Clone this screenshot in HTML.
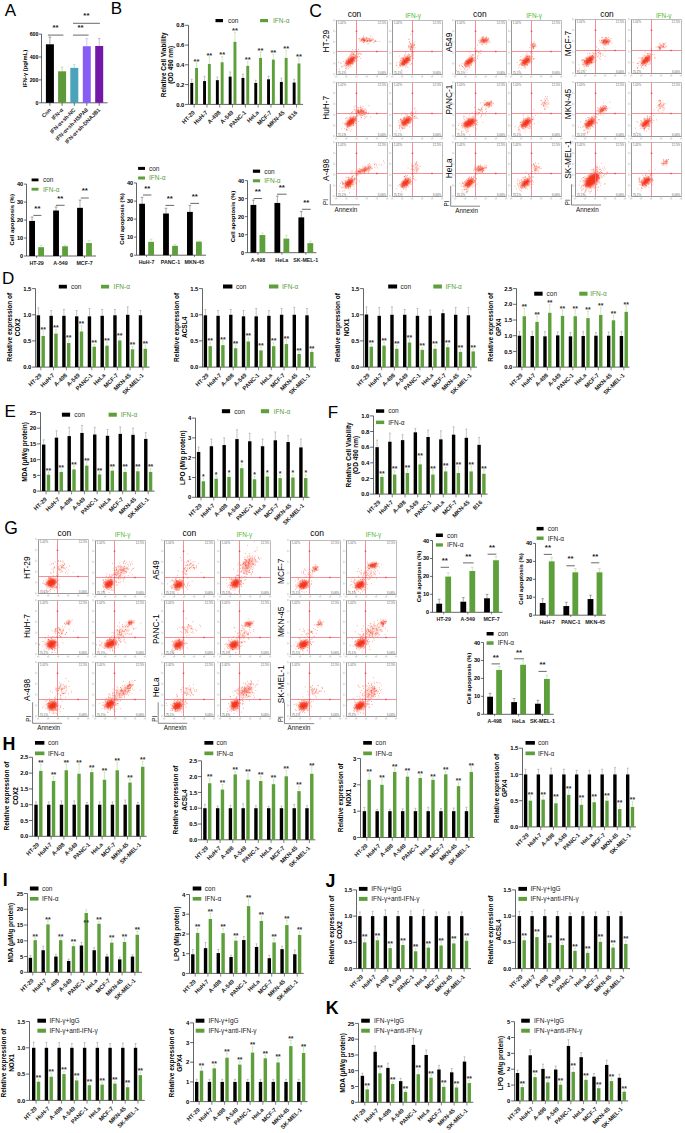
<!DOCTYPE html>
<html><head><meta charset="utf-8"><style>
html,body{margin:0;padding:0;background:#fff;width:685px;height:1133px;overflow:hidden}
svg{display:block}
text{font-family:"Liberation Sans",sans-serif}
</style></head><body>
<svg width="685" height="1133" viewBox="0 0 685 1133" font-family="Liberation Sans, sans-serif">
<defs><filter id="bl" x="-50%" y="-50%" width="200%" height="200%"><feGaussianBlur stdDeviation="0.9"/></filter></defs>
<text x="4.80" y="15.80" font-size="17" fill="#000">A</text>
<path d="M41.5 34.1V102.8H107.6M38.9 102.8H41.5M38.9 79.9H41.5M38.9 57.0H41.5M38.9 34.1H41.5" stroke="#333" stroke-width="0.75" fill="none"/>
<text x="38.30" y="104.67" font-size="5.2" text-anchor="end" font-weight="bold" fill="#000">0</text>
<text x="38.30" y="81.77" font-size="5.2" text-anchor="end" font-weight="bold" fill="#000">200</text>
<text x="38.30" y="58.87" font-size="5.2" text-anchor="end" font-weight="bold" fill="#000">400</text>
<text x="38.30" y="35.97" font-size="5.2" text-anchor="end" font-weight="bold" fill="#000">600</text>
<line x1="49.90" y1="44.29" x2="49.90" y2="37.08" stroke="#666" stroke-width="0.6"/>
<line x1="48.60" y1="37.08" x2="51.20" y2="37.08" stroke="#666" stroke-width="0.6"/>
<rect x="45.90" y="44.29" width="8.00" height="58.51" fill="#000"/>
<line x1="49.90" y1="102.80" x2="49.90" y2="105.80" stroke="#333" stroke-width="0.7"/>
<text x="51.50" y="110.40" font-size="5.5" text-anchor="end" font-weight="bold" fill="#1a1a1a" transform="rotate(-45 51.50 110.40)">Con</text>
<line x1="62.10" y1="71.31" x2="62.10" y2="67.19" stroke="#9fcb85" stroke-width="0.6"/>
<line x1="60.80" y1="67.19" x2="63.40" y2="67.19" stroke="#9fcb85" stroke-width="0.6"/>
<rect x="58.10" y="71.31" width="8.00" height="31.49" fill="#5d9b3a"/>
<line x1="62.10" y1="102.80" x2="62.10" y2="105.80" stroke="#333" stroke-width="0.7"/>
<text x="63.70" y="110.40" font-size="5.5" text-anchor="end" font-weight="bold" fill="#1a1a1a" transform="rotate(-45 63.70 110.40)">IFN-α</text>
<line x1="74.30" y1="67.88" x2="74.30" y2="64.67" stroke="#8fcbd8" stroke-width="0.6"/>
<line x1="73.00" y1="64.67" x2="75.60" y2="64.67" stroke="#8fcbd8" stroke-width="0.6"/>
<rect x="70.30" y="67.88" width="8.00" height="34.92" fill="#4aa3b8"/>
<line x1="74.30" y1="102.80" x2="74.30" y2="105.80" stroke="#333" stroke-width="0.7"/>
<text x="75.90" y="110.40" font-size="5.5" text-anchor="end" font-weight="bold" fill="#1a1a1a" transform="rotate(-45 75.90 110.40)">IFN-α+sh-NC</text>
<line x1="86.80" y1="46.24" x2="86.80" y2="38.57" stroke="#b9a0fb" stroke-width="0.6"/>
<line x1="85.50" y1="38.57" x2="88.10" y2="38.57" stroke="#b9a0fb" stroke-width="0.6"/>
<rect x="82.80" y="46.24" width="8.00" height="56.56" fill="#8a5cf6"/>
<line x1="86.80" y1="102.80" x2="86.80" y2="105.80" stroke="#333" stroke-width="0.7"/>
<text x="88.40" y="110.40" font-size="5.5" text-anchor="end" font-weight="bold" fill="#1a1a1a" transform="rotate(-45 88.40 110.40)">IFN-α+sh-HSPA8</text>
<line x1="99.20" y1="46.01" x2="99.20" y2="38.57" stroke="#b489d4" stroke-width="0.6"/>
<line x1="97.90" y1="38.57" x2="100.50" y2="38.57" stroke="#b489d4" stroke-width="0.6"/>
<rect x="95.20" y="46.01" width="8.00" height="56.79" fill="#7218a8"/>
<line x1="99.20" y1="102.80" x2="99.20" y2="105.80" stroke="#333" stroke-width="0.7"/>
<text x="100.80" y="110.40" font-size="5.5" text-anchor="end" font-weight="bold" fill="#1a1a1a" transform="rotate(-45 100.80 110.40)">IFN-α+sh-DNAJB1</text>
<line x1="47.90" y1="35.10" x2="63.40" y2="35.10" stroke="#444" stroke-width="0.8"/>
<line x1="73.00" y1="35.10" x2="88.60" y2="35.10" stroke="#444" stroke-width="0.8"/>
<line x1="73.00" y1="23.30" x2="99.90" y2="23.30" stroke="#444" stroke-width="0.8"/>
<text x="55.60" y="29.90" font-size="7.8" text-anchor="middle" font-weight="bold" fill="#222">**</text>
<text x="80.60" y="29.90" font-size="7.8" text-anchor="middle" font-weight="bold" fill="#222">**</text>
<text x="86.40" y="18.20" font-size="7.8" text-anchor="middle" font-weight="bold" fill="#222">**</text>
<text x="26.98" y="87.28" font-size="5.8" font-weight="bold" fill="#000" transform="rotate(-90 26.98 87.28)">IFN-γ (pg/mL)</text>
<text x="110.80" y="13.80" font-size="17" fill="#000">B</text>
<path d="M188.5 25.3V104.4H303.1M185.1 104.4H188.5M185.1 84.6H188.5M185.1 64.8H188.5M185.1 45.1H188.5M185.1 25.3H188.5" stroke="#333" stroke-width="0.75" fill="none"/>
<text x="184.40" y="106.52" font-size="5.9" text-anchor="end" font-weight="bold" fill="#000">0.0</text>
<text x="184.40" y="86.75" font-size="5.9" text-anchor="end" font-weight="bold" fill="#000">0.2</text>
<text x="184.40" y="66.97" font-size="5.9" text-anchor="end" font-weight="bold" fill="#000">0.4</text>
<text x="184.40" y="47.20" font-size="5.9" text-anchor="end" font-weight="bold" fill="#000">0.6</text>
<text x="184.40" y="27.42" font-size="5.9" text-anchor="end" font-weight="bold" fill="#000">0.8</text>
<line x1="191.75" y1="82.94" x2="191.75" y2="79.19" stroke="#8a8a8a" stroke-width="0.5"/>
<line x1="190.75" y1="79.19" x2="192.75" y2="79.19" stroke="#8a8a8a" stroke-width="0.5"/>
<rect x="190.30" y="82.94" width="2.90" height="21.46" fill="#000"/>
<line x1="196.55" y1="67.92" x2="196.55" y2="62.87" stroke="#a9d08e" stroke-width="0.5"/>
<line x1="195.55" y1="62.87" x2="197.55" y2="62.87" stroke="#a9d08e" stroke-width="0.5"/>
<rect x="195.10" y="67.92" width="2.90" height="36.48" fill="#5d9f3a"/>
<line x1="194.15" y1="104.40" x2="194.15" y2="107.60" stroke="#333" stroke-width="0.6"/>
<text x="196.55" y="63.57" font-size="7.6" text-anchor="middle" font-weight="bold" fill="#333">**</text>
<text x="195.35" y="113.00" font-size="5.8" text-anchor="end" font-weight="bold" fill="#1a1a1a" transform="rotate(-45 195.35 113.00)">HT-29</text>
<line x1="204.55" y1="81.07" x2="204.55" y2="76.32" stroke="#8a8a8a" stroke-width="0.5"/>
<line x1="203.55" y1="76.32" x2="205.55" y2="76.32" stroke="#8a8a8a" stroke-width="0.5"/>
<rect x="203.10" y="81.07" width="2.90" height="23.33" fill="#000"/>
<line x1="209.35" y1="63.96" x2="209.35" y2="56.94" stroke="#a9d08e" stroke-width="0.5"/>
<line x1="208.35" y1="56.94" x2="210.35" y2="56.94" stroke="#a9d08e" stroke-width="0.5"/>
<rect x="207.90" y="63.96" width="2.90" height="40.44" fill="#5d9f3a"/>
<line x1="206.95" y1="104.40" x2="206.95" y2="107.60" stroke="#333" stroke-width="0.6"/>
<text x="209.35" y="57.64" font-size="7.6" text-anchor="middle" font-weight="bold" fill="#333">**</text>
<text x="208.15" y="113.00" font-size="5.8" text-anchor="end" font-weight="bold" fill="#1a1a1a" transform="rotate(-45 208.15 113.00)">HuH-7</text>
<line x1="217.35" y1="80.18" x2="217.35" y2="77.11" stroke="#8a8a8a" stroke-width="0.5"/>
<line x1="216.35" y1="77.11" x2="218.35" y2="77.11" stroke="#8a8a8a" stroke-width="0.5"/>
<rect x="215.90" y="80.18" width="2.90" height="24.22" fill="#000"/>
<line x1="222.15" y1="62.28" x2="222.15" y2="56.35" stroke="#a9d08e" stroke-width="0.5"/>
<line x1="221.15" y1="56.35" x2="223.15" y2="56.35" stroke="#a9d08e" stroke-width="0.5"/>
<rect x="220.70" y="62.28" width="2.90" height="42.12" fill="#5d9f3a"/>
<line x1="219.75" y1="104.40" x2="219.75" y2="107.60" stroke="#333" stroke-width="0.6"/>
<text x="222.15" y="57.05" font-size="7.6" text-anchor="middle" font-weight="bold" fill="#333">**</text>
<text x="220.95" y="113.00" font-size="5.8" text-anchor="end" font-weight="bold" fill="#1a1a1a" transform="rotate(-45 220.95 113.00)">A-498</text>
<line x1="230.15" y1="76.62" x2="230.15" y2="71.97" stroke="#8a8a8a" stroke-width="0.5"/>
<line x1="229.15" y1="71.97" x2="231.15" y2="71.97" stroke="#8a8a8a" stroke-width="0.5"/>
<rect x="228.70" y="76.62" width="2.90" height="27.78" fill="#000"/>
<line x1="234.95" y1="41.81" x2="234.95" y2="32.22" stroke="#a9d08e" stroke-width="0.5"/>
<line x1="233.95" y1="32.22" x2="235.95" y2="32.22" stroke="#a9d08e" stroke-width="0.5"/>
<rect x="233.50" y="41.81" width="2.90" height="62.59" fill="#5d9f3a"/>
<line x1="232.55" y1="104.40" x2="232.55" y2="107.60" stroke="#333" stroke-width="0.6"/>
<text x="234.95" y="32.92" font-size="7.6" text-anchor="middle" font-weight="bold" fill="#333">**</text>
<text x="233.75" y="113.00" font-size="5.8" text-anchor="end" font-weight="bold" fill="#1a1a1a" transform="rotate(-45 233.75 113.00)">A-549</text>
<line x1="242.95" y1="77.90" x2="242.95" y2="74.14" stroke="#8a8a8a" stroke-width="0.5"/>
<line x1="241.95" y1="74.14" x2="243.95" y2="74.14" stroke="#8a8a8a" stroke-width="0.5"/>
<rect x="241.50" y="77.90" width="2.90" height="26.50" fill="#000"/>
<line x1="247.75" y1="65.84" x2="247.75" y2="61.78" stroke="#a9d08e" stroke-width="0.5"/>
<line x1="246.75" y1="61.78" x2="248.75" y2="61.78" stroke="#a9d08e" stroke-width="0.5"/>
<rect x="246.30" y="65.84" width="2.90" height="38.56" fill="#5d9f3a"/>
<line x1="245.35" y1="104.40" x2="245.35" y2="107.60" stroke="#333" stroke-width="0.6"/>
<text x="247.75" y="62.48" font-size="7.6" text-anchor="middle" font-weight="bold" fill="#333">**</text>
<text x="246.55" y="113.00" font-size="5.8" text-anchor="end" font-weight="bold" fill="#1a1a1a" transform="rotate(-45 246.55 113.00)">PANC-1</text>
<line x1="255.75" y1="82.94" x2="255.75" y2="80.27" stroke="#8a8a8a" stroke-width="0.5"/>
<line x1="254.75" y1="80.27" x2="256.75" y2="80.27" stroke="#8a8a8a" stroke-width="0.5"/>
<rect x="254.30" y="82.94" width="2.90" height="21.46" fill="#000"/>
<line x1="260.55" y1="57.93" x2="260.55" y2="52.00" stroke="#a9d08e" stroke-width="0.5"/>
<line x1="259.55" y1="52.00" x2="261.55" y2="52.00" stroke="#a9d08e" stroke-width="0.5"/>
<rect x="259.10" y="57.93" width="2.90" height="46.47" fill="#5d9f3a"/>
<line x1="258.15" y1="104.40" x2="258.15" y2="107.60" stroke="#333" stroke-width="0.6"/>
<text x="260.55" y="52.70" font-size="7.6" text-anchor="middle" font-weight="bold" fill="#333">**</text>
<text x="259.35" y="113.00" font-size="5.8" text-anchor="end" font-weight="bold" fill="#1a1a1a" transform="rotate(-45 259.35 113.00)">HeLa</text>
<line x1="268.55" y1="79.29" x2="268.55" y2="76.12" stroke="#8a8a8a" stroke-width="0.5"/>
<line x1="267.55" y1="76.12" x2="269.55" y2="76.12" stroke="#8a8a8a" stroke-width="0.5"/>
<rect x="267.10" y="79.29" width="2.90" height="25.11" fill="#000"/>
<line x1="273.35" y1="59.61" x2="273.35" y2="54.07" stroke="#a9d08e" stroke-width="0.5"/>
<line x1="272.35" y1="54.07" x2="274.35" y2="54.07" stroke="#a9d08e" stroke-width="0.5"/>
<rect x="271.90" y="59.61" width="2.90" height="44.79" fill="#5d9f3a"/>
<line x1="270.95" y1="104.40" x2="270.95" y2="107.60" stroke="#333" stroke-width="0.6"/>
<text x="273.35" y="54.77" font-size="7.6" text-anchor="middle" font-weight="bold" fill="#333">**</text>
<text x="272.15" y="113.00" font-size="5.8" text-anchor="end" font-weight="bold" fill="#1a1a1a" transform="rotate(-45 272.15 113.00)">MCF-7</text>
<line x1="281.35" y1="81.96" x2="281.35" y2="78.20" stroke="#8a8a8a" stroke-width="0.5"/>
<line x1="280.35" y1="78.20" x2="282.35" y2="78.20" stroke="#8a8a8a" stroke-width="0.5"/>
<rect x="279.90" y="81.96" width="2.90" height="22.44" fill="#000"/>
<line x1="286.15" y1="57.93" x2="286.15" y2="50.32" stroke="#a9d08e" stroke-width="0.5"/>
<line x1="285.15" y1="50.32" x2="287.15" y2="50.32" stroke="#a9d08e" stroke-width="0.5"/>
<rect x="284.70" y="57.93" width="2.90" height="46.47" fill="#5d9f3a"/>
<line x1="283.75" y1="104.40" x2="283.75" y2="107.60" stroke="#333" stroke-width="0.6"/>
<text x="286.15" y="51.02" font-size="7.6" text-anchor="middle" font-weight="bold" fill="#333">**</text>
<text x="284.95" y="113.00" font-size="5.8" text-anchor="end" font-weight="bold" fill="#1a1a1a" transform="rotate(-45 284.95 113.00)">MKN-45</text>
<line x1="294.15" y1="82.55" x2="294.15" y2="79.29" stroke="#8a8a8a" stroke-width="0.5"/>
<line x1="293.15" y1="79.29" x2="295.15" y2="79.29" stroke="#8a8a8a" stroke-width="0.5"/>
<rect x="292.70" y="82.55" width="2.90" height="21.85" fill="#000"/>
<line x1="298.95" y1="63.47" x2="298.95" y2="57.93" stroke="#a9d08e" stroke-width="0.5"/>
<line x1="297.95" y1="57.93" x2="299.95" y2="57.93" stroke="#a9d08e" stroke-width="0.5"/>
<rect x="297.50" y="63.47" width="2.90" height="40.93" fill="#5d9f3a"/>
<line x1="296.55" y1="104.40" x2="296.55" y2="107.60" stroke="#333" stroke-width="0.6"/>
<text x="298.95" y="58.63" font-size="7.6" text-anchor="middle" font-weight="bold" fill="#333">**</text>
<text x="297.75" y="113.00" font-size="5.8" text-anchor="end" font-weight="bold" fill="#1a1a1a" transform="rotate(-45 297.75 113.00)">B16</text>
<text x="165.74" y="97.18" font-size="6.45" font-weight="bold" fill="#000" transform="rotate(-90 165.74 97.18)">Relative Cell Viability</text>
<text x="173.34" y="83.80" font-size="6.45" font-weight="bold" fill="#000" transform="rotate(-90 173.34 83.80)">(OD 490 nm)</text>
<rect x="215.50" y="19.00" width="7.50" height="3.20" fill="#000"/>
<text x="227.90" y="22.94" font-size="6.5" fill="#1a1a1a">con</text>
<rect x="260.10" y="19.00" width="7.90" height="3.20" fill="#5d9f3a"/>
<text x="273.00" y="22.94" font-size="6.5" fill="#5a9d38">IFN-α</text>
<text x="309.20" y="17.00" font-size="17.5" fill="#000">C</text>
<text x="354.50" y="17.00" font-size="8.4" text-anchor="middle" fill="#000">con</text>
<text x="413.10" y="17.60" font-size="6.4" text-anchor="middle" fill="#4fb82a">IFN-γ</text>
<path d="M336.5 20.5H387.5V74.5" stroke="#b4b4b4" stroke-width="0.9" fill="none"/><path d="M336.5 20.5V74.5H387.5" stroke="#8c8c8c" stroke-width="0.9" fill="none"/>
<path d="M335.2 74.5h1.3M336.5 74.5v1.3M335.2 63.7h1.3M346.7 74.5v1.3M335.2 52.9h1.3M356.9 74.5v1.3M335.2 42.1h1.3M367.1 74.5v1.3M335.2 31.3h1.3M377.3 74.5v1.3M335.2 20.5h1.3M387.5 74.5v1.3" stroke="#aaa" stroke-width="0.4"/>
<path d="M334.9 76.8h2.4M333.9 73.1v2.2M345.1 76.8h2.4M333.9 62.3v2.2M355.3 76.8h2.4M333.9 51.5v2.2M365.5 76.8h2.4M333.9 40.7v2.2M375.7 76.8h2.4M333.9 29.9v2.2M385.9 76.8h2.4M333.9 19.1v2.2" stroke="#c4c4c4" stroke-width="0.9"/>
<g fill="#666" font-size="3"><text x="337.7" y="23.5">1.02%</text><text x="386.3" y="23.5" text-anchor="end">12.5%</text><text x="337.7" y="73.5">75.1%</text><text x="386.3" y="73.5" text-anchor="end">3.06%</text></g>
<ellipse cx="350.3" cy="61.0" rx="6.0" ry="2.8" transform="rotate(-42 350.3 61.0)" fill="#f5361c" fill-opacity="1.0" filter="url(#bl)"/>
<ellipse cx="363.0" cy="39.7" rx="2.0" ry="1.2" transform="rotate(0 363.0 39.7)" fill="#f5361c" fill-opacity="1.0" filter="url(#bl)"/>
<ellipse cx="368.1" cy="39.9" rx="5.0" ry="1.5" transform="rotate(0 368.1 39.9)" fill="#f5361c" fill-opacity="0.25" filter="url(#bl)"/>
<path d="M350.3 62.9h0M348.8 61.1h0M346.4 63.7h0M355.2 58.1h0M354.6 58.0h0M352.1 60.0h0M345.6 68.4h0M353.1 60.3h0M340.7 63.1h0M346.1 63.0h0M351.3 59.9h0M351.0 57.9h0M352.2 60.8h0M351.0 66.7h0M354.6 61.6h0M346.6 61.6h0M348.8 61.9h0M353.1 59.4h0M346.8 60.6h0M350.6 65.3h0M347.7 64.2h0M349.1 56.5h0M352.9 63.5h0M342.1 67.1h0M348.4 59.7h0M352.0 59.2h0M346.3 67.6h0M354.5 60.7h0M356.3 56.9h0M348.3 57.9h0M351.4 57.7h0M346.2 59.9h0M345.7 63.2h0M351.4 52.5h0M345.3 66.4h0M356.7 57.3h0M338.5 62.3h0M350.3 58.3h0M347.9 66.8h0M354.7 57.6h0M352.0 61.1h0M357.4 56.9h0M353.2 60.4h0M346.8 68.9h0M354.8 58.9h0M341.7 66.4h0M350.1 54.5h0M351.5 63.7h0M348.3 68.7h0M352.1 58.8h0M352.7 61.2h0M352.8 62.9h0M347.0 62.4h0M354.2 57.5h0M348.7 65.9h0M354.9 55.1h0M344.9 65.4h0M349.2 60.9h0M353.6 54.2h0M352.7 54.2h0M348.5 64.9h0M356.1 58.9h0M351.8 60.1h0M351.9 61.7h0M350.1 62.2h0M352.4 59.1h0M354.2 59.6h0M358.4 54.9h0M348.0 61.7h0M351.9 62.9h0M349.7 62.9h0M352.4 49.6h0M346.5 65.3h0M352.2 60.1h0M349.9 63.8h0M350.4 59.0h0M360.0 53.5h0M348.0 62.7h0M349.3 61.6h0M339.2 69.2h0M351.9 55.2h0M351.8 63.2h0M356.2 61.2h0M343.2 66.0h0M350.1 63.4h0M349.4 51.8h0M351.7 54.4h0M350.1 55.6h0M353.1 62.8h0M350.1 61.9h0M353.5 58.6h0M352.8 64.4h0M353.7 56.9h0M358.4 49.4h0M353.2 57.4h0M352.1 62.0h0M352.3 61.6h0M341.8 63.1h0M350.8 57.0h0M343.7 61.5h0M356.4 58.3h0M354.1 54.1h0M348.2 58.7h0M356.1 61.7h0M349.8 67.2h0M353.6 57.3h0M345.5 70.5h0M348.8 60.1h0M352.5 60.5h0M354.0 53.9h0M357.3 60.2h0M355.4 55.7h0M355.0 57.1h0M357.2 54.8h0M360.5 53.9h0M351.1 53.6h0M352.2 56.6h0M357.7 53.0h0M356.9 56.6h0M357.1 57.8h0M356.7 57.1h0M360.7 58.5h0M355.2 56.7h0M352.2 51.8h0M352.0 57.2h0M353.8 54.5h0M356.4 54.4h0M355.4 55.1h0M361.4 54.6h0M358.2 57.0h0M356.4 51.4h0M355.5 57.2h0M352.8 53.0h0M359.4 56.5h0M356.9 56.5h0M357.3 51.6h0M353.0 52.9h0M359.2 53.1h0M354.6 52.6h0M353.0 54.2h0M353.9 55.4h0M351.0 55.3h0M355.3 49.7h0M358.7 53.8h0M359.3 38.6h0M363.5 39.1h0M364.3 40.6h0M364.1 40.1h0M365.3 40.5h0M363.8 37.1h0M364.5 41.3h0M362.5 39.1h0M366.3 37.5h0M363.8 42.7h0M361.5 40.5h0M366.2 39.5h0M364.0 40.8h0M361.5 39.6h0M363.5 40.7h0M363.0 39.4h0M363.9 39.4h0M371.9 40.1h0M364.5 38.7h0M379.3 41.6h0M370.8 36.1h0M370.7 40.7h0M375.2 40.6h0M367.8 40.7h0M360.0 41.5h0M369.5 38.9h0M373.7 42.7h0M362.2 38.9h0M369.3 40.2h0M366.4 38.5h0M377.0 41.5h0M363.1 37.9h0M375.3 41.4h0M375.8 41.2h0M364.5 40.3h0M359.0 38.8h0M367.9 40.7h0M365.1 39.8h0M370.0 40.5h0M370.8 40.3h0M366.8 41.1h0M368.3 38.7h0M365.5 39.9h0M367.7 40.2h0M368.1 40.2h0M367.6 38.1h0M369.9 41.5h0M369.9 39.7h0M370.0 38.5h0M360.2 40.0h0M364.2 41.0h0M363.6 36.0h0M363.8 42.3h0M366.5 37.9h0M364.9 40.7h0M370.2 40.2h0M374.4 41.0h0M368.0 40.8h0M375.1 41.4h0M372.4 38.3h0M367.5 41.0h0M366.9 41.5h0M370.6 41.3h0M367.2 43.8h0M373.3 39.6h0M368.5 43.8h0M366.7 41.3h0M372.2 39.9h0M363.2 40.2h0M369.6 41.6h0M371.4 40.0h0M371.7 40.7h0" stroke="#f5361c" stroke-width="0.6" stroke-linecap="round" fill="none" stroke-opacity="0.8"/>
<path d="M356.5 20.5V74.5M336.5 51.5H387.5" stroke="#f2737b" stroke-width="0.8" fill="none"/>
<rect x="355.80" y="30.60" width="1.40" height="1.40" fill="#e8404a"/>
<rect x="376.09" y="50.80" width="1.40" height="1.40" fill="#e8404a"/>
<rect x="355.90" y="50.90" width="1.20" height="1.20" fill="#e8404a"/>
<path d="M392.5 20.5H442.5V74.5" stroke="#b4b4b4" stroke-width="0.9" fill="none"/><path d="M392.5 20.5V74.5H442.5" stroke="#8c8c8c" stroke-width="0.9" fill="none"/>
<path d="M391.2 74.5h1.3M392.5 74.5v1.3M391.2 63.7h1.3M402.5 74.5v1.3M391.2 52.9h1.3M412.5 74.5v1.3M391.2 42.1h1.3M422.5 74.5v1.3M391.2 31.3h1.3M432.5 74.5v1.3M391.2 20.5h1.3M442.5 74.5v1.3" stroke="#aaa" stroke-width="0.4"/>
<path d="M390.9 76.8h2.4M389.9 73.1v2.2M400.9 76.8h2.4M389.9 62.3v2.2M410.9 76.8h2.4M389.9 51.5v2.2M420.9 76.8h2.4M389.9 40.7v2.2M430.9 76.8h2.4M389.9 29.9v2.2M440.9 76.8h2.4M389.9 19.1v2.2" stroke="#c4c4c4" stroke-width="0.9"/>
<g fill="#666" font-size="3"><text x="393.7" y="23.5">1.02%</text><text x="441.3" y="23.5" text-anchor="end">12.5%</text><text x="393.7" y="73.5">75.1%</text><text x="441.3" y="73.5" text-anchor="end">3.06%</text></g>
<ellipse cx="405.5" cy="61.0" rx="6.0" ry="2.8" transform="rotate(-42 405.5 61.0)" fill="#f5361c" fill-opacity="1.0" filter="url(#bl)"/>
<ellipse cx="411.5" cy="46.4" rx="2.5" ry="3.5" transform="rotate(0 411.5 46.4)" fill="#f5361c" fill-opacity="0.15" filter="url(#bl)"/>
<path d="M406.4 60.4h0M405.9 63.2h0M400.4 63.3h0M402.8 58.0h0M400.2 58.4h0M404.0 64.5h0M407.5 59.0h0M402.0 58.9h0M413.3 55.9h0M408.0 55.5h0M401.5 57.9h0M410.1 60.3h0M398.3 67.3h0M404.6 55.3h0M396.7 65.0h0M400.6 60.3h0M406.1 61.4h0M409.2 60.3h0M413.3 58.3h0M399.7 64.4h0M399.5 62.4h0M405.2 61.3h0M404.4 56.1h0M400.8 65.1h0M404.2 61.0h0M403.9 59.7h0M408.8 59.4h0M403.9 59.9h0M399.8 56.0h0M401.9 64.4h0M400.2 66.5h0M403.5 57.7h0M404.0 61.2h0M408.3 60.7h0M403.8 59.4h0M404.8 61.4h0M408.8 59.1h0M400.3 60.7h0M402.7 60.7h0M401.1 64.5h0M403.9 62.9h0M406.7 58.4h0M413.6 52.5h0M409.9 57.5h0M405.3 52.4h0M403.1 64.0h0M412.1 63.7h0M409.1 62.5h0M410.1 60.4h0M407.1 59.0h0M405.4 57.1h0M408.1 54.9h0M410.3 64.5h0M404.7 61.8h0M409.9 57.1h0M403.0 64.3h0M409.0 60.5h0M405.8 67.2h0M411.8 55.4h0M405.7 59.2h0M409.5 54.8h0M407.1 57.7h0M404.2 64.8h0M410.5 56.5h0M404.5 64.9h0M405.9 61.8h0M413.3 58.2h0M407.8 67.4h0M407.0 62.6h0M403.0 63.1h0M402.2 70.6h0M408.4 53.9h0M396.9 62.8h0M409.1 56.1h0M404.7 60.6h0M403.0 59.2h0M402.9 58.0h0M405.8 61.9h0M406.8 58.9h0M402.4 64.4h0M406.6 65.8h0M408.2 58.2h0M402.4 61.2h0M401.3 63.4h0M407.6 61.1h0M411.5 63.4h0M402.9 63.4h0M412.5 47.8h0M403.9 63.1h0M406.8 61.3h0M405.3 62.6h0M407.1 62.4h0M396.8 65.6h0M403.6 58.9h0M402.7 65.8h0M404.2 64.5h0M408.9 59.1h0M407.2 59.1h0M400.2 65.7h0M406.2 58.4h0M406.5 62.9h0M403.4 65.3h0M411.5 53.6h0M405.8 60.2h0M411.9 56.5h0M407.6 56.6h0M405.4 61.0h0M401.5 69.9h0M405.7 54.4h0M408.0 58.2h0M407.9 60.2h0M399.5 65.6h0M414.6 44.4h0M409.4 41.7h0M408.9 47.6h0M415.1 47.9h0M412.0 54.2h0M410.4 44.1h0M412.6 48.3h0M409.4 42.3h0M412.1 47.3h0M408.8 45.7h0M410.4 48.0h0M411.3 46.1h0M410.8 50.1h0M414.4 45.1h0M413.3 43.8h0M411.7 49.0h0M414.7 45.1h0M411.3 47.1h0M408.4 46.5h0M410.1 47.7h0M409.1 39.5h0M411.6 47.3h0M410.3 49.5h0M410.9 44.3h0M412.5 40.9h0M410.1 46.3h0M413.3 45.9h0M412.1 44.1h0M412.1 52.2h0M410.1 54.7h0M410.1 46.5h0M411.9 50.0h0M408.9 39.1h0M412.8 49.2h0M412.8 55.6h0M411.9 47.3h0M413.5 47.7h0M415.0 42.1h0M410.7 34.4h0M413.2 45.1h0M413.4 54.0h0M411.5 45.5h0M410.5 43.5h0M410.2 48.7h0M411.6 46.7h0M411.1 49.6h0M412.5 45.9h0M412.9 45.9h0" stroke="#f5361c" stroke-width="0.6" stroke-linecap="round" fill="none" stroke-opacity="0.8"/>
<path d="M412.5 20.5V74.5M392.5 51.5H442.5" stroke="#f2737b" stroke-width="0.8" fill="none"/>
<rect x="411.80" y="30.60" width="1.40" height="1.40" fill="#e8404a"/>
<rect x="431.30" y="50.80" width="1.40" height="1.40" fill="#e8404a"/>
<rect x="411.90" y="50.90" width="1.20" height="1.20" fill="#e8404a"/>
<text x="328.76" y="52.39" font-size="8.3" fill="#000" transform="rotate(-90 328.76 52.39)">HT-29</text>
<path d="M336.5 82.5H387.5V136.5" stroke="#b4b4b4" stroke-width="0.9" fill="none"/><path d="M336.5 82.5V136.5H387.5" stroke="#8c8c8c" stroke-width="0.9" fill="none"/>
<path d="M335.2 136.5h1.3M336.5 136.5v1.3M335.2 125.7h1.3M346.7 136.5v1.3M335.2 114.9h1.3M356.9 136.5v1.3M335.2 104.1h1.3M367.1 136.5v1.3M335.2 93.3h1.3M377.3 136.5v1.3M335.2 82.5h1.3M387.5 136.5v1.3" stroke="#aaa" stroke-width="0.4"/>
<path d="M334.9 138.8h2.4M333.9 135.1v2.2M345.1 138.8h2.4M333.9 124.3v2.2M355.3 138.8h2.4M333.9 113.5v2.2M365.5 138.8h2.4M333.9 102.7v2.2M375.7 138.8h2.4M333.9 91.9v2.2M385.9 138.8h2.4M333.9 81.1v2.2" stroke="#c4c4c4" stroke-width="0.9"/>
<g fill="#666" font-size="3"><text x="337.7" y="85.5">1.02%</text><text x="386.3" y="85.5" text-anchor="end">12.5%</text><text x="337.7" y="135.5">75.1%</text><text x="386.3" y="135.5" text-anchor="end">3.06%</text></g>
<ellipse cx="350.8" cy="121.9" rx="6.0" ry="2.8" transform="rotate(-42 350.8 121.9)" fill="#f5361c" fill-opacity="1.0" filter="url(#bl)"/>
<ellipse cx="361.0" cy="112.2" rx="4.5" ry="2.5" transform="rotate(0 361.0 112.2)" fill="#f5361c" fill-opacity="0.45" filter="url(#bl)"/>
<path d="M349.1 128.8h0M350.8 118.4h0M355.5 119.0h0M347.9 130.5h0M353.7 122.6h0M351.2 120.9h0M346.8 129.1h0M350.4 121.2h0M352.2 120.9h0M352.6 118.9h0M346.7 117.7h0M350.4 124.7h0M355.1 116.7h0M353.2 125.6h0M350.9 124.5h0M357.1 116.3h0M354.1 116.3h0M351.4 121.1h0M353.3 123.8h0M358.5 112.5h0M349.5 124.9h0M347.7 126.5h0M352.4 119.4h0M349.9 117.0h0M350.8 116.2h0M347.1 123.1h0M350.9 125.0h0M350.4 120.8h0M355.7 123.3h0M351.5 122.6h0M355.9 118.3h0M350.6 131.3h0M355.4 110.4h0M351.4 122.9h0M355.6 120.0h0M347.8 120.7h0M353.1 123.7h0M344.8 123.5h0M347.1 118.0h0M349.0 121.9h0M351.2 119.0h0M346.8 124.1h0M349.4 120.7h0M352.2 123.4h0M358.4 121.4h0M347.1 123.7h0M345.0 134.2h0M348.0 124.3h0M350.2 117.4h0M352.5 120.3h0M344.5 128.7h0M351.8 114.1h0M354.2 119.6h0M353.4 121.2h0M355.3 117.1h0M353.3 118.1h0M352.0 117.8h0M353.6 125.8h0M352.2 120.1h0M345.0 124.2h0M353.2 123.2h0M353.3 121.6h0M353.1 124.8h0M348.3 122.1h0M354.2 119.1h0M348.7 121.7h0M351.0 124.1h0M349.9 118.3h0M352.7 120.8h0M348.5 126.9h0M349.1 122.2h0M356.2 121.9h0M349.0 125.1h0M351.8 129.6h0M351.1 126.0h0M349.8 125.8h0M354.4 109.2h0M350.1 124.4h0M349.2 120.9h0M359.0 114.8h0M346.2 129.2h0M346.4 130.1h0M348.9 124.2h0M355.7 117.9h0M342.4 123.1h0M356.6 119.4h0M349.3 126.4h0M353.8 121.6h0M341.8 128.9h0M355.5 120.4h0M349.6 113.9h0M352.3 122.4h0M358.6 111.4h0M349.6 123.1h0M353.3 118.0h0M353.6 116.4h0M350.8 119.9h0M350.1 120.0h0M346.8 129.5h0M350.9 119.8h0M353.4 123.3h0M346.9 125.0h0M353.8 121.2h0M345.6 118.7h0M356.0 118.4h0M350.3 121.3h0M351.0 120.2h0M345.6 123.9h0M347.4 122.7h0M347.6 127.1h0M347.1 127.7h0M347.6 126.1h0M366.2 112.7h0M358.2 112.3h0M361.5 107.9h0M358.7 112.6h0M359.2 112.4h0M363.8 114.1h0M364.4 113.7h0M359.9 112.2h0M360.0 111.4h0M360.3 107.9h0M359.7 112.1h0M357.3 112.1h0M362.9 111.8h0M368.8 105.7h0M360.2 107.6h0M364.7 118.8h0M351.5 112.5h0M362.9 111.4h0M363.1 106.6h0M364.2 113.1h0M361.1 110.7h0M363.4 111.0h0M361.8 110.9h0M352.5 112.1h0M361.7 114.1h0M357.7 112.1h0M363.3 112.6h0M365.7 117.2h0M357.5 107.4h0M364.2 116.0h0M364.5 114.2h0M358.6 110.4h0M364.3 109.9h0M354.1 109.7h0M370.4 117.0h0M358.4 110.4h0M361.9 110.3h0M365.9 112.0h0M356.9 115.5h0M358.8 112.8h0M360.9 111.4h0M362.2 110.5h0M354.0 106.7h0M356.2 110.3h0M360.9 112.3h0M363.1 112.5h0M358.0 110.4h0M353.0 111.8h0M362.8 113.5h0M360.5 111.8h0M364.5 112.2h0M363.8 113.7h0M361.8 115.5h0M358.8 111.3h0M357.9 110.2h0M366.9 116.6h0M361.1 113.6h0M365.4 114.2h0M365.5 109.0h0M358.6 113.3h0M366.4 112.5h0M357.7 111.3h0M358.5 110.1h0M366.7 110.6h0M361.1 117.6h0M365.5 113.0h0M358.7 113.2h0M367.1 113.8h0M365.7 112.4h0M362.9 111.7h0M362.6 115.5h0M355.6 112.0h0M361.9 110.8h0M359.8 114.2h0M368.5 113.8h0M362.2 108.3h0M368.3 112.4h0M360.9 109.4h0M360.8 109.5h0M361.2 113.4h0M361.1 112.9h0M357.8 115.8h0M358.5 107.7h0M360.3 110.3h0M357.2 111.3h0M362.1 109.2h0M360.5 115.8h0M363.6 111.8h0M361.5 111.9h0M360.8 114.0h0M360.6 106.2h0M360.9 110.0h0M363.4 110.7h0M361.5 117.6h0M357.0 109.4h0M355.6 106.2h0" stroke="#f5361c" stroke-width="0.6" stroke-linecap="round" fill="none" stroke-opacity="0.8"/>
<path d="M356.5 82.5V136.5M336.5 113.5H387.5" stroke="#f2737b" stroke-width="0.8" fill="none"/>
<rect x="355.80" y="92.60" width="1.40" height="1.40" fill="#e8404a"/>
<rect x="376.09" y="112.80" width="1.40" height="1.40" fill="#e8404a"/>
<rect x="355.90" y="112.90" width="1.20" height="1.20" fill="#e8404a"/>
<path d="M392.5 82.5H442.5V136.5" stroke="#b4b4b4" stroke-width="0.9" fill="none"/><path d="M392.5 82.5V136.5H442.5" stroke="#8c8c8c" stroke-width="0.9" fill="none"/>
<path d="M391.2 136.5h1.3M392.5 136.5v1.3M391.2 125.7h1.3M402.5 136.5v1.3M391.2 114.9h1.3M412.5 136.5v1.3M391.2 104.1h1.3M422.5 136.5v1.3M391.2 93.3h1.3M432.5 136.5v1.3M391.2 82.5h1.3M442.5 136.5v1.3" stroke="#aaa" stroke-width="0.4"/>
<path d="M390.9 138.8h2.4M389.9 135.1v2.2M400.9 138.8h2.4M389.9 124.3v2.2M410.9 138.8h2.4M389.9 113.5v2.2M420.9 138.8h2.4M389.9 102.7v2.2M430.9 138.8h2.4M389.9 91.9v2.2M440.9 138.8h2.4M389.9 81.1v2.2" stroke="#c4c4c4" stroke-width="0.9"/>
<g fill="#666" font-size="3"><text x="393.7" y="85.5">1.02%</text><text x="441.3" y="85.5" text-anchor="end">12.5%</text><text x="393.7" y="135.5">75.1%</text><text x="441.3" y="135.5" text-anchor="end">3.06%</text></g>
<ellipse cx="406.0" cy="121.4" rx="6.0" ry="2.8" transform="rotate(-42 406.0 121.4)" fill="#f5361c" fill-opacity="1.0" filter="url(#bl)"/>
<path d="M399.6 128.5h0M400.2 119.7h0M401.6 127.6h0M402.4 123.2h0M409.7 123.0h0M415.2 116.9h0M406.9 121.3h0M415.4 118.2h0M405.7 123.4h0M407.2 120.5h0M401.7 120.4h0M401.2 120.0h0M411.6 118.3h0M404.1 128.3h0M405.8 114.5h0M414.4 116.8h0M411.5 111.9h0M408.8 120.5h0M407.1 121.0h0M407.2 114.8h0M398.8 122.7h0M402.8 122.0h0M407.9 120.7h0M404.9 119.9h0M406.1 124.8h0M409.0 119.0h0M407.6 125.6h0M405.0 124.7h0M409.8 116.9h0M407.0 116.3h0M410.2 118.4h0M401.3 128.1h0M405.0 127.0h0M403.2 123.3h0M406.4 119.7h0M406.0 119.4h0M408.5 119.1h0M401.7 115.0h0M410.4 117.5h0M399.5 127.6h0M409.7 122.0h0M404.8 128.2h0M409.8 126.8h0M406.7 123.3h0M402.6 120.3h0M411.8 119.5h0M413.3 117.9h0M400.8 119.9h0M402.3 122.2h0M404.0 125.3h0M406.7 119.7h0M406.4 120.5h0M408.2 122.2h0M408.3 116.7h0M403.0 129.4h0M408.5 123.3h0M399.2 126.2h0M403.4 118.3h0M405.4 124.6h0M413.0 121.0h0M400.2 121.4h0M409.7 121.5h0M404.3 118.1h0M410.4 120.4h0M407.2 118.5h0M408.6 122.0h0M400.5 119.5h0M408.1 121.3h0M407.7 123.2h0M403.7 123.2h0M405.9 123.6h0M411.5 115.5h0M416.5 117.6h0M410.0 119.9h0M412.3 115.0h0M403.6 119.6h0M410.2 122.5h0M408.8 120.4h0M405.6 122.4h0M402.6 128.3h0M402.4 120.5h0M401.7 122.2h0M411.2 120.7h0M402.6 127.9h0M408.3 117.2h0M399.1 124.9h0M404.3 124.2h0M400.9 118.4h0M404.1 117.5h0M407.2 115.9h0M401.8 122.0h0M406.4 125.9h0M410.3 119.7h0M404.3 117.1h0M403.0 122.0h0M403.3 125.7h0M401.9 122.4h0M398.3 120.7h0M410.7 122.1h0M404.9 118.8h0M396.2 130.9h0M411.1 117.9h0M412.2 121.3h0M409.4 116.7h0M411.4 119.4h0M399.5 125.7h0M400.5 126.0h0M406.2 117.2h0M400.7 131.0h0M410.1 123.1h0M403.0 128.0h0M417.5 118.5h0M413.1 112.9h0M413.2 114.7h0M415.7 112.4h0M410.6 114.1h0M412.5 113.8h0M414.1 116.3h0M415.9 111.1h0M414.2 116.6h0M412.4 113.3h0M416.0 115.3h0M414.6 108.9h0M410.9 112.8h0M414.3 118.6h0M411.7 115.0h0M415.1 108.0h0M411.8 112.6h0" stroke="#f5361c" stroke-width="0.6" stroke-linecap="round" fill="none" stroke-opacity="0.8"/>
<path d="M412.5 82.5V136.5M392.5 113.5H442.5" stroke="#f2737b" stroke-width="0.8" fill="none"/>
<rect x="411.80" y="92.60" width="1.40" height="1.40" fill="#e8404a"/>
<rect x="431.30" y="112.80" width="1.40" height="1.40" fill="#e8404a"/>
<rect x="411.90" y="112.90" width="1.20" height="1.20" fill="#e8404a"/>
<text x="328.72" y="119.79" font-size="8.3" fill="#000" transform="rotate(-90 328.72 119.79)">HuH-7</text>
<path d="M336.5 142.5H387.5V196.5" stroke="#b4b4b4" stroke-width="0.9" fill="none"/><path d="M336.5 142.5V196.5H387.5" stroke="#8c8c8c" stroke-width="0.9" fill="none"/>
<path d="M335.2 196.5h1.3M336.5 196.5v1.3M335.2 185.7h1.3M346.7 196.5v1.3M335.2 174.9h1.3M356.9 196.5v1.3M335.2 164.1h1.3M367.1 196.5v1.3M335.2 153.3h1.3M377.3 196.5v1.3M335.2 142.5h1.3M387.5 196.5v1.3" stroke="#aaa" stroke-width="0.4"/>
<path d="M334.9 198.8h2.4M333.9 195.1v2.2M345.1 198.8h2.4M333.9 184.3v2.2M355.3 198.8h2.4M333.9 173.5v2.2M365.5 198.8h2.4M333.9 162.7v2.2M375.7 198.8h2.4M333.9 151.9v2.2M385.9 198.8h2.4M333.9 141.1v2.2" stroke="#c4c4c4" stroke-width="0.9"/>
<g fill="#666" font-size="3"><text x="337.7" y="145.5">1.02%</text><text x="386.3" y="145.5" text-anchor="end">12.5%</text><text x="337.7" y="195.5">75.1%</text><text x="386.3" y="195.5" text-anchor="end">3.06%</text></g>
<ellipse cx="349.2" cy="183.0" rx="5.5" ry="3.0" transform="rotate(-42 349.2 183.0)" fill="#f5361c" fill-opacity="1.0" filter="url(#bl)"/>
<ellipse cx="364.0" cy="170.0" rx="8.5" ry="1.8" transform="rotate(-22 364.0 170.0)" fill="#f5361c" fill-opacity="0.7" filter="url(#bl)"/>
<path d="M347.2 184.2h0M349.2 179.7h0M349.6 180.1h0M348.5 185.9h0M347.9 185.4h0M354.8 178.1h0M350.2 185.1h0M350.2 186.5h0M346.1 188.3h0M345.9 182.8h0M353.6 175.6h0M356.6 179.0h0M352.3 176.3h0M356.3 182.5h0M348.6 183.1h0M358.0 175.8h0M346.5 182.9h0M351.4 182.4h0M353.3 186.3h0M349.1 185.1h0M352.2 176.3h0M356.5 183.9h0M342.4 184.7h0M342.0 182.1h0M347.1 177.5h0M353.9 184.7h0M343.1 187.3h0M344.2 190.7h0M346.2 184.7h0M350.5 184.0h0M348.1 184.1h0M347.6 184.9h0M345.4 186.8h0M341.6 187.9h0M356.0 177.3h0M345.4 187.5h0M342.6 182.3h0M348.2 186.9h0M350.4 181.6h0M343.9 183.5h0M354.4 179.4h0M341.7 181.2h0M349.5 192.8h0M345.2 186.4h0M349.7 182.0h0M345.5 180.8h0M349.0 190.0h0M348.4 187.2h0M342.9 187.6h0M352.2 184.5h0M346.6 187.8h0M349.1 180.2h0M349.1 179.5h0M346.5 185.4h0M339.7 191.1h0M342.9 182.8h0M349.3 186.0h0M350.4 187.1h0M342.6 183.7h0M355.4 179.1h0M350.8 178.2h0M352.5 181.1h0M351.5 181.1h0M352.1 177.8h0M343.0 182.7h0M351.8 177.8h0M343.8 184.1h0M345.2 181.5h0M347.0 182.5h0M345.4 182.6h0M348.5 181.9h0M350.1 183.2h0M346.0 177.1h0M345.8 182.9h0M348.7 177.1h0M346.2 184.6h0M350.1 186.2h0M349.7 186.5h0M340.6 183.5h0M354.3 180.2h0M351.2 181.8h0M348.5 178.8h0M351.4 178.9h0M352.8 180.1h0M339.9 186.2h0M352.8 179.2h0M348.4 184.8h0M346.7 183.1h0M349.9 183.0h0M354.5 178.4h0M359.3 181.2h0M357.3 180.1h0M350.0 182.9h0M347.3 181.8h0M347.7 181.8h0M356.0 179.1h0M343.9 180.1h0M348.2 182.2h0M343.2 183.8h0M342.7 191.2h0M354.2 189.0h0M348.8 182.8h0M354.5 178.8h0M349.1 181.7h0M350.2 188.2h0M356.1 183.7h0M348.1 184.1h0M348.2 187.9h0M345.6 188.6h0M355.8 182.8h0M348.2 188.3h0M345.3 183.5h0M356.0 175.5h0M374.6 164.7h0M358.8 171.5h0M381.3 165.0h0M359.3 168.6h0M360.4 173.8h0M376.2 164.6h0M359.1 171.1h0M352.2 176.6h0M357.5 174.7h0M351.9 172.5h0M365.4 168.0h0M369.2 168.0h0M356.7 174.2h0M368.4 164.7h0M376.5 166.0h0M367.9 165.0h0M359.0 171.4h0M370.2 164.8h0M356.9 169.1h0M362.7 171.2h0M352.5 173.6h0M368.5 171.2h0M368.2 167.8h0M355.6 171.7h0M359.7 172.1h0M364.8 172.9h0M365.2 167.5h0M374.9 167.4h0M364.2 168.6h0M351.0 173.4h0M369.5 166.3h0M355.4 173.9h0M366.1 170.4h0M369.3 170.6h0M359.1 173.9h0M358.0 173.8h0M365.4 170.0h0M370.4 167.4h0M372.0 168.5h0M364.6 168.8h0M358.7 171.2h0M362.7 170.5h0M384.2 163.1h0M368.6 166.6h0M359.1 171.4h0M364.6 167.8h0M374.3 164.8h0M369.6 163.4h0M364.2 170.5h0M365.7 170.5h0M366.0 169.6h0M351.0 173.9h0M348.9 177.3h0M365.9 168.9h0M358.2 171.3h0M377.4 167.9h0M364.5 172.3h0M352.3 171.1h0M360.3 169.9h0M360.5 171.8h0M383.6 160.9h0M364.5 170.4h0M364.4 171.6h0M375.0 163.3h0M364.9 169.2h0M365.4 166.6h0M350.9 171.0h0M367.6 168.9h0M363.0 166.0h0M361.1 169.8h0M354.1 172.3h0M369.0 169.1h0M364.2 170.9h0M360.1 171.8h0M364.7 170.8h0M363.5 170.0h0M362.7 169.4h0M379.2 164.9h0M368.4 172.6h0" stroke="#f5361c" stroke-width="0.6" stroke-linecap="round" fill="none" stroke-opacity="0.8"/>
<path d="M356.5 142.5V196.5M336.5 173.5H387.5" stroke="#f2737b" stroke-width="0.8" fill="none"/>
<rect x="355.80" y="152.60" width="1.40" height="1.40" fill="#e8404a"/>
<rect x="376.09" y="172.80" width="1.40" height="1.40" fill="#e8404a"/>
<rect x="355.90" y="172.90" width="1.20" height="1.20" fill="#e8404a"/>
<path d="M392.5 142.5H442.5V196.5" stroke="#b4b4b4" stroke-width="0.9" fill="none"/><path d="M392.5 142.5V196.5H442.5" stroke="#8c8c8c" stroke-width="0.9" fill="none"/>
<path d="M391.2 196.5h1.3M392.5 196.5v1.3M391.2 185.7h1.3M402.5 196.5v1.3M391.2 174.9h1.3M412.5 196.5v1.3M391.2 164.1h1.3M422.5 196.5v1.3M391.2 153.3h1.3M432.5 196.5v1.3M391.2 142.5h1.3M442.5 196.5v1.3" stroke="#aaa" stroke-width="0.4"/>
<path d="M390.9 198.8h2.4M389.9 195.1v2.2M400.9 198.8h2.4M389.9 184.3v2.2M410.9 198.8h2.4M389.9 173.5v2.2M420.9 198.8h2.4M389.9 162.7v2.2M430.9 198.8h2.4M389.9 151.9v2.2M440.9 198.8h2.4M389.9 141.1v2.2" stroke="#c4c4c4" stroke-width="0.9"/>
<g fill="#666" font-size="3"><text x="393.7" y="145.5">1.02%</text><text x="441.3" y="145.5" text-anchor="end">12.5%</text><text x="393.7" y="195.5">75.1%</text><text x="441.3" y="195.5" text-anchor="end">3.06%</text></g>
<ellipse cx="405.5" cy="183.0" rx="5.5" ry="2.8" transform="rotate(-42 405.5 183.0)" fill="#f5361c" fill-opacity="1.0" filter="url(#bl)"/>
<ellipse cx="415.5" cy="167.9" rx="3.5" ry="3.0" transform="rotate(0 415.5 167.9)" fill="#f5361c" fill-opacity="0.1" filter="url(#bl)"/>
<path d="M407.5 175.5h0M409.4 182.6h0M414.4 179.9h0M406.0 178.2h0M403.0 186.2h0M405.4 179.4h0M403.4 183.4h0M406.3 183.5h0M402.2 181.4h0M412.7 182.4h0M407.0 185.4h0M408.2 183.0h0M405.7 180.0h0M409.3 183.3h0M406.0 189.8h0M416.0 180.3h0M413.7 178.4h0M403.2 182.8h0M402.9 185.8h0M406.6 184.5h0M402.8 194.0h0M413.3 175.9h0M408.7 181.9h0M406.1 181.7h0M403.6 181.7h0M406.1 182.4h0M405.0 180.3h0M405.7 183.0h0M405.6 179.0h0M408.7 183.7h0M406.9 180.4h0M403.4 184.0h0M410.9 183.9h0M403.8 182.2h0M407.2 182.3h0M401.0 184.3h0M406.4 184.7h0M399.5 184.6h0M405.0 179.0h0M406.5 183.4h0M403.2 181.3h0M404.7 182.5h0M405.1 180.2h0M406.2 176.2h0M404.9 183.6h0M407.7 178.8h0M406.3 180.2h0M411.2 184.3h0M404.9 185.1h0M404.1 187.9h0M409.7 179.3h0M402.3 187.3h0M411.5 181.7h0M404.9 176.7h0M405.8 188.0h0M403.4 189.1h0M413.4 178.7h0M408.7 178.9h0M401.1 186.6h0M404.7 183.5h0M407.6 180.6h0M406.9 183.3h0M408.9 186.8h0M407.2 181.8h0M403.6 182.4h0M410.4 179.2h0M400.8 185.2h0M404.2 182.5h0M407.1 177.3h0M407.5 181.8h0M401.5 186.7h0M406.1 184.3h0M404.5 185.0h0M397.8 185.9h0M410.1 182.7h0M404.4 181.8h0M405.4 175.4h0M404.0 186.8h0M405.8 178.9h0M401.7 191.8h0M404.4 180.7h0M407.3 184.7h0M398.6 193.3h0M404.2 176.5h0M404.9 177.0h0M410.1 180.3h0M412.1 174.8h0M407.4 185.1h0M402.0 183.5h0M404.1 184.0h0M402.7 187.3h0M407.5 181.5h0M410.7 177.1h0M409.0 177.8h0M404.5 176.7h0M405.9 182.0h0M402.7 183.3h0M403.0 182.6h0M396.9 188.6h0M402.6 183.6h0M401.6 186.0h0M407.7 180.1h0M406.3 187.3h0M410.6 181.9h0M408.9 178.8h0M407.1 185.7h0M403.4 184.5h0M407.5 182.6h0M406.4 185.9h0M406.2 185.0h0M410.4 181.0h0M405.9 178.4h0M411.6 166.0h0M416.9 172.4h0M411.9 168.8h0M413.0 165.7h0M414.7 170.0h0M416.1 171.4h0M412.6 170.5h0M418.2 168.1h0M416.9 166.2h0M412.3 166.7h0M413.6 176.6h0M414.1 172.8h0M416.1 168.8h0M417.7 165.5h0M418.2 169.0h0M411.0 169.7h0M417.1 169.2h0M420.2 166.6h0M417.0 170.1h0M412.9 171.5h0M411.2 164.0h0M417.0 164.6h0M415.2 162.9h0M415.7 164.5h0M416.5 163.3h0M416.8 167.1h0M415.7 167.7h0M415.9 163.9h0M408.0 168.0h0M412.7 166.5h0M416.8 161.9h0M413.3 166.0h0M412.4 168.9h0M415.1 165.4h0M412.6 170.3h0M413.6 169.6h0M416.8 162.2h0M412.3 167.9h0M416.5 170.2h0M417.9 171.0h0" stroke="#f5361c" stroke-width="0.6" stroke-linecap="round" fill="none" stroke-opacity="0.8"/>
<path d="M412.5 142.5V196.5M392.5 173.5H442.5" stroke="#f2737b" stroke-width="0.8" fill="none"/>
<rect x="411.80" y="152.60" width="1.40" height="1.40" fill="#e8404a"/>
<rect x="431.30" y="172.80" width="1.40" height="1.40" fill="#e8404a"/>
<rect x="411.90" y="172.90" width="1.20" height="1.20" fill="#e8404a"/>
<text x="328.76" y="181.08" font-size="8.3" fill="#000" transform="rotate(-90 328.76 181.08)">A-498</text>
<text x="479.80" y="17.00" font-size="8.4" text-anchor="middle" fill="#000">con</text>
<text x="534.10" y="17.60" font-size="6.4" text-anchor="middle" fill="#4fb82a">IFN-γ</text>
<path d="M455.5 20.5H506.5V74.5" stroke="#b4b4b4" stroke-width="0.9" fill="none"/><path d="M455.5 20.5V74.5H506.5" stroke="#8c8c8c" stroke-width="0.9" fill="none"/>
<path d="M454.2 74.5h1.3M455.5 74.5v1.3M454.2 63.7h1.3M465.7 74.5v1.3M454.2 52.9h1.3M475.9 74.5v1.3M454.2 42.1h1.3M486.1 74.5v1.3M454.2 31.3h1.3M496.3 74.5v1.3M454.2 20.5h1.3M506.5 74.5v1.3" stroke="#aaa" stroke-width="0.4"/>
<path d="M453.9 76.8h2.4M452.9 73.1v2.2M464.1 76.8h2.4M452.9 62.3v2.2M474.3 76.8h2.4M452.9 51.5v2.2M484.5 76.8h2.4M452.9 40.7v2.2M494.7 76.8h2.4M452.9 29.9v2.2M504.9 76.8h2.4M452.9 19.1v2.2" stroke="#c4c4c4" stroke-width="0.9"/>
<g fill="#666" font-size="3"><text x="456.7" y="23.5">1.02%</text><text x="505.3" y="23.5" text-anchor="end">12.5%</text><text x="456.7" y="73.5">75.1%</text><text x="505.3" y="73.5" text-anchor="end">3.06%</text></g>
<ellipse cx="469.3" cy="61.5" rx="5.5" ry="2.5" transform="rotate(-42 469.3 61.5)" fill="#f5361c" fill-opacity="1.0" filter="url(#bl)"/>
<ellipse cx="484.1" cy="40.5" rx="4.0" ry="2.0" transform="rotate(-10 484.1 40.5)" fill="#f5361c" fill-opacity="0.85" filter="url(#bl)"/>
<path d="M467.6 62.3h0M471.2 58.4h0M470.2 55.3h0M471.2 59.2h0M464.2 69.4h0M470.4 60.6h0M464.8 64.0h0M473.1 55.3h0M464.9 65.0h0M466.4 61.1h0M468.1 66.1h0M467.6 69.6h0M465.6 61.2h0M472.9 60.2h0M466.9 66.2h0M461.4 65.5h0M472.7 57.6h0M465.7 66.5h0M472.4 58.7h0M462.5 66.5h0M472.0 61.7h0M475.2 55.3h0M467.5 63.0h0M471.8 56.1h0M469.2 52.4h0M470.9 57.8h0M472.0 61.4h0M465.1 65.0h0M471.1 61.9h0M464.4 62.6h0M466.9 72.2h0M468.2 61.7h0M465.7 67.9h0M469.8 65.9h0M472.2 58.9h0M469.9 57.2h0M467.2 61.5h0M464.9 65.5h0M471.2 64.7h0M456.6 70.7h0M465.3 63.5h0M471.4 61.0h0M468.6 60.6h0M471.6 60.7h0M462.5 66.7h0M462.6 63.6h0M469.9 61.2h0M468.2 59.6h0M467.1 60.5h0M471.7 61.6h0M477.4 58.5h0M465.7 63.2h0M466.6 65.0h0M477.3 56.7h0M459.6 66.0h0M465.7 66.5h0M469.8 62.1h0M474.0 54.5h0M469.6 67.8h0M469.1 59.0h0M459.8 65.0h0M461.0 69.2h0M471.1 63.2h0M467.6 60.7h0M469.9 67.4h0M463.5 67.3h0M470.4 62.6h0M468.7 63.7h0M471.8 58.7h0M467.4 62.6h0M465.6 64.1h0M468.6 62.9h0M476.0 59.8h0M468.7 64.0h0M471.6 62.0h0M469.8 62.0h0M466.3 61.5h0M474.4 61.3h0M472.3 60.3h0M469.4 59.9h0M464.3 68.3h0M469.0 59.9h0M468.1 66.9h0M466.0 70.4h0M475.4 64.0h0M466.8 63.7h0M467.8 63.4h0M467.3 60.8h0M471.6 56.8h0M468.5 64.1h0M466.7 62.4h0M469.9 59.8h0M464.8 65.2h0M471.4 65.4h0M467.1 66.7h0M466.0 63.3h0M468.6 63.1h0M475.2 62.1h0M469.3 66.0h0M474.0 60.0h0M468.2 65.6h0M469.5 62.5h0M469.5 63.6h0M475.0 60.2h0M470.2 64.0h0M472.7 55.3h0M472.1 54.5h0M472.1 61.0h0M474.8 57.5h0M466.3 61.5h0M466.3 66.8h0M483.0 39.2h0M485.6 38.7h0M482.5 39.8h0M490.0 42.4h0M483.0 37.5h0M485.0 40.5h0M485.4 41.4h0M483.3 42.5h0M486.9 40.4h0M482.5 39.8h0M486.0 37.9h0M483.3 39.1h0M479.7 42.5h0M484.0 40.6h0M486.4 37.0h0M483.9 41.1h0M486.4 37.9h0M486.5 40.5h0M488.9 41.9h0M486.6 44.4h0M483.9 39.6h0M482.6 38.8h0M483.3 36.8h0M483.9 41.4h0M487.2 39.2h0M488.4 38.4h0M483.0 36.9h0M481.3 39.4h0M489.1 40.6h0M480.7 42.1h0M485.5 39.8h0M484.0 39.9h0M481.7 37.4h0M484.2 43.0h0M488.6 39.1h0M481.6 40.5h0M487.1 40.6h0M482.3 41.5h0M483.6 41.6h0M482.2 37.9h0M484.5 41.9h0M480.4 40.9h0M486.8 39.3h0M482.6 44.7h0M487.1 42.0h0M481.6 44.2h0M478.5 40.4h0M486.9 42.6h0M474.6 48.8h0M477.4 45.1h0M478.5 52.4h0M475.8 52.3h0M478.8 51.6h0M478.2 55.2h0M475.8 51.2h0M475.6 53.8h0M475.9 52.1h0M477.3 50.9h0M481.1 50.5h0M480.4 53.1h0M480.1 50.3h0M479.2 52.9h0M475.4 51.5h0M476.6 50.6h0" stroke="#f5361c" stroke-width="0.6" stroke-linecap="round" fill="none" stroke-opacity="0.8"/>
<path d="M475.5 20.5V74.5M455.5 51.5H506.5" stroke="#f2737b" stroke-width="0.8" fill="none"/>
<rect x="474.80" y="30.60" width="1.40" height="1.40" fill="#e8404a"/>
<rect x="495.09" y="50.80" width="1.40" height="1.40" fill="#e8404a"/>
<rect x="474.90" y="50.90" width="1.20" height="1.20" fill="#e8404a"/>
<path d="M511.5 20.5H561.5V74.5" stroke="#b4b4b4" stroke-width="0.9" fill="none"/><path d="M511.5 20.5V74.5H561.5" stroke="#8c8c8c" stroke-width="0.9" fill="none"/>
<path d="M510.2 74.5h1.3M511.5 74.5v1.3M510.2 63.7h1.3M521.5 74.5v1.3M510.2 52.9h1.3M531.5 74.5v1.3M510.2 42.1h1.3M541.5 74.5v1.3M510.2 31.3h1.3M551.5 74.5v1.3M510.2 20.5h1.3M561.5 74.5v1.3" stroke="#aaa" stroke-width="0.4"/>
<path d="M509.9 76.8h2.4M508.9 73.1v2.2M519.9 76.8h2.4M508.9 62.3v2.2M529.9 76.8h2.4M508.9 51.5v2.2M539.9 76.8h2.4M508.9 40.7v2.2M549.9 76.8h2.4M508.9 29.9v2.2M559.9 76.8h2.4M508.9 19.1v2.2" stroke="#c4c4c4" stroke-width="0.9"/>
<g fill="#666" font-size="3"><text x="512.7" y="23.5">1.02%</text><text x="560.3" y="23.5" text-anchor="end">12.5%</text><text x="512.7" y="73.5">75.1%</text><text x="560.3" y="73.5" text-anchor="end">3.06%</text></g>
<ellipse cx="526.0" cy="61.0" rx="5.5" ry="2.8" transform="rotate(-42 526.0 61.0)" fill="#f5361c" fill-opacity="1.0" filter="url(#bl)"/>
<ellipse cx="533.5" cy="45.9" rx="1.5" ry="2.0" transform="rotate(0 533.5 45.9)" fill="#f5361c" fill-opacity="0.3" filter="url(#bl)"/>
<path d="M529.0 55.7h0M517.3 62.6h0M523.4 61.1h0M527.1 62.1h0M532.4 56.4h0M526.2 58.2h0M530.3 61.9h0M527.0 53.1h0M531.8 61.5h0M526.1 55.6h0M526.0 63.1h0M525.9 58.2h0M524.8 65.6h0M524.1 67.8h0M526.6 61.5h0M520.5 63.8h0M525.7 56.1h0M530.4 52.1h0M522.0 64.7h0M528.9 61.0h0M524.4 61.7h0M524.2 60.6h0M519.2 70.6h0M527.1 60.6h0M524.4 63.4h0M525.8 60.9h0M526.6 54.3h0M524.9 58.2h0M527.6 64.9h0M522.2 64.0h0M525.7 64.6h0M519.8 60.6h0M527.1 58.8h0M526.9 64.1h0M522.4 62.9h0M527.2 61.4h0M526.1 64.6h0M532.7 53.5h0M528.4 51.3h0M530.0 56.1h0M525.9 59.9h0M521.6 60.4h0M527.0 64.7h0M529.1 56.9h0M523.0 61.2h0M525.2 68.1h0M528.4 59.3h0M522.6 60.5h0M531.7 58.6h0M524.6 65.8h0M523.5 65.5h0M522.1 63.0h0M528.4 60.4h0M527.9 56.4h0M533.6 59.0h0M526.8 61.9h0M523.2 63.0h0M521.8 65.1h0M529.0 63.0h0M530.6 59.8h0M524.4 61.6h0M525.3 62.4h0M521.0 68.2h0M519.9 64.6h0M525.2 59.9h0M531.3 55.9h0M533.3 58.6h0M525.1 63.3h0M529.7 56.5h0M525.3 59.6h0M525.6 60.1h0M528.0 62.7h0M530.8 57.1h0M528.2 62.1h0M523.2 59.8h0M528.0 55.9h0M527.4 56.3h0M530.2 53.5h0M531.4 61.4h0M525.5 66.8h0M520.2 60.0h0M529.6 60.2h0M520.9 56.6h0M525.3 60.6h0M524.2 61.6h0M519.1 65.2h0M534.7 58.7h0M523.6 60.7h0M529.2 61.9h0M526.3 56.6h0M526.8 60.8h0M532.9 59.1h0M529.9 61.8h0M527.4 65.2h0M525.3 63.0h0M527.4 56.5h0M520.6 59.6h0M526.4 60.4h0M525.8 62.9h0M519.0 67.2h0M525.8 60.2h0M531.7 62.1h0M522.9 60.5h0M524.2 63.0h0M526.4 57.6h0M527.5 56.0h0M529.5 59.4h0M531.3 63.9h0M524.8 61.5h0M529.1 61.3h0M522.1 65.5h0M524.7 64.4h0M535.2 46.0h0M533.4 46.2h0M529.9 47.4h0M534.2 46.2h0M533.0 44.5h0M533.3 48.2h0M533.4 48.5h0M530.4 45.0h0M533.8 45.9h0M531.5 44.6h0M535.0 43.4h0M532.3 43.8h0M532.8 47.1h0M534.2 42.0h0M535.3 44.7h0M532.8 49.1h0M533.4 43.5h0M532.7 44.5h0M532.3 45.2h0M534.6 46.6h0M531.8 51.2h0M532.3 46.1h0M533.5 47.3h0M533.1 46.8h0M536.0 46.1h0M532.2 46.5h0M532.5 45.2h0M533.7 46.5h0M533.2 47.5h0M533.3 43.4h0M534.6 45.2h0M535.0 44.6h0" stroke="#f5361c" stroke-width="0.6" stroke-linecap="round" fill="none" stroke-opacity="0.8"/>
<path d="M531.5 20.5V74.5M511.5 51.5H561.5" stroke="#f2737b" stroke-width="0.8" fill="none"/>
<rect x="530.80" y="30.60" width="1.40" height="1.40" fill="#e8404a"/>
<rect x="550.30" y="50.80" width="1.40" height="1.40" fill="#e8404a"/>
<rect x="530.90" y="50.90" width="1.20" height="1.20" fill="#e8404a"/>
<text x="451.86" y="52.11" font-size="8.3" fill="#000" transform="rotate(-90 451.86 52.11)">A549</text>
<path d="M455.5 82.5H506.5V136.5" stroke="#b4b4b4" stroke-width="0.9" fill="none"/><path d="M455.5 82.5V136.5H506.5" stroke="#8c8c8c" stroke-width="0.9" fill="none"/>
<path d="M454.2 136.5h1.3M455.5 136.5v1.3M454.2 125.7h1.3M465.7 136.5v1.3M454.2 114.9h1.3M475.9 136.5v1.3M454.2 104.1h1.3M486.1 136.5v1.3M454.2 93.3h1.3M496.3 136.5v1.3M454.2 82.5h1.3M506.5 136.5v1.3" stroke="#aaa" stroke-width="0.4"/>
<path d="M453.9 138.8h2.4M452.9 135.1v2.2M464.1 138.8h2.4M452.9 124.3v2.2M474.3 138.8h2.4M452.9 113.5v2.2M484.5 138.8h2.4M452.9 102.7v2.2M494.7 138.8h2.4M452.9 91.9v2.2M504.9 138.8h2.4M452.9 81.1v2.2" stroke="#c4c4c4" stroke-width="0.9"/>
<g fill="#666" font-size="3"><text x="456.7" y="85.5">1.02%</text><text x="505.3" y="85.5" text-anchor="end">12.5%</text><text x="456.7" y="135.5">75.1%</text><text x="505.3" y="135.5" text-anchor="end">3.06%</text></g>
<ellipse cx="469.3" cy="123.0" rx="7.0" ry="3.5" transform="rotate(-30 469.3 123.0)" fill="#f5361c" fill-opacity="1.0" filter="url(#bl)"/>
<ellipse cx="488.6" cy="104.1" rx="3.5" ry="1.5" transform="rotate(-10 488.6 104.1)" fill="#f5361c" fill-opacity="0.8" filter="url(#bl)"/>
<path d="M472.6 122.3h0M466.2 130.3h0M461.6 131.0h0M475.4 121.4h0M471.7 119.7h0M469.6 123.7h0M472.5 123.9h0M467.1 121.5h0M467.2 125.8h0M459.0 124.0h0M466.3 122.6h0M463.5 116.0h0M467.2 123.2h0M469.7 115.0h0M468.6 125.2h0M473.7 125.1h0M472.7 117.0h0M471.8 120.2h0M467.9 129.7h0M464.8 122.3h0M465.8 121.7h0M474.8 121.3h0M476.8 120.2h0M468.0 127.8h0M465.3 123.5h0M468.5 123.6h0M474.1 117.9h0M470.9 121.9h0M461.3 123.4h0M468.9 124.8h0M471.6 123.5h0M468.8 121.6h0M469.7 118.9h0M462.1 125.8h0M461.4 125.5h0M464.7 123.5h0M467.7 120.8h0M464.3 119.2h0M468.5 120.0h0M466.5 113.6h0M465.7 126.0h0M456.7 128.9h0M469.9 123.0h0M462.3 127.9h0M468.4 119.7h0M472.8 120.7h0M468.6 121.6h0M472.1 121.7h0M475.6 121.1h0M465.9 124.1h0M473.2 119.3h0M472.0 123.4h0M464.5 116.7h0M470.3 123.3h0M468.7 120.4h0M475.0 119.2h0M465.0 122.7h0M469.2 118.8h0M467.7 131.7h0M477.5 122.4h0M477.0 120.9h0M463.0 131.3h0M476.2 120.9h0M461.7 132.2h0M475.2 117.7h0M471.2 124.9h0M470.7 126.5h0M470.8 124.8h0M467.2 118.4h0M469.7 135.1h0M472.9 126.1h0M477.8 124.8h0M471.0 119.7h0M466.1 117.3h0M469.9 126.2h0M458.9 129.7h0M475.6 124.6h0M463.6 123.7h0M458.3 125.4h0M475.4 127.6h0M465.9 130.3h0M470.5 120.3h0M475.8 109.3h0M469.3 123.8h0M482.9 122.2h0M480.7 116.9h0M476.4 124.2h0M472.4 122.6h0M467.7 122.3h0M466.5 132.3h0M463.5 118.1h0M470.5 122.1h0M473.2 127.8h0M468.3 122.5h0M465.5 125.1h0M467.4 124.9h0M485.4 115.2h0M468.3 131.1h0M474.9 122.9h0M474.2 123.4h0M475.0 125.2h0M476.6 124.1h0M466.8 124.4h0M467.3 127.9h0M472.6 119.2h0M476.6 129.1h0M473.5 116.2h0M469.9 125.1h0M469.8 124.2h0M475.7 120.6h0M465.0 128.3h0M488.4 104.3h0M486.7 102.4h0M485.0 104.2h0M484.9 100.7h0M491.6 101.9h0M486.7 105.2h0M482.2 107.2h0M486.6 105.4h0M487.4 104.8h0M488.9 104.0h0M483.1 102.9h0M488.9 106.1h0M487.2 105.1h0M489.2 104.7h0M491.1 101.5h0M489.4 103.7h0M487.6 103.0h0M486.2 103.0h0M486.2 108.3h0M493.4 103.3h0M490.5 102.3h0M480.3 102.9h0M489.4 106.1h0M488.3 102.7h0M487.7 102.8h0M484.7 104.5h0M487.3 103.1h0M485.9 103.2h0M489.7 106.0h0M488.6 107.4h0M484.2 105.3h0M485.3 104.4h0M489.1 104.9h0M491.7 102.7h0M485.1 104.4h0M489.3 102.9h0M491.6 106.1h0M484.7 105.3h0M491.0 100.8h0M489.2 103.7h0M474.2 116.0h0M480.9 110.8h0M481.8 114.1h0M483.1 113.9h0M481.7 108.8h0M478.3 112.6h0M468.7 118.4h0M478.4 109.1h0M472.5 112.9h0M480.1 110.5h0M478.3 109.6h0M476.9 111.9h0M477.3 114.2h0M479.4 112.6h0M481.6 115.9h0M482.4 112.9h0M479.3 109.8h0M478.6 114.2h0M480.9 111.1h0M474.5 107.7h0M481.3 115.2h0M481.5 108.2h0M479.1 112.8h0M476.2 113.2h0M479.2 109.8h0M474.9 114.6h0M481.4 109.6h0M475.8 114.8h0M482.4 111.3h0M486.5 111.4h0M475.7 115.4h0M479.2 113.2h0M480.1 109.3h0M475.1 111.6h0M485.7 109.3h0M485.5 112.8h0M475.4 113.0h0M482.3 109.6h0M471.3 113.2h0M475.4 113.5h0" stroke="#f5361c" stroke-width="0.6" stroke-linecap="round" fill="none" stroke-opacity="0.8"/>
<path d="M475.5 82.5V136.5M455.5 113.5H506.5" stroke="#f2737b" stroke-width="0.8" fill="none"/>
<rect x="474.80" y="92.60" width="1.40" height="1.40" fill="#e8404a"/>
<rect x="495.09" y="112.80" width="1.40" height="1.40" fill="#e8404a"/>
<rect x="474.90" y="112.90" width="1.20" height="1.20" fill="#e8404a"/>
<path d="M511.5 82.5H561.5V136.5" stroke="#b4b4b4" stroke-width="0.9" fill="none"/><path d="M511.5 82.5V136.5H561.5" stroke="#8c8c8c" stroke-width="0.9" fill="none"/>
<path d="M510.2 136.5h1.3M511.5 136.5v1.3M510.2 125.7h1.3M521.5 136.5v1.3M510.2 114.9h1.3M531.5 136.5v1.3M510.2 104.1h1.3M541.5 136.5v1.3M510.2 93.3h1.3M551.5 136.5v1.3M510.2 82.5h1.3M561.5 136.5v1.3" stroke="#aaa" stroke-width="0.4"/>
<path d="M509.9 138.8h2.4M508.9 135.1v2.2M519.9 138.8h2.4M508.9 124.3v2.2M529.9 138.8h2.4M508.9 113.5v2.2M539.9 138.8h2.4M508.9 102.7v2.2M549.9 138.8h2.4M508.9 91.9v2.2M559.9 138.8h2.4M508.9 81.1v2.2" stroke="#c4c4c4" stroke-width="0.9"/>
<g fill="#666" font-size="3"><text x="512.7" y="85.5">1.02%</text><text x="560.3" y="85.5" text-anchor="end">12.5%</text><text x="512.7" y="135.5">75.1%</text><text x="560.3" y="135.5" text-anchor="end">3.06%</text></g>
<ellipse cx="526.0" cy="123.0" rx="6.0" ry="3.0" transform="rotate(-42 526.0 123.0)" fill="#f5361c" fill-opacity="1.0" filter="url(#bl)"/>
<ellipse cx="544.5" cy="104.1" rx="3.0" ry="3.5" transform="rotate(0 544.5 104.1)" fill="#f5361c" fill-opacity="0.1" filter="url(#bl)"/>
<path d="M518.8 129.0h0M520.2 122.4h0M525.5 124.2h0M521.7 122.3h0M523.4 118.5h0M528.9 122.3h0M533.8 119.4h0M527.8 122.4h0M523.5 120.0h0M532.4 119.3h0M522.7 121.5h0M532.4 119.3h0M523.0 128.3h0M532.9 116.7h0M526.6 120.8h0M525.8 127.4h0M537.4 113.2h0M527.1 125.1h0M526.3 125.6h0M527.0 118.1h0M522.0 126.4h0M529.6 120.9h0M527.8 116.0h0M526.6 120.0h0M527.0 123.4h0M522.0 125.7h0M522.3 127.4h0M521.9 124.7h0M525.5 120.9h0M528.9 117.9h0M529.6 120.8h0M521.8 125.9h0M522.3 125.0h0M528.6 127.8h0M527.5 127.8h0M525.1 118.7h0M518.9 132.0h0M520.2 131.1h0M530.5 120.5h0M524.8 123.1h0M526.4 121.5h0M523.3 123.9h0M529.0 117.8h0M525.1 119.3h0M520.7 122.4h0M526.6 125.1h0M526.1 120.9h0M527.5 120.3h0M527.9 122.4h0M523.1 115.9h0M522.8 128.9h0M530.0 128.2h0M524.1 122.6h0M532.5 119.3h0M533.9 117.9h0M526.7 125.2h0M522.3 124.6h0M523.6 124.3h0M527.9 119.4h0M526.2 120.9h0M523.8 114.2h0M525.6 124.0h0M524.1 128.7h0M529.3 125.1h0M530.7 121.2h0M523.4 121.1h0M524.3 122.7h0M526.0 121.2h0M534.0 109.6h0M529.3 118.2h0M526.9 125.8h0M523.7 120.4h0M527.1 121.2h0M518.9 130.1h0M520.7 124.8h0M528.3 122.1h0M529.2 128.6h0M526.3 120.3h0M526.6 122.0h0M515.0 126.8h0M525.0 132.0h0M524.8 123.0h0M525.9 127.0h0M529.4 126.6h0M532.0 124.0h0M526.3 124.2h0M524.1 124.0h0M518.6 127.4h0M521.3 124.7h0M530.9 119.6h0M532.1 120.9h0M531.3 122.2h0M525.4 126.7h0M523.8 122.9h0M534.5 123.8h0M525.8 129.9h0M527.4 118.5h0M527.7 122.9h0M526.7 121.0h0M521.4 127.2h0M530.6 121.9h0M530.5 123.2h0M522.3 126.1h0M529.2 124.0h0M527.6 123.6h0M530.5 127.1h0M518.1 130.0h0M535.4 115.5h0M519.6 129.2h0M519.5 126.2h0M530.1 126.0h0M529.0 122.9h0M547.0 104.8h0M542.4 103.8h0M545.3 103.2h0M542.9 102.9h0M540.9 100.6h0M544.3 102.9h0M544.6 108.8h0M545.2 104.0h0M541.7 100.5h0M545.4 101.2h0M545.5 100.5h0M544.8 103.9h0M546.9 102.8h0M543.6 104.9h0M544.6 109.8h0M543.9 102.3h0M543.7 105.7h0M545.1 106.4h0M541.1 112.4h0M549.0 104.0h0M541.6 104.6h0M545.5 96.6h0M544.5 99.1h0M545.6 108.8h0M547.0 99.0h0M547.9 107.2h0M543.6 105.8h0M548.2 103.0h0M544.5 102.2h0M547.3 96.8h0M547.9 100.8h0M546.7 98.6h0" stroke="#f5361c" stroke-width="0.6" stroke-linecap="round" fill="none" stroke-opacity="0.8"/>
<path d="M531.5 82.5V136.5M511.5 113.5H561.5" stroke="#f2737b" stroke-width="0.8" fill="none"/>
<rect x="530.80" y="92.60" width="1.40" height="1.40" fill="#e8404a"/>
<rect x="550.30" y="112.80" width="1.40" height="1.40" fill="#e8404a"/>
<rect x="530.90" y="112.90" width="1.20" height="1.20" fill="#e8404a"/>
<text x="451.86" y="114.50" font-size="8.3" fill="#000" transform="rotate(-90 451.86 114.50)">PANC-1</text>
<path d="M455.5 142.5H506.5V196.5" stroke="#b4b4b4" stroke-width="0.9" fill="none"/><path d="M455.5 142.5V196.5H506.5" stroke="#8c8c8c" stroke-width="0.9" fill="none"/>
<path d="M454.2 196.5h1.3M455.5 196.5v1.3M454.2 185.7h1.3M465.7 196.5v1.3M454.2 174.9h1.3M475.9 196.5v1.3M454.2 164.1h1.3M486.1 196.5v1.3M454.2 153.3h1.3M496.3 196.5v1.3M454.2 142.5h1.3M506.5 196.5v1.3" stroke="#aaa" stroke-width="0.4"/>
<path d="M453.9 198.8h2.4M452.9 195.1v2.2M464.1 198.8h2.4M452.9 184.3v2.2M474.3 198.8h2.4M452.9 173.5v2.2M484.5 198.8h2.4M452.9 162.7v2.2M494.7 198.8h2.4M452.9 151.9v2.2M504.9 198.8h2.4M452.9 141.1v2.2" stroke="#c4c4c4" stroke-width="0.9"/>
<g fill="#666" font-size="3"><text x="456.7" y="145.5">1.02%</text><text x="505.3" y="145.5" text-anchor="end">12.5%</text><text x="456.7" y="195.5">75.1%</text><text x="505.3" y="195.5" text-anchor="end">3.06%</text></g>
<ellipse cx="469.3" cy="183.0" rx="5.5" ry="2.8" transform="rotate(-42 469.3 183.0)" fill="#f5361c" fill-opacity="1.0" filter="url(#bl)"/>
<ellipse cx="480.0" cy="169.0" rx="4.0" ry="2.0" transform="rotate(-15 480.0 169.0)" fill="#f5361c" fill-opacity="0.7" filter="url(#bl)"/>
<path d="M465.1 184.6h0M469.1 177.3h0M470.1 180.0h0M472.8 178.7h0M470.6 181.2h0M474.6 177.0h0M472.7 187.0h0M470.7 184.1h0M467.2 185.6h0M462.0 190.0h0M464.5 182.0h0M466.6 189.5h0M468.0 178.7h0M474.0 176.2h0M468.5 184.6h0M462.6 183.2h0M468.9 187.5h0M469.6 177.1h0M473.3 179.5h0M471.0 181.6h0M468.9 179.8h0M465.0 184.3h0M469.1 185.3h0M468.1 189.8h0M466.1 183.7h0M472.4 181.8h0M466.3 181.9h0M463.1 182.8h0M475.0 181.7h0M476.3 178.4h0M471.7 183.5h0M472.0 179.7h0M474.2 186.2h0M461.2 185.3h0M467.4 187.3h0M472.6 178.8h0M471.4 180.9h0M469.3 181.0h0M469.2 183.1h0M477.0 184.0h0M464.2 189.4h0M471.0 184.9h0M474.2 181.4h0M470.3 178.7h0M466.6 191.4h0M471.6 177.5h0M474.7 180.5h0M462.8 192.1h0M468.1 188.2h0M465.7 183.6h0M463.8 187.2h0M471.4 178.6h0M466.9 192.8h0M476.6 178.9h0M465.3 182.2h0M464.8 189.0h0M471.7 177.0h0M468.8 182.5h0M469.3 184.8h0M475.1 175.5h0M474.0 182.6h0M468.1 183.6h0M466.7 189.1h0M466.4 183.3h0M468.0 181.1h0M465.3 185.5h0M473.8 178.2h0M468.4 178.5h0M466.0 192.4h0M465.2 181.2h0M470.0 184.5h0M462.0 186.4h0M468.5 180.4h0M473.6 182.5h0M470.0 180.8h0M468.0 181.9h0M469.4 184.0h0M470.0 185.8h0M476.9 174.2h0M471.9 183.6h0M471.0 180.6h0M469.5 186.4h0M472.2 182.1h0M467.7 186.6h0M471.6 180.3h0M475.3 185.4h0M464.1 189.8h0M463.0 183.8h0M469.5 184.8h0M467.4 180.5h0M463.5 186.2h0M467.8 181.3h0M467.4 191.0h0M466.2 185.2h0M466.4 183.5h0M468.9 182.3h0M469.2 178.8h0M467.8 191.3h0M470.4 184.7h0M474.2 180.6h0M466.6 179.8h0M465.7 189.7h0M472.5 182.1h0M460.0 183.7h0M463.7 183.8h0M468.0 180.5h0M473.4 177.0h0M468.9 186.4h0M468.8 180.2h0M475.4 184.3h0M464.7 186.2h0M462.2 182.4h0M482.3 169.7h0M483.3 168.9h0M473.6 170.6h0M477.3 167.3h0M476.9 171.3h0M480.0 172.9h0M480.5 165.0h0M483.4 170.5h0M479.5 166.7h0M484.9 165.0h0M478.8 165.5h0M475.2 166.8h0M484.0 170.3h0M478.0 166.8h0M480.0 169.7h0M474.6 168.1h0M480.0 170.4h0M480.4 169.7h0M474.8 165.3h0M480.5 167.0h0M479.4 168.4h0M481.1 167.1h0M484.6 167.8h0M482.0 169.7h0M483.5 168.8h0M474.1 169.3h0M486.1 168.3h0M482.0 169.4h0M477.6 168.2h0M478.5 171.7h0M482.0 172.0h0M482.5 172.1h0M480.8 166.3h0M485.7 168.1h0M483.9 168.4h0M479.0 169.6h0M475.8 167.7h0M476.9 168.7h0M475.6 169.9h0M482.0 172.5h0M485.8 167.3h0M482.7 167.8h0M481.2 168.6h0M478.3 169.6h0M475.5 171.1h0M478.5 167.2h0M479.1 170.3h0M478.1 170.4h0M482.6 171.4h0M476.5 169.7h0M482.4 171.4h0M481.2 170.2h0M475.0 169.1h0M485.1 167.0h0M486.5 165.7h0M478.3 166.2h0M482.1 168.9h0M486.5 167.5h0M478.5 166.5h0M480.2 170.8h0M483.0 170.7h0M482.7 168.1h0M482.0 168.8h0M476.6 173.4h0" stroke="#f5361c" stroke-width="0.6" stroke-linecap="round" fill="none" stroke-opacity="0.8"/>
<path d="M475.5 142.5V196.5M455.5 173.5H506.5" stroke="#f2737b" stroke-width="0.8" fill="none"/>
<rect x="474.80" y="152.60" width="1.40" height="1.40" fill="#e8404a"/>
<rect x="495.09" y="172.80" width="1.40" height="1.40" fill="#e8404a"/>
<rect x="474.90" y="172.90" width="1.20" height="1.20" fill="#e8404a"/>
<path d="M511.5 142.5H561.5V196.5" stroke="#b4b4b4" stroke-width="0.9" fill="none"/><path d="M511.5 142.5V196.5H561.5" stroke="#8c8c8c" stroke-width="0.9" fill="none"/>
<path d="M510.2 196.5h1.3M511.5 196.5v1.3M510.2 185.7h1.3M521.5 196.5v1.3M510.2 174.9h1.3M531.5 196.5v1.3M510.2 164.1h1.3M541.5 196.5v1.3M510.2 153.3h1.3M551.5 196.5v1.3M510.2 142.5h1.3M561.5 196.5v1.3" stroke="#aaa" stroke-width="0.4"/>
<path d="M509.9 198.8h2.4M508.9 195.1v2.2M519.9 198.8h2.4M508.9 184.3v2.2M529.9 198.8h2.4M508.9 173.5v2.2M539.9 198.8h2.4M508.9 162.7v2.2M549.9 198.8h2.4M508.9 151.9v2.2M559.9 198.8h2.4M508.9 141.1v2.2" stroke="#c4c4c4" stroke-width="0.9"/>
<g fill="#666" font-size="3"><text x="512.7" y="145.5">1.02%</text><text x="560.3" y="145.5" text-anchor="end">12.5%</text><text x="512.7" y="195.5">75.1%</text><text x="560.3" y="195.5" text-anchor="end">3.06%</text></g>
<ellipse cx="525.5" cy="183.0" rx="5.5" ry="2.8" transform="rotate(-42 525.5 183.0)" fill="#f5361c" fill-opacity="1.0" filter="url(#bl)"/>
<ellipse cx="535.5" cy="167.9" rx="3.5" ry="3.0" transform="rotate(0 535.5 167.9)" fill="#f5361c" fill-opacity="0.1" filter="url(#bl)"/>
<path d="M524.9 179.7h0M527.3 182.4h0M531.5 182.9h0M516.2 193.4h0M529.0 176.4h0M519.7 189.2h0M527.3 182.7h0M520.9 185.4h0M527.5 183.9h0M533.5 176.9h0M519.2 180.1h0M528.9 179.4h0M523.3 181.3h0M524.7 177.1h0M526.1 182.9h0M528.9 184.7h0M525.3 183.5h0M525.6 177.2h0M524.6 184.0h0M527.3 178.4h0M528.9 181.3h0M517.7 184.6h0M520.9 187.7h0M527.5 183.8h0M527.3 179.4h0M530.6 181.4h0M528.0 182.5h0M521.8 187.7h0M519.8 183.8h0M524.6 184.4h0M524.7 182.5h0M522.4 186.5h0M520.4 182.4h0M528.5 185.7h0M522.2 182.1h0M533.4 182.2h0M524.1 183.5h0M531.6 188.3h0M527.8 184.6h0M523.7 177.9h0M519.5 183.9h0M527.2 181.9h0M531.1 176.9h0M526.7 182.2h0M530.2 187.3h0M529.2 185.1h0M528.8 177.8h0M527.1 180.1h0M526.2 183.0h0M524.7 182.0h0M530.3 177.7h0M531.0 184.3h0M529.5 183.2h0M532.2 180.9h0M528.8 174.8h0M532.3 177.0h0M518.3 187.1h0M520.7 187.3h0M518.6 185.5h0M526.8 182.4h0M522.3 185.0h0M525.3 183.5h0M525.1 182.6h0M525.6 177.0h0M524.1 184.8h0M523.1 183.1h0M524.4 184.8h0M529.4 178.8h0M525.2 184.6h0M521.1 179.8h0M525.7 181.4h0M524.7 186.1h0M524.6 181.7h0M514.9 186.2h0M525.3 182.7h0M527.4 182.1h0M521.5 181.9h0M521.5 186.1h0M522.9 188.1h0M517.7 183.4h0M521.6 180.0h0M529.3 175.9h0M524.9 182.7h0M519.4 181.9h0M520.7 190.5h0M533.0 184.3h0M521.5 188.7h0M527.0 184.8h0M525.1 186.1h0M529.7 181.5h0M530.1 178.2h0M529.5 176.8h0M526.2 172.2h0M524.1 181.3h0M527.4 185.1h0M528.1 181.0h0M528.6 174.7h0M525.5 188.6h0M522.8 177.7h0M524.5 179.5h0M532.7 180.8h0M526.0 187.3h0M524.3 187.5h0M527.3 181.0h0M520.1 186.8h0M516.6 188.9h0M521.4 191.2h0M517.7 181.0h0M528.2 181.9h0M527.7 188.9h0M528.3 180.7h0M517.8 179.0h0M536.9 170.8h0M533.8 163.6h0M535.4 162.9h0M535.5 170.2h0M539.9 168.7h0M536.1 170.1h0M539.6 166.9h0M531.9 165.5h0M531.8 165.2h0M535.1 168.9h0M536.0 168.1h0M534.5 169.2h0M538.1 170.2h0M539.9 167.0h0M534.8 173.0h0M536.1 169.1h0M534.5 170.8h0M534.3 164.9h0M535.3 166.6h0M538.0 166.7h0M535.9 167.2h0M536.5 166.0h0M538.7 163.6h0M534.4 165.8h0M537.4 168.0h0M536.9 166.9h0M533.4 164.5h0M534.5 166.3h0M536.3 168.9h0M538.4 167.6h0M533.3 164.7h0M535.7 169.0h0M541.2 168.4h0M540.7 173.5h0M532.4 171.5h0M538.8 171.9h0M535.5 170.7h0M534.1 167.7h0M535.6 173.2h0M534.9 170.7h0" stroke="#f5361c" stroke-width="0.6" stroke-linecap="round" fill="none" stroke-opacity="0.8"/>
<path d="M531.5 142.5V196.5M511.5 173.5H561.5" stroke="#f2737b" stroke-width="0.8" fill="none"/>
<rect x="530.80" y="152.60" width="1.40" height="1.40" fill="#e8404a"/>
<rect x="550.30" y="172.80" width="1.40" height="1.40" fill="#e8404a"/>
<rect x="530.90" y="172.90" width="1.20" height="1.20" fill="#e8404a"/>
<text x="451.82" y="178.12" font-size="8.3" fill="#000" transform="rotate(-90 451.82 178.12)">HeLa</text>
<text x="607.00" y="17.00" font-size="8.4" text-anchor="middle" fill="#000">con</text>
<text x="663.70" y="17.60" font-size="6.4" text-anchor="middle" fill="#4fb82a">IFN-γ</text>
<path d="M575.5 19.5H625.5V73.5" stroke="#b4b4b4" stroke-width="0.9" fill="none"/><path d="M575.5 19.5V73.5H625.5" stroke="#8c8c8c" stroke-width="0.9" fill="none"/>
<path d="M574.2 73.5h1.3M575.5 73.5v1.3M574.2 62.7h1.3M585.5 73.5v1.3M574.2 51.9h1.3M595.5 73.5v1.3M574.2 41.1h1.3M605.5 73.5v1.3M574.2 30.3h1.3M615.5 73.5v1.3M574.2 19.5h1.3M625.5 73.5v1.3" stroke="#aaa" stroke-width="0.4"/>
<path d="M573.9 75.8h2.4M572.9 72.1v2.2M583.9 75.8h2.4M572.9 61.3v2.2M593.9 75.8h2.4M572.9 50.5v2.2M603.9 75.8h2.4M572.9 39.7v2.2M613.9 75.8h2.4M572.9 28.9v2.2M623.9 75.8h2.4M572.9 18.1v2.2" stroke="#c4c4c4" stroke-width="0.9"/>
<g fill="#666" font-size="3"><text x="576.7" y="22.5">1.02%</text><text x="624.3" y="22.5" text-anchor="end">12.5%</text><text x="576.7" y="72.5">75.1%</text><text x="624.3" y="72.5" text-anchor="end">3.06%</text></g>
<ellipse cx="589.0" cy="60.5" rx="6.0" ry="3.0" transform="rotate(-42 589.0 60.5)" fill="#f5361c" fill-opacity="1.0" filter="url(#bl)"/>
<ellipse cx="605.5" cy="41.6" rx="4.0" ry="2.0" transform="rotate(-15 605.5 41.6)" fill="#f5361c" fill-opacity="0.85" filter="url(#bl)"/>
<path d="M587.8 58.7h0M591.2 61.2h0M587.6 64.4h0M584.6 61.0h0M589.4 59.3h0M582.0 60.2h0M589.6 61.0h0M587.7 62.5h0M584.1 66.6h0M591.1 59.8h0M586.9 62.8h0M591.6 62.5h0M590.5 60.2h0M588.0 64.9h0M592.4 55.5h0M592.0 59.1h0M586.2 57.8h0M591.8 50.5h0M589.4 58.7h0M592.4 55.7h0M590.4 61.8h0M589.7 57.8h0M592.3 59.1h0M591.7 56.1h0M588.0 59.8h0M586.4 63.9h0M593.4 62.3h0M588.6 62.5h0M593.0 56.4h0M589.5 60.6h0M584.4 60.7h0M593.5 57.2h0M586.2 58.0h0M591.8 62.8h0M582.9 62.4h0M596.0 60.0h0M593.7 54.1h0M589.7 56.9h0M590.2 58.0h0M592.4 62.9h0M589.8 58.9h0M589.7 60.9h0M587.5 62.7h0M594.4 62.0h0M578.9 64.8h0M586.1 66.6h0M598.5 52.8h0M591.7 62.7h0M579.6 68.3h0M577.7 71.3h0M586.1 61.2h0M589.1 58.1h0M593.1 56.8h0M595.5 64.9h0M589.2 64.1h0M588.4 66.1h0M592.9 57.6h0M595.9 60.8h0M594.1 55.9h0M591.0 63.2h0M582.3 64.1h0M591.9 60.2h0M599.4 58.2h0M591.1 60.4h0M583.7 64.5h0M589.5 59.2h0M590.4 61.7h0M584.3 62.5h0M584.7 69.0h0M581.7 60.3h0M591.4 57.5h0M591.8 56.5h0M598.3 55.0h0M589.8 60.3h0M589.8 63.0h0M595.6 52.9h0M586.2 65.5h0M590.0 53.7h0M584.5 60.7h0M592.1 59.8h0M584.0 60.5h0M587.5 53.7h0M591.1 58.1h0M598.1 56.3h0M586.3 61.9h0M586.5 59.9h0M591.2 62.4h0M583.0 65.1h0M596.0 57.2h0M584.4 61.5h0M582.7 59.9h0M593.4 56.9h0M583.6 59.7h0M586.6 60.7h0M594.4 53.8h0M591.5 62.5h0M591.1 57.9h0M583.7 70.9h0M590.3 57.6h0M586.8 58.7h0M582.8 60.3h0M591.9 60.0h0M591.2 61.7h0M591.2 59.0h0M586.9 64.8h0M594.6 58.0h0M592.7 55.4h0M587.9 66.5h0M587.3 63.0h0M588.3 61.2h0M586.9 60.3h0M586.2 70.6h0M605.2 37.8h0M602.0 40.3h0M601.8 37.4h0M608.2 44.3h0M605.1 43.3h0M606.8 38.8h0M608.5 37.4h0M603.5 41.5h0M609.6 40.8h0M604.7 40.2h0M605.8 41.6h0M608.5 43.7h0M607.9 41.0h0M605.8 44.8h0M606.1 41.4h0M612.0 43.1h0M607.3 40.9h0M604.0 44.2h0M604.5 43.8h0M603.1 42.5h0M606.9 41.6h0M606.4 42.2h0M601.4 40.5h0M605.9 45.2h0M604.6 40.0h0M603.4 42.3h0M609.0 39.6h0M607.4 41.5h0M603.9 40.2h0M604.7 40.4h0M606.3 37.9h0M609.5 42.1h0M608.1 44.0h0M606.5 37.9h0M605.9 42.4h0M602.8 40.1h0M607.1 42.2h0M604.0 41.5h0M603.6 41.0h0M605.9 43.7h0M600.2 42.4h0M610.8 40.9h0M606.4 43.1h0M601.7 40.2h0M599.5 40.3h0M606.7 43.0h0M603.8 40.7h0M607.1 42.5h0M605.4 37.8h0M602.5 37.3h0M605.8 39.8h0M604.2 45.0h0M609.9 41.4h0M606.5 41.7h0M603.6 42.0h0M611.1 38.4h0M603.5 42.5h0M608.7 42.5h0M602.4 42.2h0M604.0 39.5h0M605.5 40.7h0M608.6 41.7h0M603.1 42.5h0M604.1 40.7h0M596.4 55.0h0M596.6 46.9h0M595.5 54.3h0M605.0 48.8h0M596.8 50.9h0M593.4 53.1h0M597.8 52.7h0M605.3 51.1h0M600.6 54.3h0M595.9 50.2h0M603.1 54.0h0M598.5 48.7h0M600.9 53.4h0M605.2 56.2h0M600.6 52.7h0M598.2 50.3h0M599.0 52.6h0M600.1 55.1h0M599.0 50.3h0M600.6 56.4h0M595.3 53.1h0M599.8 53.5h0M599.6 51.6h0M597.7 56.8h0M603.7 47.8h0M589.7 53.2h0M595.8 50.4h0M592.8 52.9h0M597.8 50.3h0M600.9 59.0h0M602.8 55.3h0M596.7 53.8h0" stroke="#f5361c" stroke-width="0.6" stroke-linecap="round" fill="none" stroke-opacity="0.8"/>
<path d="M595.5 19.5V73.5M575.5 50.5H625.5" stroke="#f2737b" stroke-width="0.8" fill="none"/>
<rect x="594.80" y="29.60" width="1.40" height="1.40" fill="#e8404a"/>
<rect x="614.30" y="49.80" width="1.40" height="1.40" fill="#e8404a"/>
<rect x="594.90" y="49.90" width="1.20" height="1.20" fill="#e8404a"/>
<path d="M631.5 19.5H681.5V73.5" stroke="#b4b4b4" stroke-width="0.9" fill="none"/><path d="M631.5 19.5V73.5H681.5" stroke="#8c8c8c" stroke-width="0.9" fill="none"/>
<path d="M630.2 73.5h1.3M631.5 73.5v1.3M630.2 62.7h1.3M641.5 73.5v1.3M630.2 51.9h1.3M651.5 73.5v1.3M630.2 41.1h1.3M661.5 73.5v1.3M630.2 30.3h1.3M671.5 73.5v1.3M630.2 19.5h1.3M681.5 73.5v1.3" stroke="#aaa" stroke-width="0.4"/>
<path d="M629.9 75.8h2.4M628.9 72.1v2.2M639.9 75.8h2.4M628.9 61.3v2.2M649.9 75.8h2.4M628.9 50.5v2.2M659.9 75.8h2.4M628.9 39.7v2.2M669.9 75.8h2.4M628.9 28.9v2.2M679.9 75.8h2.4M628.9 18.1v2.2" stroke="#c4c4c4" stroke-width="0.9"/>
<g fill="#666" font-size="3"><text x="632.7" y="22.5">1.02%</text><text x="680.3" y="22.5" text-anchor="end">12.5%</text><text x="632.7" y="72.5">75.1%</text><text x="680.3" y="72.5" text-anchor="end">3.06%</text></g>
<ellipse cx="646.0" cy="60.0" rx="6.0" ry="2.5" transform="rotate(-42 646.0 60.0)" fill="#f5361c" fill-opacity="1.0" filter="url(#bl)"/>
<ellipse cx="661.5" cy="46.5" rx="3.0" ry="1.5" transform="rotate(-20 661.5 46.5)" fill="#f5361c" fill-opacity="0.35" filter="url(#bl)"/>
<path d="M647.7 62.2h0M648.1 58.0h0M646.8 56.9h0M651.3 60.1h0M645.6 62.2h0M641.5 67.1h0M647.5 55.3h0M652.5 54.5h0M637.5 63.2h0M648.7 56.6h0M647.5 53.6h0M647.2 62.1h0M644.6 63.4h0M645.3 61.8h0M650.8 63.0h0M642.8 65.5h0M648.9 53.7h0M650.1 63.9h0M645.0 51.2h0M642.4 57.7h0M645.9 57.7h0M642.6 60.3h0M646.3 58.2h0M642.3 62.6h0M646.1 57.1h0M647.3 53.4h0M646.9 58.0h0M650.7 53.7h0M641.4 59.8h0M654.2 54.6h0M641.5 62.9h0M645.0 65.9h0M644.2 55.0h0M648.3 61.0h0M646.8 60.8h0M645.9 60.7h0M645.6 58.0h0M647.5 59.2h0M644.7 58.9h0M642.7 63.8h0M645.1 52.9h0M646.3 64.2h0M648.2 55.7h0M649.3 53.8h0M646.3 66.1h0M644.1 61.0h0M638.4 63.6h0M641.5 63.6h0M641.0 67.9h0M643.7 60.1h0M644.9 63.4h0M650.9 54.2h0M654.5 57.6h0M651.4 56.1h0M641.7 66.1h0M644.8 61.7h0M638.7 65.7h0M645.3 57.5h0M649.8 62.1h0M645.7 58.0h0M651.2 48.3h0M643.3 63.8h0M640.1 57.8h0M648.3 60.6h0M645.5 65.3h0M649.8 60.5h0M640.4 65.0h0M655.1 58.4h0M650.8 55.7h0M645.6 58.3h0M648.9 55.1h0M643.1 55.9h0M643.4 68.2h0M646.6 60.2h0M637.9 67.2h0M651.1 50.5h0M637.1 67.5h0M643.7 61.4h0M639.2 61.7h0M642.5 65.2h0M647.2 61.6h0M643.0 64.6h0M644.5 61.6h0M649.5 57.0h0M642.0 58.1h0M647.5 61.2h0M643.6 62.0h0M637.3 63.4h0M649.6 61.0h0M642.1 58.0h0M642.0 58.4h0M648.2 64.4h0M646.8 58.7h0M649.2 55.9h0M647.5 59.3h0M645.2 55.9h0M650.1 59.3h0M633.2 62.6h0M645.2 65.7h0M647.2 61.2h0M649.5 59.8h0M642.7 61.0h0M648.4 59.9h0M648.7 58.7h0M646.0 63.6h0M649.5 60.4h0M638.3 70.3h0M637.4 68.5h0M643.8 62.4h0M643.7 61.0h0M647.3 60.0h0M638.9 58.0h0M660.0 47.9h0M659.8 47.8h0M660.2 45.5h0M665.1 47.8h0M661.2 46.5h0M663.1 43.8h0M660.0 48.8h0M663.4 45.0h0M659.9 47.6h0M658.0 47.0h0M659.7 43.3h0M663.3 47.1h0M663.3 43.6h0M658.1 46.5h0M659.5 50.5h0M659.1 46.9h0M662.2 47.0h0M664.3 43.7h0M663.6 46.0h0M658.8 47.7h0M659.0 50.0h0M660.3 48.5h0M664.2 44.5h0M659.5 47.5h0M659.5 48.7h0M661.5 45.3h0M660.3 48.1h0M659.0 50.1h0M659.6 46.9h0M660.2 49.6h0M664.1 47.6h0M663.1 46.1h0M665.8 46.0h0M662.8 46.9h0M663.4 46.3h0M660.3 44.4h0M665.7 42.9h0M656.1 47.3h0M666.7 46.6h0M660.2 47.4h0" stroke="#f5361c" stroke-width="0.6" stroke-linecap="round" fill="none" stroke-opacity="0.8"/>
<path d="M651.5 19.5V73.5M631.5 50.5H681.5" stroke="#f2737b" stroke-width="0.8" fill="none"/>
<rect x="650.80" y="29.60" width="1.40" height="1.40" fill="#e8404a"/>
<rect x="670.30" y="49.80" width="1.40" height="1.40" fill="#e8404a"/>
<rect x="650.90" y="49.90" width="1.20" height="1.20" fill="#e8404a"/>
<text x="571.36" y="56.30" font-size="8.3" fill="#000" transform="rotate(-90 571.36 56.30)">MCF-7</text>
<path d="M575.5 82.5H625.5V136.5" stroke="#b4b4b4" stroke-width="0.9" fill="none"/><path d="M575.5 82.5V136.5H625.5" stroke="#8c8c8c" stroke-width="0.9" fill="none"/>
<path d="M574.2 136.5h1.3M575.5 136.5v1.3M574.2 125.7h1.3M585.5 136.5v1.3M574.2 114.9h1.3M595.5 136.5v1.3M574.2 104.1h1.3M605.5 136.5v1.3M574.2 93.3h1.3M615.5 136.5v1.3M574.2 82.5h1.3M625.5 136.5v1.3" stroke="#aaa" stroke-width="0.4"/>
<path d="M573.9 138.8h2.4M572.9 135.1v2.2M583.9 138.8h2.4M572.9 124.3v2.2M593.9 138.8h2.4M572.9 113.5v2.2M603.9 138.8h2.4M572.9 102.7v2.2M613.9 138.8h2.4M572.9 91.9v2.2M623.9 138.8h2.4M572.9 81.1v2.2" stroke="#c4c4c4" stroke-width="0.9"/>
<g fill="#666" font-size="3"><text x="576.7" y="85.5">1.02%</text><text x="624.3" y="85.5" text-anchor="end">12.5%</text><text x="576.7" y="135.5">75.1%</text><text x="624.3" y="135.5" text-anchor="end">3.06%</text></g>
<ellipse cx="590.0" cy="123.0" rx="6.0" ry="3.0" transform="rotate(-42 590.0 123.0)" fill="#f5361c" fill-opacity="1.0" filter="url(#bl)"/>
<ellipse cx="602.5" cy="109.5" rx="4.0" ry="2.0" transform="rotate(-35 602.5 109.5)" fill="#f5361c" fill-opacity="0.7" filter="url(#bl)"/>
<path d="M585.9 118.7h0M589.3 124.8h0M592.0 116.4h0M578.4 127.1h0M591.4 122.1h0M590.9 122.8h0M585.9 121.2h0M592.5 122.3h0M594.7 123.8h0M580.7 122.0h0M587.6 133.8h0M587.4 127.0h0M591.4 124.7h0M601.0 111.0h0M588.2 122.2h0M592.0 123.3h0M589.0 129.2h0M595.2 120.1h0M589.1 122.8h0M585.2 130.0h0M585.3 125.2h0M591.9 117.6h0M589.8 126.7h0M595.6 115.2h0M592.8 117.8h0M592.4 122.8h0M587.8 129.1h0M596.8 117.0h0M588.7 119.5h0M596.8 117.1h0M586.8 129.0h0M583.1 126.4h0M584.8 133.3h0M597.0 114.1h0M586.4 123.9h0M589.0 126.1h0M593.4 115.8h0M588.0 117.5h0M595.5 117.7h0M590.5 128.8h0M592.4 126.4h0M597.3 123.1h0M587.1 125.8h0M591.0 121.3h0M594.3 116.3h0M596.5 122.7h0M580.7 127.4h0M585.5 124.8h0M591.1 121.3h0M589.4 121.7h0M590.7 124.4h0M591.2 118.7h0M588.0 121.7h0M586.5 120.4h0M594.9 121.3h0M588.2 121.9h0M587.0 123.1h0M587.5 131.8h0M599.9 109.2h0M586.8 128.2h0M589.1 117.4h0M583.9 130.7h0M585.4 132.9h0M588.3 124.9h0M588.9 121.8h0M588.9 122.8h0M594.5 118.6h0M588.8 121.9h0M586.1 123.5h0M593.7 127.1h0M594.7 119.8h0M598.3 119.6h0M590.4 121.9h0M586.4 127.3h0M585.6 120.5h0M589.1 131.6h0M591.8 123.4h0M589.8 121.3h0M593.9 123.9h0M589.9 125.2h0M592.9 118.5h0M589.2 120.8h0M591.5 120.1h0M592.8 117.4h0M595.7 116.6h0M585.0 123.8h0M590.8 118.9h0M599.3 119.8h0M589.1 118.1h0M588.5 121.5h0M584.1 130.1h0M597.2 114.4h0M595.6 123.1h0M585.7 125.5h0M592.0 123.1h0M586.1 127.3h0M591.5 125.5h0M582.9 127.1h0M587.5 124.0h0M591.4 119.2h0M598.8 112.2h0M595.2 122.4h0M593.2 119.3h0M586.4 125.2h0M592.7 121.0h0M593.3 122.3h0M584.8 123.9h0M594.4 117.1h0M587.8 132.5h0M585.0 123.7h0M591.4 117.2h0M588.8 128.3h0M603.1 115.2h0M605.8 113.7h0M602.9 109.3h0M600.5 110.4h0M601.1 110.4h0M603.2 105.9h0M597.6 107.8h0M606.6 106.5h0M602.4 109.4h0M605.6 108.1h0M604.6 107.6h0M602.1 109.6h0M598.6 114.9h0M597.0 110.9h0M604.4 108.3h0M606.7 110.7h0M609.2 108.2h0M604.2 113.3h0M600.0 111.1h0M605.0 107.2h0M601.8 109.2h0M603.4 102.8h0M607.2 108.8h0M602.9 110.6h0M601.1 113.2h0M609.9 102.1h0M606.3 106.7h0M601.0 109.4h0M600.5 107.8h0M600.7 114.8h0M603.1 110.4h0M603.9 109.7h0M597.2 110.9h0M605.4 109.9h0M598.7 110.8h0M600.3 112.6h0M603.5 108.9h0M601.1 111.3h0M601.7 108.2h0M602.7 107.8h0M605.8 108.7h0M601.3 111.8h0M601.9 108.2h0M598.1 108.5h0M599.8 112.2h0M605.1 106.1h0M603.3 109.8h0M605.2 108.7h0M606.8 108.4h0M600.9 111.6h0M595.8 113.7h0M603.2 110.4h0M602.6 111.4h0M605.2 105.6h0M601.3 111.0h0M604.0 108.8h0M603.4 106.0h0M606.0 109.9h0M606.0 108.1h0M602.3 110.6h0M600.5 107.0h0M600.8 110.6h0M600.0 109.0h0M601.4 109.3h0" stroke="#f5361c" stroke-width="0.6" stroke-linecap="round" fill="none" stroke-opacity="0.8"/>
<path d="M595.5 82.5V136.5M575.5 113.5H625.5" stroke="#f2737b" stroke-width="0.8" fill="none"/>
<rect x="594.80" y="92.60" width="1.40" height="1.40" fill="#e8404a"/>
<rect x="614.30" y="112.80" width="1.40" height="1.40" fill="#e8404a"/>
<rect x="594.90" y="112.90" width="1.20" height="1.20" fill="#e8404a"/>
<path d="M631.5 82.5H681.5V136.5" stroke="#b4b4b4" stroke-width="0.9" fill="none"/><path d="M631.5 82.5V136.5H681.5" stroke="#8c8c8c" stroke-width="0.9" fill="none"/>
<path d="M630.2 136.5h1.3M631.5 136.5v1.3M630.2 125.7h1.3M641.5 136.5v1.3M630.2 114.9h1.3M651.5 136.5v1.3M630.2 104.1h1.3M661.5 136.5v1.3M630.2 93.3h1.3M671.5 136.5v1.3M630.2 82.5h1.3M681.5 136.5v1.3" stroke="#aaa" stroke-width="0.4"/>
<path d="M629.9 138.8h2.4M628.9 135.1v2.2M639.9 138.8h2.4M628.9 124.3v2.2M649.9 138.8h2.4M628.9 113.5v2.2M659.9 138.8h2.4M628.9 102.7v2.2M669.9 138.8h2.4M628.9 91.9v2.2M679.9 138.8h2.4M628.9 81.1v2.2" stroke="#c4c4c4" stroke-width="0.9"/>
<g fill="#666" font-size="3"><text x="632.7" y="85.5">1.02%</text><text x="680.3" y="85.5" text-anchor="end">12.5%</text><text x="632.7" y="135.5">75.1%</text><text x="680.3" y="135.5" text-anchor="end">3.06%</text></g>
<ellipse cx="646.0" cy="123.0" rx="5.5" ry="2.5" transform="rotate(-42 646.0 123.0)" fill="#f5361c" fill-opacity="1.0" filter="url(#bl)"/>
<ellipse cx="661.5" cy="105.2" rx="3.0" ry="4.0" transform="rotate(0 661.5 105.2)" fill="#f5361c" fill-opacity="0.1" filter="url(#bl)"/>
<path d="M646.2 122.7h0M648.3 124.3h0M647.1 123.3h0M636.9 121.3h0M645.8 125.5h0M643.8 122.9h0M643.2 128.5h0M644.6 125.1h0M650.8 120.5h0M653.5 115.8h0M650.4 121.3h0M643.8 125.1h0M642.3 122.8h0M645.7 120.6h0M650.5 116.4h0M644.3 124.9h0M644.3 124.7h0M641.5 122.2h0M635.6 128.1h0M652.0 119.1h0M645.8 121.7h0M646.0 124.0h0M639.9 125.8h0M645.0 128.1h0M644.3 128.4h0M649.0 129.5h0M645.8 123.3h0M652.1 120.4h0M647.4 118.1h0M652.7 122.6h0M644.8 122.4h0M644.0 128.3h0M647.0 122.1h0M644.5 129.8h0M649.0 120.3h0M649.5 116.7h0M647.4 118.4h0M650.4 118.1h0M649.5 118.4h0M649.3 123.9h0M643.1 126.0h0M644.5 127.2h0M643.3 124.2h0M647.3 125.8h0M642.4 126.2h0M644.0 123.0h0M643.0 125.1h0M644.1 119.5h0M644.8 120.1h0M649.9 127.2h0M642.6 125.9h0M646.8 125.6h0M641.4 121.1h0M640.8 128.3h0M648.7 124.2h0M645.3 125.9h0M644.5 128.7h0M644.6 122.0h0M649.5 125.7h0M641.0 123.3h0M640.6 124.0h0M646.4 123.8h0M645.8 123.9h0M649.6 118.8h0M637.9 122.6h0M645.7 121.0h0M645.8 124.5h0M645.0 118.7h0M642.8 126.1h0M647.4 125.6h0M640.8 120.7h0M647.3 116.3h0M643.3 126.7h0M646.5 130.9h0M647.7 123.3h0M648.2 128.5h0M646.7 120.0h0M647.5 116.0h0M644.5 125.3h0M644.9 120.8h0M653.9 120.8h0M643.4 126.6h0M643.1 124.2h0M649.6 120.2h0M645.8 123.5h0M644.0 128.9h0M645.6 127.8h0M643.7 123.6h0M651.4 118.8h0M642.9 124.0h0M651.2 124.6h0M647.4 120.4h0M641.0 125.2h0M646.0 123.8h0M645.9 127.4h0M641.5 124.6h0M648.5 122.4h0M646.3 126.0h0M643.9 130.4h0M656.8 119.9h0M649.7 126.3h0M648.4 125.3h0M645.6 124.0h0M644.9 118.1h0M648.2 126.8h0M636.6 132.7h0M649.7 120.8h0M649.0 125.0h0M644.0 118.4h0M642.3 125.4h0M645.7 121.7h0M648.4 126.4h0M654.1 109.8h0M663.9 107.6h0M661.5 105.4h0M662.4 106.1h0M659.7 108.3h0M659.4 105.0h0M660.6 100.6h0M663.0 104.9h0M658.6 104.9h0M658.0 110.9h0M662.8 113.1h0M660.1 108.0h0M659.1 101.8h0M661.3 106.8h0M663.8 104.1h0M664.3 109.0h0M659.3 104.5h0M659.2 112.0h0M660.1 108.7h0M663.8 104.2h0M660.3 106.6h0M659.6 100.1h0M659.1 106.5h0M662.0 112.2h0M656.9 107.2h0M658.6 109.8h0M663.2 105.7h0M665.2 103.7h0M660.2 101.0h0M659.9 105.6h0M663.2 110.3h0M660.8 102.3h0M660.7 103.5h0M660.3 103.6h0M659.3 105.0h0M660.2 104.5h0M658.0 105.8h0M662.9 107.8h0M660.1 100.6h0M658.2 100.5h0" stroke="#f5361c" stroke-width="0.6" stroke-linecap="round" fill="none" stroke-opacity="0.8"/>
<path d="M651.5 82.5V136.5M631.5 113.5H681.5" stroke="#f2737b" stroke-width="0.8" fill="none"/>
<rect x="650.80" y="92.60" width="1.40" height="1.40" fill="#e8404a"/>
<rect x="670.30" y="112.80" width="1.40" height="1.40" fill="#e8404a"/>
<rect x="650.90" y="112.90" width="1.20" height="1.20" fill="#e8404a"/>
<text x="571.32" y="119.23" font-size="8.3" fill="#000" transform="rotate(-90 571.32 119.23)">MKN-45</text>
<path d="M575.5 142.5H625.5V196.5" stroke="#b4b4b4" stroke-width="0.9" fill="none"/><path d="M575.5 142.5V196.5H625.5" stroke="#8c8c8c" stroke-width="0.9" fill="none"/>
<path d="M574.2 196.5h1.3M575.5 196.5v1.3M574.2 185.7h1.3M585.5 196.5v1.3M574.2 174.9h1.3M595.5 196.5v1.3M574.2 164.1h1.3M605.5 196.5v1.3M574.2 153.3h1.3M615.5 196.5v1.3M574.2 142.5h1.3M625.5 196.5v1.3" stroke="#aaa" stroke-width="0.4"/>
<path d="M573.9 198.8h2.4M572.9 195.1v2.2M583.9 198.8h2.4M572.9 184.3v2.2M593.9 198.8h2.4M572.9 173.5v2.2M603.9 198.8h2.4M572.9 162.7v2.2M613.9 198.8h2.4M572.9 151.9v2.2M623.9 198.8h2.4M572.9 141.1v2.2" stroke="#c4c4c4" stroke-width="0.9"/>
<g fill="#666" font-size="3"><text x="576.7" y="145.5">1.02%</text><text x="624.3" y="145.5" text-anchor="end">12.5%</text><text x="576.7" y="195.5">75.1%</text><text x="624.3" y="195.5" text-anchor="end">3.06%</text></g>
<ellipse cx="592.0" cy="180.3" rx="9.0" ry="5.0" transform="rotate(-45 592.0 180.3)" fill="#f5361c" fill-opacity="1.0" filter="url(#bl)"/>
<ellipse cx="595.5" cy="172.2" rx="3.0" ry="4.0" transform="rotate(0 595.5 172.2)" fill="#f5361c" fill-opacity="0.2" filter="url(#bl)"/>
<path d="M587.5 182.6h0M584.9 192.1h0M581.4 186.1h0M591.1 187.0h0M600.5 169.3h0M589.2 180.4h0M590.3 180.8h0M601.3 163.4h0M588.7 178.1h0M592.1 176.6h0M591.3 173.5h0M603.9 169.9h0M585.1 192.1h0M585.5 178.7h0M592.5 176.2h0M594.0 174.5h0M597.3 176.0h0M594.4 179.0h0M588.8 181.0h0M596.9 180.4h0M597.7 190.3h0M596.9 167.4h0M597.5 174.3h0M590.5 176.3h0M597.9 168.7h0M589.0 178.2h0M606.6 174.5h0M583.5 185.7h0M592.4 176.9h0M586.4 178.4h0M589.5 175.2h0M604.8 184.3h0M596.0 187.8h0M591.6 176.0h0M586.8 178.8h0M595.0 182.1h0M595.9 174.4h0M585.4 186.3h0M601.8 172.5h0M584.4 173.4h0M591.6 184.5h0M591.7 190.0h0M586.0 180.3h0M588.6 183.0h0M595.3 173.1h0M582.3 189.4h0M600.1 182.9h0M591.2 191.4h0M597.2 178.3h0M584.9 181.3h0M590.2 188.6h0M596.9 182.9h0M601.6 170.8h0M598.4 187.2h0M583.6 185.6h0M588.8 180.9h0M589.9 176.6h0M593.4 169.5h0M581.9 178.7h0M586.7 189.7h0M594.6 176.3h0M598.6 178.0h0M588.8 183.2h0M600.9 185.3h0M591.0 183.9h0M599.1 181.7h0M598.0 181.8h0M585.5 185.0h0M581.7 190.3h0M605.1 168.9h0M593.4 180.8h0M588.2 175.0h0M587.8 183.4h0M589.9 176.4h0M588.9 178.3h0M582.8 185.0h0M590.7 187.4h0M601.1 175.3h0M589.0 179.5h0M581.9 186.8h0M604.2 176.1h0M592.4 178.3h0M593.5 181.8h0M593.5 181.8h0M588.1 184.5h0M593.9 185.9h0M590.0 191.3h0M589.8 179.0h0M592.6 180.6h0M592.3 183.0h0M583.1 177.5h0M595.6 176.6h0M602.1 172.9h0M585.8 195.1h0M590.3 185.8h0M607.5 172.4h0M586.0 185.8h0M585.9 191.1h0M591.4 173.8h0M597.6 181.2h0M594.0 173.8h0M584.5 180.1h0M586.3 188.2h0M596.7 184.6h0M592.4 177.8h0M589.9 193.1h0M592.8 179.4h0M583.1 182.0h0M592.0 173.7h0M597.3 179.4h0M584.4 176.8h0M599.0 183.0h0M583.4 180.3h0M598.2 175.1h0M593.0 187.8h0M592.1 183.3h0M587.3 179.9h0M590.2 176.2h0M580.9 187.8h0M602.3 177.6h0M606.9 172.3h0M601.4 172.7h0M591.4 184.2h0M589.6 187.8h0M590.6 183.6h0M587.1 184.3h0M596.4 174.4h0M589.5 184.8h0M596.0 175.1h0M580.6 181.1h0M588.7 191.0h0M593.2 182.4h0M598.6 175.7h0M592.8 176.1h0M585.7 190.9h0M593.5 182.8h0M586.0 185.4h0M599.7 166.9h0M597.0 184.3h0M591.3 182.0h0M583.5 194.2h0M594.1 187.1h0M590.3 179.5h0M593.5 177.2h0M594.6 188.3h0M597.6 175.6h0M599.1 178.9h0M595.2 177.5h0M593.8 181.4h0M596.2 178.6h0M588.9 183.0h0M591.1 174.6h0M594.6 183.0h0M592.0 178.5h0M590.3 178.8h0M595.9 173.9h0M579.2 185.0h0M594.3 179.5h0M585.1 178.4h0M588.4 178.3h0M588.6 183.8h0M589.1 185.4h0M586.6 182.6h0M595.8 186.5h0M603.5 175.3h0M588.2 184.2h0M599.6 178.3h0M583.3 188.7h0M590.7 186.8h0M593.6 175.2h0M602.3 168.2h0M604.3 167.0h0M598.0 187.2h0M587.7 181.5h0M599.6 172.5h0M590.3 173.6h0M604.7 174.3h0M596.3 180.9h0M587.8 181.4h0M585.1 189.8h0M601.4 176.8h0M599.3 177.9h0M582.8 180.8h0M596.0 177.6h0M596.3 174.3h0M588.9 186.5h0M583.6 177.7h0M585.9 180.6h0M584.4 184.3h0M605.0 183.3h0M599.7 169.9h0M597.8 174.1h0M596.5 169.7h0M595.3 165.9h0M599.9 169.3h0M596.9 170.0h0M596.2 167.8h0M594.6 175.7h0M597.0 164.9h0M597.6 167.3h0M596.2 174.2h0M593.9 171.1h0M594.9 173.8h0M597.8 177.5h0M596.3 179.9h0M593.2 179.0h0M594.9 175.2h0M595.2 172.6h0M593.2 173.7h0M600.5 172.8h0M595.4 172.3h0M597.3 171.5h0M595.5 173.1h0M598.7 175.9h0M592.9 169.9h0M595.5 175.5h0M597.9 171.5h0M600.7 171.6h0M599.0 177.7h0M599.4 173.0h0M596.9 166.5h0M591.1 169.9h0M597.3 176.3h0M595.2 176.2h0" stroke="#f5361c" stroke-width="0.6" stroke-linecap="round" fill="none" stroke-opacity="0.8"/>
<path d="M595.5 142.5V196.5M575.5 173.5H625.5" stroke="#f2737b" stroke-width="0.8" fill="none"/>
<rect x="594.80" y="152.60" width="1.40" height="1.40" fill="#e8404a"/>
<rect x="614.30" y="172.80" width="1.40" height="1.40" fill="#e8404a"/>
<rect x="594.90" y="172.90" width="1.20" height="1.20" fill="#e8404a"/>
<path d="M631.5 142.5H681.5V196.5" stroke="#b4b4b4" stroke-width="0.9" fill="none"/><path d="M631.5 142.5V196.5H681.5" stroke="#8c8c8c" stroke-width="0.9" fill="none"/>
<path d="M630.2 196.5h1.3M631.5 196.5v1.3M630.2 185.7h1.3M641.5 196.5v1.3M630.2 174.9h1.3M651.5 196.5v1.3M630.2 164.1h1.3M661.5 196.5v1.3M630.2 153.3h1.3M671.5 196.5v1.3M630.2 142.5h1.3M681.5 196.5v1.3" stroke="#aaa" stroke-width="0.4"/>
<path d="M629.9 198.8h2.4M628.9 195.1v2.2M639.9 198.8h2.4M628.9 184.3v2.2M649.9 198.8h2.4M628.9 173.5v2.2M659.9 198.8h2.4M628.9 162.7v2.2M669.9 198.8h2.4M628.9 151.9v2.2M679.9 198.8h2.4M628.9 141.1v2.2" stroke="#c4c4c4" stroke-width="0.9"/>
<g fill="#666" font-size="3"><text x="632.7" y="145.5">1.02%</text><text x="680.3" y="145.5" text-anchor="end">12.5%</text><text x="632.7" y="195.5">75.1%</text><text x="680.3" y="195.5" text-anchor="end">3.06%</text></g>
<ellipse cx="646.0" cy="181.4" rx="5.5" ry="2.8" transform="rotate(-42 646.0 181.4)" fill="#f5361c" fill-opacity="1.0" filter="url(#bl)"/>
<ellipse cx="665.0" cy="162.5" rx="2.5" ry="1.5" transform="rotate(-20 665.0 162.5)" fill="#f5361c" fill-opacity="0.35" filter="url(#bl)"/>
<path d="M650.6 182.6h0M639.2 184.6h0M641.0 182.3h0M650.0 174.6h0M642.5 183.1h0M648.2 177.8h0M649.5 180.3h0M639.7 178.8h0M640.8 181.8h0M650.3 175.1h0M643.1 185.4h0M644.6 179.4h0M651.3 179.9h0M645.6 179.1h0M639.5 180.1h0M648.0 181.0h0M643.0 184.2h0M655.1 169.3h0M641.4 187.8h0M643.7 181.7h0M647.9 179.3h0M650.3 179.4h0M650.1 178.1h0M641.1 190.6h0M642.1 188.6h0M644.4 177.9h0M647.8 182.9h0M642.7 184.6h0M641.8 181.7h0M646.2 185.8h0M648.3 179.3h0M646.0 181.9h0M647.3 180.9h0M641.8 188.4h0M638.6 178.9h0M646.3 176.9h0M645.4 181.7h0M645.0 184.2h0M644.6 181.7h0M642.3 183.8h0M642.6 184.6h0M652.2 179.3h0M645.1 177.5h0M651.1 180.1h0M649.0 170.8h0M645.5 180.7h0M647.8 176.0h0M648.8 187.1h0M645.9 174.5h0M648.5 184.0h0M645.0 184.4h0M643.8 178.3h0M645.9 185.5h0M649.0 176.6h0M648.6 176.6h0M646.8 180.6h0M642.4 185.8h0M639.9 177.2h0M641.7 182.3h0M641.5 182.0h0M639.4 178.7h0M649.1 178.8h0M646.4 180.1h0M645.8 180.7h0M639.7 181.7h0M648.0 183.2h0M649.6 183.8h0M640.9 185.0h0M646.1 185.7h0M650.8 175.2h0M648.1 178.7h0M642.4 184.2h0M645.2 187.6h0M650.1 181.9h0M643.0 175.6h0M648.9 179.1h0M638.1 188.8h0M652.4 181.7h0M643.9 186.0h0M646.8 180.0h0M646.0 183.3h0M649.1 180.9h0M642.3 180.1h0M652.7 179.9h0M644.0 183.0h0M645.6 175.5h0M652.0 184.6h0M645.7 179.2h0M652.9 175.2h0M646.0 179.9h0M643.5 177.3h0M639.1 182.4h0M648.9 178.5h0M646.3 173.9h0M646.5 186.1h0M640.0 180.1h0M642.9 183.0h0M648.3 184.0h0M653.2 180.4h0M647.1 178.6h0M641.7 180.0h0M652.5 180.0h0M644.7 179.4h0M649.1 180.3h0M644.5 178.6h0M645.8 179.5h0M649.6 180.3h0M646.7 179.2h0M652.5 178.3h0M651.8 179.2h0M648.9 180.1h0M639.2 181.1h0M663.5 164.0h0M666.9 162.1h0M666.1 164.9h0M663.4 160.4h0M661.8 163.1h0M666.7 163.0h0M665.0 163.7h0M664.6 161.5h0M664.6 163.8h0M666.3 160.3h0M663.1 163.3h0M668.5 159.4h0M662.8 163.9h0M665.7 161.3h0M665.2 163.2h0M661.6 163.7h0M666.6 163.3h0M667.2 161.6h0M662.9 165.3h0M666.2 161.1h0M667.5 163.2h0M663.6 159.4h0M663.7 161.8h0M663.3 163.0h0M663.1 163.8h0M668.1 159.5h0M666.8 161.0h0M666.0 161.9h0M667.1 160.6h0M666.0 160.9h0M665.4 162.3h0M666.3 159.6h0" stroke="#f5361c" stroke-width="0.6" stroke-linecap="round" fill="none" stroke-opacity="0.8"/>
<path d="M651.5 142.5V196.5M631.5 173.5H681.5" stroke="#f2737b" stroke-width="0.8" fill="none"/>
<rect x="650.80" y="152.60" width="1.40" height="1.40" fill="#e8404a"/>
<rect x="670.30" y="172.80" width="1.40" height="1.40" fill="#e8404a"/>
<rect x="650.90" y="172.90" width="1.20" height="1.20" fill="#e8404a"/>
<text x="571.36" y="178.73" font-size="8.3" fill="#000" transform="rotate(-90 571.36 178.73)">SK-MEL-1</text>
<path d="M330.3 184.2V204.8H359.7" stroke="#555" stroke-width="0.7" fill="none"/>
<text x="334.60" y="211.80" font-size="6.3" fill="#111">Annexin</text>
<text x="328.20" y="205.00" font-size="6.3" fill="#111" transform="rotate(-90 328.20 205.00)">PI</text>
<path d="M450.7 185.8V206.2H480" stroke="#555" stroke-width="0.7" fill="none"/>
<text x="455.20" y="213.20" font-size="6.3" fill="#111">Annexin</text>
<text x="448.80" y="206.40" font-size="6.3" fill="#111" transform="rotate(-90 448.80 206.40)">PI</text>
<path d="M571.5 184.3V205.0H601" stroke="#555" stroke-width="0.7" fill="none"/>
<text x="576.00" y="212.00" font-size="6.3" fill="#111">Annexin</text>
<text x="569.60" y="205.20" font-size="6.3" fill="#111" transform="rotate(-90 569.60 205.20)">PI</text>
<path d="M26.5 184.1V256.0H96.0M24.1 256.0H26.5M24.1 238.0H26.5M24.1 220.1H26.5M24.1 202.1H26.5M24.1 184.1H26.5" stroke="#333" stroke-width="0.75" fill="none"/>
<text x="23.20" y="258.02" font-size="5.6" text-anchor="end" font-weight="bold" fill="#000">0</text>
<text x="23.20" y="240.04" font-size="5.6" text-anchor="end" font-weight="bold" fill="#000">10</text>
<text x="23.20" y="222.07" font-size="5.6" text-anchor="end" font-weight="bold" fill="#000">20</text>
<text x="23.20" y="204.09" font-size="5.6" text-anchor="end" font-weight="bold" fill="#000">30</text>
<text x="23.20" y="186.12" font-size="5.6" text-anchor="end" font-weight="bold" fill="#000">40</text>
<line x1="32.10" y1="220.95" x2="32.10" y2="216.99" stroke="#555" stroke-width="0.5"/>
<line x1="30.70" y1="216.99" x2="33.50" y2="216.99" stroke="#555" stroke-width="0.5"/>
<rect x="29.20" y="220.95" width="5.80" height="35.05" fill="#000"/>
<line x1="41.10" y1="247.19" x2="41.10" y2="245.22" stroke="#a9d08e" stroke-width="0.5"/>
<line x1="39.70" y1="245.22" x2="42.50" y2="245.22" stroke="#a9d08e" stroke-width="0.5"/>
<rect x="38.20" y="247.19" width="5.80" height="8.81" fill="#5d9f3a"/>
<line x1="36.60" y1="256.00" x2="36.60" y2="258.00" stroke="#333" stroke-width="0.6"/>
<text x="36.60" y="264.80" font-size="5.3" text-anchor="middle" font-weight="bold" fill="#1a1a1a">HT-29</text>
<line x1="33.40" y1="215.40" x2="41.40" y2="215.40" stroke="#444" stroke-width="0.8"/>
<text x="37.40" y="211.00" font-size="7.8" text-anchor="middle" font-weight="bold" fill="#222">**</text>
<line x1="56.05" y1="210.52" x2="56.05" y2="206.93" stroke="#555" stroke-width="0.5"/>
<line x1="54.65" y1="206.93" x2="57.45" y2="206.93" stroke="#555" stroke-width="0.5"/>
<rect x="53.15" y="210.52" width="5.80" height="45.48" fill="#000"/>
<line x1="65.05" y1="246.29" x2="65.05" y2="245.22" stroke="#a9d08e" stroke-width="0.5"/>
<line x1="63.65" y1="245.22" x2="66.45" y2="245.22" stroke="#a9d08e" stroke-width="0.5"/>
<rect x="62.15" y="246.29" width="5.80" height="9.71" fill="#5d9f3a"/>
<line x1="60.55" y1="256.00" x2="60.55" y2="258.00" stroke="#333" stroke-width="0.6"/>
<text x="60.55" y="264.80" font-size="5.3" text-anchor="middle" font-weight="bold" fill="#1a1a1a">A-549</text>
<line x1="55.90" y1="205.30" x2="64.60" y2="205.30" stroke="#444" stroke-width="0.8"/>
<text x="60.25" y="200.60" font-size="7.8" text-anchor="middle" font-weight="bold" fill="#222">**</text>
<line x1="80.00" y1="207.83" x2="80.00" y2="200.10" stroke="#555" stroke-width="0.5"/>
<line x1="78.60" y1="200.10" x2="81.40" y2="200.10" stroke="#555" stroke-width="0.5"/>
<rect x="77.10" y="207.83" width="5.80" height="48.17" fill="#000"/>
<line x1="89.00" y1="243.06" x2="89.00" y2="240.36" stroke="#a9d08e" stroke-width="0.5"/>
<line x1="87.60" y1="240.36" x2="90.40" y2="240.36" stroke="#a9d08e" stroke-width="0.5"/>
<rect x="86.10" y="243.06" width="5.80" height="12.94" fill="#5d9f3a"/>
<line x1="84.50" y1="256.00" x2="84.50" y2="258.00" stroke="#333" stroke-width="0.6"/>
<text x="84.50" y="264.80" font-size="5.3" text-anchor="middle" font-weight="bold" fill="#1a1a1a">MCF-7</text>
<line x1="80.80" y1="198.00" x2="88.80" y2="198.00" stroke="#444" stroke-width="0.8"/>
<text x="84.80" y="193.30" font-size="7.8" text-anchor="middle" font-weight="bold" fill="#222">**</text>
<text x="13.62" y="245.59" font-size="5.95" font-weight="bold" fill="#000" transform="rotate(-90 13.62 245.59)">Cell apoptosis (%)</text>
<rect x="31.60" y="178.50" width="6.90" height="2.80" fill="#000"/>
<text x="43.00" y="182.24" font-size="6.5" fill="#1a1a1a">con</text>
<rect x="31.60" y="187.80" width="6.90" height="2.80" fill="#5d9f3a"/>
<text x="43.00" y="191.54" font-size="6.5" fill="#5a9d38">IFN-α</text>
<path d="M136.5 183.0V255.2H206.0M134.1 255.2H136.5M134.1 237.1H136.5M134.1 219.1H136.5M134.1 201.1H136.5M134.1 183.0H136.5" stroke="#333" stroke-width="0.75" fill="none"/>
<text x="133.20" y="257.22" font-size="5.6" text-anchor="end" font-weight="bold" fill="#000">0</text>
<text x="133.20" y="239.17" font-size="5.6" text-anchor="end" font-weight="bold" fill="#000">10</text>
<text x="133.20" y="221.12" font-size="5.6" text-anchor="end" font-weight="bold" fill="#000">20</text>
<text x="133.20" y="203.07" font-size="5.6" text-anchor="end" font-weight="bold" fill="#000">30</text>
<text x="133.20" y="185.02" font-size="5.6" text-anchor="end" font-weight="bold" fill="#000">40</text>
<line x1="142.10" y1="203.76" x2="142.10" y2="197.26" stroke="#555" stroke-width="0.5"/>
<line x1="140.70" y1="197.26" x2="143.50" y2="197.26" stroke="#555" stroke-width="0.5"/>
<rect x="139.20" y="203.76" width="5.80" height="51.44" fill="#000"/>
<line x1="151.10" y1="241.84" x2="151.10" y2="239.14" stroke="#a9d08e" stroke-width="0.5"/>
<line x1="149.70" y1="239.14" x2="152.50" y2="239.14" stroke="#a9d08e" stroke-width="0.5"/>
<rect x="148.20" y="241.84" width="5.80" height="13.36" fill="#5d9f3a"/>
<line x1="146.60" y1="255.20" x2="146.60" y2="257.20" stroke="#333" stroke-width="0.6"/>
<text x="146.60" y="264.00" font-size="5.3" text-anchor="middle" font-weight="bold" fill="#1a1a1a">HuH-7</text>
<line x1="143.00" y1="195.00" x2="151.40" y2="195.00" stroke="#444" stroke-width="0.8"/>
<text x="147.20" y="190.90" font-size="7.8" text-anchor="middle" font-weight="bold" fill="#222">**</text>
<line x1="166.00" y1="213.50" x2="166.00" y2="208.27" stroke="#555" stroke-width="0.5"/>
<line x1="164.60" y1="208.27" x2="167.40" y2="208.27" stroke="#555" stroke-width="0.5"/>
<rect x="163.10" y="213.50" width="5.80" height="41.70" fill="#000"/>
<line x1="175.00" y1="245.81" x2="175.00" y2="244.37" stroke="#a9d08e" stroke-width="0.5"/>
<line x1="173.60" y1="244.37" x2="176.40" y2="244.37" stroke="#a9d08e" stroke-width="0.5"/>
<rect x="172.10" y="245.81" width="5.80" height="9.39" fill="#5d9f3a"/>
<line x1="170.50" y1="255.20" x2="170.50" y2="257.20" stroke="#333" stroke-width="0.6"/>
<text x="170.50" y="264.00" font-size="5.3" text-anchor="middle" font-weight="bold" fill="#1a1a1a">PANC-1</text>
<line x1="165.40" y1="205.40" x2="174.20" y2="205.40" stroke="#444" stroke-width="0.8"/>
<text x="169.80" y="201.30" font-size="7.8" text-anchor="middle" font-weight="bold" fill="#222">**</text>
<line x1="189.90" y1="211.88" x2="189.90" y2="205.38" stroke="#555" stroke-width="0.5"/>
<line x1="188.50" y1="205.38" x2="191.30" y2="205.38" stroke="#555" stroke-width="0.5"/>
<rect x="187.00" y="211.88" width="5.80" height="43.32" fill="#000"/>
<line x1="198.90" y1="241.66" x2="198.90" y2="241.12" stroke="#a9d08e" stroke-width="0.5"/>
<line x1="197.50" y1="241.12" x2="200.30" y2="241.12" stroke="#a9d08e" stroke-width="0.5"/>
<rect x="196.00" y="241.66" width="5.80" height="13.54" fill="#5d9f3a"/>
<line x1="194.40" y1="255.20" x2="194.40" y2="257.20" stroke="#333" stroke-width="0.6"/>
<text x="194.40" y="264.00" font-size="5.3" text-anchor="middle" font-weight="bold" fill="#1a1a1a">MKN-45</text>
<line x1="190.30" y1="203.40" x2="199.10" y2="203.40" stroke="#444" stroke-width="0.8"/>
<text x="194.70" y="199.30" font-size="7.8" text-anchor="middle" font-weight="bold" fill="#222">**</text>
<text x="123.52" y="244.79" font-size="5.95" font-weight="bold" fill="#000" transform="rotate(-90 123.52 244.79)">Cell apoptosis (%)</text>
<rect x="138.10" y="166.90" width="6.90" height="3.00" fill="#000"/>
<text x="149.00" y="170.74" font-size="6.5" fill="#1a1a1a">con</text>
<rect x="138.10" y="176.50" width="6.90" height="3.00" fill="#5d9f3a"/>
<text x="149.00" y="180.34" font-size="6.5" fill="#5a9d38">IFN-α</text>
<path d="M247.5 180.6V252.7H316.4M245.1 252.7H247.5M245.1 234.7H247.5M245.1 216.6H247.5M245.1 198.6H247.5M245.1 180.6H247.5" stroke="#333" stroke-width="0.75" fill="none"/>
<text x="244.20" y="254.72" font-size="5.6" text-anchor="end" font-weight="bold" fill="#000">0</text>
<text x="244.20" y="236.69" font-size="5.6" text-anchor="end" font-weight="bold" fill="#000">10</text>
<text x="244.20" y="218.67" font-size="5.6" text-anchor="end" font-weight="bold" fill="#000">20</text>
<text x="244.20" y="200.64" font-size="5.6" text-anchor="end" font-weight="bold" fill="#000">30</text>
<text x="244.20" y="182.62" font-size="5.6" text-anchor="end" font-weight="bold" fill="#000">40</text>
<line x1="253.40" y1="204.93" x2="253.40" y2="200.07" stroke="#555" stroke-width="0.5"/>
<line x1="252.00" y1="200.07" x2="254.80" y2="200.07" stroke="#555" stroke-width="0.5"/>
<rect x="250.50" y="204.93" width="5.80" height="47.77" fill="#000"/>
<line x1="262.40" y1="235.04" x2="262.40" y2="233.05" stroke="#a9d08e" stroke-width="0.5"/>
<line x1="261.00" y1="233.05" x2="263.80" y2="233.05" stroke="#a9d08e" stroke-width="0.5"/>
<rect x="259.50" y="235.04" width="5.80" height="17.66" fill="#5d9f3a"/>
<line x1="257.90" y1="252.70" x2="257.90" y2="254.70" stroke="#333" stroke-width="0.6"/>
<text x="257.90" y="261.80" font-size="5.3" text-anchor="middle" font-weight="bold" fill="#1a1a1a">A-498</text>
<line x1="253.70" y1="198.50" x2="262.00" y2="198.50" stroke="#444" stroke-width="0.8"/>
<text x="257.85" y="194.10" font-size="7.8" text-anchor="middle" font-weight="bold" fill="#222">**</text>
<line x1="277.35" y1="202.95" x2="277.35" y2="196.10" stroke="#555" stroke-width="0.5"/>
<line x1="275.95" y1="196.10" x2="278.75" y2="196.10" stroke="#555" stroke-width="0.5"/>
<rect x="274.45" y="202.95" width="5.80" height="49.75" fill="#000"/>
<line x1="286.35" y1="238.64" x2="286.35" y2="235.22" stroke="#a9d08e" stroke-width="0.5"/>
<line x1="284.95" y1="235.22" x2="287.75" y2="235.22" stroke="#a9d08e" stroke-width="0.5"/>
<rect x="283.45" y="238.64" width="5.80" height="14.06" fill="#5d9f3a"/>
<line x1="281.85" y1="252.70" x2="281.85" y2="254.70" stroke="#333" stroke-width="0.6"/>
<text x="281.85" y="261.80" font-size="5.3" text-anchor="middle" font-weight="bold" fill="#1a1a1a">HeLa</text>
<line x1="277.00" y1="194.20" x2="286.60" y2="194.20" stroke="#444" stroke-width="0.8"/>
<text x="281.80" y="189.80" font-size="7.8" text-anchor="middle" font-weight="bold" fill="#222">**</text>
<line x1="301.30" y1="217.37" x2="301.30" y2="211.42" stroke="#555" stroke-width="0.5"/>
<line x1="299.90" y1="211.42" x2="302.70" y2="211.42" stroke="#555" stroke-width="0.5"/>
<rect x="298.40" y="217.37" width="5.80" height="35.33" fill="#000"/>
<line x1="310.30" y1="243.15" x2="310.30" y2="241.16" stroke="#a9d08e" stroke-width="0.5"/>
<line x1="308.90" y1="241.16" x2="311.70" y2="241.16" stroke="#a9d08e" stroke-width="0.5"/>
<rect x="307.40" y="243.15" width="5.80" height="9.55" fill="#5d9f3a"/>
<line x1="305.80" y1="252.70" x2="305.80" y2="254.70" stroke="#333" stroke-width="0.6"/>
<text x="305.80" y="261.80" font-size="5.3" text-anchor="middle" font-weight="bold" fill="#1a1a1a">SK-MEL-1</text>
<line x1="301.90" y1="209.30" x2="310.70" y2="209.30" stroke="#444" stroke-width="0.8"/>
<text x="306.30" y="204.90" font-size="7.8" text-anchor="middle" font-weight="bold" fill="#222">**</text>
<text x="234.82" y="242.29" font-size="5.95" font-weight="bold" fill="#000" transform="rotate(-90 234.82 242.29)">Cell apoptosis (%)</text>
<rect x="252.90" y="169.60" width="7.20" height="3.20" fill="#000"/>
<text x="264.20" y="173.54" font-size="6.5" fill="#1a1a1a">con</text>
<rect x="252.90" y="179.30" width="7.20" height="3.00" fill="#5d9f3a"/>
<text x="264.20" y="183.14" font-size="6.5" fill="#5a9d38">IFN-α</text>
<text x="2.00" y="284.20" font-size="17" fill="#000">D</text>
<path d="M35.5 288.6V367.1H149.5M32.1 367.1H35.5M32.1 340.9H35.5M32.1 314.8H35.5M32.1 288.6H35.5" stroke="#333" stroke-width="0.75" fill="none"/>
<text x="31.40" y="369.22" font-size="5.9" text-anchor="end" font-weight="bold" fill="#000">0.0</text>
<text x="31.40" y="343.06" font-size="5.9" text-anchor="end" font-weight="bold" fill="#000">0.5</text>
<text x="31.40" y="316.89" font-size="5.9" text-anchor="end" font-weight="bold" fill="#000">1.0</text>
<text x="31.40" y="290.72" font-size="5.9" text-anchor="end" font-weight="bold" fill="#000">1.5</text>
<line x1="38.40" y1="315.29" x2="38.40" y2="307.96" stroke="#8a8a8a" stroke-width="0.5"/>
<line x1="37.40" y1="307.96" x2="39.40" y2="307.96" stroke="#8a8a8a" stroke-width="0.5"/>
<rect x="36.70" y="315.29" width="3.40" height="51.81" fill="#000"/>
<line x1="43.20" y1="335.96" x2="43.20" y2="330.99" stroke="#a9d08e" stroke-width="0.5"/>
<line x1="42.20" y1="330.99" x2="44.20" y2="330.99" stroke="#a9d08e" stroke-width="0.5"/>
<rect x="41.50" y="335.96" width="3.40" height="31.14" fill="#5d9f3a"/>
<line x1="40.80" y1="367.10" x2="40.80" y2="370.30" stroke="#333" stroke-width="0.6"/>
<text x="43.20" y="331.69" font-size="6.8" text-anchor="middle" font-weight="bold" fill="#333">**</text>
<text x="42.00" y="375.70" font-size="5.8" text-anchor="end" font-weight="bold" fill="#1a1a1a" transform="rotate(-45 42.00 375.70)">HT-29</text>
<line x1="51.16" y1="315.81" x2="51.16" y2="310.58" stroke="#8a8a8a" stroke-width="0.5"/>
<line x1="50.16" y1="310.58" x2="52.16" y2="310.58" stroke="#8a8a8a" stroke-width="0.5"/>
<rect x="49.46" y="315.81" width="3.40" height="51.29" fill="#000"/>
<line x1="55.96" y1="333.61" x2="55.96" y2="329.42" stroke="#a9d08e" stroke-width="0.5"/>
<line x1="54.96" y1="329.42" x2="56.96" y2="329.42" stroke="#a9d08e" stroke-width="0.5"/>
<rect x="54.26" y="333.61" width="3.40" height="33.49" fill="#5d9f3a"/>
<line x1="53.56" y1="367.10" x2="53.56" y2="370.30" stroke="#333" stroke-width="0.6"/>
<text x="55.96" y="330.12" font-size="6.8" text-anchor="middle" font-weight="bold" fill="#333">**</text>
<text x="54.76" y="375.70" font-size="5.8" text-anchor="end" font-weight="bold" fill="#1a1a1a" transform="rotate(-45 54.76 375.70)">HuH-7</text>
<line x1="63.92" y1="315.81" x2="63.92" y2="309.53" stroke="#8a8a8a" stroke-width="0.5"/>
<line x1="62.92" y1="309.53" x2="64.92" y2="309.53" stroke="#8a8a8a" stroke-width="0.5"/>
<rect x="62.22" y="315.81" width="3.40" height="51.29" fill="#000"/>
<line x1="68.72" y1="343.03" x2="68.72" y2="339.36" stroke="#a9d08e" stroke-width="0.5"/>
<line x1="67.72" y1="339.36" x2="69.72" y2="339.36" stroke="#a9d08e" stroke-width="0.5"/>
<rect x="67.02" y="343.03" width="3.40" height="24.07" fill="#5d9f3a"/>
<line x1="66.32" y1="367.10" x2="66.32" y2="370.30" stroke="#333" stroke-width="0.6"/>
<text x="68.72" y="340.06" font-size="6.8" text-anchor="middle" font-weight="bold" fill="#333">**</text>
<text x="67.52" y="375.70" font-size="5.8" text-anchor="end" font-weight="bold" fill="#1a1a1a" transform="rotate(-45 67.52 375.70)">A-498</text>
<line x1="76.68" y1="316.34" x2="76.68" y2="310.58" stroke="#8a8a8a" stroke-width="0.5"/>
<line x1="75.68" y1="310.58" x2="77.68" y2="310.58" stroke="#8a8a8a" stroke-width="0.5"/>
<rect x="74.98" y="316.34" width="3.40" height="50.76" fill="#000"/>
<line x1="81.48" y1="331.51" x2="81.48" y2="325.76" stroke="#a9d08e" stroke-width="0.5"/>
<line x1="80.48" y1="325.76" x2="82.48" y2="325.76" stroke="#a9d08e" stroke-width="0.5"/>
<rect x="79.78" y="331.51" width="3.40" height="35.59" fill="#5d9f3a"/>
<line x1="79.08" y1="367.10" x2="79.08" y2="370.30" stroke="#333" stroke-width="0.6"/>
<text x="81.48" y="326.46" font-size="6.8" text-anchor="middle" font-weight="bold" fill="#333">**</text>
<text x="80.28" y="375.70" font-size="5.8" text-anchor="end" font-weight="bold" fill="#1a1a1a" transform="rotate(-45 80.28 375.70)">A-549</text>
<line x1="89.44" y1="316.34" x2="89.44" y2="308.49" stroke="#8a8a8a" stroke-width="0.5"/>
<line x1="88.44" y1="308.49" x2="90.44" y2="308.49" stroke="#8a8a8a" stroke-width="0.5"/>
<rect x="87.74" y="316.34" width="3.40" height="50.76" fill="#000"/>
<line x1="94.24" y1="346.69" x2="94.24" y2="344.60" stroke="#a9d08e" stroke-width="0.5"/>
<line x1="93.24" y1="344.60" x2="95.24" y2="344.60" stroke="#a9d08e" stroke-width="0.5"/>
<rect x="92.54" y="346.69" width="3.40" height="20.41" fill="#5d9f3a"/>
<line x1="91.84" y1="367.10" x2="91.84" y2="370.30" stroke="#333" stroke-width="0.6"/>
<text x="94.24" y="345.30" font-size="6.8" text-anchor="middle" font-weight="bold" fill="#333">**</text>
<text x="93.04" y="375.70" font-size="5.8" text-anchor="end" font-weight="bold" fill="#1a1a1a" transform="rotate(-45 93.04 375.70)">PANC-1</text>
<line x1="102.20" y1="315.81" x2="102.20" y2="309.53" stroke="#8a8a8a" stroke-width="0.5"/>
<line x1="101.20" y1="309.53" x2="103.20" y2="309.53" stroke="#8a8a8a" stroke-width="0.5"/>
<rect x="100.50" y="315.81" width="3.40" height="51.29" fill="#000"/>
<line x1="107.00" y1="345.64" x2="107.00" y2="342.50" stroke="#a9d08e" stroke-width="0.5"/>
<line x1="106.00" y1="342.50" x2="108.00" y2="342.50" stroke="#a9d08e" stroke-width="0.5"/>
<rect x="105.30" y="345.64" width="3.40" height="21.46" fill="#5d9f3a"/>
<line x1="104.60" y1="367.10" x2="104.60" y2="370.30" stroke="#333" stroke-width="0.6"/>
<text x="107.00" y="343.20" font-size="6.8" text-anchor="middle" font-weight="bold" fill="#333">**</text>
<text x="105.80" y="375.70" font-size="5.8" text-anchor="end" font-weight="bold" fill="#1a1a1a" transform="rotate(-45 105.80 375.70)">HeLa</text>
<line x1="114.96" y1="315.29" x2="114.96" y2="309.53" stroke="#8a8a8a" stroke-width="0.5"/>
<line x1="113.96" y1="309.53" x2="115.96" y2="309.53" stroke="#8a8a8a" stroke-width="0.5"/>
<rect x="113.26" y="315.29" width="3.40" height="51.81" fill="#000"/>
<line x1="119.76" y1="340.41" x2="119.76" y2="337.79" stroke="#a9d08e" stroke-width="0.5"/>
<line x1="118.76" y1="337.79" x2="120.76" y2="337.79" stroke="#a9d08e" stroke-width="0.5"/>
<rect x="118.06" y="340.41" width="3.40" height="26.69" fill="#5d9f3a"/>
<line x1="117.36" y1="367.10" x2="117.36" y2="370.30" stroke="#333" stroke-width="0.6"/>
<text x="119.76" y="338.49" font-size="6.8" text-anchor="middle" font-weight="bold" fill="#333">**</text>
<text x="118.56" y="375.70" font-size="5.8" text-anchor="end" font-weight="bold" fill="#1a1a1a" transform="rotate(-45 118.56 375.70)">MCF-7</text>
<line x1="127.72" y1="314.77" x2="127.72" y2="306.92" stroke="#8a8a8a" stroke-width="0.5"/>
<line x1="126.72" y1="306.92" x2="128.72" y2="306.92" stroke="#8a8a8a" stroke-width="0.5"/>
<rect x="126.02" y="314.77" width="3.40" height="52.33" fill="#000"/>
<line x1="132.52" y1="349.31" x2="132.52" y2="346.69" stroke="#a9d08e" stroke-width="0.5"/>
<line x1="131.52" y1="346.69" x2="133.52" y2="346.69" stroke="#a9d08e" stroke-width="0.5"/>
<rect x="130.82" y="349.31" width="3.40" height="17.79" fill="#5d9f3a"/>
<line x1="130.12" y1="367.10" x2="130.12" y2="370.30" stroke="#333" stroke-width="0.6"/>
<text x="132.52" y="347.39" font-size="6.8" text-anchor="middle" font-weight="bold" fill="#333">**</text>
<text x="131.32" y="375.70" font-size="5.8" text-anchor="end" font-weight="bold" fill="#1a1a1a" transform="rotate(-45 131.32 375.70)">MKN-45</text>
<line x1="140.48" y1="315.29" x2="140.48" y2="310.58" stroke="#8a8a8a" stroke-width="0.5"/>
<line x1="139.48" y1="310.58" x2="141.48" y2="310.58" stroke="#8a8a8a" stroke-width="0.5"/>
<rect x="138.78" y="315.29" width="3.40" height="51.81" fill="#000"/>
<line x1="145.28" y1="348.78" x2="145.28" y2="345.12" stroke="#a9d08e" stroke-width="0.5"/>
<line x1="144.28" y1="345.12" x2="146.28" y2="345.12" stroke="#a9d08e" stroke-width="0.5"/>
<rect x="143.58" y="348.78" width="3.40" height="18.32" fill="#5d9f3a"/>
<line x1="142.88" y1="367.10" x2="142.88" y2="370.30" stroke="#333" stroke-width="0.6"/>
<text x="145.28" y="345.82" font-size="6.8" text-anchor="middle" font-weight="bold" fill="#333">**</text>
<text x="144.08" y="375.70" font-size="5.8" text-anchor="end" font-weight="bold" fill="#1a1a1a" transform="rotate(-45 144.08 375.70)">SK-MEL-1</text>
<text x="12.11" y="361.81" font-size="6.5" font-weight="bold" fill="#000" transform="rotate(-90 12.11 361.81)">Relative expression of</text>
<text x="19.89" y="336.14" font-size="6.5" font-weight="bold" fill="#000" transform="rotate(-90 19.89 336.14)">COX2</text>
<rect x="58.80" y="284.80" width="8.10" height="3.70" fill="#000"/>
<text x="71.00" y="288.99" font-size="6.5" fill="#1a1a1a">con</text>
<rect x="101.00" y="284.80" width="8.10" height="3.70" fill="#5d9f3a"/>
<text x="113.60" y="288.99" font-size="6.5" fill="#5a9d38">IFN-α</text>
<path d="M202.5 288.6V367.1H316.0M199.1 367.1H202.5M199.1 340.9H202.5M199.1 314.8H202.5M199.1 288.6H202.5" stroke="#333" stroke-width="0.75" fill="none"/>
<text x="198.40" y="369.22" font-size="5.9" text-anchor="end" font-weight="bold" fill="#000">0.0</text>
<text x="198.40" y="343.06" font-size="5.9" text-anchor="end" font-weight="bold" fill="#000">0.5</text>
<text x="198.40" y="316.89" font-size="5.9" text-anchor="end" font-weight="bold" fill="#000">1.0</text>
<text x="198.40" y="290.72" font-size="5.9" text-anchor="end" font-weight="bold" fill="#000">1.5</text>
<line x1="205.40" y1="315.29" x2="205.40" y2="309.53" stroke="#8a8a8a" stroke-width="0.5"/>
<line x1="204.40" y1="309.53" x2="206.40" y2="309.53" stroke="#8a8a8a" stroke-width="0.5"/>
<rect x="203.70" y="315.29" width="3.40" height="51.81" fill="#000"/>
<line x1="210.20" y1="346.17" x2="210.20" y2="342.50" stroke="#a9d08e" stroke-width="0.5"/>
<line x1="209.20" y1="342.50" x2="211.20" y2="342.50" stroke="#a9d08e" stroke-width="0.5"/>
<rect x="208.50" y="346.17" width="3.40" height="20.93" fill="#5d9f3a"/>
<line x1="207.80" y1="367.10" x2="207.80" y2="370.30" stroke="#333" stroke-width="0.6"/>
<text x="210.20" y="343.20" font-size="6.8" text-anchor="middle" font-weight="bold" fill="#333">**</text>
<text x="209.00" y="375.70" font-size="5.8" text-anchor="end" font-weight="bold" fill="#1a1a1a" transform="rotate(-45 209.00 375.70)">HT-29</text>
<line x1="218.10" y1="315.81" x2="218.10" y2="310.58" stroke="#8a8a8a" stroke-width="0.5"/>
<line x1="217.10" y1="310.58" x2="219.10" y2="310.58" stroke="#8a8a8a" stroke-width="0.5"/>
<rect x="216.40" y="315.81" width="3.40" height="51.29" fill="#000"/>
<line x1="222.90" y1="345.12" x2="222.90" y2="340.93" stroke="#a9d08e" stroke-width="0.5"/>
<line x1="221.90" y1="340.93" x2="223.90" y2="340.93" stroke="#a9d08e" stroke-width="0.5"/>
<rect x="221.20" y="345.12" width="3.40" height="21.98" fill="#5d9f3a"/>
<line x1="220.50" y1="367.10" x2="220.50" y2="370.30" stroke="#333" stroke-width="0.6"/>
<text x="222.90" y="341.63" font-size="6.8" text-anchor="middle" font-weight="bold" fill="#333">**</text>
<text x="221.70" y="375.70" font-size="5.8" text-anchor="end" font-weight="bold" fill="#1a1a1a" transform="rotate(-45 221.70 375.70)">HuH-7</text>
<line x1="230.80" y1="314.77" x2="230.80" y2="309.53" stroke="#8a8a8a" stroke-width="0.5"/>
<line x1="229.80" y1="309.53" x2="231.80" y2="309.53" stroke="#8a8a8a" stroke-width="0.5"/>
<rect x="229.10" y="314.77" width="3.40" height="52.33" fill="#000"/>
<line x1="235.60" y1="348.26" x2="235.60" y2="345.12" stroke="#a9d08e" stroke-width="0.5"/>
<line x1="234.60" y1="345.12" x2="236.60" y2="345.12" stroke="#a9d08e" stroke-width="0.5"/>
<rect x="233.90" y="348.26" width="3.40" height="18.84" fill="#5d9f3a"/>
<line x1="233.20" y1="367.10" x2="233.20" y2="370.30" stroke="#333" stroke-width="0.6"/>
<text x="235.60" y="345.82" font-size="6.8" text-anchor="middle" font-weight="bold" fill="#333">**</text>
<text x="234.40" y="375.70" font-size="5.8" text-anchor="end" font-weight="bold" fill="#1a1a1a" transform="rotate(-45 234.40 375.70)">A-498</text>
<line x1="243.50" y1="316.34" x2="243.50" y2="310.58" stroke="#8a8a8a" stroke-width="0.5"/>
<line x1="242.50" y1="310.58" x2="244.50" y2="310.58" stroke="#8a8a8a" stroke-width="0.5"/>
<rect x="241.80" y="316.34" width="3.40" height="50.76" fill="#000"/>
<line x1="248.30" y1="341.46" x2="248.30" y2="337.79" stroke="#a9d08e" stroke-width="0.5"/>
<line x1="247.30" y1="337.79" x2="249.30" y2="337.79" stroke="#a9d08e" stroke-width="0.5"/>
<rect x="246.60" y="341.46" width="3.40" height="25.64" fill="#5d9f3a"/>
<line x1="245.90" y1="367.10" x2="245.90" y2="370.30" stroke="#333" stroke-width="0.6"/>
<text x="248.30" y="338.49" font-size="6.8" text-anchor="middle" font-weight="bold" fill="#333">**</text>
<text x="247.10" y="375.70" font-size="5.8" text-anchor="end" font-weight="bold" fill="#1a1a1a" transform="rotate(-45 247.10 375.70)">A-549</text>
<line x1="256.20" y1="316.34" x2="256.20" y2="308.49" stroke="#8a8a8a" stroke-width="0.5"/>
<line x1="255.20" y1="308.49" x2="257.20" y2="308.49" stroke="#8a8a8a" stroke-width="0.5"/>
<rect x="254.50" y="316.34" width="3.40" height="50.76" fill="#000"/>
<line x1="261.00" y1="350.35" x2="261.00" y2="347.21" stroke="#a9d08e" stroke-width="0.5"/>
<line x1="260.00" y1="347.21" x2="262.00" y2="347.21" stroke="#a9d08e" stroke-width="0.5"/>
<rect x="259.30" y="350.35" width="3.40" height="16.75" fill="#5d9f3a"/>
<line x1="258.60" y1="367.10" x2="258.60" y2="370.30" stroke="#333" stroke-width="0.6"/>
<text x="261.00" y="347.91" font-size="6.8" text-anchor="middle" font-weight="bold" fill="#333">**</text>
<text x="259.80" y="375.70" font-size="5.8" text-anchor="end" font-weight="bold" fill="#1a1a1a" transform="rotate(-45 259.80 375.70)">PANC-1</text>
<line x1="268.90" y1="315.81" x2="268.90" y2="310.58" stroke="#8a8a8a" stroke-width="0.5"/>
<line x1="267.90" y1="310.58" x2="269.90" y2="310.58" stroke="#8a8a8a" stroke-width="0.5"/>
<rect x="267.20" y="315.81" width="3.40" height="51.29" fill="#000"/>
<line x1="273.70" y1="346.17" x2="273.70" y2="342.50" stroke="#a9d08e" stroke-width="0.5"/>
<line x1="272.70" y1="342.50" x2="274.70" y2="342.50" stroke="#a9d08e" stroke-width="0.5"/>
<rect x="272.00" y="346.17" width="3.40" height="20.93" fill="#5d9f3a"/>
<line x1="271.30" y1="367.10" x2="271.30" y2="370.30" stroke="#333" stroke-width="0.6"/>
<text x="273.70" y="343.20" font-size="6.8" text-anchor="middle" font-weight="bold" fill="#333">**</text>
<text x="272.50" y="375.70" font-size="5.8" text-anchor="end" font-weight="bold" fill="#1a1a1a" transform="rotate(-45 272.50 375.70)">HeLa</text>
<line x1="281.60" y1="314.77" x2="281.60" y2="308.49" stroke="#8a8a8a" stroke-width="0.5"/>
<line x1="280.60" y1="308.49" x2="282.60" y2="308.49" stroke="#8a8a8a" stroke-width="0.5"/>
<rect x="279.90" y="314.77" width="3.40" height="52.33" fill="#000"/>
<line x1="286.40" y1="344.07" x2="286.40" y2="339.89" stroke="#a9d08e" stroke-width="0.5"/>
<line x1="285.40" y1="339.89" x2="287.40" y2="339.89" stroke="#a9d08e" stroke-width="0.5"/>
<rect x="284.70" y="344.07" width="3.40" height="23.03" fill="#5d9f3a"/>
<line x1="284.00" y1="367.10" x2="284.00" y2="370.30" stroke="#333" stroke-width="0.6"/>
<text x="286.40" y="340.59" font-size="6.8" text-anchor="middle" font-weight="bold" fill="#333">**</text>
<text x="285.20" y="375.70" font-size="5.8" text-anchor="end" font-weight="bold" fill="#1a1a1a" transform="rotate(-45 285.20 375.70)">MCF-7</text>
<line x1="294.30" y1="314.77" x2="294.30" y2="307.44" stroke="#8a8a8a" stroke-width="0.5"/>
<line x1="293.30" y1="307.44" x2="295.30" y2="307.44" stroke="#8a8a8a" stroke-width="0.5"/>
<rect x="292.60" y="314.77" width="3.40" height="52.33" fill="#000"/>
<line x1="299.10" y1="354.02" x2="299.10" y2="351.92" stroke="#a9d08e" stroke-width="0.5"/>
<line x1="298.10" y1="351.92" x2="300.10" y2="351.92" stroke="#a9d08e" stroke-width="0.5"/>
<rect x="297.40" y="354.02" width="3.40" height="13.08" fill="#5d9f3a"/>
<line x1="296.70" y1="367.10" x2="296.70" y2="370.30" stroke="#333" stroke-width="0.6"/>
<text x="299.10" y="352.62" font-size="6.8" text-anchor="middle" font-weight="bold" fill="#333">**</text>
<text x="297.90" y="375.70" font-size="5.8" text-anchor="end" font-weight="bold" fill="#1a1a1a" transform="rotate(-45 297.90 375.70)">MKN-45</text>
<line x1="307.00" y1="315.29" x2="307.00" y2="308.49" stroke="#8a8a8a" stroke-width="0.5"/>
<line x1="306.00" y1="308.49" x2="308.00" y2="308.49" stroke="#8a8a8a" stroke-width="0.5"/>
<rect x="305.30" y="315.29" width="3.40" height="51.81" fill="#000"/>
<line x1="311.80" y1="351.92" x2="311.80" y2="350.35" stroke="#a9d08e" stroke-width="0.5"/>
<line x1="310.80" y1="350.35" x2="312.80" y2="350.35" stroke="#a9d08e" stroke-width="0.5"/>
<rect x="310.10" y="351.92" width="3.40" height="15.18" fill="#5d9f3a"/>
<line x1="309.40" y1="367.10" x2="309.40" y2="370.30" stroke="#333" stroke-width="0.6"/>
<text x="311.80" y="351.05" font-size="6.8" text-anchor="middle" font-weight="bold" fill="#333">**</text>
<text x="310.60" y="375.70" font-size="5.8" text-anchor="end" font-weight="bold" fill="#1a1a1a" transform="rotate(-45 310.60 375.70)">SK-MEL-1</text>
<text x="179.36" y="361.91" font-size="6.5" font-weight="bold" fill="#000" transform="rotate(-90 179.36 361.91)">Relative expression of</text>
<text x="187.24" y="338.06" font-size="6.5" font-weight="bold" fill="#000" transform="rotate(-90 187.24 338.06)">ACSL4</text>
<rect x="223.00" y="284.50" width="9.40" height="4.00" fill="#000"/>
<text x="235.90" y="288.84" font-size="6.5" fill="#1a1a1a">con</text>
<rect x="269.00" y="284.50" width="9.40" height="4.00" fill="#5d9f3a"/>
<text x="281.90" y="288.84" font-size="6.5" fill="#5a9d38">IFN-α</text>
<path d="M363.5 288.6V367.1H477.0M360.1 367.1H363.5M360.1 340.9H363.5M360.1 314.8H363.5M360.1 288.6H363.5" stroke="#333" stroke-width="0.75" fill="none"/>
<text x="359.40" y="369.22" font-size="5.9" text-anchor="end" font-weight="bold" fill="#000">0.0</text>
<text x="359.40" y="343.06" font-size="5.9" text-anchor="end" font-weight="bold" fill="#000">0.5</text>
<text x="359.40" y="316.89" font-size="5.9" text-anchor="end" font-weight="bold" fill="#000">1.0</text>
<text x="359.40" y="290.72" font-size="5.9" text-anchor="end" font-weight="bold" fill="#000">1.5</text>
<line x1="366.50" y1="314.50" x2="366.50" y2="306.92" stroke="#8a8a8a" stroke-width="0.5"/>
<line x1="365.50" y1="306.92" x2="367.50" y2="306.92" stroke="#8a8a8a" stroke-width="0.5"/>
<rect x="364.80" y="314.50" width="3.40" height="52.60" fill="#000"/>
<line x1="371.30" y1="346.69" x2="371.30" y2="344.07" stroke="#a9d08e" stroke-width="0.5"/>
<line x1="370.30" y1="344.07" x2="372.30" y2="344.07" stroke="#a9d08e" stroke-width="0.5"/>
<rect x="369.60" y="346.69" width="3.40" height="20.41" fill="#5d9f3a"/>
<line x1="368.90" y1="367.10" x2="368.90" y2="370.30" stroke="#333" stroke-width="0.6"/>
<text x="371.30" y="344.77" font-size="6.8" text-anchor="middle" font-weight="bold" fill="#333">**</text>
<text x="370.10" y="375.70" font-size="5.8" text-anchor="end" font-weight="bold" fill="#1a1a1a" transform="rotate(-45 370.10 375.70)">HT-29</text>
<line x1="379.24" y1="315.81" x2="379.24" y2="307.44" stroke="#8a8a8a" stroke-width="0.5"/>
<line x1="378.24" y1="307.44" x2="380.24" y2="307.44" stroke="#8a8a8a" stroke-width="0.5"/>
<rect x="377.54" y="315.81" width="3.40" height="51.29" fill="#000"/>
<line x1="384.04" y1="345.64" x2="384.04" y2="342.50" stroke="#a9d08e" stroke-width="0.5"/>
<line x1="383.04" y1="342.50" x2="385.04" y2="342.50" stroke="#a9d08e" stroke-width="0.5"/>
<rect x="382.34" y="345.64" width="3.40" height="21.46" fill="#5d9f3a"/>
<line x1="381.64" y1="367.10" x2="381.64" y2="370.30" stroke="#333" stroke-width="0.6"/>
<text x="384.04" y="343.20" font-size="6.8" text-anchor="middle" font-weight="bold" fill="#333">**</text>
<text x="382.84" y="375.70" font-size="5.8" text-anchor="end" font-weight="bold" fill="#1a1a1a" transform="rotate(-45 382.84 375.70)">HuH-7</text>
<line x1="391.98" y1="314.77" x2="391.98" y2="306.92" stroke="#8a8a8a" stroke-width="0.5"/>
<line x1="390.98" y1="306.92" x2="392.98" y2="306.92" stroke="#8a8a8a" stroke-width="0.5"/>
<rect x="390.28" y="314.77" width="3.40" height="52.33" fill="#000"/>
<line x1="396.78" y1="348.78" x2="396.78" y2="345.64" stroke="#a9d08e" stroke-width="0.5"/>
<line x1="395.78" y1="345.64" x2="397.78" y2="345.64" stroke="#a9d08e" stroke-width="0.5"/>
<rect x="395.08" y="348.78" width="3.40" height="18.32" fill="#5d9f3a"/>
<line x1="394.38" y1="367.10" x2="394.38" y2="370.30" stroke="#333" stroke-width="0.6"/>
<text x="396.78" y="346.34" font-size="6.8" text-anchor="middle" font-weight="bold" fill="#333">**</text>
<text x="395.58" y="375.70" font-size="5.8" text-anchor="end" font-weight="bold" fill="#1a1a1a" transform="rotate(-45 395.58 375.70)">A-498</text>
<line x1="404.72" y1="314.77" x2="404.72" y2="309.53" stroke="#8a8a8a" stroke-width="0.5"/>
<line x1="403.72" y1="309.53" x2="405.72" y2="309.53" stroke="#8a8a8a" stroke-width="0.5"/>
<rect x="403.02" y="314.77" width="3.40" height="52.33" fill="#000"/>
<line x1="409.52" y1="342.50" x2="409.52" y2="338.84" stroke="#a9d08e" stroke-width="0.5"/>
<line x1="408.52" y1="338.84" x2="410.52" y2="338.84" stroke="#a9d08e" stroke-width="0.5"/>
<rect x="407.82" y="342.50" width="3.40" height="24.60" fill="#5d9f3a"/>
<line x1="407.12" y1="367.10" x2="407.12" y2="370.30" stroke="#333" stroke-width="0.6"/>
<text x="409.52" y="339.54" font-size="6.8" text-anchor="middle" font-weight="bold" fill="#333">**</text>
<text x="408.32" y="375.70" font-size="5.8" text-anchor="end" font-weight="bold" fill="#1a1a1a" transform="rotate(-45 408.32 375.70)">A-549</text>
<line x1="417.46" y1="315.81" x2="417.46" y2="308.49" stroke="#8a8a8a" stroke-width="0.5"/>
<line x1="416.46" y1="308.49" x2="418.46" y2="308.49" stroke="#8a8a8a" stroke-width="0.5"/>
<rect x="415.76" y="315.81" width="3.40" height="51.29" fill="#000"/>
<line x1="422.26" y1="349.83" x2="422.26" y2="347.74" stroke="#a9d08e" stroke-width="0.5"/>
<line x1="421.26" y1="347.74" x2="423.26" y2="347.74" stroke="#a9d08e" stroke-width="0.5"/>
<rect x="420.56" y="349.83" width="3.40" height="17.27" fill="#5d9f3a"/>
<line x1="419.86" y1="367.10" x2="419.86" y2="370.30" stroke="#333" stroke-width="0.6"/>
<text x="422.26" y="348.44" font-size="6.8" text-anchor="middle" font-weight="bold" fill="#333">**</text>
<text x="421.06" y="375.70" font-size="5.8" text-anchor="end" font-weight="bold" fill="#1a1a1a" transform="rotate(-45 421.06 375.70)">PANC-1</text>
<line x1="430.20" y1="315.81" x2="430.20" y2="310.06" stroke="#8a8a8a" stroke-width="0.5"/>
<line x1="429.20" y1="310.06" x2="431.20" y2="310.06" stroke="#8a8a8a" stroke-width="0.5"/>
<rect x="428.50" y="315.81" width="3.40" height="51.29" fill="#000"/>
<line x1="435.00" y1="348.78" x2="435.00" y2="345.64" stroke="#a9d08e" stroke-width="0.5"/>
<line x1="434.00" y1="345.64" x2="436.00" y2="345.64" stroke="#a9d08e" stroke-width="0.5"/>
<rect x="433.30" y="348.78" width="3.40" height="18.32" fill="#5d9f3a"/>
<line x1="432.60" y1="367.10" x2="432.60" y2="370.30" stroke="#333" stroke-width="0.6"/>
<text x="435.00" y="346.34" font-size="6.8" text-anchor="middle" font-weight="bold" fill="#333">**</text>
<text x="433.80" y="375.70" font-size="5.8" text-anchor="end" font-weight="bold" fill="#1a1a1a" transform="rotate(-45 433.80 375.70)">HeLa</text>
<line x1="442.94" y1="313.20" x2="442.94" y2="310.06" stroke="#8a8a8a" stroke-width="0.5"/>
<line x1="441.94" y1="310.06" x2="443.94" y2="310.06" stroke="#8a8a8a" stroke-width="0.5"/>
<rect x="441.24" y="313.20" width="3.40" height="53.90" fill="#000"/>
<line x1="447.74" y1="347.21" x2="447.74" y2="344.60" stroke="#a9d08e" stroke-width="0.5"/>
<line x1="446.74" y1="344.60" x2="448.74" y2="344.60" stroke="#a9d08e" stroke-width="0.5"/>
<rect x="446.04" y="347.21" width="3.40" height="19.89" fill="#5d9f3a"/>
<line x1="445.34" y1="367.10" x2="445.34" y2="370.30" stroke="#333" stroke-width="0.6"/>
<text x="447.74" y="345.30" font-size="6.8" text-anchor="middle" font-weight="bold" fill="#333">**</text>
<text x="446.54" y="375.70" font-size="5.8" text-anchor="end" font-weight="bold" fill="#1a1a1a" transform="rotate(-45 446.54 375.70)">MCF-7</text>
<line x1="455.68" y1="314.77" x2="455.68" y2="307.44" stroke="#8a8a8a" stroke-width="0.5"/>
<line x1="454.68" y1="307.44" x2="456.68" y2="307.44" stroke="#8a8a8a" stroke-width="0.5"/>
<rect x="453.98" y="314.77" width="3.40" height="52.33" fill="#000"/>
<line x1="460.48" y1="351.92" x2="460.48" y2="349.31" stroke="#a9d08e" stroke-width="0.5"/>
<line x1="459.48" y1="349.31" x2="461.48" y2="349.31" stroke="#a9d08e" stroke-width="0.5"/>
<rect x="458.78" y="351.92" width="3.40" height="15.18" fill="#5d9f3a"/>
<line x1="458.08" y1="367.10" x2="458.08" y2="370.30" stroke="#333" stroke-width="0.6"/>
<text x="460.48" y="350.01" font-size="6.8" text-anchor="middle" font-weight="bold" fill="#333">**</text>
<text x="459.28" y="375.70" font-size="5.8" text-anchor="end" font-weight="bold" fill="#1a1a1a" transform="rotate(-45 459.28 375.70)">MKN-45</text>
<line x1="468.42" y1="315.29" x2="468.42" y2="307.44" stroke="#8a8a8a" stroke-width="0.5"/>
<line x1="467.42" y1="307.44" x2="469.42" y2="307.44" stroke="#8a8a8a" stroke-width="0.5"/>
<rect x="466.72" y="315.29" width="3.40" height="51.81" fill="#000"/>
<line x1="473.22" y1="351.40" x2="473.22" y2="349.31" stroke="#a9d08e" stroke-width="0.5"/>
<line x1="472.22" y1="349.31" x2="474.22" y2="349.31" stroke="#a9d08e" stroke-width="0.5"/>
<rect x="471.52" y="351.40" width="3.40" height="15.70" fill="#5d9f3a"/>
<line x1="470.82" y1="367.10" x2="470.82" y2="370.30" stroke="#333" stroke-width="0.6"/>
<text x="473.22" y="350.01" font-size="6.8" text-anchor="middle" font-weight="bold" fill="#333">**</text>
<text x="472.02" y="375.70" font-size="5.8" text-anchor="end" font-weight="bold" fill="#1a1a1a" transform="rotate(-45 472.02 375.70)">SK-MEL-1</text>
<text x="340.26" y="362.01" font-size="6.5" font-weight="bold" fill="#000" transform="rotate(-90 340.26 362.01)">Relative expression of</text>
<text x="348.54" y="336.34" font-size="6.5" font-weight="bold" fill="#000" transform="rotate(-90 348.54 336.34)">NOX1</text>
<rect x="388.20" y="284.50" width="8.90" height="4.00" fill="#000"/>
<text x="400.60" y="288.84" font-size="6.5" fill="#1a1a1a">con</text>
<rect x="433.30" y="284.50" width="8.60" height="4.00" fill="#5d9f3a"/>
<text x="445.40" y="288.84" font-size="6.5" fill="#5a9d38">IFN-α</text>
<path d="M516.5 288.6V367.1H629.5M513.1 367.1H516.5M513.1 351.4H516.5M513.1 335.7H516.5M513.1 320.0H516.5M513.1 304.3H516.5M513.1 288.6H516.5" stroke="#333" stroke-width="0.75" fill="none"/>
<text x="512.40" y="369.22" font-size="5.9" text-anchor="end" font-weight="bold" fill="#000">0.0</text>
<text x="512.40" y="353.52" font-size="5.9" text-anchor="end" font-weight="bold" fill="#000">0.5</text>
<text x="512.40" y="337.82" font-size="5.9" text-anchor="end" font-weight="bold" fill="#000">1.0</text>
<text x="512.40" y="322.12" font-size="5.9" text-anchor="end" font-weight="bold" fill="#000">1.5</text>
<text x="512.40" y="306.42" font-size="5.9" text-anchor="end" font-weight="bold" fill="#000">2.0</text>
<text x="512.40" y="290.72" font-size="5.9" text-anchor="end" font-weight="bold" fill="#000">2.5</text>
<line x1="519.50" y1="335.70" x2="519.50" y2="331.62" stroke="#8a8a8a" stroke-width="0.5"/>
<line x1="518.50" y1="331.62" x2="520.50" y2="331.62" stroke="#8a8a8a" stroke-width="0.5"/>
<rect x="517.80" y="335.70" width="3.40" height="31.40" fill="#000"/>
<line x1="524.30" y1="316.23" x2="524.30" y2="308.38" stroke="#a9d08e" stroke-width="0.5"/>
<line x1="523.30" y1="308.38" x2="525.30" y2="308.38" stroke="#a9d08e" stroke-width="0.5"/>
<rect x="522.60" y="316.23" width="3.40" height="50.87" fill="#5d9f3a"/>
<line x1="521.90" y1="367.10" x2="521.90" y2="370.30" stroke="#333" stroke-width="0.6"/>
<text x="524.30" y="309.08" font-size="6.8" text-anchor="middle" font-weight="bold" fill="#333">**</text>
<text x="523.10" y="375.70" font-size="5.8" text-anchor="end" font-weight="bold" fill="#1a1a1a" transform="rotate(-45 523.10 375.70)">HT-29</text>
<line x1="532.24" y1="336.01" x2="532.24" y2="331.62" stroke="#8a8a8a" stroke-width="0.5"/>
<line x1="531.24" y1="331.62" x2="533.24" y2="331.62" stroke="#8a8a8a" stroke-width="0.5"/>
<rect x="530.54" y="336.01" width="3.40" height="31.09" fill="#000"/>
<line x1="537.04" y1="321.88" x2="537.04" y2="316.23" stroke="#a9d08e" stroke-width="0.5"/>
<line x1="536.04" y1="316.23" x2="538.04" y2="316.23" stroke="#a9d08e" stroke-width="0.5"/>
<rect x="535.34" y="321.88" width="3.40" height="45.22" fill="#5d9f3a"/>
<line x1="534.64" y1="367.10" x2="534.64" y2="370.30" stroke="#333" stroke-width="0.6"/>
<text x="537.04" y="316.93" font-size="6.8" text-anchor="middle" font-weight="bold" fill="#333">**</text>
<text x="535.84" y="375.70" font-size="5.8" text-anchor="end" font-weight="bold" fill="#1a1a1a" transform="rotate(-45 535.84 375.70)">HuH-7</text>
<line x1="544.98" y1="336.33" x2="544.98" y2="331.62" stroke="#8a8a8a" stroke-width="0.5"/>
<line x1="543.98" y1="331.62" x2="545.98" y2="331.62" stroke="#8a8a8a" stroke-width="0.5"/>
<rect x="543.28" y="336.33" width="3.40" height="30.77" fill="#000"/>
<line x1="549.78" y1="312.78" x2="549.78" y2="304.30" stroke="#a9d08e" stroke-width="0.5"/>
<line x1="548.78" y1="304.30" x2="550.78" y2="304.30" stroke="#a9d08e" stroke-width="0.5"/>
<rect x="548.08" y="312.78" width="3.40" height="54.32" fill="#5d9f3a"/>
<line x1="547.38" y1="367.10" x2="547.38" y2="370.30" stroke="#333" stroke-width="0.6"/>
<text x="549.78" y="305.00" font-size="6.8" text-anchor="middle" font-weight="bold" fill="#333">**</text>
<text x="548.58" y="375.70" font-size="5.8" text-anchor="end" font-weight="bold" fill="#1a1a1a" transform="rotate(-45 548.58 375.70)">A-498</text>
<line x1="557.72" y1="335.39" x2="557.72" y2="331.93" stroke="#8a8a8a" stroke-width="0.5"/>
<line x1="556.72" y1="331.93" x2="558.72" y2="331.93" stroke="#8a8a8a" stroke-width="0.5"/>
<rect x="556.02" y="335.39" width="3.40" height="31.71" fill="#000"/>
<line x1="562.52" y1="315.92" x2="562.52" y2="309.95" stroke="#a9d08e" stroke-width="0.5"/>
<line x1="561.52" y1="309.95" x2="563.52" y2="309.95" stroke="#a9d08e" stroke-width="0.5"/>
<rect x="560.82" y="315.92" width="3.40" height="51.18" fill="#5d9f3a"/>
<line x1="560.12" y1="367.10" x2="560.12" y2="370.30" stroke="#333" stroke-width="0.6"/>
<text x="562.52" y="310.65" font-size="6.8" text-anchor="middle" font-weight="bold" fill="#333">**</text>
<text x="561.32" y="375.70" font-size="5.8" text-anchor="end" font-weight="bold" fill="#1a1a1a" transform="rotate(-45 561.32 375.70)">A-549</text>
<line x1="570.46" y1="336.33" x2="570.46" y2="332.56" stroke="#8a8a8a" stroke-width="0.5"/>
<line x1="569.46" y1="332.56" x2="571.46" y2="332.56" stroke="#8a8a8a" stroke-width="0.5"/>
<rect x="568.76" y="336.33" width="3.40" height="30.77" fill="#000"/>
<line x1="575.26" y1="316.23" x2="575.26" y2="309.95" stroke="#a9d08e" stroke-width="0.5"/>
<line x1="574.26" y1="309.95" x2="576.26" y2="309.95" stroke="#a9d08e" stroke-width="0.5"/>
<rect x="573.56" y="316.23" width="3.40" height="50.87" fill="#5d9f3a"/>
<line x1="572.86" y1="367.10" x2="572.86" y2="370.30" stroke="#333" stroke-width="0.6"/>
<text x="575.26" y="310.65" font-size="6.8" text-anchor="middle" font-weight="bold" fill="#333">**</text>
<text x="574.06" y="375.70" font-size="5.8" text-anchor="end" font-weight="bold" fill="#1a1a1a" transform="rotate(-45 574.06 375.70)">PANC-1</text>
<line x1="583.20" y1="336.01" x2="583.20" y2="331.62" stroke="#8a8a8a" stroke-width="0.5"/>
<line x1="582.20" y1="331.62" x2="584.20" y2="331.62" stroke="#8a8a8a" stroke-width="0.5"/>
<rect x="581.50" y="336.01" width="3.40" height="31.09" fill="#000"/>
<line x1="588.00" y1="318.12" x2="588.00" y2="311.21" stroke="#a9d08e" stroke-width="0.5"/>
<line x1="587.00" y1="311.21" x2="589.00" y2="311.21" stroke="#a9d08e" stroke-width="0.5"/>
<rect x="586.30" y="318.12" width="3.40" height="48.98" fill="#5d9f3a"/>
<line x1="585.60" y1="367.10" x2="585.60" y2="370.30" stroke="#333" stroke-width="0.6"/>
<text x="588.00" y="311.91" font-size="6.8" text-anchor="middle" font-weight="bold" fill="#333">**</text>
<text x="586.80" y="375.70" font-size="5.8" text-anchor="end" font-weight="bold" fill="#1a1a1a" transform="rotate(-45 586.80 375.70)">HeLa</text>
<line x1="595.94" y1="335.70" x2="595.94" y2="332.56" stroke="#8a8a8a" stroke-width="0.5"/>
<line x1="594.94" y1="332.56" x2="596.94" y2="332.56" stroke="#8a8a8a" stroke-width="0.5"/>
<rect x="594.24" y="335.70" width="3.40" height="31.40" fill="#000"/>
<line x1="600.74" y1="314.98" x2="600.74" y2="307.44" stroke="#a9d08e" stroke-width="0.5"/>
<line x1="599.74" y1="307.44" x2="601.74" y2="307.44" stroke="#a9d08e" stroke-width="0.5"/>
<rect x="599.04" y="314.98" width="3.40" height="52.12" fill="#5d9f3a"/>
<line x1="598.34" y1="367.10" x2="598.34" y2="370.30" stroke="#333" stroke-width="0.6"/>
<text x="600.74" y="308.14" font-size="6.8" text-anchor="middle" font-weight="bold" fill="#333">**</text>
<text x="599.54" y="375.70" font-size="5.8" text-anchor="end" font-weight="bold" fill="#1a1a1a" transform="rotate(-45 599.54 375.70)">MCF-7</text>
<line x1="608.68" y1="335.70" x2="608.68" y2="331.93" stroke="#8a8a8a" stroke-width="0.5"/>
<line x1="607.68" y1="331.93" x2="609.68" y2="331.93" stroke="#8a8a8a" stroke-width="0.5"/>
<rect x="606.98" y="335.70" width="3.40" height="31.40" fill="#000"/>
<line x1="613.48" y1="320.31" x2="613.48" y2="315.29" stroke="#a9d08e" stroke-width="0.5"/>
<line x1="612.48" y1="315.29" x2="614.48" y2="315.29" stroke="#a9d08e" stroke-width="0.5"/>
<rect x="611.78" y="320.31" width="3.40" height="46.79" fill="#5d9f3a"/>
<line x1="611.08" y1="367.10" x2="611.08" y2="370.30" stroke="#333" stroke-width="0.6"/>
<text x="613.48" y="315.99" font-size="6.8" text-anchor="middle" font-weight="bold" fill="#333">**</text>
<text x="612.28" y="375.70" font-size="5.8" text-anchor="end" font-weight="bold" fill="#1a1a1a" transform="rotate(-45 612.28 375.70)">MKN-45</text>
<line x1="621.42" y1="336.01" x2="621.42" y2="331.62" stroke="#8a8a8a" stroke-width="0.5"/>
<line x1="620.42" y1="331.62" x2="622.42" y2="331.62" stroke="#8a8a8a" stroke-width="0.5"/>
<rect x="619.72" y="336.01" width="3.40" height="31.09" fill="#000"/>
<line x1="626.22" y1="311.84" x2="626.22" y2="305.87" stroke="#a9d08e" stroke-width="0.5"/>
<line x1="625.22" y1="305.87" x2="627.22" y2="305.87" stroke="#a9d08e" stroke-width="0.5"/>
<rect x="624.52" y="311.84" width="3.40" height="55.26" fill="#5d9f3a"/>
<line x1="623.82" y1="367.10" x2="623.82" y2="370.30" stroke="#333" stroke-width="0.6"/>
<text x="626.22" y="306.57" font-size="6.8" text-anchor="middle" font-weight="bold" fill="#333">**</text>
<text x="625.02" y="375.70" font-size="5.8" text-anchor="end" font-weight="bold" fill="#1a1a1a" transform="rotate(-45 625.02 375.70)">SK-MEL-1</text>
<text x="492.66" y="361.81" font-size="6.5" font-weight="bold" fill="#000" transform="rotate(-90 492.66 361.81)">Relative expression of</text>
<text x="501.14" y="335.98" font-size="6.5" font-weight="bold" fill="#000" transform="rotate(-90 501.14 335.98)">GPX4</text>
<rect x="534.20" y="291.70" width="8.40" height="4.00" fill="#000"/>
<text x="546.60" y="296.04" font-size="6.5" fill="#1a1a1a">con</text>
<rect x="579.30" y="291.70" width="8.20" height="4.00" fill="#5d9f3a"/>
<text x="590.30" y="296.04" font-size="6.5" fill="#5a9d38">IFN-α</text>
<text x="4.60" y="417.40" font-size="17" fill="#000">E</text>
<path d="M40.5 412.5V491.1H154.6M37.1 491.1H40.5M37.1 475.4H40.5M37.1 459.7H40.5M37.1 443.9H40.5M37.1 428.2H40.5M37.1 412.5H40.5" stroke="#333" stroke-width="0.75" fill="none"/>
<text x="36.40" y="493.22" font-size="5.9" text-anchor="end" font-weight="bold" fill="#000">0</text>
<text x="36.40" y="477.50" font-size="5.9" text-anchor="end" font-weight="bold" fill="#000">5</text>
<text x="36.40" y="461.78" font-size="5.9" text-anchor="end" font-weight="bold" fill="#000">10</text>
<text x="36.40" y="446.06" font-size="5.9" text-anchor="end" font-weight="bold" fill="#000">15</text>
<text x="36.40" y="430.34" font-size="5.9" text-anchor="end" font-weight="bold" fill="#000">20</text>
<text x="36.40" y="414.62" font-size="5.9" text-anchor="end" font-weight="bold" fill="#000">25</text>
<line x1="43.70" y1="444.57" x2="43.70" y2="439.85" stroke="#8a8a8a" stroke-width="0.5"/>
<line x1="42.70" y1="439.85" x2="44.70" y2="439.85" stroke="#8a8a8a" stroke-width="0.5"/>
<rect x="42.00" y="444.57" width="3.40" height="46.53" fill="#000"/>
<line x1="48.50" y1="474.75" x2="48.50" y2="471.92" stroke="#a9d08e" stroke-width="0.5"/>
<line x1="47.50" y1="471.92" x2="49.50" y2="471.92" stroke="#a9d08e" stroke-width="0.5"/>
<rect x="46.80" y="474.75" width="3.40" height="16.35" fill="#5d9f3a"/>
<line x1="46.10" y1="491.10" x2="46.10" y2="494.30" stroke="#333" stroke-width="0.6"/>
<text x="48.50" y="472.62" font-size="6.8" text-anchor="middle" font-weight="bold" fill="#333">**</text>
<text x="47.30" y="499.70" font-size="5.8" text-anchor="end" font-weight="bold" fill="#1a1a1a" transform="rotate(-45 47.30 499.70)">HT-29</text>
<line x1="56.46" y1="437.65" x2="56.46" y2="430.74" stroke="#8a8a8a" stroke-width="0.5"/>
<line x1="55.46" y1="430.74" x2="57.46" y2="430.74" stroke="#8a8a8a" stroke-width="0.5"/>
<rect x="54.76" y="437.65" width="3.40" height="53.45" fill="#000"/>
<line x1="61.26" y1="471.92" x2="61.26" y2="469.09" stroke="#a9d08e" stroke-width="0.5"/>
<line x1="60.26" y1="469.09" x2="62.26" y2="469.09" stroke="#a9d08e" stroke-width="0.5"/>
<rect x="59.56" y="471.92" width="3.40" height="19.18" fill="#5d9f3a"/>
<line x1="58.86" y1="491.10" x2="58.86" y2="494.30" stroke="#333" stroke-width="0.6"/>
<text x="61.26" y="469.79" font-size="6.8" text-anchor="middle" font-weight="bold" fill="#333">**</text>
<text x="60.06" y="499.70" font-size="5.8" text-anchor="end" font-weight="bold" fill="#1a1a1a" transform="rotate(-45 60.06 499.70)">HuH-7</text>
<line x1="69.22" y1="436.08" x2="69.22" y2="427.28" stroke="#8a8a8a" stroke-width="0.5"/>
<line x1="68.22" y1="427.28" x2="70.22" y2="427.28" stroke="#8a8a8a" stroke-width="0.5"/>
<rect x="67.52" y="436.08" width="3.40" height="55.02" fill="#000"/>
<line x1="74.02" y1="469.41" x2="74.02" y2="465.95" stroke="#a9d08e" stroke-width="0.5"/>
<line x1="73.02" y1="465.95" x2="75.02" y2="465.95" stroke="#a9d08e" stroke-width="0.5"/>
<rect x="72.32" y="469.41" width="3.40" height="21.69" fill="#5d9f3a"/>
<line x1="71.62" y1="491.10" x2="71.62" y2="494.30" stroke="#333" stroke-width="0.6"/>
<text x="74.02" y="466.65" font-size="6.8" text-anchor="middle" font-weight="bold" fill="#333">**</text>
<text x="72.82" y="499.70" font-size="5.8" text-anchor="end" font-weight="bold" fill="#1a1a1a" transform="rotate(-45 72.82 499.70)">A-498</text>
<line x1="81.98" y1="432.94" x2="81.98" y2="425.39" stroke="#8a8a8a" stroke-width="0.5"/>
<line x1="80.98" y1="425.39" x2="82.98" y2="425.39" stroke="#8a8a8a" stroke-width="0.5"/>
<rect x="80.28" y="432.94" width="3.40" height="58.16" fill="#000"/>
<line x1="86.78" y1="465.63" x2="86.78" y2="461.86" stroke="#a9d08e" stroke-width="0.5"/>
<line x1="85.78" y1="461.86" x2="87.78" y2="461.86" stroke="#a9d08e" stroke-width="0.5"/>
<rect x="85.08" y="465.63" width="3.40" height="25.47" fill="#5d9f3a"/>
<line x1="84.38" y1="491.10" x2="84.38" y2="494.30" stroke="#333" stroke-width="0.6"/>
<text x="86.78" y="462.56" font-size="6.8" text-anchor="middle" font-weight="bold" fill="#333">**</text>
<text x="85.58" y="499.70" font-size="5.8" text-anchor="end" font-weight="bold" fill="#1a1a1a" transform="rotate(-45 85.58 499.70)">A-549</text>
<line x1="94.74" y1="434.51" x2="94.74" y2="427.28" stroke="#8a8a8a" stroke-width="0.5"/>
<line x1="93.74" y1="427.28" x2="95.74" y2="427.28" stroke="#8a8a8a" stroke-width="0.5"/>
<rect x="93.04" y="434.51" width="3.40" height="56.59" fill="#000"/>
<line x1="99.54" y1="474.44" x2="99.54" y2="471.92" stroke="#a9d08e" stroke-width="0.5"/>
<line x1="98.54" y1="471.92" x2="100.54" y2="471.92" stroke="#a9d08e" stroke-width="0.5"/>
<rect x="97.84" y="474.44" width="3.40" height="16.66" fill="#5d9f3a"/>
<line x1="97.14" y1="491.10" x2="97.14" y2="494.30" stroke="#333" stroke-width="0.6"/>
<text x="99.54" y="472.62" font-size="6.8" text-anchor="middle" font-weight="bold" fill="#333">**</text>
<text x="98.34" y="499.70" font-size="5.8" text-anchor="end" font-weight="bold" fill="#1a1a1a" transform="rotate(-45 98.34 499.70)">PANC-1</text>
<line x1="107.50" y1="435.77" x2="107.50" y2="429.48" stroke="#8a8a8a" stroke-width="0.5"/>
<line x1="106.50" y1="429.48" x2="108.50" y2="429.48" stroke="#8a8a8a" stroke-width="0.5"/>
<rect x="105.80" y="435.77" width="3.40" height="55.33" fill="#000"/>
<line x1="112.30" y1="470.66" x2="112.30" y2="467.83" stroke="#a9d08e" stroke-width="0.5"/>
<line x1="111.30" y1="467.83" x2="113.30" y2="467.83" stroke="#a9d08e" stroke-width="0.5"/>
<rect x="110.60" y="470.66" width="3.40" height="20.44" fill="#5d9f3a"/>
<line x1="109.90" y1="491.10" x2="109.90" y2="494.30" stroke="#333" stroke-width="0.6"/>
<text x="112.30" y="468.53" font-size="6.8" text-anchor="middle" font-weight="bold" fill="#333">**</text>
<text x="111.10" y="499.70" font-size="5.8" text-anchor="end" font-weight="bold" fill="#1a1a1a" transform="rotate(-45 111.10 499.70)">HeLa</text>
<line x1="120.26" y1="433.88" x2="120.26" y2="426.96" stroke="#8a8a8a" stroke-width="0.5"/>
<line x1="119.26" y1="426.96" x2="121.26" y2="426.96" stroke="#8a8a8a" stroke-width="0.5"/>
<rect x="118.56" y="433.88" width="3.40" height="57.22" fill="#000"/>
<line x1="125.06" y1="471.92" x2="125.06" y2="468.78" stroke="#a9d08e" stroke-width="0.5"/>
<line x1="124.06" y1="468.78" x2="126.06" y2="468.78" stroke="#a9d08e" stroke-width="0.5"/>
<rect x="123.36" y="471.92" width="3.40" height="19.18" fill="#5d9f3a"/>
<line x1="122.66" y1="491.10" x2="122.66" y2="494.30" stroke="#333" stroke-width="0.6"/>
<text x="125.06" y="469.48" font-size="6.8" text-anchor="middle" font-weight="bold" fill="#333">**</text>
<text x="123.86" y="499.70" font-size="5.8" text-anchor="end" font-weight="bold" fill="#1a1a1a" transform="rotate(-45 123.86 499.70)">MCF-7</text>
<line x1="133.02" y1="434.82" x2="133.02" y2="428.22" stroke="#8a8a8a" stroke-width="0.5"/>
<line x1="132.02" y1="428.22" x2="134.02" y2="428.22" stroke="#8a8a8a" stroke-width="0.5"/>
<rect x="131.32" y="434.82" width="3.40" height="56.28" fill="#000"/>
<line x1="137.82" y1="471.29" x2="137.82" y2="468.78" stroke="#a9d08e" stroke-width="0.5"/>
<line x1="136.82" y1="468.78" x2="138.82" y2="468.78" stroke="#a9d08e" stroke-width="0.5"/>
<rect x="136.12" y="471.29" width="3.40" height="19.81" fill="#5d9f3a"/>
<line x1="135.42" y1="491.10" x2="135.42" y2="494.30" stroke="#333" stroke-width="0.6"/>
<text x="137.82" y="469.48" font-size="6.8" text-anchor="middle" font-weight="bold" fill="#333">**</text>
<text x="136.62" y="499.70" font-size="5.8" text-anchor="end" font-weight="bold" fill="#1a1a1a" transform="rotate(-45 136.62 499.70)">MKN-45</text>
<line x1="145.78" y1="438.91" x2="145.78" y2="432.62" stroke="#8a8a8a" stroke-width="0.5"/>
<line x1="144.78" y1="432.62" x2="146.78" y2="432.62" stroke="#8a8a8a" stroke-width="0.5"/>
<rect x="144.08" y="438.91" width="3.40" height="52.19" fill="#000"/>
<line x1="150.58" y1="471.92" x2="150.58" y2="468.46" stroke="#a9d08e" stroke-width="0.5"/>
<line x1="149.58" y1="468.46" x2="151.58" y2="468.46" stroke="#a9d08e" stroke-width="0.5"/>
<rect x="148.88" y="471.92" width="3.40" height="19.18" fill="#5d9f3a"/>
<line x1="148.18" y1="491.10" x2="148.18" y2="494.30" stroke="#333" stroke-width="0.6"/>
<text x="150.58" y="469.16" font-size="6.8" text-anchor="middle" font-weight="bold" fill="#333">**</text>
<text x="149.38" y="499.70" font-size="5.8" text-anchor="end" font-weight="bold" fill="#1a1a1a" transform="rotate(-45 149.38 499.70)">SK-MEL-1</text>
<text x="26.76" y="481.83" font-size="6.5" font-weight="bold" fill="#000" transform="rotate(-90 26.76 481.83)">MDA (μM/g protein)</text>
<rect x="61.90" y="412.70" width="8.20" height="4.00" fill="#000"/>
<text x="74.30" y="417.04" font-size="6.5" fill="#1a1a1a">con</text>
<rect x="108.60" y="412.70" width="8.20" height="4.00" fill="#5d9f3a"/>
<text x="120.80" y="417.04" font-size="6.5" fill="#5a9d38">IFN-α</text>
<path d="M195.5 418.1V497.3H309.5M192.1 497.3H195.5M192.1 477.5H195.5M192.1 457.7H195.5M192.1 437.9H195.5M192.1 418.1H195.5" stroke="#333" stroke-width="0.75" fill="none"/>
<text x="191.40" y="499.42" font-size="5.9" text-anchor="end" font-weight="bold" fill="#000">0</text>
<text x="191.40" y="479.62" font-size="5.9" text-anchor="end" font-weight="bold" fill="#000">1</text>
<text x="191.40" y="459.82" font-size="5.9" text-anchor="end" font-weight="bold" fill="#000">2</text>
<text x="191.40" y="440.02" font-size="5.9" text-anchor="end" font-weight="bold" fill="#000">3</text>
<text x="191.40" y="420.22" font-size="5.9" text-anchor="end" font-weight="bold" fill="#000">4</text>
<line x1="198.60" y1="451.96" x2="198.60" y2="447.01" stroke="#8a8a8a" stroke-width="0.5"/>
<line x1="197.60" y1="447.01" x2="199.60" y2="447.01" stroke="#8a8a8a" stroke-width="0.5"/>
<rect x="196.90" y="451.96" width="3.40" height="45.34" fill="#000"/>
<line x1="203.40" y1="481.26" x2="203.40" y2="478.09" stroke="#a9d08e" stroke-width="0.5"/>
<line x1="202.40" y1="478.09" x2="204.40" y2="478.09" stroke="#a9d08e" stroke-width="0.5"/>
<rect x="201.70" y="481.26" width="3.40" height="16.04" fill="#5d9f3a"/>
<line x1="201.00" y1="497.30" x2="201.00" y2="500.50" stroke="#333" stroke-width="0.6"/>
<text x="203.40" y="478.79" font-size="6.8" text-anchor="middle" font-weight="bold" fill="#333">*</text>
<text x="202.20" y="505.90" font-size="5.8" text-anchor="end" font-weight="bold" fill="#1a1a1a" transform="rotate(-45 202.20 505.90)">HT-29</text>
<line x1="211.39" y1="446.22" x2="211.39" y2="439.09" stroke="#8a8a8a" stroke-width="0.5"/>
<line x1="210.39" y1="439.09" x2="212.39" y2="439.09" stroke="#8a8a8a" stroke-width="0.5"/>
<rect x="209.69" y="446.22" width="3.40" height="51.08" fill="#000"/>
<line x1="216.19" y1="478.69" x2="216.19" y2="475.92" stroke="#a9d08e" stroke-width="0.5"/>
<line x1="215.19" y1="475.92" x2="217.19" y2="475.92" stroke="#a9d08e" stroke-width="0.5"/>
<rect x="214.49" y="478.69" width="3.40" height="18.61" fill="#5d9f3a"/>
<line x1="213.79" y1="497.30" x2="213.79" y2="500.50" stroke="#333" stroke-width="0.6"/>
<text x="216.19" y="476.62" font-size="6.8" text-anchor="middle" font-weight="bold" fill="#333">*</text>
<text x="214.99" y="505.90" font-size="5.8" text-anchor="end" font-weight="bold" fill="#1a1a1a" transform="rotate(-45 214.99 505.90)">HuH-7</text>
<line x1="224.18" y1="445.03" x2="224.18" y2="437.90" stroke="#8a8a8a" stroke-width="0.5"/>
<line x1="223.18" y1="437.90" x2="225.18" y2="437.90" stroke="#8a8a8a" stroke-width="0.5"/>
<rect x="222.48" y="445.03" width="3.40" height="52.27" fill="#000"/>
<line x1="228.98" y1="476.91" x2="228.98" y2="474.13" stroke="#a9d08e" stroke-width="0.5"/>
<line x1="227.98" y1="474.13" x2="229.98" y2="474.13" stroke="#a9d08e" stroke-width="0.5"/>
<rect x="227.28" y="476.91" width="3.40" height="20.39" fill="#5d9f3a"/>
<line x1="226.58" y1="497.30" x2="226.58" y2="500.50" stroke="#333" stroke-width="0.6"/>
<text x="228.98" y="474.83" font-size="6.8" text-anchor="middle" font-weight="bold" fill="#333">*</text>
<text x="227.78" y="505.90" font-size="5.8" text-anchor="end" font-weight="bold" fill="#1a1a1a" transform="rotate(-45 227.78 505.90)">A-498</text>
<line x1="236.97" y1="439.09" x2="236.97" y2="429.78" stroke="#8a8a8a" stroke-width="0.5"/>
<line x1="235.97" y1="429.78" x2="237.97" y2="429.78" stroke="#8a8a8a" stroke-width="0.5"/>
<rect x="235.27" y="439.09" width="3.40" height="58.21" fill="#000"/>
<line x1="241.77" y1="468.19" x2="241.77" y2="464.23" stroke="#a9d08e" stroke-width="0.5"/>
<line x1="240.77" y1="464.23" x2="242.77" y2="464.23" stroke="#a9d08e" stroke-width="0.5"/>
<rect x="240.07" y="468.19" width="3.40" height="29.11" fill="#5d9f3a"/>
<line x1="239.37" y1="497.30" x2="239.37" y2="500.50" stroke="#333" stroke-width="0.6"/>
<text x="241.77" y="464.93" font-size="6.8" text-anchor="middle" font-weight="bold" fill="#333">*</text>
<text x="240.57" y="505.90" font-size="5.8" text-anchor="end" font-weight="bold" fill="#1a1a1a" transform="rotate(-45 240.57 505.90)">A-549</text>
<line x1="249.76" y1="441.27" x2="249.76" y2="433.35" stroke="#8a8a8a" stroke-width="0.5"/>
<line x1="248.76" y1="433.35" x2="250.76" y2="433.35" stroke="#8a8a8a" stroke-width="0.5"/>
<rect x="248.06" y="441.27" width="3.40" height="56.03" fill="#000"/>
<line x1="254.56" y1="479.28" x2="254.56" y2="476.51" stroke="#a9d08e" stroke-width="0.5"/>
<line x1="253.56" y1="476.51" x2="255.56" y2="476.51" stroke="#a9d08e" stroke-width="0.5"/>
<rect x="252.86" y="479.28" width="3.40" height="18.02" fill="#5d9f3a"/>
<line x1="252.16" y1="497.30" x2="252.16" y2="500.50" stroke="#333" stroke-width="0.6"/>
<text x="254.56" y="477.21" font-size="6.8" text-anchor="middle" font-weight="bold" fill="#333">*</text>
<text x="253.36" y="505.90" font-size="5.8" text-anchor="end" font-weight="bold" fill="#1a1a1a" transform="rotate(-45 253.36 505.90)">PANC-1</text>
<line x1="262.55" y1="446.22" x2="262.55" y2="439.09" stroke="#8a8a8a" stroke-width="0.5"/>
<line x1="261.55" y1="439.09" x2="263.55" y2="439.09" stroke="#8a8a8a" stroke-width="0.5"/>
<rect x="260.85" y="446.22" width="3.40" height="51.08" fill="#000"/>
<line x1="267.35" y1="476.51" x2="267.35" y2="474.13" stroke="#a9d08e" stroke-width="0.5"/>
<line x1="266.35" y1="474.13" x2="268.35" y2="474.13" stroke="#a9d08e" stroke-width="0.5"/>
<rect x="265.65" y="476.51" width="3.40" height="20.79" fill="#5d9f3a"/>
<line x1="264.95" y1="497.30" x2="264.95" y2="500.50" stroke="#333" stroke-width="0.6"/>
<text x="267.35" y="474.83" font-size="6.8" text-anchor="middle" font-weight="bold" fill="#333">*</text>
<text x="266.15" y="505.90" font-size="5.8" text-anchor="end" font-weight="bold" fill="#1a1a1a" transform="rotate(-45 266.15 505.90)">HeLa</text>
<line x1="275.34" y1="440.28" x2="275.34" y2="431.96" stroke="#8a8a8a" stroke-width="0.5"/>
<line x1="274.34" y1="431.96" x2="276.34" y2="431.96" stroke="#8a8a8a" stroke-width="0.5"/>
<rect x="273.64" y="440.28" width="3.40" height="57.02" fill="#000"/>
<line x1="280.14" y1="478.09" x2="280.14" y2="475.32" stroke="#a9d08e" stroke-width="0.5"/>
<line x1="279.14" y1="475.32" x2="281.14" y2="475.32" stroke="#a9d08e" stroke-width="0.5"/>
<rect x="278.44" y="478.09" width="3.40" height="19.21" fill="#5d9f3a"/>
<line x1="277.74" y1="497.30" x2="277.74" y2="500.50" stroke="#333" stroke-width="0.6"/>
<text x="280.14" y="476.02" font-size="6.8" text-anchor="middle" font-weight="bold" fill="#333">*</text>
<text x="278.94" y="505.90" font-size="5.8" text-anchor="end" font-weight="bold" fill="#1a1a1a" transform="rotate(-45 278.94 505.90)">MCF-7</text>
<line x1="288.13" y1="442.06" x2="288.13" y2="435.52" stroke="#8a8a8a" stroke-width="0.5"/>
<line x1="287.13" y1="435.52" x2="289.13" y2="435.52" stroke="#8a8a8a" stroke-width="0.5"/>
<rect x="286.43" y="442.06" width="3.40" height="55.24" fill="#000"/>
<line x1="292.93" y1="477.50" x2="292.93" y2="474.73" stroke="#a9d08e" stroke-width="0.5"/>
<line x1="291.93" y1="474.73" x2="293.93" y2="474.73" stroke="#a9d08e" stroke-width="0.5"/>
<rect x="291.23" y="477.50" width="3.40" height="19.80" fill="#5d9f3a"/>
<line x1="290.53" y1="497.30" x2="290.53" y2="500.50" stroke="#333" stroke-width="0.6"/>
<text x="292.93" y="475.43" font-size="6.8" text-anchor="middle" font-weight="bold" fill="#333">*</text>
<text x="291.73" y="505.90" font-size="5.8" text-anchor="end" font-weight="bold" fill="#1a1a1a" transform="rotate(-45 291.73 505.90)">MKN-45</text>
<line x1="300.92" y1="447.40" x2="300.92" y2="439.09" stroke="#8a8a8a" stroke-width="0.5"/>
<line x1="299.92" y1="439.09" x2="301.92" y2="439.09" stroke="#8a8a8a" stroke-width="0.5"/>
<rect x="299.22" y="447.40" width="3.40" height="49.90" fill="#000"/>
<line x1="305.72" y1="478.09" x2="305.72" y2="474.73" stroke="#a9d08e" stroke-width="0.5"/>
<line x1="304.72" y1="474.73" x2="306.72" y2="474.73" stroke="#a9d08e" stroke-width="0.5"/>
<rect x="304.02" y="478.09" width="3.40" height="19.21" fill="#5d9f3a"/>
<line x1="303.32" y1="497.30" x2="303.32" y2="500.50" stroke="#333" stroke-width="0.6"/>
<text x="305.72" y="475.43" font-size="6.8" text-anchor="middle" font-weight="bold" fill="#333">*</text>
<text x="304.52" y="505.90" font-size="5.8" text-anchor="end" font-weight="bold" fill="#1a1a1a" transform="rotate(-45 304.52 505.90)">SK-MEL-1</text>
<text x="184.96" y="484.87" font-size="6.5" font-weight="bold" fill="#000" transform="rotate(-90 184.96 484.87)">LPO (M/g protein)</text>
<rect x="221.90" y="409.20" width="8.20" height="4.00" fill="#000"/>
<text x="234.30" y="413.54" font-size="6.5" fill="#1a1a1a">con</text>
<rect x="260.90" y="409.20" width="8.20" height="4.00" fill="#5d9f3a"/>
<text x="273.80" y="413.54" font-size="6.5" fill="#5a9d38">IFN-α</text>
<text x="327.80" y="417.50" font-size="17" fill="#000">F</text>
<path d="M373.5 415.9V494.1H487.6M370.1 494.1H373.5M370.1 478.5H373.5M370.1 462.8H373.5M370.1 447.2H373.5M370.1 431.5H373.5M370.1 415.9H373.5" stroke="#333" stroke-width="0.75" fill="none"/>
<text x="369.40" y="496.22" font-size="5.9" text-anchor="end" font-weight="bold" fill="#000">0.0</text>
<text x="369.40" y="480.58" font-size="5.9" text-anchor="end" font-weight="bold" fill="#000">0.2</text>
<text x="369.40" y="464.94" font-size="5.9" text-anchor="end" font-weight="bold" fill="#000">0.4</text>
<text x="369.40" y="449.30" font-size="5.9" text-anchor="end" font-weight="bold" fill="#000">0.6</text>
<text x="369.40" y="433.66" font-size="5.9" text-anchor="end" font-weight="bold" fill="#000">0.8</text>
<text x="369.40" y="418.02" font-size="5.9" text-anchor="end" font-weight="bold" fill="#000">1.0</text>
<line x1="377.10" y1="447.18" x2="377.10" y2="440.14" stroke="#8a8a8a" stroke-width="0.5"/>
<line x1="376.10" y1="440.14" x2="378.10" y2="440.14" stroke="#8a8a8a" stroke-width="0.5"/>
<rect x="375.40" y="447.18" width="3.40" height="46.92" fill="#000"/>
<line x1="381.90" y1="476.90" x2="381.90" y2="475.33" stroke="#a9d08e" stroke-width="0.5"/>
<line x1="380.90" y1="475.33" x2="382.90" y2="475.33" stroke="#a9d08e" stroke-width="0.5"/>
<rect x="380.20" y="476.90" width="3.40" height="17.20" fill="#5d9f3a"/>
<line x1="379.50" y1="494.10" x2="379.50" y2="497.30" stroke="#333" stroke-width="0.6"/>
<text x="381.90" y="476.03" font-size="6.8" text-anchor="middle" font-weight="bold" fill="#333">**</text>
<text x="380.70" y="502.70" font-size="5.8" text-anchor="end" font-weight="bold" fill="#1a1a1a" transform="rotate(-45 380.70 502.70)">HT-29</text>
<line x1="389.85" y1="441.71" x2="389.85" y2="433.10" stroke="#8a8a8a" stroke-width="0.5"/>
<line x1="388.85" y1="433.10" x2="390.85" y2="433.10" stroke="#8a8a8a" stroke-width="0.5"/>
<rect x="388.15" y="441.71" width="3.40" height="52.39" fill="#000"/>
<line x1="394.65" y1="474.55" x2="394.65" y2="470.64" stroke="#a9d08e" stroke-width="0.5"/>
<line x1="393.65" y1="470.64" x2="395.65" y2="470.64" stroke="#a9d08e" stroke-width="0.5"/>
<rect x="392.95" y="474.55" width="3.40" height="19.55" fill="#5d9f3a"/>
<line x1="392.25" y1="494.10" x2="392.25" y2="497.30" stroke="#333" stroke-width="0.6"/>
<text x="394.65" y="471.34" font-size="6.8" text-anchor="middle" font-weight="bold" fill="#333">**</text>
<text x="393.45" y="502.70" font-size="5.8" text-anchor="end" font-weight="bold" fill="#1a1a1a" transform="rotate(-45 393.45 502.70)">HuH-7</text>
<line x1="402.60" y1="440.14" x2="402.60" y2="434.67" stroke="#8a8a8a" stroke-width="0.5"/>
<line x1="401.60" y1="434.67" x2="403.60" y2="434.67" stroke="#8a8a8a" stroke-width="0.5"/>
<rect x="400.90" y="440.14" width="3.40" height="53.96" fill="#000"/>
<line x1="407.40" y1="472.99" x2="407.40" y2="469.08" stroke="#a9d08e" stroke-width="0.5"/>
<line x1="406.40" y1="469.08" x2="408.40" y2="469.08" stroke="#a9d08e" stroke-width="0.5"/>
<rect x="405.70" y="472.99" width="3.40" height="21.11" fill="#5d9f3a"/>
<line x1="405.00" y1="494.10" x2="405.00" y2="497.30" stroke="#333" stroke-width="0.6"/>
<text x="407.40" y="469.78" font-size="6.8" text-anchor="middle" font-weight="bold" fill="#333">**</text>
<text x="406.20" y="502.70" font-size="5.8" text-anchor="end" font-weight="bold" fill="#1a1a1a" transform="rotate(-45 406.20 502.70)">A-498</text>
<line x1="415.35" y1="432.32" x2="415.35" y2="428.41" stroke="#8a8a8a" stroke-width="0.5"/>
<line x1="414.35" y1="428.41" x2="416.35" y2="428.41" stroke="#8a8a8a" stroke-width="0.5"/>
<rect x="413.65" y="432.32" width="3.40" height="61.78" fill="#000"/>
<line x1="420.15" y1="464.38" x2="420.15" y2="457.35" stroke="#a9d08e" stroke-width="0.5"/>
<line x1="419.15" y1="457.35" x2="421.15" y2="457.35" stroke="#a9d08e" stroke-width="0.5"/>
<rect x="418.45" y="464.38" width="3.40" height="29.72" fill="#5d9f3a"/>
<line x1="417.75" y1="494.10" x2="417.75" y2="497.30" stroke="#333" stroke-width="0.6"/>
<text x="420.15" y="458.05" font-size="6.8" text-anchor="middle" font-weight="bold" fill="#333">**</text>
<text x="418.95" y="502.70" font-size="5.8" text-anchor="end" font-weight="bold" fill="#1a1a1a" transform="rotate(-45 418.95 502.70)">A-549</text>
<line x1="428.10" y1="437.01" x2="428.10" y2="429.98" stroke="#8a8a8a" stroke-width="0.5"/>
<line x1="427.10" y1="429.98" x2="429.10" y2="429.98" stroke="#8a8a8a" stroke-width="0.5"/>
<rect x="426.40" y="437.01" width="3.40" height="57.09" fill="#000"/>
<line x1="432.90" y1="474.55" x2="432.90" y2="469.86" stroke="#a9d08e" stroke-width="0.5"/>
<line x1="431.90" y1="469.86" x2="433.90" y2="469.86" stroke="#a9d08e" stroke-width="0.5"/>
<rect x="431.20" y="474.55" width="3.40" height="19.55" fill="#5d9f3a"/>
<line x1="430.50" y1="494.10" x2="430.50" y2="497.30" stroke="#333" stroke-width="0.6"/>
<text x="432.90" y="470.56" font-size="6.8" text-anchor="middle" font-weight="bold" fill="#333">**</text>
<text x="431.70" y="502.70" font-size="5.8" text-anchor="end" font-weight="bold" fill="#1a1a1a" transform="rotate(-45 431.70 502.70)">PANC-1</text>
<line x1="440.85" y1="439.36" x2="440.85" y2="430.76" stroke="#8a8a8a" stroke-width="0.5"/>
<line x1="439.85" y1="430.76" x2="441.85" y2="430.76" stroke="#8a8a8a" stroke-width="0.5"/>
<rect x="439.15" y="439.36" width="3.40" height="54.74" fill="#000"/>
<line x1="445.65" y1="471.42" x2="445.65" y2="467.51" stroke="#a9d08e" stroke-width="0.5"/>
<line x1="444.65" y1="467.51" x2="446.65" y2="467.51" stroke="#a9d08e" stroke-width="0.5"/>
<rect x="443.95" y="471.42" width="3.40" height="22.68" fill="#5d9f3a"/>
<line x1="443.25" y1="494.10" x2="443.25" y2="497.30" stroke="#333" stroke-width="0.6"/>
<text x="445.65" y="468.21" font-size="6.8" text-anchor="middle" font-weight="bold" fill="#333">**</text>
<text x="444.45" y="502.70" font-size="5.8" text-anchor="end" font-weight="bold" fill="#1a1a1a" transform="rotate(-45 444.45 502.70)">HeLa</text>
<line x1="453.60" y1="434.67" x2="453.60" y2="426.85" stroke="#8a8a8a" stroke-width="0.5"/>
<line x1="452.60" y1="426.85" x2="454.60" y2="426.85" stroke="#8a8a8a" stroke-width="0.5"/>
<rect x="451.90" y="434.67" width="3.40" height="59.43" fill="#000"/>
<line x1="458.40" y1="472.99" x2="458.40" y2="466.73" stroke="#a9d08e" stroke-width="0.5"/>
<line x1="457.40" y1="466.73" x2="459.40" y2="466.73" stroke="#a9d08e" stroke-width="0.5"/>
<rect x="456.70" y="472.99" width="3.40" height="21.11" fill="#5d9f3a"/>
<line x1="456.00" y1="494.10" x2="456.00" y2="497.30" stroke="#333" stroke-width="0.6"/>
<text x="458.40" y="467.43" font-size="6.8" text-anchor="middle" font-weight="bold" fill="#333">**</text>
<text x="457.20" y="502.70" font-size="5.8" text-anchor="end" font-weight="bold" fill="#1a1a1a" transform="rotate(-45 457.20 502.70)">MCF-7</text>
<line x1="466.35" y1="437.80" x2="466.35" y2="429.19" stroke="#8a8a8a" stroke-width="0.5"/>
<line x1="465.35" y1="429.19" x2="467.35" y2="429.19" stroke="#8a8a8a" stroke-width="0.5"/>
<rect x="464.65" y="437.80" width="3.40" height="56.30" fill="#000"/>
<line x1="471.15" y1="471.42" x2="471.15" y2="465.95" stroke="#a9d08e" stroke-width="0.5"/>
<line x1="470.15" y1="465.95" x2="472.15" y2="465.95" stroke="#a9d08e" stroke-width="0.5"/>
<rect x="469.45" y="471.42" width="3.40" height="22.68" fill="#5d9f3a"/>
<line x1="468.75" y1="494.10" x2="468.75" y2="497.30" stroke="#333" stroke-width="0.6"/>
<text x="471.15" y="466.65" font-size="6.8" text-anchor="middle" font-weight="bold" fill="#333">**</text>
<text x="469.95" y="502.70" font-size="5.8" text-anchor="end" font-weight="bold" fill="#1a1a1a" transform="rotate(-45 469.95 502.70)">MKN-45</text>
<line x1="479.10" y1="444.83" x2="479.10" y2="437.40" stroke="#8a8a8a" stroke-width="0.5"/>
<line x1="478.10" y1="437.40" x2="480.10" y2="437.40" stroke="#8a8a8a" stroke-width="0.5"/>
<rect x="477.40" y="444.83" width="3.40" height="49.27" fill="#000"/>
<line x1="483.90" y1="473.77" x2="483.90" y2="469.86" stroke="#a9d08e" stroke-width="0.5"/>
<line x1="482.90" y1="469.86" x2="484.90" y2="469.86" stroke="#a9d08e" stroke-width="0.5"/>
<rect x="482.20" y="473.77" width="3.40" height="20.33" fill="#5d9f3a"/>
<line x1="481.50" y1="494.10" x2="481.50" y2="497.30" stroke="#333" stroke-width="0.6"/>
<text x="483.90" y="470.56" font-size="6.8" text-anchor="middle" font-weight="bold" fill="#333">**</text>
<text x="482.70" y="502.70" font-size="5.8" text-anchor="end" font-weight="bold" fill="#1a1a1a" transform="rotate(-45 482.70 502.70)">B16</text>
<text x="350.86" y="487.53" font-size="6.5" font-weight="bold" fill="#000" transform="rotate(-90 350.86 487.53)">Relative Cell Viability</text>
<text x="358.26" y="474.04" font-size="6.5" font-weight="bold" fill="#000" transform="rotate(-90 358.26 474.04)">(OD 490 nm)</text>
<rect x="376.00" y="409.30" width="8.20" height="3.50" fill="#000"/>
<text x="388.20" y="413.39" font-size="6.5" fill="#1a1a1a">con</text>
<rect x="376.00" y="420.60" width="8.20" height="3.50" fill="#5d9f3a"/>
<text x="388.20" y="424.69" font-size="6.5" fill="#1a1a1a">IFN-α</text>
<text x="4.20" y="533.50" font-size="17.5" fill="#000">G</text>
<text x="64.40" y="535.60" font-size="8.5" text-anchor="middle" fill="#000">con</text>
<text x="122.60" y="536.80" font-size="6.4" text-anchor="middle" fill="#4fb82a">IFN-γ</text>
<path d="M38.5 539.5H88.5V593.5" stroke="#b4b4b4" stroke-width="0.9" fill="none"/><path d="M38.5 539.5V593.5H88.5" stroke="#8c8c8c" stroke-width="0.9" fill="none"/>
<path d="M37.2 593.5h1.3M38.5 593.5v1.3M37.2 582.7h1.3M48.5 593.5v1.3M37.2 571.9h1.3M58.5 593.5v1.3M37.2 561.1h1.3M68.5 593.5v1.3M37.2 550.3h1.3M78.5 593.5v1.3M37.2 539.5h1.3M88.5 593.5v1.3" stroke="#aaa" stroke-width="0.4"/>
<path d="M36.9 595.8h2.4M35.9 592.1v2.2M46.9 595.8h2.4M35.9 581.3v2.2M56.9 595.8h2.4M35.9 570.5v2.2M66.9 595.8h2.4M35.9 559.7v2.2M76.9 595.8h2.4M35.9 548.9v2.2M86.9 595.8h2.4M35.9 538.1v2.2" stroke="#c4c4c4" stroke-width="0.9"/>
<g fill="#666" font-size="3"><text x="39.7" y="542.5">1.02%</text><text x="87.3" y="542.5" text-anchor="end">12.5%</text><text x="39.7" y="592.5">75.1%</text><text x="87.3" y="592.5" text-anchor="end">3.06%</text></g>
<ellipse cx="51.5" cy="582.7" rx="5.0" ry="4.0" transform="rotate(-30 51.5 582.7)" fill="#f5361c" fill-opacity="1.0" filter="url(#bl)"/>
<ellipse cx="59.5" cy="567.6" rx="5.0" ry="4.0" transform="rotate(0 59.5 567.6)" fill="#f5361c" fill-opacity="0.05" filter="url(#bl)"/>
<path d="M49.4 590.1h0M56.1 587.5h0M48.2 585.5h0M57.0 587.3h0M50.5 581.3h0M53.9 580.9h0M50.3 586.8h0M42.8 583.2h0M55.4 578.2h0M51.1 584.6h0M56.5 582.1h0M47.0 582.8h0M55.0 580.1h0M50.9 586.9h0M59.7 587.6h0M46.3 582.6h0M49.7 585.3h0M51.9 587.4h0M43.8 591.4h0M48.7 583.1h0M53.9 582.2h0M50.8 589.8h0M52.6 579.9h0M50.1 578.6h0M46.6 584.2h0M53.0 582.3h0M46.1 579.7h0M48.6 591.4h0M51.3 579.3h0M56.8 582.1h0M48.9 581.5h0M56.2 581.5h0M58.0 580.6h0M48.3 581.9h0M49.5 585.0h0M53.6 584.2h0M51.1 578.3h0M49.0 580.0h0M50.7 577.3h0M47.8 581.0h0M48.8 583.1h0M56.4 578.8h0M45.8 584.6h0M55.2 583.0h0M56.2 588.8h0M55.6 580.7h0M53.2 575.8h0M49.2 580.2h0M55.2 587.7h0M52.8 589.0h0M50.6 589.5h0M43.9 583.3h0M54.9 580.4h0M52.0 582.4h0M51.8 581.7h0M47.5 583.7h0M50.2 579.5h0M56.5 587.6h0M44.7 584.2h0M50.5 583.3h0M50.4 580.1h0M51.4 582.8h0M54.2 588.0h0M49.1 577.5h0M47.1 587.9h0M49.1 581.3h0M46.1 584.4h0M49.9 580.6h0M52.0 586.4h0M55.3 582.9h0M48.3 578.5h0M57.1 586.1h0M58.2 584.0h0M53.2 583.4h0M53.9 586.9h0M54.7 590.4h0M53.6 580.0h0M48.4 577.4h0M48.3 583.2h0M58.6 575.0h0M54.9 581.1h0M51.7 585.4h0M46.3 589.9h0M58.9 579.7h0M51.6 583.4h0M52.9 579.7h0M52.9 584.1h0M51.0 584.7h0M54.1 584.4h0M47.0 582.9h0M52.3 587.6h0M49.2 576.7h0M50.7 591.8h0M50.2 577.7h0M48.6 585.0h0M59.6 585.2h0M49.6 582.5h0M56.4 575.5h0M57.7 580.6h0M54.3 586.8h0M51.6 578.9h0M46.2 585.9h0M55.9 586.2h0M44.8 592.5h0M56.6 586.5h0M54.7 581.8h0M53.8 583.1h0M49.1 583.6h0M51.1 580.9h0M43.6 580.9h0M54.3 583.4h0M49.6 578.6h0M63.0 566.1h0M51.0 573.6h0M53.4 576.2h0M61.7 565.9h0M49.9 564.9h0M65.5 572.8h0M60.6 561.0h0M57.9 566.5h0M61.4 567.1h0M60.9 561.3h0M56.9 573.1h0M53.6 571.1h0M68.9 570.1h0M53.8 572.4h0M51.9 568.9h0M57.8 572.3h0M64.3 568.3h0M66.8 571.4h0M57.6 563.8h0M69.5 566.0h0M61.2 567.1h0M57.6 561.4h0M58.9 567.1h0M63.5 565.6h0M53.1 563.5h0M59.3 568.5h0M62.5 566.1h0M61.7 568.1h0M66.4 567.4h0M60.1 569.8h0M64.5 564.0h0M57.6 566.5h0M50.8 572.6h0M63.9 567.7h0M73.2 572.5h0M67.8 573.6h0M63.2 562.1h0M65.7 569.2h0M54.6 567.8h0M62.6 571.4h0M60.2 565.6h0M62.6 564.6h0M59.2 570.5h0M53.6 569.0h0M51.5 564.0h0M54.5 567.2h0M62.4 567.4h0M63.2 568.0h0M58.7 569.5h0M58.5 568.1h0M63.7 565.4h0M64.2 563.3h0M58.6 560.9h0M57.3 573.7h0M61.0 572.5h0M53.5 563.7h0M61.4 570.8h0M62.9 561.1h0M61.6 567.3h0M60.0 569.4h0M58.4 561.1h0M55.1 562.0h0M54.1 567.1h0M64.8 564.8h0" stroke="#f5361c" stroke-width="0.6" stroke-linecap="round" fill="none" stroke-opacity="0.8"/>
<path d="M57.5 539.5V593.5M38.5 576.5H88.5" stroke="#f2737b" stroke-width="0.8" fill="none"/>
<rect x="56.80" y="549.60" width="1.40" height="1.40" fill="#e8404a"/>
<rect x="77.30" y="575.80" width="1.40" height="1.40" fill="#e8404a"/>
<rect x="56.90" y="575.90" width="1.20" height="1.20" fill="#e8404a"/>
<path d="M95.5 540.5H145.5V594.5" stroke="#b4b4b4" stroke-width="0.9" fill="none"/><path d="M95.5 540.5V594.5H145.5" stroke="#8c8c8c" stroke-width="0.9" fill="none"/>
<path d="M94.2 594.5h1.3M95.5 594.5v1.3M94.2 583.7h1.3M105.5 594.5v1.3M94.2 572.9h1.3M115.5 594.5v1.3M94.2 562.1h1.3M125.5 594.5v1.3M94.2 551.3h1.3M135.5 594.5v1.3M94.2 540.5h1.3M145.5 594.5v1.3" stroke="#aaa" stroke-width="0.4"/>
<path d="M93.9 596.8h2.4M92.9 593.1v2.2M103.9 596.8h2.4M92.9 582.3v2.2M113.9 596.8h2.4M92.9 571.5v2.2M123.9 596.8h2.4M92.9 560.7v2.2M133.9 596.8h2.4M92.9 549.9v2.2M143.9 596.8h2.4M92.9 539.1v2.2" stroke="#c4c4c4" stroke-width="0.9"/>
<g fill="#666" font-size="3"><text x="96.7" y="543.5">1.02%</text><text x="144.3" y="543.5" text-anchor="end">12.5%</text><text x="96.7" y="593.5">75.1%</text><text x="144.3" y="593.5" text-anchor="end">3.06%</text></g>
<ellipse cx="109.0" cy="583.7" rx="5.0" ry="3.5" transform="rotate(-35 109.0 583.7)" fill="#f5361c" fill-opacity="1.0" filter="url(#bl)"/>
<ellipse cx="120.5" cy="571.8" rx="8.0" ry="4.0" transform="rotate(-35 120.5 571.8)" fill="#f5361c" fill-opacity="0.2" filter="url(#bl)"/>
<path d="M104.2 582.3h0M103.3 587.9h0M106.9 584.2h0M106.7 587.3h0M106.0 588.0h0M108.3 587.4h0M106.9 587.0h0M110.3 582.4h0M114.8 580.4h0M107.4 587.7h0M105.2 584.1h0M109.4 584.2h0M111.3 574.9h0M110.3 587.4h0M109.1 585.0h0M111.7 576.7h0M110.7 585.8h0M103.6 580.2h0M106.0 586.6h0M113.2 588.4h0M110.4 576.3h0M114.2 583.8h0M114.1 579.5h0M107.4 585.4h0M115.4 581.8h0M116.2 581.9h0M105.1 582.3h0M112.3 575.2h0M107.2 583.6h0M104.8 584.3h0M113.6 590.3h0M107.8 582.4h0M111.2 586.0h0M105.5 584.5h0M104.5 589.7h0M114.2 586.3h0M109.2 592.5h0M111.4 580.9h0M107.1 583.8h0M106.4 588.7h0M105.6 583.1h0M111.0 582.8h0M106.6 584.4h0M110.0 588.6h0M110.9 579.3h0M111.5 587.6h0M111.5 589.3h0M111.8 584.5h0M103.7 590.9h0M111.3 584.5h0M111.6 584.0h0M109.0 587.4h0M107.2 580.6h0M105.9 586.5h0M105.8 576.8h0M104.1 591.5h0M114.5 591.6h0M103.4 586.6h0M108.1 586.7h0M116.9 584.9h0M108.0 589.5h0M105.5 587.4h0M110.8 585.0h0M108.9 589.3h0M108.7 583.8h0M106.0 581.4h0M112.1 582.9h0M114.2 587.8h0M105.5 584.9h0M110.7 586.1h0M110.2 586.7h0M107.1 577.7h0M102.8 579.7h0M107.2 583.2h0M111.3 582.8h0M111.2 587.4h0M108.6 578.9h0M107.3 586.2h0M114.3 579.1h0M108.9 584.8h0M111.5 581.6h0M109.2 581.8h0M105.6 582.8h0M110.1 580.6h0M111.6 583.5h0M107.0 573.9h0M103.4 582.6h0M110.0 586.3h0M120.5 582.0h0M114.3 581.6h0M108.7 586.1h0M103.5 591.4h0M110.2 585.4h0M103.4 583.1h0M106.8 585.1h0M109.5 581.9h0M111.5 584.8h0M104.9 586.1h0M102.7 585.8h0M110.6 579.6h0M116.2 580.7h0M112.2 581.9h0M114.0 584.7h0M108.3 582.0h0M110.9 590.4h0M107.5 582.9h0M103.3 580.7h0M108.0 585.8h0M105.9 582.7h0M111.3 584.0h0M108.1 585.6h0M107.4 588.4h0M114.4 574.5h0M120.3 570.0h0M119.0 582.8h0M124.8 560.6h0M118.3 567.3h0M119.3 566.5h0M124.8 571.3h0M132.4 569.2h0M120.1 576.6h0M117.8 573.2h0M113.9 568.1h0M119.2 563.1h0M120.4 574.4h0M117.6 566.4h0M118.5 576.4h0M130.0 572.8h0M111.8 580.1h0M119.6 576.1h0M111.1 577.7h0M122.9 567.1h0M116.4 570.1h0M123.5 563.4h0M114.8 574.2h0M123.5 579.8h0M120.1 568.1h0M124.4 570.7h0M121.9 570.6h0M120.4 566.3h0M113.1 575.0h0M116.1 578.2h0M133.7 568.5h0M123.7 571.2h0M113.9 570.3h0M120.1 565.0h0M121.8 570.2h0M124.7 569.2h0M119.8 569.6h0M110.5 577.2h0M126.6 572.5h0M125.7 563.5h0M117.0 577.6h0M123.8 581.7h0M118.8 565.8h0M121.0 578.9h0M111.0 579.2h0M116.6 582.2h0M115.8 570.2h0M109.7 576.0h0M105.7 579.9h0M132.5 563.9h0M116.5 569.1h0M121.3 569.0h0M119.0 579.4h0M120.9 567.3h0M128.3 566.1h0M123.5 570.4h0M128.2 569.3h0M120.2 575.4h0M118.7 573.7h0M127.0 562.2h0M114.0 574.4h0M120.7 577.9h0M117.1 585.1h0M128.0 564.4h0M120.7 570.0h0M125.6 571.4h0M126.3 571.4h0M130.5 564.0h0M123.8 568.6h0M121.2 572.4h0M121.0 573.1h0M115.6 574.5h0M114.6 570.4h0M115.6 572.9h0M116.2 567.4h0M116.6 569.2h0M116.5 575.5h0M127.1 568.6h0M116.9 572.3h0M124.1 561.6h0M123.3 562.7h0M117.2 574.4h0M123.0 578.0h0M123.1 569.8h0M125.7 568.3h0M118.7 578.4h0M131.4 570.3h0M118.4 582.3h0M120.0 575.8h0M132.2 574.9h0M109.5 574.7h0M128.0 569.0h0M112.3 563.6h0M122.5 569.6h0M112.4 590.2h0M105.8 579.5h0M121.0 572.6h0M124.0 568.1h0M114.9 574.1h0M106.7 576.2h0M129.6 562.2h0M124.3 578.2h0M126.4 568.2h0M123.9 568.2h0M117.9 578.4h0M124.8 576.4h0M118.2 571.6h0M121.9 569.9h0M116.8 570.1h0M122.6 571.9h0M130.3 564.8h0M112.1 579.9h0M131.9 561.8h0M115.8 574.3h0M104.3 581.5h0M116.1 567.7h0M121.6 566.8h0M108.9 576.5h0M128.2 575.6h0M127.7 567.7h0M117.2 572.9h0M124.6 566.5h0M124.9 573.3h0M114.3 573.4h0M122.9 570.1h0M118.6 570.6h0M124.3 578.0h0M124.2 561.5h0" stroke="#f5361c" stroke-width="0.6" stroke-linecap="round" fill="none" stroke-opacity="0.8"/>
<path d="M114.5 540.5V594.5M95.5 577.5H145.5" stroke="#f2737b" stroke-width="0.8" fill="none"/>
<rect x="113.80" y="550.60" width="1.40" height="1.40" fill="#e8404a"/>
<rect x="134.30" y="576.80" width="1.40" height="1.40" fill="#e8404a"/>
<rect x="113.90" y="576.90" width="1.20" height="1.20" fill="#e8404a"/>
<text x="30.46" y="579.09" font-size="8.3" fill="#000" transform="rotate(-90 30.46 579.09)">HT-29</text>
<path d="M38.5 600.5H88.5V654.5" stroke="#b4b4b4" stroke-width="0.9" fill="none"/><path d="M38.5 600.5V654.5H88.5" stroke="#8c8c8c" stroke-width="0.9" fill="none"/>
<path d="M37.2 654.5h1.3M38.5 654.5v1.3M37.2 643.7h1.3M48.5 654.5v1.3M37.2 632.9h1.3M58.5 654.5v1.3M37.2 622.1h1.3M68.5 654.5v1.3M37.2 611.3h1.3M78.5 654.5v1.3M37.2 600.5h1.3M88.5 654.5v1.3" stroke="#aaa" stroke-width="0.4"/>
<path d="M36.9 656.8h2.4M35.9 653.1v2.2M46.9 656.8h2.4M35.9 642.3v2.2M56.9 656.8h2.4M35.9 631.5v2.2M66.9 656.8h2.4M35.9 620.7v2.2M76.9 656.8h2.4M35.9 609.9v2.2M86.9 656.8h2.4M35.9 599.1v2.2" stroke="#c4c4c4" stroke-width="0.9"/>
<g fill="#666" font-size="3"><text x="39.7" y="603.5">1.02%</text><text x="87.3" y="603.5" text-anchor="end">12.5%</text><text x="39.7" y="653.5">75.1%</text><text x="87.3" y="653.5" text-anchor="end">3.06%</text></g>
<ellipse cx="51.5" cy="644.2" rx="5.0" ry="4.0" transform="rotate(-30 51.5 644.2)" fill="#f5361c" fill-opacity="1.0" filter="url(#bl)"/>
<ellipse cx="59.5" cy="631.8" rx="4.5" ry="3.0" transform="rotate(0 59.5 631.8)" fill="#f5361c" fill-opacity="0.05" filter="url(#bl)"/>
<ellipse cx="68.5" cy="622.1" rx="2.0" ry="1.5" transform="rotate(-40 68.5 622.1)" fill="#f5361c" fill-opacity="0.4" filter="url(#bl)"/>
<path d="M51.9 644.5h0M48.9 639.5h0M51.3 645.0h0M49.7 646.7h0M39.9 644.2h0M52.6 645.4h0M50.0 643.0h0M54.3 647.5h0M54.6 642.1h0M51.9 648.8h0M55.2 646.1h0M48.8 641.9h0M50.9 641.7h0M57.3 644.8h0M45.0 651.0h0M58.3 645.0h0M48.1 642.3h0M56.9 645.7h0M49.5 640.2h0M46.6 648.3h0M47.2 643.6h0M55.1 646.9h0M42.8 646.2h0M56.1 641.4h0M51.5 647.1h0M45.0 642.4h0M54.6 649.5h0M55.1 642.1h0M54.3 640.8h0M44.0 641.0h0M54.2 646.7h0M52.8 643.3h0M52.2 648.8h0M48.5 639.4h0M55.1 639.2h0M52.9 643.4h0M55.7 642.9h0M56.3 642.4h0M48.9 643.5h0M52.2 640.1h0M54.3 641.5h0M46.5 643.2h0M54.5 650.5h0M54.3 642.7h0M52.0 652.6h0M50.5 644.8h0M52.6 649.6h0M51.2 642.3h0M50.2 640.5h0M47.4 645.9h0M56.4 636.4h0M47.9 639.2h0M52.5 644.6h0M51.5 638.2h0M48.1 643.3h0M55.1 652.5h0M50.7 644.5h0M51.2 648.0h0M62.9 642.9h0M54.9 637.4h0M55.3 642.2h0M58.0 645.3h0M50.6 637.2h0M51.0 642.3h0M53.2 643.4h0M52.1 636.6h0M48.7 645.5h0M51.9 642.2h0M51.5 644.5h0M55.0 641.7h0M48.8 637.6h0M39.3 644.7h0M48.3 635.7h0M52.8 643.1h0M50.1 641.8h0M51.6 647.9h0M52.7 643.4h0M50.2 646.0h0M55.7 641.7h0M47.9 641.0h0M50.1 640.9h0M48.1 650.2h0M45.3 638.6h0M52.5 652.0h0M48.5 640.0h0M49.0 649.0h0M53.4 644.1h0M51.7 646.3h0M58.0 642.7h0M48.2 639.8h0M56.2 648.7h0M51.3 638.6h0M54.7 648.3h0M50.2 647.2h0M59.0 647.3h0M42.4 641.6h0M54.2 645.9h0M50.2 644.9h0M52.4 649.2h0M44.1 649.7h0M45.6 644.6h0M44.2 644.3h0M51.5 644.4h0M57.5 639.8h0M53.4 644.7h0M55.3 648.7h0M52.3 644.5h0M51.1 644.5h0M53.3 647.7h0M51.7 644.4h0M52.8 646.9h0M57.7 634.6h0M57.4 633.9h0M66.7 632.5h0M59.2 628.3h0M62.3 631.9h0M62.9 629.9h0M61.4 637.2h0M61.0 630.9h0M54.6 631.8h0M62.0 633.6h0M55.3 628.8h0M55.9 628.8h0M58.5 632.6h0M66.7 632.4h0M64.9 626.9h0M65.3 634.2h0M61.1 634.3h0M61.8 637.5h0M62.5 626.7h0M53.0 636.6h0M59.2 635.7h0M58.2 629.9h0M58.2 632.8h0M60.2 630.0h0M61.5 633.6h0M56.1 628.5h0M52.2 630.9h0M59.5 629.8h0M57.3 631.4h0M59.6 633.5h0M62.6 633.1h0M63.7 629.0h0M61.8 632.9h0M55.6 629.8h0M61.2 632.0h0M54.8 630.2h0M65.2 634.3h0M59.8 635.8h0M56.1 631.3h0M63.1 630.8h0M55.3 633.6h0M65.5 624.3h0M60.1 628.1h0M58.4 627.6h0M69.2 629.8h0M59.7 629.7h0M55.8 630.5h0M60.3 637.0h0M60.6 636.5h0M55.5 632.0h0M57.9 627.2h0M73.4 631.1h0M60.4 629.6h0M57.3 628.8h0M63.3 630.6h0M59.0 632.4h0M67.2 623.7h0M68.7 622.8h0M68.0 622.6h0M70.1 622.6h0M68.5 623.9h0M67.1 622.9h0M68.8 622.1h0M64.4 623.7h0M69.1 623.3h0M69.0 624.6h0M66.3 624.1h0M69.2 621.5h0M69.7 622.9h0M68.0 623.6h0M69.6 620.7h0M64.4 623.2h0M66.4 621.8h0M68.3 620.7h0M72.2 620.1h0M66.6 623.2h0M71.1 621.2h0M68.2 624.4h0M70.0 625.1h0M68.4 623.4h0" stroke="#f5361c" stroke-width="0.6" stroke-linecap="round" fill="none" stroke-opacity="0.8"/>
<path d="M57.5 600.5V654.5M38.5 637.5H88.5" stroke="#f2737b" stroke-width="0.8" fill="none"/>
<rect x="56.80" y="610.60" width="1.40" height="1.40" fill="#e8404a"/>
<rect x="77.30" y="636.80" width="1.40" height="1.40" fill="#e8404a"/>
<rect x="56.90" y="636.90" width="1.20" height="1.20" fill="#e8404a"/>
<path d="M95.5 600.5H145.5V654.5" stroke="#b4b4b4" stroke-width="0.9" fill="none"/><path d="M95.5 600.5V654.5H145.5" stroke="#8c8c8c" stroke-width="0.9" fill="none"/>
<path d="M94.2 654.5h1.3M95.5 654.5v1.3M94.2 643.7h1.3M105.5 654.5v1.3M94.2 632.9h1.3M115.5 654.5v1.3M94.2 622.1h1.3M125.5 654.5v1.3M94.2 611.3h1.3M135.5 654.5v1.3M94.2 600.5h1.3M145.5 654.5v1.3" stroke="#aaa" stroke-width="0.4"/>
<path d="M93.9 656.8h2.4M92.9 653.1v2.2M103.9 656.8h2.4M92.9 642.3v2.2M113.9 656.8h2.4M92.9 631.5v2.2M123.9 656.8h2.4M92.9 620.7v2.2M133.9 656.8h2.4M92.9 609.9v2.2M143.9 656.8h2.4M92.9 599.1v2.2" stroke="#c4c4c4" stroke-width="0.9"/>
<g fill="#666" font-size="3"><text x="96.7" y="603.5">1.02%</text><text x="144.3" y="603.5" text-anchor="end">12.5%</text><text x="96.7" y="653.5">75.1%</text><text x="144.3" y="653.5" text-anchor="end">3.06%</text></g>
<ellipse cx="110.5" cy="643.7" rx="6.0" ry="3.5" transform="rotate(-25 110.5 643.7)" fill="#f5361c" fill-opacity="1.0" filter="url(#bl)"/>
<ellipse cx="121.5" cy="632.9" rx="8.0" ry="4.0" transform="rotate(-35 121.5 632.9)" fill="#f5361c" fill-opacity="0.1" filter="url(#bl)"/>
<ellipse cx="130.5" cy="622.6" rx="2.5" ry="1.5" transform="rotate(-40 130.5 622.6)" fill="#f5361c" fill-opacity="0.85" filter="url(#bl)"/>
<path d="M112.4 641.1h0M111.5 647.7h0M112.7 642.5h0M115.1 648.2h0M115.4 643.2h0M109.7 638.1h0M110.4 641.9h0M112.9 640.3h0M111.0 639.5h0M113.5 639.5h0M111.2 645.6h0M109.1 644.4h0M117.9 647.0h0M101.0 644.7h0M114.9 645.2h0M108.5 645.0h0M113.0 651.2h0M107.9 640.4h0M101.6 643.0h0M115.8 639.7h0M120.2 641.6h0M113.2 644.9h0M115.4 644.9h0M105.3 644.0h0M108.2 645.2h0M107.6 640.4h0M110.0 650.8h0M118.8 636.6h0M112.2 642.8h0M107.7 647.7h0M112.6 649.1h0M112.1 641.8h0M98.4 648.9h0M113.3 639.7h0M115.5 644.0h0M102.2 646.8h0M113.0 645.4h0M111.2 643.3h0M108.5 643.5h0M109.0 640.4h0M112.9 641.3h0M112.1 641.0h0M112.5 643.2h0M115.2 643.3h0M114.5 641.2h0M109.9 643.0h0M104.7 645.9h0M116.5 643.8h0M107.1 646.4h0M111.9 637.9h0M112.6 644.0h0M114.3 642.9h0M99.7 641.1h0M118.9 638.3h0M118.1 645.0h0M109.2 639.9h0M116.6 640.7h0M113.5 644.1h0M116.3 644.9h0M102.0 642.3h0M111.2 643.4h0M113.8 641.6h0M112.6 650.4h0M118.4 644.4h0M114.0 639.1h0M110.0 643.7h0M104.3 643.3h0M109.5 639.6h0M113.6 644.0h0M108.9 643.1h0M113.9 643.9h0M110.4 639.1h0M106.2 653.5h0M107.0 643.9h0M101.1 645.0h0M108.4 647.7h0M96.5 644.9h0M107.9 643.0h0M106.4 644.0h0M103.8 647.9h0M116.1 641.7h0M109.9 648.8h0M111.2 639.5h0M107.0 643.0h0M112.1 647.6h0M107.1 644.7h0M109.3 639.7h0M109.2 646.6h0M112.9 635.5h0M113.3 641.3h0M117.2 642.9h0M119.8 640.5h0M107.5 641.9h0M104.8 648.4h0M114.0 645.2h0M109.9 638.3h0M108.3 643.8h0M112.3 645.8h0M117.3 641.6h0M99.7 644.9h0M99.8 645.8h0M105.4 647.0h0M111.1 647.6h0M114.7 640.0h0M114.8 641.8h0M114.5 646.9h0M105.2 645.9h0M116.3 638.1h0M111.7 643.7h0M106.7 640.5h0M106.0 642.1h0M115.7 642.2h0M122.6 626.4h0M124.6 631.5h0M125.6 626.6h0M129.0 634.2h0M129.2 623.0h0M112.1 632.5h0M128.1 631.1h0M121.4 628.8h0M131.9 633.3h0M121.0 632.6h0M129.1 630.0h0M127.9 626.5h0M122.6 630.5h0M117.7 634.1h0M121.1 635.6h0M120.0 634.3h0M114.3 632.0h0M127.1 624.3h0M133.5 629.0h0M107.6 639.6h0M119.3 634.6h0M119.2 631.6h0M128.0 627.7h0M125.2 627.0h0M120.7 639.8h0M117.5 630.4h0M122.9 636.9h0M119.0 631.2h0M127.2 633.6h0M119.7 632.7h0M125.6 642.9h0M124.4 639.2h0M121.6 634.8h0M110.8 641.2h0M121.1 631.7h0M116.2 630.1h0M113.8 639.1h0M117.8 635.0h0M119.4 632.0h0M121.7 641.6h0M114.4 635.5h0M117.3 630.3h0M118.2 639.3h0M126.9 629.8h0M141.0 623.2h0M126.4 625.6h0M131.2 634.2h0M123.5 640.1h0M114.6 632.3h0M119.5 630.5h0M122.5 626.9h0M117.6 626.3h0M123.7 636.4h0M120.8 634.9h0M125.0 625.2h0M114.8 638.0h0M122.4 631.0h0M119.0 640.5h0M114.6 636.5h0M122.9 635.4h0M117.2 632.0h0M130.6 622.5h0M125.5 629.4h0M118.8 634.6h0M120.8 634.9h0M107.6 642.5h0M119.7 629.5h0M124.7 641.8h0M133.0 627.9h0M122.1 631.0h0M128.1 626.2h0M118.6 638.2h0M114.5 634.0h0M125.8 622.2h0M121.4 633.5h0M119.7 627.2h0M119.5 632.7h0M134.2 628.8h0M119.4 638.6h0M124.8 630.0h0M119.6 632.9h0M111.7 636.7h0M129.8 633.9h0M130.8 624.6h0M119.5 622.8h0M117.2 629.9h0M122.3 624.5h0M113.4 633.3h0M125.6 634.1h0M120.6 642.2h0M120.5 629.6h0M123.4 631.5h0M126.8 630.8h0M136.0 628.3h0M119.8 637.8h0M123.4 626.8h0M128.6 622.7h0M127.2 626.6h0M131.3 624.3h0M129.7 623.5h0M132.6 622.8h0M130.0 621.0h0M134.8 620.7h0M134.2 622.6h0M133.1 621.2h0M131.9 622.7h0M128.9 625.5h0M129.4 624.4h0M129.6 624.8h0M132.1 626.1h0M131.3 622.9h0M128.8 623.5h0M130.1 622.4h0M129.0 622.2h0M131.4 621.2h0M129.6 624.1h0M129.1 623.5h0M128.8 622.3h0M129.4 622.0h0M128.9 624.7h0M128.7 621.4h0M130.1 623.4h0M131.5 622.5h0M131.5 623.0h0M129.0 622.4h0M131.1 621.4h0M131.1 623.3h0M133.2 622.8h0" stroke="#f5361c" stroke-width="0.6" stroke-linecap="round" fill="none" stroke-opacity="0.8"/>
<path d="M114.5 600.5V654.5M95.5 637.5H145.5" stroke="#f2737b" stroke-width="0.8" fill="none"/>
<rect x="113.80" y="610.60" width="1.40" height="1.40" fill="#e8404a"/>
<rect x="134.30" y="636.80" width="1.40" height="1.40" fill="#e8404a"/>
<rect x="113.90" y="636.90" width="1.20" height="1.20" fill="#e8404a"/>
<text x="30.42" y="637.99" font-size="8.3" fill="#000" transform="rotate(-90 30.42 637.99)">HuH-7</text>
<path d="M38.5 662.5H88.5V716.5" stroke="#b4b4b4" stroke-width="0.9" fill="none"/><path d="M38.5 662.5V716.5H88.5" stroke="#8c8c8c" stroke-width="0.9" fill="none"/>
<path d="M37.2 716.5h1.3M38.5 716.5v1.3M37.2 705.7h1.3M48.5 716.5v1.3M37.2 694.9h1.3M58.5 716.5v1.3M37.2 684.1h1.3M68.5 716.5v1.3M37.2 673.3h1.3M78.5 716.5v1.3M37.2 662.5h1.3M88.5 716.5v1.3" stroke="#aaa" stroke-width="0.4"/>
<path d="M36.9 718.8h2.4M35.9 715.1v2.2M46.9 718.8h2.4M35.9 704.3v2.2M56.9 718.8h2.4M35.9 693.5v2.2M66.9 718.8h2.4M35.9 682.7v2.2M76.9 718.8h2.4M35.9 671.9v2.2M86.9 718.8h2.4M35.9 661.1v2.2" stroke="#c4c4c4" stroke-width="0.9"/>
<g fill="#666" font-size="3"><text x="39.7" y="665.5">1.02%</text><text x="87.3" y="665.5" text-anchor="end">12.5%</text><text x="39.7" y="715.5">75.1%</text><text x="87.3" y="715.5" text-anchor="end">3.06%</text></g>
<ellipse cx="52.5" cy="705.7" rx="5.0" ry="4.0" transform="rotate(-30 52.5 705.7)" fill="#f5361c" fill-opacity="1.0" filter="url(#bl)"/>
<ellipse cx="61.5" cy="690.6" rx="5.0" ry="4.0" transform="rotate(0 61.5 690.6)" fill="#f5361c" fill-opacity="0.05" filter="url(#bl)"/>
<path d="M49.3 705.9h0M51.7 699.7h0M49.2 710.3h0M48.5 703.8h0M56.4 705.8h0M55.2 702.7h0M50.8 705.1h0M49.6 698.2h0M51.4 709.5h0M49.6 707.1h0M54.0 707.2h0M48.6 702.9h0M60.1 698.1h0M55.2 696.2h0M52.5 704.8h0M63.3 708.6h0M54.1 700.2h0M48.2 704.8h0M51.2 707.6h0M49.2 706.5h0M60.6 707.5h0M44.0 706.3h0M53.7 710.8h0M55.1 712.8h0M56.6 709.8h0M48.9 706.4h0M57.3 705.5h0M45.3 708.6h0M54.4 707.4h0M53.6 712.9h0M55.9 710.2h0M54.1 705.1h0M49.1 702.4h0M57.1 706.4h0M55.1 702.5h0M48.2 706.5h0M51.4 706.3h0M54.3 700.6h0M52.1 709.0h0M60.1 711.3h0M52.8 701.8h0M47.3 705.2h0M53.3 706.4h0M51.1 703.8h0M51.7 705.8h0M54.8 704.7h0M47.4 703.4h0M57.7 702.3h0M51.9 706.0h0M56.0 702.3h0M52.7 704.5h0M52.7 701.1h0M55.3 708.7h0M58.0 705.3h0M56.6 710.4h0M57.8 708.9h0M46.1 704.5h0M54.9 703.1h0M49.2 703.4h0M55.5 698.6h0M50.2 700.8h0M56.3 713.6h0M60.3 699.0h0M52.1 713.2h0M46.0 701.5h0M51.7 701.3h0M49.6 712.4h0M47.9 703.6h0M52.8 704.7h0M56.7 703.7h0M60.4 706.2h0M61.1 705.8h0M53.9 707.4h0M49.6 700.4h0M49.8 710.6h0M42.5 707.8h0M47.9 708.1h0M49.3 708.6h0M50.9 704.5h0M45.2 700.0h0M50.3 701.2h0M52.2 707.5h0M57.7 705.9h0M55.1 697.9h0M58.0 709.5h0M51.8 701.1h0M53.0 703.1h0M52.3 710.6h0M49.8 702.3h0M54.0 713.6h0M50.9 709.7h0M55.5 709.2h0M49.7 703.1h0M48.3 703.5h0M62.2 701.0h0M53.9 710.6h0M54.5 703.7h0M55.3 705.3h0M59.8 708.9h0M51.4 706.2h0M54.3 710.1h0M55.4 707.5h0M54.5 701.7h0M55.7 710.0h0M57.4 706.5h0M50.9 705.0h0M49.0 706.5h0M49.6 701.0h0M55.2 700.7h0M54.6 707.2h0M47.1 700.7h0M56.8 705.1h0M60.5 695.0h0M65.2 686.9h0M61.2 683.8h0M60.5 696.1h0M58.1 693.8h0M55.4 689.4h0M65.4 697.2h0M63.4 693.5h0M68.6 681.2h0M54.6 697.9h0M71.7 692.9h0M61.8 691.6h0M61.7 688.2h0M61.5 690.1h0M64.3 693.2h0M65.6 692.9h0M57.6 696.0h0M50.6 691.0h0M62.9 688.5h0M69.2 686.4h0M56.8 688.6h0M63.3 693.7h0M62.0 693.2h0M58.7 688.3h0M62.1 685.4h0M62.3 689.1h0M64.4 686.7h0M59.4 688.4h0M60.1 686.7h0M60.5 685.4h0M63.8 693.2h0M61.5 689.9h0M57.9 686.9h0M60.7 687.1h0M56.8 691.2h0M61.5 689.0h0M58.3 690.4h0M58.7 688.9h0M62.3 693.4h0M64.7 688.2h0M66.5 686.1h0M60.9 695.6h0M71.2 691.1h0M60.1 689.1h0M56.6 690.0h0M59.8 687.7h0M66.4 687.6h0M68.5 693.8h0M64.2 688.3h0M59.5 682.9h0M62.7 689.5h0M63.1 688.0h0M63.5 684.8h0M52.7 692.4h0M65.9 678.4h0M66.8 689.2h0M60.9 684.6h0M57.5 693.3h0M58.6 690.4h0M60.9 698.3h0M65.2 685.5h0M59.6 686.2h0M55.9 688.0h0M66.0 690.8h0" stroke="#f5361c" stroke-width="0.6" stroke-linecap="round" fill="none" stroke-opacity="0.8"/>
<path d="M57.5 662.5V716.5M38.5 699.5H88.5" stroke="#f2737b" stroke-width="0.8" fill="none"/>
<rect x="56.80" y="672.60" width="1.40" height="1.40" fill="#e8404a"/>
<rect x="77.30" y="698.80" width="1.40" height="1.40" fill="#e8404a"/>
<rect x="56.90" y="698.90" width="1.20" height="1.20" fill="#e8404a"/>
<path d="M95.5 662.5H145.5V716.5" stroke="#b4b4b4" stroke-width="0.9" fill="none"/><path d="M95.5 662.5V716.5H145.5" stroke="#8c8c8c" stroke-width="0.9" fill="none"/>
<path d="M94.2 716.5h1.3M95.5 716.5v1.3M94.2 705.7h1.3M105.5 716.5v1.3M94.2 694.9h1.3M115.5 716.5v1.3M94.2 684.1h1.3M125.5 716.5v1.3M94.2 673.3h1.3M135.5 716.5v1.3M94.2 662.5h1.3M145.5 716.5v1.3" stroke="#aaa" stroke-width="0.4"/>
<path d="M93.9 718.8h2.4M92.9 715.1v2.2M103.9 718.8h2.4M92.9 704.3v2.2M113.9 718.8h2.4M92.9 693.5v2.2M123.9 718.8h2.4M92.9 682.7v2.2M133.9 718.8h2.4M92.9 671.9v2.2M143.9 718.8h2.4M92.9 661.1v2.2" stroke="#c4c4c4" stroke-width="0.9"/>
<g fill="#666" font-size="3"><text x="96.7" y="665.5">1.02%</text><text x="144.3" y="665.5" text-anchor="end">12.5%</text><text x="96.7" y="715.5">75.1%</text><text x="144.3" y="715.5" text-anchor="end">3.06%</text></g>
<ellipse cx="110.0" cy="704.1" rx="5.5" ry="3.5" transform="rotate(-35 110.0 704.1)" fill="#f5361c" fill-opacity="1.0" filter="url(#bl)"/>
<ellipse cx="121.5" cy="692.7" rx="9.0" ry="3.5" transform="rotate(-35 121.5 692.7)" fill="#f5361c" fill-opacity="0.25" filter="url(#bl)"/>
<ellipse cx="129.5" cy="685.2" rx="2.5" ry="1.5" transform="rotate(-30 129.5 685.2)" fill="#f5361c" fill-opacity="0.5" filter="url(#bl)"/>
<path d="M112.3 701.9h0M108.7 705.4h0M113.5 709.6h0M117.4 700.5h0M108.4 697.0h0M114.3 711.0h0M108.7 708.4h0M113.8 699.8h0M108.3 703.4h0M113.0 702.1h0M117.9 703.5h0M115.1 711.3h0M107.7 703.1h0M107.5 702.2h0M108.4 704.9h0M110.2 697.4h0M103.4 705.5h0M109.8 706.1h0M110.1 710.2h0M107.7 704.8h0M112.5 707.2h0M111.2 703.4h0M108.4 705.9h0M110.8 702.0h0M106.4 699.0h0M110.4 708.7h0M115.1 700.2h0M105.7 714.7h0M114.4 711.6h0M110.5 707.9h0M110.5 709.4h0M112.2 698.1h0M120.3 708.7h0M106.9 701.3h0M110.3 702.2h0M102.5 705.0h0M108.0 699.2h0M114.9 702.5h0M112.1 708.4h0M108.0 708.3h0M104.5 706.6h0M111.3 700.9h0M110.9 706.2h0M118.1 703.8h0M111.2 702.2h0M108.1 712.5h0M112.7 693.3h0M113.1 701.7h0M113.2 703.1h0M109.3 704.5h0M112.2 707.4h0M108.0 703.2h0M113.7 704.2h0M112.2 703.7h0M117.6 703.4h0M110.4 702.9h0M108.8 697.2h0M106.8 703.4h0M109.9 702.5h0M120.5 699.8h0M115.9 709.3h0M109.4 703.2h0M116.1 703.2h0M115.8 705.1h0M107.4 703.1h0M107.6 706.2h0M111.6 698.6h0M105.5 701.7h0M118.9 701.2h0M108.5 700.1h0M105.0 704.9h0M107.7 700.4h0M111.6 708.0h0M110.3 704.3h0M101.9 708.6h0M108.2 702.5h0M104.9 707.4h0M105.2 705.1h0M104.1 707.9h0M111.7 699.4h0M108.3 699.0h0M113.2 704.1h0M110.4 707.5h0M106.9 706.4h0M116.1 699.7h0M108.2 710.1h0M111.4 701.9h0M99.7 703.4h0M107.4 712.1h0M109.4 700.9h0M117.1 705.2h0M107.9 707.5h0M104.8 709.3h0M113.9 695.5h0M109.0 702.1h0M109.9 704.5h0M112.8 705.8h0M113.9 705.7h0M115.9 704.5h0M108.4 706.9h0M107.0 702.7h0M117.7 699.9h0M106.1 698.1h0M110.7 706.8h0M108.2 703.1h0M114.8 699.4h0M108.6 704.6h0M111.2 707.6h0M112.0 702.4h0M108.3 704.3h0M115.6 698.9h0M109.3 698.0h0M124.8 693.3h0M129.7 688.3h0M125.6 691.2h0M131.9 694.0h0M121.2 689.6h0M124.9 689.9h0M126.9 692.2h0M121.6 690.8h0M120.9 687.9h0M121.4 689.1h0M124.5 691.2h0M117.9 690.2h0M120.5 690.6h0M122.1 695.2h0M124.7 685.1h0M129.8 692.6h0M128.8 688.8h0M124.4 697.9h0M116.7 689.8h0M122.7 693.1h0M113.0 693.6h0M133.5 684.8h0M125.0 687.8h0M112.2 698.5h0M128.2 685.3h0M110.6 699.6h0M119.9 693.9h0M114.8 696.2h0M120.1 697.4h0M124.2 694.5h0M117.1 686.9h0M111.0 702.3h0M128.5 691.5h0M117.6 688.0h0M119.4 695.9h0M129.1 686.0h0M116.7 692.9h0M129.3 690.9h0M113.1 703.7h0M113.2 692.4h0M110.7 697.3h0M140.3 690.2h0M112.9 696.0h0M123.3 693.2h0M115.6 690.2h0M117.8 692.5h0M111.2 700.5h0M109.5 693.9h0M132.4 689.0h0M130.4 687.0h0M119.0 694.2h0M114.9 700.4h0M122.6 690.7h0M110.3 700.1h0M134.1 690.0h0M126.1 688.1h0M123.5 693.7h0M124.8 694.8h0M113.1 689.0h0M105.4 700.2h0M114.7 700.3h0M128.0 688.2h0M124.9 690.7h0M121.7 690.7h0M121.5 697.7h0M119.9 693.7h0M130.6 690.5h0M119.7 695.0h0M115.8 697.3h0M123.4 691.4h0M123.3 693.0h0M104.9 700.9h0M121.1 691.0h0M115.4 696.0h0M130.7 685.4h0M116.8 694.0h0M115.5 699.0h0M117.5 699.3h0M128.1 690.5h0M127.6 688.1h0M111.0 699.8h0M122.3 685.7h0M116.5 700.8h0M126.8 694.6h0M125.7 690.1h0M125.8 693.3h0M121.0 692.2h0M122.8 690.5h0M134.4 680.5h0M110.0 695.4h0M127.0 687.2h0M122.1 691.4h0M120.4 687.5h0M121.0 690.7h0M129.2 689.9h0M112.2 695.2h0M127.3 693.7h0M125.8 689.1h0M123.6 681.4h0M116.5 692.2h0M116.6 698.6h0M123.8 692.3h0M122.0 695.0h0M125.1 687.8h0M125.3 686.2h0M129.5 681.7h0M117.7 690.8h0M124.4 696.2h0M120.6 700.8h0M130.8 687.9h0M119.8 697.7h0M103.0 702.5h0M127.2 688.6h0M135.1 680.4h0M113.2 697.6h0M128.4 695.0h0M111.4 700.5h0M127.8 685.5h0M116.5 691.2h0M127.8 691.8h0M125.6 690.9h0M127.3 688.2h0M127.5 692.0h0M130.4 688.7h0M123.5 694.3h0M108.8 694.2h0M131.5 686.3h0M114.1 695.5h0M129.3 685.4h0M128.9 687.2h0M128.6 690.5h0M128.8 688.4h0M129.5 682.3h0M127.4 686.5h0M129.7 684.3h0M129.7 685.4h0M127.5 686.4h0M133.1 682.0h0M128.2 687.0h0M132.7 685.1h0M128.4 685.7h0M129.7 684.7h0M131.0 686.1h0M130.5 684.6h0M130.5 687.7h0M128.8 689.0h0M130.9 684.5h0M129.6 688.3h0M132.4 685.1h0M131.9 680.7h0M129.5 684.7h0M128.3 686.0h0" stroke="#f5361c" stroke-width="0.6" stroke-linecap="round" fill="none" stroke-opacity="0.8"/>
<path d="M114.5 662.5V716.5M95.5 699.5H145.5" stroke="#f2737b" stroke-width="0.8" fill="none"/>
<rect x="113.80" y="672.60" width="1.40" height="1.40" fill="#e8404a"/>
<rect x="134.30" y="698.80" width="1.40" height="1.40" fill="#e8404a"/>
<rect x="113.90" y="698.90" width="1.20" height="1.20" fill="#e8404a"/>
<text x="30.46" y="700.98" font-size="8.3" fill="#000" transform="rotate(-90 30.46 700.98)">A-498</text>
<text x="189.30" y="535.60" font-size="8.5" text-anchor="middle" fill="#000">con</text>
<text x="244.40" y="536.80" font-size="6.4" text-anchor="middle" fill="#4fb82a">IFN-γ</text>
<path d="M164.5 540.5H214.5V594.5" stroke="#b4b4b4" stroke-width="0.9" fill="none"/><path d="M164.5 540.5V594.5H214.5" stroke="#8c8c8c" stroke-width="0.9" fill="none"/>
<path d="M163.2 594.5h1.3M164.5 594.5v1.3M163.2 583.7h1.3M174.5 594.5v1.3M163.2 572.9h1.3M184.5 594.5v1.3M163.2 562.1h1.3M194.5 594.5v1.3M163.2 551.3h1.3M204.5 594.5v1.3M163.2 540.5h1.3M214.5 594.5v1.3" stroke="#aaa" stroke-width="0.4"/>
<path d="M162.9 596.8h2.4M161.9 593.1v2.2M172.9 596.8h2.4M161.9 582.3v2.2M182.9 596.8h2.4M161.9 571.5v2.2M192.9 596.8h2.4M161.9 560.7v2.2M202.9 596.8h2.4M161.9 549.9v2.2M212.9 596.8h2.4M161.9 539.1v2.2" stroke="#c4c4c4" stroke-width="0.9"/>
<g fill="#666" font-size="3"><text x="165.7" y="543.5">1.02%</text><text x="213.3" y="543.5" text-anchor="end">12.5%</text><text x="165.7" y="593.5">75.1%</text><text x="213.3" y="593.5" text-anchor="end">3.06%</text></g>
<ellipse cx="178.5" cy="584.8" rx="5.0" ry="3.5" transform="rotate(-25 178.5 584.8)" fill="#f5361c" fill-opacity="1.0" filter="url(#bl)"/>
<ellipse cx="189.5" cy="568.0" rx="5.0" ry="4.0" transform="rotate(0 189.5 568.0)" fill="#f5361c" fill-opacity="0.05" filter="url(#bl)"/>
<path d="M181.3 585.5h0M176.1 580.9h0M181.5 585.7h0M187.8 584.0h0M176.9 581.1h0M187.7 577.9h0M180.4 586.8h0M182.4 588.0h0M173.7 584.4h0M177.4 580.6h0M178.3 590.2h0M179.5 583.9h0M176.5 585.9h0M176.9 581.4h0M179.6 579.4h0M182.9 581.5h0M167.7 583.9h0M178.4 581.5h0M187.4 585.9h0M187.8 583.9h0M182.7 580.5h0M182.8 581.1h0M176.4 580.6h0M179.4 585.9h0M176.7 581.4h0M183.3 586.0h0M179.4 587.4h0M180.8 579.9h0M175.7 579.0h0M175.3 587.9h0M175.8 587.5h0M176.9 577.6h0M178.9 590.4h0M178.8 585.1h0M173.5 581.0h0M176.6 582.3h0M176.1 578.5h0M186.4 587.7h0M176.2 587.1h0M176.4 589.0h0M175.2 585.8h0M184.3 584.1h0M175.1 580.5h0M174.3 591.4h0M180.6 584.0h0M183.5 583.0h0M175.6 585.7h0M178.2 584.9h0M188.9 582.2h0M179.2 583.5h0M174.5 582.8h0M170.7 586.6h0M170.1 581.6h0M172.0 580.0h0M185.6 586.3h0M177.9 592.9h0M177.3 575.6h0M177.2 581.6h0M171.5 587.0h0M183.6 584.1h0M172.0 585.3h0M177.3 589.7h0M176.7 581.8h0M172.2 580.1h0M176.7 589.1h0M171.6 588.8h0M179.3 587.5h0M175.5 589.7h0M187.8 589.3h0M172.3 587.6h0M177.9 585.5h0M176.0 589.2h0M189.7 585.4h0M174.0 584.6h0M181.5 583.9h0M177.5 590.0h0M182.0 587.1h0M179.8 589.1h0M175.1 582.0h0M176.4 580.3h0M184.4 584.9h0M172.4 588.3h0M181.2 582.1h0M179.3 582.2h0M178.1 584.6h0M178.9 580.8h0M174.7 587.8h0M177.4 587.3h0M174.7 581.5h0M181.7 584.3h0M180.8 582.4h0M179.0 589.4h0M174.6 593.3h0M180.4 583.7h0M179.8 586.5h0M176.0 587.0h0M172.1 580.6h0M179.4 584.7h0M181.8 585.4h0M182.4 586.0h0M176.3 590.5h0M187.9 578.2h0M174.7 589.2h0M183.5 586.4h0M182.3 577.6h0M180.6 585.6h0M182.0 579.7h0M178.1 583.5h0M177.7 584.6h0M175.3 579.4h0M178.5 585.1h0M187.9 553.8h0M186.6 565.4h0M185.8 574.5h0M193.4 567.3h0M192.1 581.3h0M185.4 569.9h0M187.0 574.0h0M194.2 567.5h0M192.1 564.8h0M182.8 571.4h0M196.4 566.8h0M187.3 560.8h0M198.6 563.2h0M185.4 567.3h0M194.6 568.3h0M189.4 568.1h0M193.1 567.9h0M190.2 567.7h0M184.8 573.4h0M186.6 562.7h0M187.7 568.2h0M193.0 562.1h0M184.2 568.8h0M191.1 563.6h0M184.7 568.7h0M188.9 561.5h0M185.8 574.0h0M185.0 572.3h0M183.0 574.0h0M196.3 565.5h0M186.6 570.6h0M184.3 570.3h0M194.7 569.1h0M190.9 567.4h0M193.7 564.7h0M196.2 567.9h0M188.1 561.5h0M187.6 569.0h0M194.8 561.6h0M189.0 565.3h0M184.5 568.1h0M186.3 571.5h0M178.1 571.0h0M181.5 560.2h0M191.7 566.7h0M190.0 564.2h0M185.1 565.1h0M189.3 564.7h0M187.7 564.6h0M190.5 563.5h0M180.7 557.5h0M189.4 568.4h0M193.6 565.1h0M184.7 562.1h0M192.7 565.5h0M193.7 567.7h0M188.3 560.6h0M186.6 571.2h0M186.9 570.8h0M182.6 572.1h0M201.2 572.5h0M190.9 563.1h0M187.3 565.4h0M190.3 559.9h0" stroke="#f5361c" stroke-width="0.6" stroke-linecap="round" fill="none" stroke-opacity="0.8"/>
<path d="M183.5 540.5V594.5M164.5 577.5H214.5" stroke="#f2737b" stroke-width="0.8" fill="none"/>
<rect x="182.80" y="550.60" width="1.40" height="1.40" fill="#e8404a"/>
<rect x="203.30" y="576.80" width="1.40" height="1.40" fill="#e8404a"/>
<rect x="182.90" y="576.90" width="1.20" height="1.20" fill="#e8404a"/>
<path d="M220.5 540.5H270.5V594.5" stroke="#b4b4b4" stroke-width="0.9" fill="none"/><path d="M220.5 540.5V594.5H270.5" stroke="#8c8c8c" stroke-width="0.9" fill="none"/>
<path d="M219.2 594.5h1.3M220.5 594.5v1.3M219.2 583.7h1.3M230.5 594.5v1.3M219.2 572.9h1.3M240.5 594.5v1.3M219.2 562.1h1.3M250.5 594.5v1.3M219.2 551.3h1.3M260.5 594.5v1.3M219.2 540.5h1.3M270.5 594.5v1.3" stroke="#aaa" stroke-width="0.4"/>
<path d="M218.9 596.8h2.4M217.9 593.1v2.2M228.9 596.8h2.4M217.9 582.3v2.2M238.9 596.8h2.4M217.9 571.5v2.2M248.9 596.8h2.4M217.9 560.7v2.2M258.9 596.8h2.4M217.9 549.9v2.2M268.9 596.8h2.4M217.9 539.1v2.2" stroke="#c4c4c4" stroke-width="0.9"/>
<g fill="#666" font-size="3"><text x="221.7" y="543.5">1.02%</text><text x="269.3" y="543.5" text-anchor="end">12.5%</text><text x="221.7" y="593.5">75.1%</text><text x="269.3" y="593.5" text-anchor="end">3.06%</text></g>
<ellipse cx="235.5" cy="583.2" rx="5.0" ry="3.5" transform="rotate(-40 235.5 583.2)" fill="#f5361c" fill-opacity="1.0" filter="url(#bl)"/>
<ellipse cx="248.0" cy="564.8" rx="9.0" ry="4.0" transform="rotate(-55 248.0 564.8)" fill="#f5361c" fill-opacity="0.3" filter="url(#bl)"/>
<path d="M234.5 587.6h0M237.7 584.8h0M235.7 577.8h0M232.2 588.1h0M235.8 583.3h0M235.2 588.1h0M239.7 584.9h0M235.9 586.0h0M233.2 580.8h0M231.5 578.9h0M235.3 584.1h0M235.4 578.4h0M229.6 584.8h0M227.3 587.0h0M244.3 576.5h0M231.5 583.4h0M238.6 575.2h0M235.0 583.3h0M231.5 583.2h0M228.2 585.4h0M242.9 583.4h0M236.2 585.8h0M237.2 582.2h0M237.8 586.8h0M236.8 581.0h0M236.9 586.3h0M232.0 582.8h0M233.5 582.6h0M240.4 580.7h0M234.0 582.0h0M241.1 580.5h0M244.3 580.0h0M233.6 582.3h0M235.0 584.4h0M239.1 582.3h0M237.1 574.8h0M232.4 579.3h0M230.8 584.3h0M231.2 582.3h0M233.2 590.3h0M236.6 586.6h0M226.7 579.9h0M235.6 587.1h0M234.6 585.7h0M235.2 589.8h0M239.3 584.8h0M237.5 587.4h0M234.6 581.7h0M233.6 585.0h0M229.9 582.4h0M237.5 584.7h0M236.5 586.2h0M237.8 575.5h0M234.2 579.9h0M233.8 585.4h0M229.2 591.2h0M239.4 582.3h0M241.7 586.3h0M236.8 587.1h0M241.3 580.6h0M229.4 587.6h0M230.9 579.6h0M237.0 585.4h0M234.3 583.4h0M238.9 577.5h0M232.5 585.8h0M240.5 581.7h0M234.6 581.6h0M241.5 582.2h0M230.7 588.7h0M231.1 593.7h0M236.1 579.8h0M230.7 585.8h0M231.1 589.4h0M229.9 579.8h0M238.1 586.4h0M230.6 585.6h0M241.8 578.7h0M234.1 585.2h0M235.7 578.3h0M231.5 579.0h0M226.9 583.3h0M238.9 581.7h0M240.6 584.4h0M236.2 583.7h0M237.9 583.3h0M231.4 585.3h0M235.1 583.7h0M232.8 584.8h0M236.8 582.9h0M239.2 583.8h0M239.5 584.2h0M241.3 584.6h0M236.1 579.8h0M245.5 579.9h0M241.2 581.7h0M233.1 580.0h0M236.1 581.0h0M229.4 578.5h0M237.9 575.8h0M233.0 587.4h0M235.5 579.5h0M236.0 583.9h0M237.2 584.2h0M237.2 580.1h0M235.1 593.4h0M232.0 581.5h0M239.2 582.7h0M238.8 591.1h0M230.8 593.0h0M236.1 584.1h0M236.0 581.7h0M245.1 559.8h0M252.3 571.5h0M240.8 583.7h0M235.5 576.7h0M250.5 558.4h0M240.5 564.9h0M246.9 565.1h0M240.1 565.2h0M250.0 564.8h0M254.6 558.9h0M258.5 558.1h0M241.2 586.2h0M244.1 563.0h0M253.0 564.3h0M237.2 571.6h0M249.2 559.3h0M255.1 556.2h0M241.2 565.2h0M244.9 557.1h0M238.0 569.9h0M261.0 558.1h0M245.8 565.3h0M255.1 563.3h0M251.7 574.9h0M250.8 568.7h0M237.5 579.4h0M251.5 573.7h0M242.9 563.2h0M254.2 551.1h0M243.9 561.9h0M251.6 561.0h0M245.4 565.7h0M243.1 566.7h0M245.8 576.3h0M247.3 556.0h0M244.3 573.0h0M257.2 550.3h0M245.8 566.2h0M248.5 562.9h0M255.9 560.3h0M255.6 565.0h0M245.2 565.0h0M254.6 541.8h0M233.5 569.1h0M246.0 560.1h0M245.7 553.4h0M246.1 564.8h0M247.0 574.1h0M247.7 568.3h0M246.2 568.4h0M246.3 567.8h0M245.3 563.9h0M249.3 561.7h0M240.3 568.4h0M254.3 565.1h0M240.9 572.0h0M253.4 564.4h0M247.2 557.6h0M251.1 566.6h0M248.3 562.8h0M243.4 572.5h0M247.8 565.3h0M258.4 558.2h0M245.3 570.3h0M247.0 567.0h0M258.1 556.8h0M246.0 563.0h0M248.5 566.7h0M249.4 570.4h0M244.2 562.0h0M247.4 545.4h0M246.4 566.2h0M256.0 561.2h0M259.5 559.3h0M249.7 563.1h0M252.3 558.4h0M241.0 571.6h0M252.9 562.1h0M247.1 574.4h0M244.4 559.4h0M253.3 564.2h0M249.3 560.8h0M248.2 572.4h0M249.0 563.4h0M242.9 564.9h0M238.7 575.7h0M255.3 559.7h0M250.0 572.6h0M243.7 563.9h0M256.8 561.9h0M242.3 564.4h0M239.7 559.6h0M253.2 568.0h0M246.8 561.4h0M249.5 559.3h0M252.3 556.1h0M255.7 551.3h0M245.7 561.4h0M243.6 573.5h0M246.3 560.4h0M249.1 560.4h0M245.4 568.1h0M252.1 564.0h0M254.6 558.0h0M242.6 567.7h0M245.7 559.7h0M246.0 565.0h0M248.2 565.8h0M257.9 562.1h0M255.2 561.6h0M246.8 573.8h0M249.2 553.6h0M257.1 547.8h0M243.4 583.7h0M245.6 562.6h0M249.0 570.8h0M247.9 562.3h0M249.9 555.5h0M242.5 568.8h0M247.0 571.0h0M243.5 563.8h0M239.5 563.1h0M249.1 564.0h0M249.9 560.5h0M246.7 560.2h0M248.6 565.0h0M244.6 573.7h0M248.8 564.0h0M252.5 572.4h0M245.5 563.0h0M246.2 571.4h0M244.5 564.3h0M247.9 571.4h0M251.8 566.7h0M244.0 562.2h0M252.8 560.1h0M244.1 568.2h0M246.5 572.7h0M247.8 568.5h0M248.3 562.6h0M248.8 561.9h0M241.5 571.2h0M245.4 573.9h0M248.9 559.4h0M251.5 561.5h0M249.2 556.6h0M244.9 562.4h0M249.5 572.2h0M236.3 575.2h0M252.7 563.6h0M237.9 565.0h0M241.7 576.3h0M255.8 560.0h0M249.2 572.4h0M249.2 567.4h0M252.4 569.6h0M238.7 563.1h0M247.3 567.2h0M246.8 561.4h0M243.3 563.6h0" stroke="#f5361c" stroke-width="0.6" stroke-linecap="round" fill="none" stroke-opacity="0.8"/>
<path d="M239.5 540.5V594.5M220.5 577.5H270.5" stroke="#f2737b" stroke-width="0.8" fill="none"/>
<rect x="238.80" y="550.60" width="1.40" height="1.40" fill="#e8404a"/>
<rect x="259.30" y="576.80" width="1.40" height="1.40" fill="#e8404a"/>
<rect x="238.90" y="576.90" width="1.20" height="1.20" fill="#e8404a"/>
<text x="158.86" y="579.71" font-size="8.3" fill="#000" transform="rotate(-90 158.86 579.71)">A549</text>
<path d="M164.5 600.5H214.5V654.5" stroke="#b4b4b4" stroke-width="0.9" fill="none"/><path d="M164.5 600.5V654.5H214.5" stroke="#8c8c8c" stroke-width="0.9" fill="none"/>
<path d="M163.2 654.5h1.3M164.5 654.5v1.3M163.2 643.7h1.3M174.5 654.5v1.3M163.2 632.9h1.3M184.5 654.5v1.3M163.2 622.1h1.3M194.5 654.5v1.3M163.2 611.3h1.3M204.5 654.5v1.3M163.2 600.5h1.3M214.5 654.5v1.3" stroke="#aaa" stroke-width="0.4"/>
<path d="M162.9 656.8h2.4M161.9 653.1v2.2M172.9 656.8h2.4M161.9 642.3v2.2M182.9 656.8h2.4M161.9 631.5v2.2M192.9 656.8h2.4M161.9 620.7v2.2M202.9 656.8h2.4M161.9 609.9v2.2M212.9 656.8h2.4M161.9 599.1v2.2" stroke="#c4c4c4" stroke-width="0.9"/>
<g fill="#666" font-size="3"><text x="165.7" y="603.5">1.02%</text><text x="213.3" y="603.5" text-anchor="end">12.5%</text><text x="165.7" y="653.5">75.1%</text><text x="213.3" y="653.5" text-anchor="end">3.06%</text></g>
<ellipse cx="178.5" cy="644.8" rx="5.0" ry="3.5" transform="rotate(-25 178.5 644.8)" fill="#f5361c" fill-opacity="1.0" filter="url(#bl)"/>
<ellipse cx="188.5" cy="629.1" rx="5.0" ry="3.5" transform="rotate(0 188.5 629.1)" fill="#f5361c" fill-opacity="0.05" filter="url(#bl)"/>
<path d="M177.7 645.5h0M181.8 649.6h0M171.6 650.0h0M178.4 640.3h0M178.8 644.6h0M175.7 648.8h0M186.8 643.5h0M183.0 646.8h0M179.4 648.1h0M175.7 646.8h0M183.1 647.7h0M177.0 644.4h0M180.2 643.7h0M180.2 647.1h0M176.9 648.9h0M179.6 643.3h0M172.8 645.0h0M179.7 647.8h0M172.1 650.5h0M177.6 640.9h0M182.3 644.5h0M178.7 640.9h0M175.6 649.6h0M184.4 643.5h0M177.1 643.7h0M173.4 650.9h0M180.0 648.8h0M177.3 649.4h0M176.7 647.9h0M182.7 640.1h0M181.9 643.2h0M175.2 647.1h0M179.9 641.4h0M176.7 643.5h0M175.3 645.5h0M180.9 641.8h0M182.6 641.4h0M177.5 649.4h0M182.9 640.3h0M179.0 640.1h0M176.4 644.3h0M179.3 639.6h0M175.6 643.5h0M177.1 640.7h0M177.1 639.7h0M179.7 639.2h0M173.8 653.3h0M182.0 639.9h0M175.1 648.2h0M187.0 643.1h0M179.3 639.9h0M172.4 649.1h0M182.5 643.4h0M180.5 649.1h0M176.9 649.7h0M180.7 641.4h0M179.1 644.9h0M179.3 640.7h0M177.8 645.5h0M178.6 644.8h0M179.2 643.7h0M178.1 648.9h0M175.6 644.9h0M173.5 642.7h0M180.1 643.9h0M178.7 646.4h0M178.8 647.2h0M185.8 642.7h0M179.9 650.4h0M178.7 638.3h0M183.8 643.1h0M180.0 639.7h0M174.4 644.2h0M178.9 640.3h0M177.2 649.0h0M176.3 646.3h0M172.7 641.0h0M178.0 644.5h0M174.5 650.3h0M182.9 646.1h0M174.9 642.1h0M178.4 645.5h0M177.0 643.3h0M173.7 644.2h0M177.5 643.4h0M184.3 641.0h0M179.5 642.5h0M176.4 642.1h0M174.5 641.0h0M172.7 652.6h0M175.2 648.0h0M177.2 643.2h0M180.4 641.8h0M179.6 642.9h0M183.5 646.1h0M180.3 648.1h0M182.6 648.7h0M175.8 640.2h0M179.6 645.2h0M176.8 644.8h0M175.7 641.3h0M183.8 639.4h0M172.2 641.7h0M175.3 646.1h0M184.9 644.1h0M174.0 642.2h0M174.2 646.5h0M181.0 641.8h0M187.3 648.0h0M175.9 637.8h0M182.4 642.6h0M191.2 632.5h0M184.3 629.3h0M189.2 626.5h0M191.4 628.7h0M186.8 635.6h0M189.2 634.7h0M187.9 632.7h0M185.4 629.6h0M192.9 621.7h0M190.7 628.2h0M193.0 629.7h0M188.2 624.7h0M200.6 626.6h0M187.2 626.6h0M187.2 629.9h0M183.0 632.7h0M187.4 631.2h0M179.8 627.3h0M187.3 627.8h0M185.7 630.2h0M190.2 625.7h0M180.4 631.6h0M187.2 632.8h0M192.1 628.8h0M182.6 627.9h0M185.5 633.4h0M181.5 632.2h0M182.2 627.2h0M182.7 626.7h0M186.7 630.4h0M186.1 631.5h0M195.7 629.7h0M183.8 628.5h0M188.1 627.9h0M193.2 633.1h0M196.7 630.9h0M177.5 628.7h0M191.2 626.3h0M186.0 632.2h0M189.1 625.3h0M186.1 618.5h0M188.5 624.9h0M188.3 625.0h0M184.7 627.3h0M199.9 625.0h0M183.6 627.3h0M192.8 631.8h0M191.3 628.0h0" stroke="#f5361c" stroke-width="0.6" stroke-linecap="round" fill="none" stroke-opacity="0.8"/>
<path d="M183.5 600.5V654.5M164.5 637.5H214.5" stroke="#f2737b" stroke-width="0.8" fill="none"/>
<rect x="182.80" y="610.60" width="1.40" height="1.40" fill="#e8404a"/>
<rect x="203.30" y="636.80" width="1.40" height="1.40" fill="#e8404a"/>
<rect x="182.90" y="636.90" width="1.20" height="1.20" fill="#e8404a"/>
<path d="M220.5 600.5H270.5V654.5" stroke="#b4b4b4" stroke-width="0.9" fill="none"/><path d="M220.5 600.5V654.5H270.5" stroke="#8c8c8c" stroke-width="0.9" fill="none"/>
<path d="M219.2 654.5h1.3M220.5 654.5v1.3M219.2 643.7h1.3M230.5 654.5v1.3M219.2 632.9h1.3M240.5 654.5v1.3M219.2 622.1h1.3M250.5 654.5v1.3M219.2 611.3h1.3M260.5 654.5v1.3M219.2 600.5h1.3M270.5 654.5v1.3" stroke="#aaa" stroke-width="0.4"/>
<path d="M218.9 656.8h2.4M217.9 653.1v2.2M228.9 656.8h2.4M217.9 642.3v2.2M238.9 656.8h2.4M217.9 631.5v2.2M248.9 656.8h2.4M217.9 620.7v2.2M258.9 656.8h2.4M217.9 609.9v2.2M268.9 656.8h2.4M217.9 599.1v2.2" stroke="#c4c4c4" stroke-width="0.9"/>
<g fill="#666" font-size="3"><text x="221.7" y="603.5">1.02%</text><text x="269.3" y="603.5" text-anchor="end">12.5%</text><text x="221.7" y="653.5">75.1%</text><text x="269.3" y="653.5" text-anchor="end">3.06%</text></g>
<ellipse cx="234.0" cy="644.8" rx="5.0" ry="3.5" transform="rotate(-30 234.0 644.8)" fill="#f5361c" fill-opacity="1.0" filter="url(#bl)"/>
<ellipse cx="243.0" cy="634.0" rx="5.0" ry="4.0" transform="rotate(0 243.0 634.0)" fill="#f5361c" fill-opacity="0.05" filter="url(#bl)"/>
<ellipse cx="249.0" cy="623.7" rx="3.5" ry="1.8" transform="rotate(-20 249.0 623.7)" fill="#f5361c" fill-opacity="0.85" filter="url(#bl)"/>
<path d="M233.1 642.2h0M231.9 642.8h0M227.1 644.8h0M241.5 642.0h0M231.1 646.0h0M234.5 649.3h0M232.8 643.0h0M236.9 644.3h0M230.2 643.9h0M231.7 639.6h0M232.5 649.7h0M238.9 646.3h0M231.4 643.9h0M232.2 643.9h0M238.1 641.5h0M237.5 639.9h0M238.1 648.8h0M230.2 644.4h0M229.1 641.2h0M231.8 643.5h0M241.0 638.9h0M228.0 652.0h0M237.3 642.7h0M236.2 646.3h0M232.0 646.1h0M237.3 649.4h0M239.3 642.4h0M230.7 650.2h0M235.8 648.4h0M234.5 645.2h0M235.0 641.3h0M235.5 652.9h0M232.5 649.3h0M237.8 645.8h0M236.5 638.0h0M233.8 636.7h0M234.7 645.7h0M239.5 645.9h0M230.2 645.9h0M232.2 643.1h0M229.9 644.5h0M240.3 646.5h0M239.5 648.3h0M232.4 641.4h0M232.0 646.7h0M239.7 646.3h0M232.4 649.5h0M233.1 647.7h0M239.7 647.3h0M232.5 646.6h0M234.7 642.7h0M235.3 646.4h0M227.0 646.2h0M242.9 641.4h0M228.8 640.5h0M231.4 648.3h0M237.1 644.7h0M235.0 641.8h0M237.7 638.2h0M235.3 643.0h0M229.5 651.0h0M234.2 647.5h0M238.7 642.7h0M231.2 645.5h0M236.2 649.2h0M239.7 647.8h0M235.3 641.0h0M238.9 645.8h0M234.3 646.4h0M230.7 641.7h0M234.9 647.3h0M228.8 638.9h0M233.0 649.7h0M236.7 647.7h0M230.6 645.1h0M229.1 644.5h0M236.0 644.2h0M232.7 646.7h0M228.7 646.3h0M226.1 643.4h0M227.2 644.3h0M241.9 645.7h0M237.4 640.5h0M234.2 640.2h0M232.4 646.6h0M228.6 648.7h0M232.6 637.4h0M224.8 649.0h0M233.8 645.5h0M230.9 648.8h0M233.1 642.4h0M240.2 642.2h0M239.8 648.8h0M231.8 645.2h0M227.4 647.7h0M239.8 651.4h0M236.3 644.3h0M228.0 644.8h0M225.0 644.5h0M234.8 645.5h0M230.3 646.0h0M232.2 648.3h0M235.2 641.8h0M230.2 642.1h0M236.1 652.3h0M235.4 647.4h0M238.5 648.0h0M231.2 642.8h0M239.2 645.4h0M233.5 649.4h0M233.8 644.7h0M241.4 642.6h0M244.2 632.7h0M243.7 638.1h0M244.8 631.0h0M244.8 633.5h0M244.2 633.2h0M234.0 627.6h0M241.4 625.3h0M236.8 642.0h0M245.8 632.2h0M244.3 625.1h0M243.9 637.9h0M243.7 628.8h0M246.9 631.9h0M240.6 634.8h0M241.7 642.0h0M242.4 642.5h0M244.8 629.1h0M242.9 634.2h0M248.8 639.0h0M253.4 631.3h0M241.1 643.2h0M239.3 635.4h0M249.5 630.0h0M241.5 631.0h0M245.1 635.6h0M242.8 636.6h0M239.7 632.5h0M244.8 642.0h0M242.8 634.2h0M248.3 634.3h0M248.3 634.9h0M247.7 634.7h0M239.2 630.6h0M244.7 641.4h0M250.6 632.7h0M253.2 629.6h0M239.5 637.7h0M236.7 637.6h0M244.5 636.5h0M238.0 635.5h0M246.8 633.8h0M247.2 634.1h0M244.3 632.7h0M237.4 633.3h0M245.0 631.0h0M234.9 627.8h0M248.3 633.1h0M239.8 638.9h0M242.2 628.0h0M241.1 630.5h0M242.2 630.3h0M243.2 635.8h0M240.6 633.2h0M242.3 637.3h0M240.0 637.0h0M248.1 633.2h0M239.0 632.8h0M235.6 631.8h0M238.0 633.3h0M241.4 636.0h0M243.4 635.7h0M242.7 635.1h0M238.3 636.6h0M248.3 638.4h0M245.6 625.7h0M245.0 626.6h0M248.1 623.2h0M246.8 624.1h0M248.4 622.2h0M249.3 624.1h0M250.4 623.1h0M250.3 627.5h0M251.9 623.3h0M245.6 626.1h0M248.9 618.8h0M248.7 624.5h0M249.1 623.9h0M249.4 626.2h0M249.8 622.9h0M249.6 627.4h0M246.3 623.7h0M249.9 623.7h0M250.6 625.7h0M252.3 623.3h0M249.0 623.6h0M248.9 625.6h0M244.9 623.3h0M247.1 622.6h0M247.7 626.4h0M243.2 626.9h0M245.2 624.6h0M246.8 622.7h0M245.0 625.3h0M239.6 623.2h0M248.6 625.9h0M253.8 621.4h0M246.6 624.1h0M250.8 624.8h0M246.7 625.5h0M249.6 625.6h0M247.7 623.8h0M245.9 622.4h0M250.1 624.6h0M252.2 623.1h0M247.2 622.7h0M245.4 623.7h0M249.9 623.5h0M242.7 625.8h0M247.6 622.3h0M249.2 624.6h0M245.3 622.5h0M248.2 624.5h0" stroke="#f5361c" stroke-width="0.6" stroke-linecap="round" fill="none" stroke-opacity="0.8"/>
<path d="M239.5 600.5V654.5M220.5 637.5H270.5" stroke="#f2737b" stroke-width="0.8" fill="none"/>
<rect x="238.80" y="610.60" width="1.40" height="1.40" fill="#e8404a"/>
<rect x="259.30" y="636.80" width="1.40" height="1.40" fill="#e8404a"/>
<rect x="238.90" y="636.90" width="1.20" height="1.20" fill="#e8404a"/>
<text x="158.86" y="643.90" font-size="8.3" fill="#000" transform="rotate(-90 158.86 643.90)">PANC-1</text>
<path d="M164.5 662.5H214.5V716.5" stroke="#b4b4b4" stroke-width="0.9" fill="none"/><path d="M164.5 662.5V716.5H214.5" stroke="#8c8c8c" stroke-width="0.9" fill="none"/>
<path d="M163.2 716.5h1.3M164.5 716.5v1.3M163.2 705.7h1.3M174.5 716.5v1.3M163.2 694.9h1.3M184.5 716.5v1.3M163.2 684.1h1.3M194.5 716.5v1.3M163.2 673.3h1.3M204.5 716.5v1.3M163.2 662.5h1.3M214.5 716.5v1.3" stroke="#aaa" stroke-width="0.4"/>
<path d="M162.9 718.8h2.4M161.9 715.1v2.2M172.9 718.8h2.4M161.9 704.3v2.2M182.9 718.8h2.4M161.9 693.5v2.2M192.9 718.8h2.4M161.9 682.7v2.2M202.9 718.8h2.4M161.9 671.9v2.2M212.9 718.8h2.4M161.9 661.1v2.2" stroke="#c4c4c4" stroke-width="0.9"/>
<g fill="#666" font-size="3"><text x="165.7" y="665.5">1.02%</text><text x="213.3" y="665.5" text-anchor="end">12.5%</text><text x="165.7" y="715.5">75.1%</text><text x="213.3" y="715.5" text-anchor="end">3.06%</text></g>
<ellipse cx="177.5" cy="705.7" rx="5.0" ry="3.5" transform="rotate(-25 177.5 705.7)" fill="#f5361c" fill-opacity="1.0" filter="url(#bl)"/>
<ellipse cx="187.5" cy="691.7" rx="5.0" ry="3.0" transform="rotate(0 187.5 691.7)" fill="#f5361c" fill-opacity="0.05" filter="url(#bl)"/>
<path d="M178.8 711.1h0M176.5 702.3h0M179.4 702.3h0M180.2 704.8h0M180.6 700.4h0M180.8 705.8h0M175.1 709.5h0M186.5 702.9h0M174.4 706.6h0M182.7 704.2h0M182.1 701.1h0M180.1 698.4h0M176.4 705.1h0M177.4 710.5h0M175.7 707.9h0M185.7 705.1h0M174.8 704.1h0M170.5 710.4h0M182.4 707.7h0M181.6 712.1h0M177.0 697.0h0M175.3 709.8h0M177.2 709.1h0M186.0 698.8h0M185.7 701.6h0M172.1 708.6h0M180.0 702.3h0M182.1 700.2h0M178.1 709.0h0M175.8 704.3h0M178.4 707.8h0M186.0 707.0h0M184.5 702.3h0M171.1 708.5h0M174.4 703.3h0M175.4 706.4h0M179.0 708.5h0M175.7 711.0h0M178.7 708.0h0M180.4 699.6h0M182.5 700.6h0M180.6 708.5h0M178.7 699.1h0M179.8 709.0h0M176.9 705.7h0M180.2 710.8h0M174.0 703.7h0M172.5 706.0h0M177.1 707.2h0M174.6 700.4h0M172.5 710.7h0M178.2 700.1h0M177.4 696.3h0M187.2 703.5h0M172.0 710.3h0M176.7 704.3h0M175.8 705.6h0M175.8 703.0h0M176.2 708.5h0M177.5 700.5h0M177.9 711.6h0M182.7 709.7h0M170.8 704.8h0M166.4 703.4h0M174.5 703.0h0M172.3 705.4h0M178.0 708.7h0M177.0 699.1h0M182.7 702.0h0M173.6 707.4h0M173.9 702.0h0M182.6 701.1h0M176.0 708.5h0M184.6 704.3h0M174.7 708.7h0M182.3 704.9h0M179.3 703.0h0M174.7 700.5h0M173.1 703.4h0M179.7 710.4h0M167.0 705.5h0M173.8 707.1h0M180.8 701.2h0M176.3 711.0h0M179.7 706.7h0M179.6 701.9h0M177.4 703.2h0M174.9 707.4h0M177.3 700.9h0M175.5 709.0h0M179.1 707.5h0M175.1 703.7h0M181.4 706.2h0M167.9 713.5h0M175.6 709.2h0M183.1 702.0h0M174.2 708.2h0M178.7 707.3h0M172.5 709.0h0M181.9 706.3h0M181.7 708.4h0M176.2 711.1h0M176.8 702.2h0M176.8 707.1h0M180.8 709.4h0M177.5 703.7h0M185.4 700.8h0M175.7 710.1h0M174.7 703.9h0M175.2 711.4h0M173.6 707.9h0M175.5 705.9h0M184.1 692.1h0M190.0 694.8h0M186.0 688.2h0M181.2 691.7h0M177.0 695.7h0M187.6 692.0h0M181.6 689.7h0M184.4 693.7h0M185.8 693.5h0M189.7 685.9h0M186.5 695.5h0M185.3 692.1h0M187.0 688.0h0M196.7 691.3h0M190.2 690.3h0M193.4 695.1h0M192.5 694.5h0M190.5 695.8h0M189.2 692.1h0M190.9 689.0h0M176.8 694.1h0M188.1 689.6h0M186.4 688.8h0M184.0 692.2h0M188.0 694.2h0M187.1 693.6h0M190.4 689.6h0M180.4 689.6h0M186.4 690.1h0M196.8 689.6h0M189.5 689.4h0M190.4 687.9h0M191.5 692.2h0M185.8 688.1h0M194.5 690.0h0M193.6 684.5h0M182.4 697.1h0M195.0 691.7h0M191.7 693.5h0M186.0 692.1h0M182.7 687.7h0M188.0 693.9h0M188.2 688.0h0M191.1 692.0h0M190.7 690.8h0M186.4 694.8h0M193.3 688.1h0M182.8 694.6h0" stroke="#f5361c" stroke-width="0.6" stroke-linecap="round" fill="none" stroke-opacity="0.8"/>
<path d="M183.5 662.5V716.5M164.5 699.5H214.5" stroke="#f2737b" stroke-width="0.8" fill="none"/>
<rect x="182.80" y="672.60" width="1.40" height="1.40" fill="#e8404a"/>
<rect x="203.30" y="698.80" width="1.40" height="1.40" fill="#e8404a"/>
<rect x="182.90" y="698.90" width="1.20" height="1.20" fill="#e8404a"/>
<path d="M220.5 662.5H270.5V716.5" stroke="#b4b4b4" stroke-width="0.9" fill="none"/><path d="M220.5 662.5V716.5H270.5" stroke="#8c8c8c" stroke-width="0.9" fill="none"/>
<path d="M219.2 716.5h1.3M220.5 716.5v1.3M219.2 705.7h1.3M230.5 716.5v1.3M219.2 694.9h1.3M240.5 716.5v1.3M219.2 684.1h1.3M250.5 716.5v1.3M219.2 673.3h1.3M260.5 716.5v1.3M219.2 662.5h1.3M270.5 716.5v1.3" stroke="#aaa" stroke-width="0.4"/>
<path d="M218.9 718.8h2.4M217.9 715.1v2.2M228.9 718.8h2.4M217.9 704.3v2.2M238.9 718.8h2.4M217.9 693.5v2.2M248.9 718.8h2.4M217.9 682.7v2.2M258.9 718.8h2.4M217.9 671.9v2.2M268.9 718.8h2.4M217.9 661.1v2.2" stroke="#c4c4c4" stroke-width="0.9"/>
<g fill="#666" font-size="3"><text x="221.7" y="665.5">1.02%</text><text x="269.3" y="665.5" text-anchor="end">12.5%</text><text x="221.7" y="715.5">75.1%</text><text x="269.3" y="715.5" text-anchor="end">3.06%</text></g>
<ellipse cx="235.0" cy="704.6" rx="5.0" ry="3.5" transform="rotate(-50 235.0 704.6)" fill="#f5361c" fill-opacity="1.0" filter="url(#bl)"/>
<ellipse cx="245.5" cy="691.1" rx="8.0" ry="3.5" transform="rotate(-35 245.5 691.1)" fill="#f5361c" fill-opacity="0.35" filter="url(#bl)"/>
<path d="M236.1 703.6h0M235.1 710.1h0M236.1 704.5h0M234.7 702.2h0M236.5 703.7h0M238.0 703.2h0M229.7 707.2h0M237.4 708.1h0M236.3 709.3h0M240.3 703.1h0M241.1 697.3h0M239.2 706.4h0M238.8 705.6h0M238.5 708.2h0M230.9 699.2h0M237.5 700.7h0M231.8 706.8h0M237.3 708.1h0M235.7 703.4h0M232.6 702.7h0M232.1 705.7h0M231.3 702.8h0M236.6 708.2h0M236.3 703.2h0M235.3 703.0h0M234.2 710.5h0M242.5 698.5h0M243.5 708.0h0M233.2 709.7h0M233.4 705.1h0M230.3 709.8h0M231.8 699.8h0M233.1 704.3h0M234.0 709.3h0M240.6 700.3h0M239.9 703.0h0M236.4 706.2h0M237.5 699.4h0M231.0 702.0h0M227.8 708.8h0M238.4 702.6h0M239.2 706.8h0M233.9 713.4h0M237.3 706.1h0M236.6 698.4h0M233.8 708.4h0M233.3 703.5h0M232.8 703.4h0M234.4 703.4h0M236.9 696.8h0M236.8 702.9h0M236.7 697.4h0M238.4 710.0h0M232.2 705.9h0M231.4 703.7h0M242.4 704.1h0M232.6 703.5h0M233.1 710.5h0M235.1 707.6h0M227.4 711.5h0M237.8 703.6h0M228.1 714.6h0M235.3 704.2h0M232.9 704.8h0M236.8 705.3h0M226.4 714.8h0M237.0 701.2h0M235.9 698.6h0M242.8 700.6h0M241.3 712.1h0M243.2 703.5h0M231.5 708.3h0M239.1 705.5h0M231.8 701.5h0M237.9 700.3h0M235.4 702.5h0M231.1 701.9h0M235.2 701.1h0M231.3 711.3h0M237.5 706.9h0M234.0 699.3h0M234.6 705.2h0M232.5 702.0h0M237.8 706.6h0M242.3 703.9h0M230.4 696.6h0M232.9 704.3h0M237.5 701.7h0M237.3 704.6h0M238.1 708.4h0M242.2 700.6h0M234.2 707.0h0M239.6 703.1h0M235.7 709.0h0M238.5 703.6h0M233.8 705.9h0M229.8 710.7h0M233.0 705.4h0M233.4 704.8h0M235.5 704.6h0M233.0 706.3h0M236.1 706.0h0M235.3 702.4h0M228.4 703.7h0M232.7 709.6h0M236.8 711.2h0M233.6 704.3h0M233.2 703.9h0M233.5 706.8h0M231.5 709.6h0M232.4 702.9h0M251.9 688.2h0M250.2 685.1h0M236.3 692.6h0M233.1 691.9h0M253.2 683.7h0M245.5 688.9h0M247.9 696.2h0M234.0 695.1h0M244.5 688.1h0M251.9 692.1h0M251.9 689.8h0M246.6 694.6h0M238.7 690.9h0M243.6 691.4h0M250.3 683.6h0M250.3 684.5h0M235.2 691.2h0M242.5 687.2h0M246.8 690.5h0M239.5 687.2h0M243.5 694.4h0M237.0 700.0h0M244.5 689.5h0M247.9 692.2h0M243.9 689.0h0M248.5 686.2h0M249.4 692.5h0M255.9 690.6h0M251.5 687.6h0M244.8 692.5h0M254.4 697.6h0M247.5 686.3h0M250.8 680.8h0M248.5 683.6h0M238.5 693.9h0M241.3 688.4h0M248.7 688.4h0M250.9 683.1h0M236.9 700.1h0M246.2 694.8h0M230.1 696.6h0M249.9 696.3h0M234.9 690.5h0M245.8 696.9h0M251.5 681.2h0M238.5 688.3h0M239.0 691.7h0M250.1 692.7h0M258.0 680.9h0M250.5 688.6h0M250.0 696.1h0M252.5 692.8h0M248.9 692.4h0M248.1 688.9h0M240.9 692.7h0M244.8 690.0h0M242.2 690.5h0M249.8 687.1h0M244.4 691.0h0M251.7 684.5h0M251.6 683.2h0M255.2 687.0h0M243.7 694.3h0M249.9 684.0h0M244.9 692.9h0M243.8 691.1h0M246.2 691.9h0M252.7 692.3h0M249.6 700.7h0M247.2 697.4h0M241.9 687.5h0M242.4 691.8h0M247.4 681.3h0M241.8 693.2h0M249.9 689.7h0M249.9 687.4h0M246.6 695.5h0M255.8 685.6h0M244.7 688.1h0M257.9 684.1h0M245.7 684.2h0M253.7 695.7h0M244.2 691.2h0M253.6 684.7h0M254.0 693.4h0M237.4 693.3h0M249.5 688.8h0M245.4 690.5h0M246.9 691.6h0M242.4 692.2h0M244.6 687.1h0M243.6 683.2h0M248.8 688.3h0M241.7 699.5h0M243.2 701.5h0M243.9 697.4h0M248.4 695.9h0M246.4 694.9h0M240.0 687.0h0M248.6 691.0h0M251.1 694.3h0M238.6 689.9h0M245.6 688.2h0M245.0 691.5h0M243.2 697.4h0M248.4 696.7h0M249.0 693.2h0M242.6 690.4h0M240.9 690.6h0M248.3 689.8h0M236.6 690.9h0M237.2 689.2h0M237.7 690.2h0M247.1 685.1h0M242.1 693.0h0M246.5 692.2h0M251.0 690.0h0M246.1 696.0h0M246.2 687.7h0M251.4 682.0h0M250.6 692.9h0M246.8 691.7h0M247.5 692.5h0M246.8 690.3h0M245.6 683.0h0M246.3 689.3h0M256.8 684.4h0M243.2 695.5h0" stroke="#f5361c" stroke-width="0.6" stroke-linecap="round" fill="none" stroke-opacity="0.8"/>
<path d="M239.5 662.5V716.5M220.5 699.5H270.5" stroke="#f2737b" stroke-width="0.8" fill="none"/>
<rect x="238.80" y="672.60" width="1.40" height="1.40" fill="#e8404a"/>
<rect x="259.30" y="698.80" width="1.40" height="1.40" fill="#e8404a"/>
<rect x="238.90" y="698.90" width="1.20" height="1.20" fill="#e8404a"/>
<text x="158.82" y="697.22" font-size="8.3" fill="#000" transform="rotate(-90 158.82 697.22)">HeLa</text>
<text x="317.20" y="535.60" font-size="8.5" text-anchor="middle" fill="#000">con</text>
<text x="373.40" y="536.80" font-size="6.4" text-anchor="middle" fill="#4fb82a">IFN-γ</text>
<path d="M290.5 540.5H340.5V594.5" stroke="#b4b4b4" stroke-width="0.9" fill="none"/><path d="M290.5 540.5V594.5H340.5" stroke="#8c8c8c" stroke-width="0.9" fill="none"/>
<path d="M289.2 594.5h1.3M290.5 594.5v1.3M289.2 583.7h1.3M300.5 594.5v1.3M289.2 572.9h1.3M310.5 594.5v1.3M289.2 562.1h1.3M320.5 594.5v1.3M289.2 551.3h1.3M330.5 594.5v1.3M289.2 540.5h1.3M340.5 594.5v1.3" stroke="#aaa" stroke-width="0.4"/>
<path d="M288.9 596.8h2.4M287.9 593.1v2.2M298.9 596.8h2.4M287.9 582.3v2.2M308.9 596.8h2.4M287.9 571.5v2.2M318.9 596.8h2.4M287.9 560.7v2.2M328.9 596.8h2.4M287.9 549.9v2.2M338.9 596.8h2.4M287.9 539.1v2.2" stroke="#c4c4c4" stroke-width="0.9"/>
<g fill="#666" font-size="3"><text x="291.7" y="543.5">1.02%</text><text x="339.3" y="543.5" text-anchor="end">12.5%</text><text x="291.7" y="593.5">75.1%</text><text x="339.3" y="593.5" text-anchor="end">3.06%</text></g>
<ellipse cx="303.5" cy="584.8" rx="5.0" ry="3.5" transform="rotate(-25 303.5 584.8)" fill="#f5361c" fill-opacity="1.0" filter="url(#bl)"/>
<ellipse cx="315.0" cy="568.6" rx="2.5" ry="1.5" transform="rotate(-40 315.0 568.6)" fill="#f5361c" fill-opacity="0.6" filter="url(#bl)"/>
<path d="M300.3 581.7h0M303.2 586.9h0M309.6 586.0h0M304.2 583.9h0M306.1 588.2h0M304.8 588.6h0M300.5 586.1h0M307.5 585.6h0M303.5 582.8h0M296.1 586.6h0M299.7 585.0h0M308.4 579.6h0M306.7 583.2h0M299.5 587.1h0M304.6 579.7h0M298.6 585.6h0M305.4 581.6h0M305.8 585.5h0M304.2 586.2h0M308.0 582.0h0M303.2 580.9h0M300.7 585.7h0M305.6 581.2h0M299.7 590.1h0M308.7 572.5h0M299.7 587.0h0M304.0 581.0h0M306.4 587.6h0M303.6 587.5h0M302.6 581.6h0M300.3 583.9h0M310.2 586.1h0M302.1 579.5h0M301.1 584.4h0M296.3 588.1h0M302.7 580.1h0M301.3 584.1h0M311.4 583.6h0M306.5 583.7h0M300.1 589.9h0M298.2 579.9h0M305.7 582.4h0M304.3 586.4h0M303.3 586.5h0M307.9 581.5h0M302.2 585.5h0M305.3 582.4h0M302.8 582.5h0M304.0 586.6h0M300.2 585.6h0M297.0 585.1h0M304.6 586.3h0M299.5 586.3h0M300.5 587.4h0M305.1 585.7h0M300.7 580.7h0M299.5 581.6h0M300.9 585.8h0M306.6 580.9h0M300.9 586.8h0M299.3 590.6h0M308.6 586.1h0M304.2 587.3h0M303.6 588.4h0M299.9 583.4h0M304.3 582.7h0M304.8 580.9h0M303.1 581.2h0M306.3 591.7h0M297.7 582.8h0M297.2 586.8h0M308.9 580.6h0M306.7 582.6h0M304.1 592.2h0M304.8 577.2h0M300.5 587.8h0M305.6 583.0h0M305.5 585.9h0M303.7 588.5h0M301.5 588.6h0M307.2 583.8h0M302.2 585.3h0M295.7 589.4h0M295.3 580.9h0M305.0 580.6h0M304.9 584.3h0M295.7 585.0h0M303.2 586.7h0M301.9 580.7h0M301.7 586.0h0M298.2 585.6h0M298.4 579.1h0M311.2 584.5h0M303.2 588.5h0M301.9 591.4h0M302.3 585.9h0M301.5 586.1h0M304.8 584.3h0M301.6 588.6h0M305.6 583.8h0M306.3 580.7h0M308.0 582.1h0M308.5 580.8h0M302.9 585.9h0M309.6 587.4h0M300.8 583.3h0M308.1 587.3h0M305.6 582.5h0M308.2 582.5h0M305.0 586.4h0M298.1 578.7h0M316.0 569.1h0M316.2 568.6h0M316.2 569.5h0M316.6 570.1h0M315.8 569.4h0M314.4 569.6h0M315.8 568.2h0M317.5 566.6h0M317.1 567.5h0M315.8 566.1h0M315.4 570.1h0M314.1 570.1h0M316.1 568.1h0M316.2 568.6h0M315.0 569.4h0M313.8 568.7h0M312.4 570.5h0M312.4 570.8h0M314.3 567.1h0M315.4 568.8h0M313.6 568.0h0M315.2 569.2h0M318.3 569.6h0M312.3 571.5h0M315.1 567.3h0M317.5 570.5h0M316.5 570.0h0M316.2 566.7h0M312.5 572.9h0M315.7 564.6h0M314.0 568.0h0M315.4 568.4h0M314.7 571.2h0M317.6 567.8h0M311.3 580.8h0M310.1 574.8h0M308.8 582.7h0M313.8 571.9h0M303.5 573.5h0M313.2 566.9h0M308.7 574.6h0M301.7 572.3h0M304.7 568.9h0M312.0 576.3h0M314.8 571.0h0M312.4 567.7h0M305.1 574.5h0M309.0 569.9h0M303.7 572.2h0M318.7 566.9h0M306.7 576.2h0M303.5 571.1h0M310.8 576.3h0M310.2 578.3h0M310.4 572.6h0M312.1 573.9h0M305.0 570.1h0M309.6 573.9h0M306.0 570.8h0M307.8 573.9h0M308.9 574.7h0M311.9 570.2h0M309.4 569.2h0M310.9 575.3h0" stroke="#f5361c" stroke-width="0.6" stroke-linecap="round" fill="none" stroke-opacity="0.8"/>
<path d="M309.5 540.5V594.5M290.5 577.5H340.5" stroke="#f2737b" stroke-width="0.8" fill="none"/>
<rect x="308.80" y="550.60" width="1.40" height="1.40" fill="#e8404a"/>
<rect x="329.30" y="576.80" width="1.40" height="1.40" fill="#e8404a"/>
<rect x="308.90" y="576.90" width="1.20" height="1.20" fill="#e8404a"/>
<path d="M346.5 540.5H396.5V594.5" stroke="#b4b4b4" stroke-width="0.9" fill="none"/><path d="M346.5 540.5V594.5H396.5" stroke="#8c8c8c" stroke-width="0.9" fill="none"/>
<path d="M345.2 594.5h1.3M346.5 594.5v1.3M345.2 583.7h1.3M356.5 594.5v1.3M345.2 572.9h1.3M366.5 594.5v1.3M345.2 562.1h1.3M376.5 594.5v1.3M345.2 551.3h1.3M386.5 594.5v1.3M345.2 540.5h1.3M396.5 594.5v1.3" stroke="#aaa" stroke-width="0.4"/>
<path d="M344.9 596.8h2.4M343.9 593.1v2.2M354.9 596.8h2.4M343.9 582.3v2.2M364.9 596.8h2.4M343.9 571.5v2.2M374.9 596.8h2.4M343.9 560.7v2.2M384.9 596.8h2.4M343.9 549.9v2.2M394.9 596.8h2.4M343.9 539.1v2.2" stroke="#c4c4c4" stroke-width="0.9"/>
<g fill="#666" font-size="3"><text x="347.7" y="543.5">1.02%</text><text x="395.3" y="543.5" text-anchor="end">12.5%</text><text x="347.7" y="593.5">75.1%</text><text x="395.3" y="593.5" text-anchor="end">3.06%</text></g>
<ellipse cx="360.0" cy="584.8" rx="5.0" ry="3.5" transform="rotate(-30 360.0 584.8)" fill="#f5361c" fill-opacity="1.0" filter="url(#bl)"/>
<ellipse cx="373.0" cy="565.3" rx="4.0" ry="2.0" transform="rotate(-15 373.0 565.3)" fill="#f5361c" fill-opacity="1.0" filter="url(#bl)"/>
<ellipse cx="367.5" cy="574.0" rx="6.0" ry="4.0" transform="rotate(0 367.5 574.0)" fill="#f5361c" fill-opacity="0.05" filter="url(#bl)"/>
<path d="M353.5 581.5h0M361.3 582.9h0M360.7 586.2h0M362.9 586.8h0M354.6 579.1h0M357.8 584.9h0M359.2 586.8h0M361.4 589.2h0M357.8 586.1h0M362.4 591.9h0M354.9 583.7h0M360.0 587.9h0M359.7 584.2h0M351.2 581.5h0M358.8 584.5h0M366.9 582.3h0M363.2 586.8h0M354.7 582.9h0M361.3 590.0h0M362.5 581.0h0M357.2 590.1h0M362.0 579.2h0M364.3 579.2h0M362.3 582.6h0M357.8 583.6h0M363.5 585.2h0M362.4 582.3h0M360.7 593.0h0M365.7 580.7h0M358.5 591.6h0M360.6 584.7h0M363.6 584.1h0M363.9 590.5h0M354.4 590.6h0M356.6 587.0h0M359.9 585.9h0M352.6 591.8h0M367.6 578.7h0M364.3 584.8h0M360.2 582.7h0M362.7 584.3h0M366.6 584.3h0M352.4 577.4h0M366.2 583.1h0M359.6 582.6h0M371.3 583.7h0M359.7 583.5h0M364.4 587.7h0M363.5 586.6h0M361.6 585.3h0M355.7 587.8h0M360.1 584.5h0M359.7 586.2h0M357.6 585.4h0M354.7 583.0h0M357.4 584.6h0M351.9 579.6h0M367.7 584.5h0M359.6 587.3h0M353.2 582.2h0M362.2 585.8h0M357.5 586.2h0M348.7 590.8h0M364.1 583.1h0M361.7 586.2h0M350.3 585.2h0M355.9 588.1h0M354.5 580.4h0M362.9 582.4h0M367.1 588.8h0M351.8 584.4h0M366.3 586.8h0M362.1 585.0h0M363.6 585.3h0M356.7 589.7h0M362.9 581.5h0M355.9 585.2h0M358.8 587.6h0M362.8 583.2h0M355.8 580.1h0M356.7 582.7h0M358.6 587.0h0M355.9 585.0h0M355.4 586.4h0M360.7 588.4h0M354.5 591.6h0M361.4 581.9h0M357.9 586.8h0M361.6 583.2h0M359.5 585.2h0M356.6 587.9h0M362.2 583.7h0M355.9 587.2h0M360.2 586.0h0M359.9 588.2h0M365.3 585.0h0M363.0 588.0h0M359.6 584.4h0M354.9 587.8h0M362.7 579.4h0M360.6 579.4h0M364.2 589.6h0M358.1 581.2h0M360.8 583.8h0M362.0 581.6h0M352.9 587.0h0M363.9 586.6h0M361.0 584.3h0M362.1 582.8h0M358.7 586.4h0M376.3 563.4h0M374.3 563.7h0M370.7 566.3h0M368.3 564.9h0M368.8 565.2h0M371.2 570.6h0M375.0 565.0h0M367.5 562.0h0M374.1 563.8h0M376.2 563.7h0M368.5 565.3h0M367.3 564.0h0M375.0 563.7h0M374.9 563.7h0M372.0 564.5h0M370.9 564.6h0M377.8 564.0h0M367.6 570.2h0M377.6 566.4h0M372.6 565.1h0M371.5 566.0h0M374.5 564.9h0M369.8 564.2h0M379.2 567.1h0M368.7 565.2h0M373.1 566.5h0M372.7 565.9h0M374.7 567.2h0M369.3 568.5h0M374.7 566.0h0M368.0 566.2h0M372.5 566.8h0M375.5 566.1h0M369.4 568.8h0M373.7 567.1h0M372.6 564.0h0M381.8 564.3h0M375.2 563.8h0M372.8 567.6h0M375.3 568.3h0M376.3 562.3h0M368.6 568.9h0M374.8 564.4h0M371.7 564.6h0M378.7 563.5h0M369.0 568.3h0M372.9 566.1h0M371.7 565.6h0M367.1 568.0h0M370.6 565.2h0M374.6 567.5h0M365.9 567.0h0M375.2 566.8h0M370.2 566.7h0M374.7 566.8h0M370.9 565.6h0M371.9 567.9h0M376.2 563.6h0M372.6 565.9h0M370.0 565.9h0M376.1 566.1h0M370.4 564.7h0M371.8 562.7h0M374.0 565.3h0M360.7 573.1h0M364.1 573.0h0M363.0 579.3h0M362.6 576.9h0M368.5 579.6h0M367.1 574.0h0M367.8 566.8h0M379.5 573.2h0M365.8 569.7h0M366.7 580.2h0M363.6 575.7h0M372.6 577.6h0M365.4 567.3h0M369.5 576.2h0M365.8 572.4h0M376.2 568.0h0M364.8 571.7h0M359.6 571.4h0M363.4 578.8h0M358.6 568.8h0M368.7 568.1h0M357.3 571.6h0M361.3 570.3h0M366.6 575.8h0M364.2 573.0h0M371.0 573.4h0M371.1 571.8h0M369.9 578.9h0M360.5 585.4h0M365.8 572.7h0M366.6 575.8h0M361.3 574.2h0M364.5 579.5h0M358.7 576.5h0M365.8 571.2h0M368.1 573.1h0M367.6 574.9h0M373.5 572.5h0M375.8 563.8h0M376.6 578.6h0M375.3 574.8h0M368.8 570.2h0M374.1 569.6h0M363.4 574.0h0M368.6 575.3h0M361.6 572.7h0M369.9 578.5h0M371.3 575.6h0M366.1 572.0h0M364.8 573.7h0M370.1 572.1h0M377.7 570.2h0M371.5 573.3h0M366.7 572.6h0M375.1 572.9h0M370.2 574.5h0M371.2 576.3h0M375.7 571.3h0M363.3 580.4h0M373.8 574.3h0M366.0 575.0h0M374.0 571.1h0M374.7 573.8h0M365.6 572.5h0" stroke="#f5361c" stroke-width="0.6" stroke-linecap="round" fill="none" stroke-opacity="0.8"/>
<path d="M365.5 540.5V594.5M346.5 577.5H396.5" stroke="#f2737b" stroke-width="0.8" fill="none"/>
<rect x="364.80" y="550.60" width="1.40" height="1.40" fill="#e8404a"/>
<rect x="385.30" y="576.80" width="1.40" height="1.40" fill="#e8404a"/>
<rect x="364.90" y="576.90" width="1.20" height="1.20" fill="#e8404a"/>
<text x="284.46" y="584.00" font-size="8.3" fill="#000" transform="rotate(-90 284.46 584.00)">MCF-7</text>
<path d="M290.5 600.5H340.5V654.5" stroke="#b4b4b4" stroke-width="0.9" fill="none"/><path d="M290.5 600.5V654.5H340.5" stroke="#8c8c8c" stroke-width="0.9" fill="none"/>
<path d="M289.2 654.5h1.3M290.5 654.5v1.3M289.2 643.7h1.3M300.5 654.5v1.3M289.2 632.9h1.3M310.5 654.5v1.3M289.2 622.1h1.3M320.5 654.5v1.3M289.2 611.3h1.3M330.5 654.5v1.3M289.2 600.5h1.3M340.5 654.5v1.3" stroke="#aaa" stroke-width="0.4"/>
<path d="M288.9 656.8h2.4M287.9 653.1v2.2M298.9 656.8h2.4M287.9 642.3v2.2M308.9 656.8h2.4M287.9 631.5v2.2M318.9 656.8h2.4M287.9 620.7v2.2M328.9 656.8h2.4M287.9 609.9v2.2M338.9 656.8h2.4M287.9 599.1v2.2" stroke="#c4c4c4" stroke-width="0.9"/>
<g fill="#666" font-size="3"><text x="291.7" y="603.5">1.02%</text><text x="339.3" y="603.5" text-anchor="end">12.5%</text><text x="291.7" y="653.5">75.1%</text><text x="339.3" y="653.5" text-anchor="end">3.06%</text></g>
<ellipse cx="303.5" cy="644.2" rx="5.0" ry="3.5" transform="rotate(-25 303.5 644.2)" fill="#f5361c" fill-opacity="1.0" filter="url(#bl)"/>
<ellipse cx="319.5" cy="623.7" rx="2.0" ry="1.5" transform="rotate(-40 319.5 623.7)" fill="#f5361c" fill-opacity="0.6" filter="url(#bl)"/>
<path d="M295.9 649.0h0M297.7 645.0h0M300.4 646.6h0M306.2 643.2h0M304.7 645.2h0M310.4 643.2h0M309.3 641.4h0M303.9 641.7h0M304.5 640.7h0M304.4 641.6h0M303.8 648.6h0M305.1 646.4h0M299.9 639.2h0M308.8 641.2h0M302.3 648.3h0M298.1 644.1h0M306.8 640.2h0M307.3 641.4h0M302.7 644.9h0M303.1 648.4h0M307.7 642.6h0M306.5 644.9h0M307.6 636.6h0M308.6 645.2h0M302.3 644.9h0M303.9 648.6h0M300.0 648.2h0M309.1 643.8h0M301.0 643.8h0M294.0 645.0h0M306.3 639.6h0M296.9 646.5h0M298.4 648.3h0M301.5 648.7h0M301.0 640.3h0M299.6 643.8h0M302.0 649.5h0M300.2 647.2h0M302.1 647.1h0M295.9 642.2h0M307.4 647.7h0M297.8 645.8h0M300.2 642.4h0M307.2 642.8h0M297.9 646.1h0M307.5 639.8h0M300.4 642.8h0M303.3 642.4h0M305.7 640.3h0M298.6 648.3h0M304.9 644.6h0M300.6 644.0h0M300.2 645.2h0M302.5 646.8h0M304.3 646.0h0M309.3 640.6h0M302.9 646.0h0M310.9 639.5h0M311.5 644.9h0M291.7 646.2h0M300.3 647.2h0M308.6 642.1h0M307.1 650.5h0M307.8 650.1h0M302.4 650.8h0M298.2 638.0h0M299.7 644.4h0M304.4 646.7h0M306.8 644.7h0M303.1 651.0h0M308.1 642.3h0M301.2 645.2h0M301.7 642.6h0M302.5 642.4h0M305.0 641.2h0M305.8 644.4h0M304.8 645.6h0M303.2 653.8h0M301.9 647.7h0M302.9 643.0h0M311.6 644.5h0M303.2 646.5h0M308.3 647.8h0M307.1 642.0h0M300.9 641.3h0M305.7 646.4h0M302.9 647.0h0M303.3 642.7h0M300.4 649.8h0M313.9 641.5h0M297.9 643.1h0M305.3 645.8h0M305.9 634.4h0M310.7 641.5h0M304.5 645.2h0M301.7 644.1h0M305.1 637.2h0M303.8 646.2h0M297.0 646.8h0M309.8 642.7h0M307.2 645.2h0M304.8 645.0h0M300.1 645.1h0M308.8 637.3h0M301.1 640.8h0M300.4 642.9h0M299.2 647.2h0M300.6 647.6h0M306.8 633.4h0M299.9 638.3h0M319.7 624.3h0M320.9 624.8h0M318.1 621.7h0M320.6 621.1h0M319.7 624.2h0M318.5 624.8h0M319.9 620.3h0M316.9 625.1h0M318.1 622.5h0M317.4 627.2h0M318.8 621.9h0M320.2 623.1h0M318.5 622.1h0M319.7 624.5h0M316.3 624.5h0M322.6 624.9h0M320.3 623.0h0M317.7 624.5h0M319.6 624.5h0M321.4 626.7h0M319.2 619.9h0M318.0 625.0h0M321.1 623.1h0M314.4 624.9h0M321.8 622.9h0M323.5 621.8h0M321.5 624.9h0M318.4 623.6h0M318.4 625.1h0M320.9 624.3h0M321.9 622.9h0M320.9 622.1h0M306.8 635.0h0M314.3 636.8h0M309.9 631.6h0M309.1 634.0h0M310.3 632.4h0M311.4 632.1h0M311.8 631.2h0M304.6 632.0h0M317.6 630.6h0M314.0 636.8h0M308.4 633.7h0M301.8 634.6h0M316.3 633.5h0M303.0 631.3h0M307.7 633.3h0M311.6 631.7h0M309.3 630.6h0M312.7 633.5h0M311.8 631.5h0M312.4 632.1h0M311.6 632.5h0M308.0 629.8h0M303.4 629.0h0M312.2 642.3h0M304.3 630.6h0M310.5 643.2h0M309.7 629.6h0M312.1 638.9h0M299.9 629.6h0M315.2 629.6h0M310.1 631.1h0M313.4 628.7h0" stroke="#f5361c" stroke-width="0.6" stroke-linecap="round" fill="none" stroke-opacity="0.8"/>
<path d="M309.5 600.5V654.5M290.5 637.5H340.5" stroke="#f2737b" stroke-width="0.8" fill="none"/>
<rect x="308.80" y="610.60" width="1.40" height="1.40" fill="#e8404a"/>
<rect x="329.30" y="636.80" width="1.40" height="1.40" fill="#e8404a"/>
<rect x="308.90" y="636.90" width="1.20" height="1.20" fill="#e8404a"/>
<path d="M346.5 600.5H396.5V654.5" stroke="#b4b4b4" stroke-width="0.9" fill="none"/><path d="M346.5 600.5V654.5H396.5" stroke="#8c8c8c" stroke-width="0.9" fill="none"/>
<path d="M345.2 654.5h1.3M346.5 654.5v1.3M345.2 643.7h1.3M356.5 654.5v1.3M345.2 632.9h1.3M366.5 654.5v1.3M345.2 622.1h1.3M376.5 654.5v1.3M345.2 611.3h1.3M386.5 654.5v1.3M345.2 600.5h1.3M396.5 654.5v1.3" stroke="#aaa" stroke-width="0.4"/>
<path d="M344.9 656.8h2.4M343.9 653.1v2.2M354.9 656.8h2.4M343.9 642.3v2.2M364.9 656.8h2.4M343.9 631.5v2.2M374.9 656.8h2.4M343.9 620.7v2.2M384.9 656.8h2.4M343.9 609.9v2.2M394.9 656.8h2.4M343.9 599.1v2.2" stroke="#c4c4c4" stroke-width="0.9"/>
<g fill="#666" font-size="3"><text x="347.7" y="603.5">1.02%</text><text x="395.3" y="603.5" text-anchor="end">12.5%</text><text x="347.7" y="653.5">75.1%</text><text x="395.3" y="653.5" text-anchor="end">3.06%</text></g>
<ellipse cx="361.0" cy="643.2" rx="5.5" ry="3.5" transform="rotate(-30 361.0 643.2)" fill="#f5361c" fill-opacity="1.0" filter="url(#bl)"/>
<ellipse cx="372.5" cy="631.8" rx="9.0" ry="4.5" transform="rotate(-30 372.5 631.8)" fill="#f5361c" fill-opacity="0.15" filter="url(#bl)"/>
<ellipse cx="382.5" cy="623.2" rx="2.5" ry="1.5" transform="rotate(-30 382.5 623.2)" fill="#f5361c" fill-opacity="0.8" filter="url(#bl)"/>
<path d="M362.6 643.1h0M364.0 643.1h0M358.6 637.7h0M358.1 641.2h0M362.7 641.3h0M363.5 646.0h0M363.4 648.3h0M361.9 636.9h0M360.7 648.1h0M361.0 647.8h0M358.5 644.1h0M362.5 636.2h0M360.5 641.7h0M364.6 647.8h0M360.7 638.1h0M364.1 639.6h0M363.6 646.2h0M361.4 646.7h0M360.2 640.1h0M357.5 639.9h0M366.0 640.9h0M363.0 637.7h0M362.4 637.7h0M362.1 642.5h0M359.2 645.4h0M359.7 640.6h0M355.8 641.1h0M366.8 640.4h0M360.7 646.0h0M355.6 641.8h0M365.1 647.0h0M362.5 642.9h0M365.4 634.6h0M371.4 632.9h0M358.4 639.4h0M355.7 645.3h0M369.2 634.8h0M359.0 645.4h0M356.5 644.8h0M360.6 634.9h0M359.3 643.0h0M358.8 644.0h0M353.1 646.0h0M357.2 641.4h0M369.4 646.1h0M362.7 638.8h0M367.5 641.3h0M358.8 646.8h0M359.7 646.2h0M366.6 644.4h0M356.6 645.2h0M358.9 639.6h0M363.8 644.2h0M354.5 644.7h0M354.4 642.0h0M359.1 649.7h0M357.7 643.5h0M366.7 643.9h0M363.1 633.8h0M361.0 636.3h0M357.8 643.4h0M362.0 650.3h0M362.3 647.0h0M360.2 643.4h0M363.8 643.3h0M360.1 636.9h0M363.6 642.9h0M363.3 641.6h0M360.4 638.4h0M363.5 637.0h0M368.3 642.9h0M360.2 642.4h0M363.6 640.5h0M356.7 646.7h0M355.3 644.6h0M369.6 641.4h0M359.1 644.0h0M358.4 644.6h0M356.4 648.5h0M360.0 641.3h0M363.0 652.3h0M358.4 642.8h0M357.8 643.1h0M367.4 642.1h0M363.3 643.3h0M352.3 638.7h0M368.3 641.8h0M362.3 643.5h0M361.8 642.8h0M356.2 637.2h0M363.4 642.0h0M365.4 641.8h0M360.9 645.6h0M361.0 641.4h0M358.8 642.8h0M359.0 642.5h0M369.9 649.5h0M362.5 646.7h0M347.6 638.2h0M358.8 643.8h0M355.7 640.9h0M356.7 643.6h0M361.0 641.8h0M355.6 644.8h0M365.6 637.1h0M363.0 646.0h0M356.8 643.3h0M374.7 640.1h0M359.2 644.8h0M361.7 643.4h0M362.4 641.2h0M350.5 645.4h0M370.5 626.1h0M373.7 638.7h0M372.6 628.4h0M375.7 635.3h0M358.6 633.6h0M367.2 632.7h0M370.7 630.0h0M373.4 631.7h0M363.5 633.9h0M365.0 637.6h0M375.6 633.3h0M365.6 633.1h0M358.0 640.2h0M362.7 639.2h0M380.5 629.4h0M377.1 630.3h0M377.0 634.0h0M385.2 634.7h0M372.6 636.0h0M379.1 630.2h0M371.5 626.0h0M377.7 624.4h0M366.4 631.1h0M374.0 626.0h0M376.7 632.2h0M372.4 630.2h0M379.3 634.5h0M367.2 629.6h0M366.6 630.8h0M370.6 632.1h0M360.6 646.0h0M366.2 633.3h0M355.4 631.8h0M366.4 636.5h0M374.1 621.8h0M377.3 636.7h0M372.7 636.4h0M372.5 627.2h0M377.7 625.8h0M373.9 629.0h0M371.4 633.2h0M377.5 620.5h0M365.4 636.4h0M378.5 627.4h0M372.4 634.5h0M380.8 622.5h0M361.5 636.8h0M374.6 624.0h0M381.9 631.1h0M375.8 625.7h0M365.5 639.2h0M375.7 633.4h0M357.2 625.7h0M382.0 631.4h0M370.7 632.8h0M377.1 632.9h0M370.1 630.6h0M368.4 639.4h0M365.7 618.6h0M373.5 628.4h0M363.1 634.7h0M363.2 634.9h0M370.0 635.8h0M361.9 628.8h0M365.5 628.9h0M376.9 628.2h0M359.7 634.8h0M372.2 631.8h0M360.2 638.3h0M376.6 634.4h0M379.4 627.2h0M363.2 635.3h0M374.7 625.9h0M378.6 623.4h0M366.9 639.2h0M372.5 633.4h0M370.6 633.1h0M372.8 641.2h0M376.5 628.9h0M377.4 633.2h0M369.4 634.5h0M372.6 628.9h0M367.0 634.0h0M369.6 631.4h0M360.0 639.4h0M376.9 629.6h0M385.6 628.6h0M368.7 630.6h0M374.9 628.5h0M362.2 638.4h0M370.1 632.1h0M376.9 630.2h0M384.1 621.4h0M372.5 633.3h0M368.5 631.5h0M380.8 619.7h0M370.9 623.9h0M370.5 623.3h0M367.3 640.5h0M382.8 626.5h0M357.0 645.9h0M371.7 626.7h0M367.3 628.2h0M371.7 631.8h0M375.0 634.3h0M363.5 625.9h0M362.1 631.5h0M369.1 631.6h0M375.2 637.1h0M370.3 627.7h0M368.6 629.7h0M372.2 634.9h0M366.6 638.7h0M387.5 630.8h0M383.3 626.0h0M368.0 644.5h0M372.7 632.9h0M368.1 629.6h0M373.5 624.2h0M364.7 639.1h0M368.2 630.1h0M378.8 635.3h0M370.3 632.4h0M378.2 633.2h0M380.7 630.5h0M369.3 636.3h0M368.9 625.4h0M381.8 629.3h0M384.9 621.7h0M383.8 622.3h0M383.5 624.1h0M383.0 623.9h0M383.3 624.7h0M382.5 620.4h0M385.8 622.0h0M381.1 622.9h0M386.2 621.2h0M383.9 623.4h0M382.7 626.0h0M385.7 620.0h0M383.4 620.0h0M381.9 623.6h0M383.0 623.8h0M383.5 623.2h0M382.5 623.7h0M382.9 626.2h0M383.5 624.7h0M382.6 622.9h0M381.2 621.8h0M386.6 621.5h0M382.4 622.5h0M384.6 621.4h0M381.3 623.0h0M385.5 622.0h0M381.8 622.5h0M385.0 622.2h0M382.5 624.6h0M383.4 621.0h0M385.4 623.3h0M381.1 621.8h0" stroke="#f5361c" stroke-width="0.6" stroke-linecap="round" fill="none" stroke-opacity="0.8"/>
<path d="M365.5 600.5V654.5M346.5 637.5H396.5" stroke="#f2737b" stroke-width="0.8" fill="none"/>
<rect x="364.80" y="610.60" width="1.40" height="1.40" fill="#e8404a"/>
<rect x="385.30" y="636.80" width="1.40" height="1.40" fill="#e8404a"/>
<rect x="364.90" y="636.90" width="1.20" height="1.20" fill="#e8404a"/>
<text x="284.42" y="637.03" font-size="8.3" fill="#000" transform="rotate(-90 284.42 637.03)">MKN-45</text>
<path d="M290.5 662.5H340.5V716.5" stroke="#b4b4b4" stroke-width="0.9" fill="none"/><path d="M290.5 662.5V716.5H340.5" stroke="#8c8c8c" stroke-width="0.9" fill="none"/>
<path d="M289.2 716.5h1.3M290.5 716.5v1.3M289.2 705.7h1.3M300.5 716.5v1.3M289.2 694.9h1.3M310.5 716.5v1.3M289.2 684.1h1.3M320.5 716.5v1.3M289.2 673.3h1.3M330.5 716.5v1.3M289.2 662.5h1.3M340.5 716.5v1.3" stroke="#aaa" stroke-width="0.4"/>
<path d="M288.9 718.8h2.4M287.9 715.1v2.2M298.9 718.8h2.4M287.9 704.3v2.2M308.9 718.8h2.4M287.9 693.5v2.2M318.9 718.8h2.4M287.9 682.7v2.2M328.9 718.8h2.4M287.9 671.9v2.2M338.9 718.8h2.4M287.9 661.1v2.2" stroke="#c4c4c4" stroke-width="0.9"/>
<g fill="#666" font-size="3"><text x="291.7" y="665.5">1.02%</text><text x="339.3" y="665.5" text-anchor="end">12.5%</text><text x="291.7" y="715.5">75.1%</text><text x="339.3" y="715.5" text-anchor="end">3.06%</text></g>
<ellipse cx="303.5" cy="705.7" rx="5.0" ry="3.5" transform="rotate(-25 303.5 705.7)" fill="#f5361c" fill-opacity="1.0" filter="url(#bl)"/>
<ellipse cx="314.0" cy="690.6" rx="5.0" ry="3.0" transform="rotate(0 314.0 690.6)" fill="#f5361c" fill-opacity="0.05" filter="url(#bl)"/>
<path d="M307.2 702.7h0M302.3 705.2h0M303.7 708.7h0M300.1 709.2h0M309.4 706.9h0M306.6 705.2h0M302.6 705.7h0M302.6 712.3h0M301.6 702.8h0M308.8 708.8h0M304.1 704.2h0M300.2 709.6h0M301.7 704.1h0M304.0 700.7h0M302.9 697.0h0M299.2 702.5h0M303.7 708.5h0M300.6 712.1h0M300.3 705.4h0M306.2 701.7h0M308.7 702.5h0M301.8 703.0h0M307.8 703.5h0M300.4 703.7h0M301.0 706.5h0M302.0 709.4h0M302.5 703.9h0M307.3 709.2h0M296.2 710.4h0M307.8 704.2h0M304.5 699.6h0M302.2 710.0h0M303.3 706.0h0M306.4 705.7h0M304.5 703.4h0M304.3 710.2h0M299.7 702.2h0M303.5 709.0h0M310.5 703.0h0M302.1 708.6h0M306.3 708.7h0M306.6 707.0h0M306.0 706.1h0M299.9 706.8h0M311.4 706.9h0M307.7 705.2h0M303.6 706.9h0M303.9 709.5h0M301.3 703.9h0M299.7 713.2h0M299.6 704.4h0M307.6 710.4h0M305.6 703.5h0M304.5 702.2h0M302.7 706.2h0M304.7 708.0h0M308.2 710.4h0M306.3 703.4h0M303.4 702.7h0M300.8 705.7h0M306.4 701.8h0M296.4 705.3h0M298.9 707.2h0M300.8 702.7h0M300.1 705.8h0M305.9 706.8h0M308.1 702.6h0M306.0 704.8h0M298.7 705.6h0M311.5 701.4h0M310.9 705.3h0M309.5 702.2h0M306.6 703.1h0M297.9 704.1h0M303.0 700.1h0M303.8 702.4h0M303.0 700.9h0M306.5 703.5h0M296.0 704.0h0M301.6 700.6h0M305.5 706.5h0M303.2 711.0h0M309.4 704.1h0M306.0 706.3h0M304.5 710.0h0M298.2 699.0h0M304.3 706.9h0M305.1 700.9h0M307.6 700.8h0M307.0 706.7h0M305.9 708.7h0M304.7 712.6h0M304.9 703.5h0M313.2 701.1h0M299.7 712.7h0M308.5 701.3h0M301.6 710.7h0M302.5 702.7h0M302.0 706.7h0M309.5 708.6h0M303.5 711.3h0M299.1 710.4h0M303.8 707.2h0M301.1 704.3h0M306.3 708.5h0M295.6 709.6h0M300.7 703.1h0M299.4 709.5h0M306.6 706.6h0M294.2 704.5h0M300.8 705.4h0M309.6 701.5h0M314.7 693.4h0M321.0 691.6h0M315.6 696.1h0M312.5 685.5h0M311.1 689.7h0M319.5 691.5h0M319.1 690.9h0M314.3 688.9h0M309.2 692.0h0M315.6 692.2h0M312.0 689.4h0M315.7 692.3h0M322.3 688.1h0M318.2 693.1h0M313.1 691.0h0M313.9 694.9h0M324.5 691.5h0M313.1 693.3h0M316.2 690.1h0M317.2 693.1h0M312.6 693.0h0M305.1 686.9h0M312.9 691.0h0M308.3 694.8h0M312.6 691.0h0M314.0 692.7h0M311.8 692.7h0M310.8 686.4h0M316.3 691.0h0M317.8 685.1h0M314.6 688.8h0M313.4 689.5h0M312.7 688.7h0M318.3 685.7h0M307.4 691.6h0M322.4 688.4h0M310.5 687.3h0M310.0 694.1h0M316.9 693.1h0M315.6 691.3h0M311.8 687.8h0M316.7 697.6h0M312.7 694.2h0M311.3 690.7h0M321.1 690.4h0M316.8 689.0h0M321.8 687.1h0M316.5 689.9h0" stroke="#f5361c" stroke-width="0.6" stroke-linecap="round" fill="none" stroke-opacity="0.8"/>
<path d="M309.5 662.5V716.5M290.5 699.5H340.5" stroke="#f2737b" stroke-width="0.8" fill="none"/>
<rect x="308.80" y="672.60" width="1.40" height="1.40" fill="#e8404a"/>
<rect x="329.30" y="698.80" width="1.40" height="1.40" fill="#e8404a"/>
<rect x="308.90" y="698.90" width="1.20" height="1.20" fill="#e8404a"/>
<path d="M346.5 662.5H396.5V716.5" stroke="#b4b4b4" stroke-width="0.9" fill="none"/><path d="M346.5 662.5V716.5H396.5" stroke="#8c8c8c" stroke-width="0.9" fill="none"/>
<path d="M345.2 716.5h1.3M346.5 716.5v1.3M345.2 705.7h1.3M356.5 716.5v1.3M345.2 694.9h1.3M366.5 716.5v1.3M345.2 684.1h1.3M376.5 716.5v1.3M345.2 673.3h1.3M386.5 716.5v1.3M345.2 662.5h1.3M396.5 716.5v1.3" stroke="#aaa" stroke-width="0.4"/>
<path d="M344.9 718.8h2.4M343.9 715.1v2.2M354.9 718.8h2.4M343.9 704.3v2.2M364.9 718.8h2.4M343.9 693.5v2.2M374.9 718.8h2.4M343.9 682.7v2.2M384.9 718.8h2.4M343.9 671.9v2.2M394.9 718.8h2.4M343.9 661.1v2.2" stroke="#c4c4c4" stroke-width="0.9"/>
<g fill="#666" font-size="3"><text x="347.7" y="665.5">1.02%</text><text x="395.3" y="665.5" text-anchor="end">12.5%</text><text x="347.7" y="715.5">75.1%</text><text x="395.3" y="715.5" text-anchor="end">3.06%</text></g>
<ellipse cx="360.0" cy="705.7" rx="5.5" ry="3.5" transform="rotate(-30 360.0 705.7)" fill="#f5361c" fill-opacity="1.0" filter="url(#bl)"/>
<ellipse cx="370.5" cy="692.2" rx="7.0" ry="5.0" transform="rotate(-40 370.5 692.2)" fill="#f5361c" fill-opacity="0.2" filter="url(#bl)"/>
<path d="M361.5 706.2h0M366.7 705.2h0M364.9 704.3h0M358.3 711.9h0M366.9 703.6h0M362.9 703.2h0M356.2 711.7h0M360.5 712.7h0M362.8 704.0h0M358.0 707.3h0M355.6 706.8h0M365.9 701.2h0M367.1 701.2h0M360.2 702.0h0M358.3 705.0h0M358.0 714.3h0M362.3 704.1h0M356.0 708.2h0M354.5 705.2h0M363.0 712.3h0M354.4 711.1h0M353.2 698.5h0M354.5 708.4h0M359.1 703.3h0M367.9 703.2h0M355.0 702.3h0M359.7 703.3h0M362.4 700.3h0M364.0 701.6h0M360.5 704.4h0M364.5 707.5h0M356.5 704.2h0M369.1 704.1h0M369.1 704.1h0M363.4 710.0h0M356.8 705.9h0M359.7 708.5h0M356.5 707.0h0M356.5 706.8h0M366.4 706.3h0M363.5 713.5h0M358.2 708.5h0M354.6 700.3h0M357.6 711.9h0M360.1 706.7h0M365.1 702.9h0M356.7 705.3h0M357.4 709.3h0M359.2 708.2h0M353.6 707.7h0M368.8 702.1h0M361.7 709.3h0M363.8 709.4h0M356.9 710.5h0M357.2 710.0h0M372.2 704.5h0M357.5 708.8h0M360.7 702.5h0M359.3 702.0h0M365.4 706.1h0M360.6 708.0h0M369.1 699.8h0M353.4 710.8h0M357.1 704.4h0M365.3 706.5h0M365.2 709.0h0M357.0 705.8h0M357.2 696.9h0M350.1 712.8h0M359.4 706.3h0M356.8 708.5h0M363.2 701.4h0M362.1 703.9h0M359.7 706.3h0M366.9 703.8h0M363.0 704.5h0M353.3 713.2h0M360.2 706.0h0M355.6 702.3h0M369.0 707.6h0M363.1 696.8h0M360.3 701.0h0M358.5 704.6h0M356.4 704.8h0M359.5 709.0h0M367.9 704.7h0M359.8 705.3h0M359.1 706.1h0M357.4 706.5h0M363.0 703.1h0M356.7 707.1h0M360.3 705.2h0M360.3 708.3h0M358.2 702.8h0M361.1 702.3h0M364.5 706.3h0M362.5 705.5h0M354.5 708.1h0M361.6 707.2h0M355.4 707.7h0M354.4 709.6h0M360.6 705.8h0M367.8 704.1h0M358.4 704.4h0M359.7 708.9h0M362.8 702.1h0M358.9 704.7h0M363.1 704.7h0M355.8 704.7h0M362.8 698.7h0M347.8 700.8h0M377.9 682.7h0M376.1 691.0h0M377.8 693.2h0M368.5 693.8h0M376.6 690.5h0M364.9 692.2h0M365.0 698.4h0M363.5 688.4h0M369.1 695.4h0M370.7 690.6h0M373.3 693.9h0M362.8 693.6h0M377.2 691.2h0M362.2 694.7h0M379.3 689.5h0M373.1 696.4h0M381.0 692.2h0M360.4 692.6h0M368.2 693.8h0M369.8 694.3h0M380.5 690.7h0M375.0 688.4h0M379.3 687.7h0M371.6 691.2h0M369.1 706.8h0M373.2 695.5h0M380.0 683.0h0M368.6 700.2h0M368.8 687.8h0M374.9 688.6h0M358.6 686.4h0M367.4 697.2h0M369.0 699.5h0M381.3 685.1h0M371.4 691.0h0M374.5 689.0h0M379.6 693.5h0M371.4 685.4h0M372.7 688.7h0M375.0 694.5h0M368.3 695.4h0M374.6 683.6h0M372.0 695.5h0M372.7 696.7h0M361.5 690.4h0M371.9 690.2h0M374.9 694.5h0M374.2 687.0h0M362.9 686.5h0M367.0 696.7h0M367.0 685.9h0M374.0 689.1h0M374.4 686.7h0M371.5 684.5h0M359.9 696.1h0M375.0 691.0h0M362.7 699.7h0M378.7 695.8h0M375.6 691.1h0M364.7 699.4h0M360.9 698.4h0M366.0 690.0h0M365.6 695.4h0M371.2 687.6h0M374.1 693.6h0M376.3 699.2h0M367.0 690.6h0M365.4 703.1h0M373.0 688.9h0M371.6 690.5h0M374.4 688.8h0M371.4 691.0h0M359.9 687.4h0M369.2 685.6h0M374.3 693.0h0M376.7 682.4h0M374.1 695.0h0M365.8 692.5h0M378.9 698.0h0M378.3 691.6h0M368.3 698.1h0M371.8 683.3h0M370.0 691.4h0M368.2 683.4h0M373.7 689.5h0M363.0 685.5h0M359.7 697.9h0M374.8 691.3h0M368.8 683.2h0M375.6 696.3h0M365.7 700.3h0M369.0 696.9h0M366.1 685.9h0M369.8 700.7h0M373.9 697.0h0M374.8 694.1h0M369.5 694.4h0M371.7 696.8h0M371.4 698.3h0M373.9 681.9h0M371.5 694.8h0M382.0 689.7h0M365.7 685.6h0M372.5 686.9h0M372.7 692.9h0M367.5 701.3h0M376.4 690.8h0M374.3 691.2h0M362.8 695.5h0M373.2 687.9h0M371.8 693.4h0M371.8 692.8h0M372.7 690.3h0M364.8 695.3h0M372.8 686.1h0M373.6 691.5h0M358.1 685.2h0M368.1 689.4h0M370.6 697.9h0M368.2 696.3h0M371.7 692.4h0M373.5 677.6h0M374.4 688.0h0M367.3 690.8h0M370.9 692.2h0M371.5 701.5h0M366.9 694.4h0M365.4 697.4h0" stroke="#f5361c" stroke-width="0.6" stroke-linecap="round" fill="none" stroke-opacity="0.8"/>
<path d="M365.5 662.5V716.5M346.5 699.5H396.5" stroke="#f2737b" stroke-width="0.8" fill="none"/>
<rect x="364.80" y="672.60" width="1.40" height="1.40" fill="#e8404a"/>
<rect x="385.30" y="698.80" width="1.40" height="1.40" fill="#e8404a"/>
<rect x="364.90" y="698.90" width="1.20" height="1.20" fill="#e8404a"/>
<text x="284.46" y="703.33" font-size="8.3" fill="#000" transform="rotate(-90 284.46 703.33)">SK-MEL-1</text>
<path d="M32.6 702.3V723.3H62" stroke="#555" stroke-width="0.7" fill="none"/>
<text x="37.30" y="729.70" font-size="6.3" fill="#111">Annexin</text>
<text x="31.10" y="721.80" font-size="6.3" fill="#111" transform="rotate(-90 31.10 721.80)">PI</text>
<path d="M158.2 702.3V723.3H187.2" stroke="#555" stroke-width="0.7" fill="none"/>
<text x="163.70" y="729.70" font-size="6.3" fill="#111">Annexin</text>
<text x="156.70" y="721.80" font-size="6.3" fill="#111" transform="rotate(-90 156.70 721.80)">PI</text>
<path d="M284.5 702.3V723.6H314.2" stroke="#555" stroke-width="0.7" fill="none"/>
<text x="287.60" y="730.40" font-size="6.3" fill="#111">Annexin</text>
<text x="283.00" y="722.10" font-size="6.3" fill="#111" transform="rotate(-90 283.00 722.10)">PI</text>
<path d="M432.5 540.5V612.3H502.5M430.1 612.3H432.5M430.1 594.3H432.5M430.1 576.4H432.5M430.1 558.5H432.5M430.1 540.5H432.5" stroke="#333" stroke-width="0.75" fill="none"/>
<text x="429.20" y="614.32" font-size="5.6" text-anchor="end" font-weight="bold" fill="#000">0</text>
<text x="429.20" y="596.37" font-size="5.6" text-anchor="end" font-weight="bold" fill="#000">10</text>
<text x="429.20" y="578.42" font-size="5.6" text-anchor="end" font-weight="bold" fill="#000">20</text>
<text x="429.20" y="560.47" font-size="5.6" text-anchor="end" font-weight="bold" fill="#000">30</text>
<text x="429.20" y="542.52" font-size="5.6" text-anchor="end" font-weight="bold" fill="#000">40</text>
<line x1="439.20" y1="603.68" x2="439.20" y2="599.20" stroke="#555" stroke-width="0.5"/>
<line x1="437.80" y1="599.20" x2="440.60" y2="599.20" stroke="#555" stroke-width="0.5"/>
<rect x="436.30" y="603.68" width="5.80" height="8.62" fill="#000"/>
<line x1="448.20" y1="576.58" x2="448.20" y2="572.63" stroke="#a9d08e" stroke-width="0.5"/>
<line x1="446.80" y1="572.63" x2="449.60" y2="572.63" stroke="#a9d08e" stroke-width="0.5"/>
<rect x="445.30" y="576.58" width="5.80" height="35.72" fill="#5d9f3a"/>
<line x1="443.70" y1="612.30" x2="443.70" y2="614.30" stroke="#333" stroke-width="0.6"/>
<text x="443.70" y="621.30" font-size="5.3" text-anchor="middle" font-weight="bold" fill="#1a1a1a">HT-29</text>
<line x1="440.60" y1="567.30" x2="449.00" y2="567.30" stroke="#444" stroke-width="0.8"/>
<text x="444.80" y="563.00" font-size="7.8" text-anchor="middle" font-weight="bold" fill="#222">**</text>
<line x1="463.30" y1="601.71" x2="463.30" y2="597.58" stroke="#555" stroke-width="0.5"/>
<line x1="461.90" y1="597.58" x2="464.70" y2="597.58" stroke="#555" stroke-width="0.5"/>
<rect x="460.40" y="601.71" width="5.80" height="10.59" fill="#000"/>
<line x1="472.30" y1="571.01" x2="472.30" y2="567.25" stroke="#a9d08e" stroke-width="0.5"/>
<line x1="470.90" y1="567.25" x2="473.70" y2="567.25" stroke="#a9d08e" stroke-width="0.5"/>
<rect x="469.40" y="571.01" width="5.80" height="41.28" fill="#5d9f3a"/>
<line x1="467.80" y1="612.30" x2="467.80" y2="614.30" stroke="#333" stroke-width="0.6"/>
<text x="467.80" y="621.30" font-size="5.3" text-anchor="middle" font-weight="bold" fill="#1a1a1a">A-549</text>
<line x1="463.00" y1="562.90" x2="473.60" y2="562.90" stroke="#444" stroke-width="0.8"/>
<text x="468.30" y="558.60" font-size="7.8" text-anchor="middle" font-weight="bold" fill="#222">**</text>
<line x1="487.00" y1="598.30" x2="487.00" y2="594.35" stroke="#555" stroke-width="0.5"/>
<line x1="485.60" y1="594.35" x2="488.40" y2="594.35" stroke="#555" stroke-width="0.5"/>
<rect x="484.10" y="598.30" width="5.80" height="14.00" fill="#000"/>
<line x1="496.00" y1="560.25" x2="496.00" y2="556.48" stroke="#a9d08e" stroke-width="0.5"/>
<line x1="494.60" y1="556.48" x2="497.40" y2="556.48" stroke="#a9d08e" stroke-width="0.5"/>
<rect x="493.10" y="560.25" width="5.80" height="52.05" fill="#5d9f3a"/>
<line x1="491.50" y1="612.30" x2="491.50" y2="614.30" stroke="#333" stroke-width="0.6"/>
<text x="491.50" y="621.30" font-size="5.3" text-anchor="middle" font-weight="bold" fill="#1a1a1a">MCF-7</text>
<line x1="487.60" y1="554.20" x2="496.40" y2="554.20" stroke="#444" stroke-width="0.8"/>
<text x="492.00" y="549.50" font-size="7.8" text-anchor="middle" font-weight="bold" fill="#222">**</text>
<text x="420.82" y="602.19" font-size="5.95" font-weight="bold" fill="#000" transform="rotate(-90 420.82 602.19)">Cell apoptosis (%)</text>
<rect x="435.90" y="533.50" width="7.00" height="3.50" fill="#000"/>
<text x="447.00" y="537.59" font-size="6.5" fill="#1a1a1a">con</text>
<rect x="435.90" y="543.30" width="7.00" height="3.30" fill="#5d9f3a"/>
<text x="447.00" y="547.29" font-size="6.5" fill="#1a1a1a">IFN-α</text>
<path d="M535.5 543.4V615.2H606.0M533.1 615.2H535.5M533.1 597.2H535.5M533.1 579.3H535.5M533.1 561.4H535.5M533.1 543.4H535.5" stroke="#333" stroke-width="0.75" fill="none"/>
<text x="532.20" y="617.22" font-size="5.6" text-anchor="end" font-weight="bold" fill="#000">0</text>
<text x="532.20" y="599.27" font-size="5.6" text-anchor="end" font-weight="bold" fill="#000">10</text>
<text x="532.20" y="581.32" font-size="5.6" text-anchor="end" font-weight="bold" fill="#000">20</text>
<text x="532.20" y="563.37" font-size="5.6" text-anchor="end" font-weight="bold" fill="#000">30</text>
<text x="532.20" y="545.42" font-size="5.6" text-anchor="end" font-weight="bold" fill="#000">40</text>
<line x1="542.70" y1="602.99" x2="542.70" y2="598.69" stroke="#555" stroke-width="0.5"/>
<line x1="541.30" y1="598.69" x2="544.10" y2="598.69" stroke="#555" stroke-width="0.5"/>
<rect x="539.80" y="602.99" width="5.80" height="12.21" fill="#000"/>
<line x1="551.70" y1="561.35" x2="551.70" y2="557.40" stroke="#a9d08e" stroke-width="0.5"/>
<line x1="550.30" y1="557.40" x2="553.10" y2="557.40" stroke="#a9d08e" stroke-width="0.5"/>
<rect x="548.80" y="561.35" width="5.80" height="53.85" fill="#5d9f3a"/>
<line x1="547.20" y1="615.20" x2="547.20" y2="617.20" stroke="#333" stroke-width="0.6"/>
<text x="547.20" y="623.50" font-size="5.3" text-anchor="middle" font-weight="bold" fill="#1a1a1a">HuH-7</text>
<line x1="543.80" y1="554.40" x2="552.00" y2="554.40" stroke="#444" stroke-width="0.8"/>
<text x="547.90" y="550.10" font-size="7.8" text-anchor="middle" font-weight="bold" fill="#222">**</text>
<line x1="566.30" y1="606.05" x2="566.30" y2="602.28" stroke="#555" stroke-width="0.5"/>
<line x1="564.90" y1="602.28" x2="567.70" y2="602.28" stroke="#555" stroke-width="0.5"/>
<rect x="563.40" y="606.05" width="5.80" height="9.15" fill="#000"/>
<line x1="575.30" y1="572.30" x2="575.30" y2="568.53" stroke="#a9d08e" stroke-width="0.5"/>
<line x1="573.90" y1="568.53" x2="576.70" y2="568.53" stroke="#a9d08e" stroke-width="0.5"/>
<rect x="572.40" y="572.30" width="5.80" height="42.90" fill="#5d9f3a"/>
<line x1="570.80" y1="615.20" x2="570.80" y2="617.20" stroke="#333" stroke-width="0.6"/>
<text x="570.80" y="623.50" font-size="5.3" text-anchor="middle" font-weight="bold" fill="#1a1a1a">PANC-1</text>
<line x1="566.40" y1="565.80" x2="574.80" y2="565.80" stroke="#444" stroke-width="0.8"/>
<text x="570.60" y="561.20" font-size="7.8" text-anchor="middle" font-weight="bold" fill="#222">**</text>
<line x1="590.50" y1="599.05" x2="590.50" y2="595.28" stroke="#555" stroke-width="0.5"/>
<line x1="589.10" y1="595.28" x2="591.90" y2="595.28" stroke="#555" stroke-width="0.5"/>
<rect x="587.60" y="599.05" width="5.80" height="16.15" fill="#000"/>
<line x1="599.50" y1="572.30" x2="599.50" y2="568.53" stroke="#a9d08e" stroke-width="0.5"/>
<line x1="598.10" y1="568.53" x2="600.90" y2="568.53" stroke="#a9d08e" stroke-width="0.5"/>
<rect x="596.60" y="572.30" width="5.80" height="42.90" fill="#5d9f3a"/>
<line x1="595.00" y1="615.20" x2="595.00" y2="617.20" stroke="#333" stroke-width="0.6"/>
<text x="595.00" y="623.50" font-size="5.3" text-anchor="middle" font-weight="bold" fill="#1a1a1a">MKN-45</text>
<line x1="591.10" y1="562.80" x2="599.30" y2="562.80" stroke="#444" stroke-width="0.8"/>
<text x="595.20" y="558.90" font-size="7.8" text-anchor="middle" font-weight="bold" fill="#222">**</text>
<text x="523.42" y="604.69" font-size="5.95" font-weight="bold" fill="#000" transform="rotate(-90 523.42 604.69)">Cell apoptosis (%)</text>
<rect x="536.60" y="526.90" width="7.00" height="3.50" fill="#000"/>
<text x="547.70" y="530.99" font-size="6.5" fill="#1a1a1a">con</text>
<rect x="536.60" y="536.50" width="7.00" height="3.40" fill="#5d9f3a"/>
<text x="547.70" y="540.54" font-size="6.5" fill="#1a1a1a">IFN-α</text>
<path d="M483.5 642.5V714.3H553.7M481.1 714.3H483.5M481.1 696.3H483.5M481.1 678.4H483.5M481.1 660.5H483.5M481.1 642.5H483.5" stroke="#333" stroke-width="0.75" fill="none"/>
<text x="480.20" y="716.32" font-size="5.6" text-anchor="end" font-weight="bold" fill="#000">0</text>
<text x="480.20" y="698.37" font-size="5.6" text-anchor="end" font-weight="bold" fill="#000">10</text>
<text x="480.20" y="680.42" font-size="5.6" text-anchor="end" font-weight="bold" fill="#000">20</text>
<text x="480.20" y="662.47" font-size="5.6" text-anchor="end" font-weight="bold" fill="#000">30</text>
<text x="480.20" y="644.52" font-size="5.6" text-anchor="end" font-weight="bold" fill="#000">40</text>
<line x1="490.10" y1="696.71" x2="490.10" y2="693.30" stroke="#555" stroke-width="0.5"/>
<line x1="488.70" y1="693.30" x2="491.50" y2="693.30" stroke="#555" stroke-width="0.5"/>
<rect x="487.20" y="696.71" width="5.80" height="17.59" fill="#000"/>
<line x1="499.10" y1="669.96" x2="499.10" y2="666.55" stroke="#a9d08e" stroke-width="0.5"/>
<line x1="497.70" y1="666.55" x2="500.50" y2="666.55" stroke="#a9d08e" stroke-width="0.5"/>
<rect x="496.20" y="669.96" width="5.80" height="44.34" fill="#5d9f3a"/>
<line x1="494.60" y1="714.30" x2="494.60" y2="716.30" stroke="#333" stroke-width="0.6"/>
<text x="494.60" y="723.40" font-size="5.3" text-anchor="middle" font-weight="bold" fill="#1a1a1a">A-498</text>
<line x1="491.50" y1="663.90" x2="500.00" y2="663.90" stroke="#444" stroke-width="0.8"/>
<text x="495.75" y="659.80" font-size="7.8" text-anchor="middle" font-weight="bold" fill="#222">**</text>
<line x1="514.10" y1="702.09" x2="514.10" y2="698.50" stroke="#555" stroke-width="0.5"/>
<line x1="512.70" y1="698.50" x2="515.50" y2="698.50" stroke="#555" stroke-width="0.5"/>
<rect x="511.20" y="702.09" width="5.80" height="12.21" fill="#000"/>
<line x1="523.10" y1="664.76" x2="523.10" y2="660.81" stroke="#a9d08e" stroke-width="0.5"/>
<line x1="521.70" y1="660.81" x2="524.50" y2="660.81" stroke="#a9d08e" stroke-width="0.5"/>
<rect x="520.20" y="664.76" width="5.80" height="49.54" fill="#5d9f3a"/>
<line x1="518.60" y1="714.30" x2="518.60" y2="716.30" stroke="#333" stroke-width="0.6"/>
<text x="518.60" y="723.40" font-size="5.3" text-anchor="middle" font-weight="bold" fill="#1a1a1a">HeLa</text>
<line x1="514.00" y1="658.80" x2="524.00" y2="658.80" stroke="#444" stroke-width="0.8"/>
<text x="519.00" y="654.50" font-size="7.8" text-anchor="middle" font-weight="bold" fill="#222">**</text>
<line x1="537.90" y1="703.71" x2="537.90" y2="700.30" stroke="#555" stroke-width="0.5"/>
<line x1="536.50" y1="700.30" x2="539.30" y2="700.30" stroke="#555" stroke-width="0.5"/>
<rect x="535.00" y="703.71" width="5.80" height="10.59" fill="#000"/>
<line x1="546.90" y1="678.94" x2="546.90" y2="675.17" stroke="#a9d08e" stroke-width="0.5"/>
<line x1="545.50" y1="675.17" x2="548.30" y2="675.17" stroke="#a9d08e" stroke-width="0.5"/>
<rect x="544.00" y="678.94" width="5.80" height="35.36" fill="#5d9f3a"/>
<line x1="542.40" y1="714.30" x2="542.40" y2="716.30" stroke="#333" stroke-width="0.6"/>
<text x="542.40" y="723.40" font-size="5.3" text-anchor="middle" font-weight="bold" fill="#1a1a1a">SK-MEL-1</text>
<line x1="538.50" y1="671.40" x2="546.70" y2="671.40" stroke="#444" stroke-width="0.8"/>
<text x="542.60" y="667.10" font-size="7.8" text-anchor="middle" font-weight="bold" fill="#222">**</text>
<text x="471.12" y="704.19" font-size="5.95" font-weight="bold" fill="#000" transform="rotate(-90 471.12 704.19)">Cell apoptosis (%)</text>
<rect x="486.60" y="632.00" width="7.00" height="3.50" fill="#000"/>
<text x="497.70" y="636.09" font-size="6.5" fill="#1a1a1a">con</text>
<rect x="486.60" y="641.30" width="7.00" height="3.50" fill="#5d9f3a"/>
<text x="497.70" y="645.39" font-size="6.5" fill="#1a1a1a">IFN-α</text>
<text x="2.60" y="749.60" font-size="17.8" font-weight="bold" fill="#000">H</text>
<path d="M32.5 757.3V836.3H146.7M29.1 836.3H32.5M29.1 820.5H32.5M29.1 804.7H32.5M29.1 788.9H32.5M29.1 773.1H32.5M29.1 757.3H32.5" stroke="#333" stroke-width="0.75" fill="none"/>
<text x="28.40" y="838.42" font-size="5.9" text-anchor="end" font-weight="bold" fill="#000">0.0</text>
<text x="28.40" y="822.62" font-size="5.9" text-anchor="end" font-weight="bold" fill="#000">0.5</text>
<text x="28.40" y="806.82" font-size="5.9" text-anchor="end" font-weight="bold" fill="#000">1.0</text>
<text x="28.40" y="791.02" font-size="5.9" text-anchor="end" font-weight="bold" fill="#000">1.5</text>
<text x="28.40" y="775.22" font-size="5.9" text-anchor="end" font-weight="bold" fill="#000">2.0</text>
<text x="28.40" y="759.42" font-size="5.9" text-anchor="end" font-weight="bold" fill="#000">2.5</text>
<line x1="36.00" y1="804.70" x2="36.00" y2="801.86" stroke="#8a8a8a" stroke-width="0.5"/>
<line x1="35.00" y1="801.86" x2="37.00" y2="801.86" stroke="#8a8a8a" stroke-width="0.5"/>
<rect x="34.30" y="804.70" width="3.40" height="31.60" fill="#000"/>
<line x1="40.80" y1="770.89" x2="40.80" y2="764.57" stroke="#a9d08e" stroke-width="0.5"/>
<line x1="39.80" y1="764.57" x2="41.80" y2="764.57" stroke="#a9d08e" stroke-width="0.5"/>
<rect x="39.10" y="770.89" width="3.40" height="65.41" fill="#5d9f3a"/>
<line x1="38.40" y1="836.30" x2="38.40" y2="839.50" stroke="#333" stroke-width="0.6"/>
<text x="40.80" y="765.27" font-size="6.8" text-anchor="middle" font-weight="bold" fill="#333">**</text>
<text x="39.60" y="844.90" font-size="5.8" text-anchor="end" font-weight="bold" fill="#1a1a1a" transform="rotate(-45 39.60 844.90)">HT-29</text>
<line x1="48.74" y1="804.70" x2="48.74" y2="801.86" stroke="#8a8a8a" stroke-width="0.5"/>
<line x1="47.74" y1="801.86" x2="49.74" y2="801.86" stroke="#8a8a8a" stroke-width="0.5"/>
<rect x="47.04" y="804.70" width="3.40" height="31.60" fill="#000"/>
<line x1="53.54" y1="781.00" x2="53.54" y2="776.58" stroke="#a9d08e" stroke-width="0.5"/>
<line x1="52.54" y1="776.58" x2="54.54" y2="776.58" stroke="#a9d08e" stroke-width="0.5"/>
<rect x="51.84" y="781.00" width="3.40" height="55.30" fill="#5d9f3a"/>
<line x1="51.14" y1="836.30" x2="51.14" y2="839.50" stroke="#333" stroke-width="0.6"/>
<text x="53.54" y="777.28" font-size="6.8" text-anchor="middle" font-weight="bold" fill="#333">**</text>
<text x="52.34" y="844.90" font-size="5.8" text-anchor="end" font-weight="bold" fill="#1a1a1a" transform="rotate(-45 52.34 844.90)">HuH-7</text>
<line x1="61.48" y1="804.70" x2="61.48" y2="800.91" stroke="#8a8a8a" stroke-width="0.5"/>
<line x1="60.48" y1="800.91" x2="62.48" y2="800.91" stroke="#8a8a8a" stroke-width="0.5"/>
<rect x="59.78" y="804.70" width="3.40" height="31.60" fill="#000"/>
<line x1="66.28" y1="770.26" x2="66.28" y2="763.94" stroke="#a9d08e" stroke-width="0.5"/>
<line x1="65.28" y1="763.94" x2="67.28" y2="763.94" stroke="#a9d08e" stroke-width="0.5"/>
<rect x="64.58" y="770.26" width="3.40" height="66.04" fill="#5d9f3a"/>
<line x1="63.88" y1="836.30" x2="63.88" y2="839.50" stroke="#333" stroke-width="0.6"/>
<text x="66.28" y="764.64" font-size="6.8" text-anchor="middle" font-weight="bold" fill="#333">**</text>
<text x="65.08" y="844.90" font-size="5.8" text-anchor="end" font-weight="bold" fill="#1a1a1a" transform="rotate(-45 65.08 844.90)">A-498</text>
<line x1="74.22" y1="804.70" x2="74.22" y2="800.91" stroke="#8a8a8a" stroke-width="0.5"/>
<line x1="73.22" y1="800.91" x2="75.22" y2="800.91" stroke="#8a8a8a" stroke-width="0.5"/>
<rect x="72.52" y="804.70" width="3.40" height="31.60" fill="#000"/>
<line x1="79.02" y1="773.73" x2="79.02" y2="763.94" stroke="#a9d08e" stroke-width="0.5"/>
<line x1="78.02" y1="763.94" x2="80.02" y2="763.94" stroke="#a9d08e" stroke-width="0.5"/>
<rect x="77.32" y="773.73" width="3.40" height="62.57" fill="#5d9f3a"/>
<line x1="76.62" y1="836.30" x2="76.62" y2="839.50" stroke="#333" stroke-width="0.6"/>
<text x="79.02" y="764.64" font-size="6.8" text-anchor="middle" font-weight="bold" fill="#333">**</text>
<text x="77.82" y="844.90" font-size="5.8" text-anchor="end" font-weight="bold" fill="#1a1a1a" transform="rotate(-45 77.82 844.90)">A-549</text>
<line x1="86.96" y1="804.70" x2="86.96" y2="802.49" stroke="#8a8a8a" stroke-width="0.5"/>
<line x1="85.96" y1="802.49" x2="87.96" y2="802.49" stroke="#8a8a8a" stroke-width="0.5"/>
<rect x="85.26" y="804.70" width="3.40" height="31.60" fill="#000"/>
<line x1="91.76" y1="772.15" x2="91.76" y2="769.31" stroke="#a9d08e" stroke-width="0.5"/>
<line x1="90.76" y1="769.31" x2="92.76" y2="769.31" stroke="#a9d08e" stroke-width="0.5"/>
<rect x="90.06" y="772.15" width="3.40" height="64.15" fill="#5d9f3a"/>
<line x1="89.36" y1="836.30" x2="89.36" y2="839.50" stroke="#333" stroke-width="0.6"/>
<text x="91.76" y="770.01" font-size="6.8" text-anchor="middle" font-weight="bold" fill="#333">**</text>
<text x="90.56" y="844.90" font-size="5.8" text-anchor="end" font-weight="bold" fill="#1a1a1a" transform="rotate(-45 90.56 844.90)">PANC-1</text>
<line x1="99.70" y1="804.70" x2="99.70" y2="801.86" stroke="#8a8a8a" stroke-width="0.5"/>
<line x1="98.70" y1="801.86" x2="100.70" y2="801.86" stroke="#8a8a8a" stroke-width="0.5"/>
<rect x="98.00" y="804.70" width="3.40" height="31.60" fill="#000"/>
<line x1="104.50" y1="779.74" x2="104.50" y2="772.15" stroke="#a9d08e" stroke-width="0.5"/>
<line x1="103.50" y1="772.15" x2="105.50" y2="772.15" stroke="#a9d08e" stroke-width="0.5"/>
<rect x="102.80" y="779.74" width="3.40" height="56.56" fill="#5d9f3a"/>
<line x1="102.10" y1="836.30" x2="102.10" y2="839.50" stroke="#333" stroke-width="0.6"/>
<text x="104.50" y="772.85" font-size="6.8" text-anchor="middle" font-weight="bold" fill="#333">**</text>
<text x="103.30" y="844.90" font-size="5.8" text-anchor="end" font-weight="bold" fill="#1a1a1a" transform="rotate(-45 103.30 844.90)">HeLa</text>
<line x1="112.44" y1="804.70" x2="112.44" y2="801.86" stroke="#8a8a8a" stroke-width="0.5"/>
<line x1="111.44" y1="801.86" x2="113.44" y2="801.86" stroke="#8a8a8a" stroke-width="0.5"/>
<rect x="110.74" y="804.70" width="3.40" height="31.60" fill="#000"/>
<line x1="117.24" y1="770.26" x2="117.24" y2="762.04" stroke="#a9d08e" stroke-width="0.5"/>
<line x1="116.24" y1="762.04" x2="118.24" y2="762.04" stroke="#a9d08e" stroke-width="0.5"/>
<rect x="115.54" y="770.26" width="3.40" height="66.04" fill="#5d9f3a"/>
<line x1="114.84" y1="836.30" x2="114.84" y2="839.50" stroke="#333" stroke-width="0.6"/>
<text x="117.24" y="762.74" font-size="6.8" text-anchor="middle" font-weight="bold" fill="#333">**</text>
<text x="116.04" y="844.90" font-size="5.8" text-anchor="end" font-weight="bold" fill="#1a1a1a" transform="rotate(-45 116.04 844.90)">MCF-7</text>
<line x1="125.18" y1="804.70" x2="125.18" y2="799.96" stroke="#8a8a8a" stroke-width="0.5"/>
<line x1="124.18" y1="799.96" x2="126.18" y2="799.96" stroke="#8a8a8a" stroke-width="0.5"/>
<rect x="123.48" y="804.70" width="3.40" height="31.60" fill="#000"/>
<line x1="129.98" y1="782.58" x2="129.98" y2="779.10" stroke="#a9d08e" stroke-width="0.5"/>
<line x1="128.98" y1="779.10" x2="130.98" y2="779.10" stroke="#a9d08e" stroke-width="0.5"/>
<rect x="128.28" y="782.58" width="3.40" height="53.72" fill="#5d9f3a"/>
<line x1="127.58" y1="836.30" x2="127.58" y2="839.50" stroke="#333" stroke-width="0.6"/>
<text x="129.98" y="779.80" font-size="6.8" text-anchor="middle" font-weight="bold" fill="#333">**</text>
<text x="128.78" y="844.90" font-size="5.8" text-anchor="end" font-weight="bold" fill="#1a1a1a" transform="rotate(-45 128.78 844.90)">MKN-45</text>
<line x1="137.92" y1="804.70" x2="137.92" y2="802.49" stroke="#8a8a8a" stroke-width="0.5"/>
<line x1="136.92" y1="802.49" x2="138.92" y2="802.49" stroke="#8a8a8a" stroke-width="0.5"/>
<rect x="136.22" y="804.70" width="3.40" height="31.60" fill="#000"/>
<line x1="142.72" y1="766.78" x2="142.72" y2="761.41" stroke="#a9d08e" stroke-width="0.5"/>
<line x1="141.72" y1="761.41" x2="143.72" y2="761.41" stroke="#a9d08e" stroke-width="0.5"/>
<rect x="141.02" y="766.78" width="3.40" height="69.52" fill="#5d9f3a"/>
<line x1="140.32" y1="836.30" x2="140.32" y2="839.50" stroke="#333" stroke-width="0.6"/>
<text x="142.72" y="762.11" font-size="6.8" text-anchor="middle" font-weight="bold" fill="#333">**</text>
<text x="141.52" y="844.90" font-size="5.8" text-anchor="end" font-weight="bold" fill="#1a1a1a" transform="rotate(-45 141.52 844.90)">SK-MEL-1</text>
<text x="9.36" y="830.51" font-size="6.5" font-weight="bold" fill="#000" transform="rotate(-90 9.36 830.51)">Relative expression of</text>
<text x="18.14" y="804.84" font-size="6.5" font-weight="bold" fill="#000" transform="rotate(-90 18.14 804.84)">COX2</text>
<rect x="35.00" y="741.00" width="9.40" height="3.70" fill="#000"/>
<text x="47.90" y="745.19" font-size="6.5" fill="#1a1a1a">con</text>
<rect x="35.00" y="751.50" width="9.40" height="3.70" fill="#5d9f3a"/>
<text x="47.90" y="755.69" font-size="6.5" fill="#1a1a1a">IFN-α</text>
<path d="M201.5 760.8V839.8H315.3M198.1 839.8H201.5M198.1 824.0H201.5M198.1 808.2H201.5M198.1 792.4H201.5M198.1 776.6H201.5M198.1 760.8H201.5" stroke="#333" stroke-width="0.75" fill="none"/>
<text x="197.40" y="841.92" font-size="5.9" text-anchor="end" font-weight="bold" fill="#000">0.0</text>
<text x="197.40" y="826.12" font-size="5.9" text-anchor="end" font-weight="bold" fill="#000">0.5</text>
<text x="197.40" y="810.32" font-size="5.9" text-anchor="end" font-weight="bold" fill="#000">1.0</text>
<text x="197.40" y="794.52" font-size="5.9" text-anchor="end" font-weight="bold" fill="#000">1.5</text>
<text x="197.40" y="778.72" font-size="5.9" text-anchor="end" font-weight="bold" fill="#000">2.0</text>
<text x="197.40" y="762.92" font-size="5.9" text-anchor="end" font-weight="bold" fill="#000">2.5</text>
<line x1="204.90" y1="808.20" x2="204.90" y2="804.41" stroke="#8a8a8a" stroke-width="0.5"/>
<line x1="203.90" y1="804.41" x2="205.90" y2="804.41" stroke="#8a8a8a" stroke-width="0.5"/>
<rect x="203.20" y="808.20" width="3.40" height="31.60" fill="#000"/>
<line x1="209.70" y1="783.24" x2="209.70" y2="778.18" stroke="#a9d08e" stroke-width="0.5"/>
<line x1="208.70" y1="778.18" x2="210.70" y2="778.18" stroke="#a9d08e" stroke-width="0.5"/>
<rect x="208.00" y="783.24" width="3.40" height="56.56" fill="#5d9f3a"/>
<line x1="207.30" y1="839.80" x2="207.30" y2="843.00" stroke="#333" stroke-width="0.6"/>
<text x="209.70" y="778.88" font-size="6.8" text-anchor="middle" font-weight="bold" fill="#333">**</text>
<text x="208.50" y="848.40" font-size="5.8" text-anchor="end" font-weight="bold" fill="#1a1a1a" transform="rotate(-45 208.50 848.40)">HT-29</text>
<line x1="217.66" y1="808.20" x2="217.66" y2="805.99" stroke="#8a8a8a" stroke-width="0.5"/>
<line x1="216.66" y1="805.99" x2="218.66" y2="805.99" stroke="#8a8a8a" stroke-width="0.5"/>
<rect x="215.96" y="808.20" width="3.40" height="31.60" fill="#000"/>
<line x1="222.46" y1="789.56" x2="222.46" y2="784.50" stroke="#a9d08e" stroke-width="0.5"/>
<line x1="221.46" y1="784.50" x2="223.46" y2="784.50" stroke="#a9d08e" stroke-width="0.5"/>
<rect x="220.76" y="789.56" width="3.40" height="50.24" fill="#5d9f3a"/>
<line x1="220.06" y1="839.80" x2="220.06" y2="843.00" stroke="#333" stroke-width="0.6"/>
<text x="222.46" y="785.20" font-size="6.8" text-anchor="middle" font-weight="bold" fill="#333">**</text>
<text x="221.26" y="848.40" font-size="5.8" text-anchor="end" font-weight="bold" fill="#1a1a1a" transform="rotate(-45 221.26 848.40)">HuH-7</text>
<line x1="230.42" y1="808.20" x2="230.42" y2="805.36" stroke="#8a8a8a" stroke-width="0.5"/>
<line x1="229.42" y1="805.36" x2="231.42" y2="805.36" stroke="#8a8a8a" stroke-width="0.5"/>
<rect x="228.72" y="808.20" width="3.40" height="31.60" fill="#000"/>
<line x1="235.22" y1="774.39" x2="235.22" y2="771.54" stroke="#a9d08e" stroke-width="0.5"/>
<line x1="234.22" y1="771.54" x2="236.22" y2="771.54" stroke="#a9d08e" stroke-width="0.5"/>
<rect x="233.52" y="774.39" width="3.40" height="65.41" fill="#5d9f3a"/>
<line x1="232.82" y1="839.80" x2="232.82" y2="843.00" stroke="#333" stroke-width="0.6"/>
<text x="235.22" y="772.24" font-size="6.8" text-anchor="middle" font-weight="bold" fill="#333">**</text>
<text x="234.02" y="848.40" font-size="5.8" text-anchor="end" font-weight="bold" fill="#1a1a1a" transform="rotate(-45 234.02 848.40)">A-498</text>
<line x1="243.18" y1="808.20" x2="243.18" y2="803.78" stroke="#8a8a8a" stroke-width="0.5"/>
<line x1="242.18" y1="803.78" x2="244.18" y2="803.78" stroke="#8a8a8a" stroke-width="0.5"/>
<rect x="241.48" y="808.20" width="3.40" height="31.60" fill="#000"/>
<line x1="247.98" y1="779.76" x2="247.98" y2="773.76" stroke="#a9d08e" stroke-width="0.5"/>
<line x1="246.98" y1="773.76" x2="248.98" y2="773.76" stroke="#a9d08e" stroke-width="0.5"/>
<rect x="246.28" y="779.76" width="3.40" height="60.04" fill="#5d9f3a"/>
<line x1="245.58" y1="839.80" x2="245.58" y2="843.00" stroke="#333" stroke-width="0.6"/>
<text x="247.98" y="774.46" font-size="6.8" text-anchor="middle" font-weight="bold" fill="#333">**</text>
<text x="246.78" y="848.40" font-size="5.8" text-anchor="end" font-weight="bold" fill="#1a1a1a" transform="rotate(-45 246.78 848.40)">A-549</text>
<line x1="255.94" y1="808.20" x2="255.94" y2="805.67" stroke="#8a8a8a" stroke-width="0.5"/>
<line x1="254.94" y1="805.67" x2="256.94" y2="805.67" stroke="#8a8a8a" stroke-width="0.5"/>
<rect x="254.24" y="808.20" width="3.40" height="31.60" fill="#000"/>
<line x1="260.74" y1="781.02" x2="260.74" y2="776.28" stroke="#a9d08e" stroke-width="0.5"/>
<line x1="259.74" y1="776.28" x2="261.74" y2="776.28" stroke="#a9d08e" stroke-width="0.5"/>
<rect x="259.04" y="781.02" width="3.40" height="58.78" fill="#5d9f3a"/>
<line x1="258.34" y1="839.80" x2="258.34" y2="843.00" stroke="#333" stroke-width="0.6"/>
<text x="260.74" y="776.98" font-size="6.8" text-anchor="middle" font-weight="bold" fill="#333">**</text>
<text x="259.54" y="848.40" font-size="5.8" text-anchor="end" font-weight="bold" fill="#1a1a1a" transform="rotate(-45 259.54 848.40)">PANC-1</text>
<line x1="268.70" y1="808.20" x2="268.70" y2="806.30" stroke="#8a8a8a" stroke-width="0.5"/>
<line x1="267.70" y1="806.30" x2="269.70" y2="806.30" stroke="#8a8a8a" stroke-width="0.5"/>
<rect x="267.00" y="808.20" width="3.40" height="31.60" fill="#000"/>
<line x1="273.50" y1="784.18" x2="273.50" y2="779.76" stroke="#a9d08e" stroke-width="0.5"/>
<line x1="272.50" y1="779.76" x2="274.50" y2="779.76" stroke="#a9d08e" stroke-width="0.5"/>
<rect x="271.80" y="784.18" width="3.40" height="55.62" fill="#5d9f3a"/>
<line x1="271.10" y1="839.80" x2="271.10" y2="843.00" stroke="#333" stroke-width="0.6"/>
<text x="273.50" y="780.46" font-size="6.8" text-anchor="middle" font-weight="bold" fill="#333">**</text>
<text x="272.30" y="848.40" font-size="5.8" text-anchor="end" font-weight="bold" fill="#1a1a1a" transform="rotate(-45 272.30 848.40)">HeLa</text>
<line x1="281.46" y1="808.20" x2="281.46" y2="805.99" stroke="#8a8a8a" stroke-width="0.5"/>
<line x1="280.46" y1="805.99" x2="282.46" y2="805.99" stroke="#8a8a8a" stroke-width="0.5"/>
<rect x="279.76" y="808.20" width="3.40" height="31.60" fill="#000"/>
<line x1="286.26" y1="776.28" x2="286.26" y2="770.28" stroke="#a9d08e" stroke-width="0.5"/>
<line x1="285.26" y1="770.28" x2="287.26" y2="770.28" stroke="#a9d08e" stroke-width="0.5"/>
<rect x="284.56" y="776.28" width="3.40" height="63.52" fill="#5d9f3a"/>
<line x1="283.86" y1="839.80" x2="283.86" y2="843.00" stroke="#333" stroke-width="0.6"/>
<text x="286.26" y="770.98" font-size="6.8" text-anchor="middle" font-weight="bold" fill="#333">**</text>
<text x="285.06" y="848.40" font-size="5.8" text-anchor="end" font-weight="bold" fill="#1a1a1a" transform="rotate(-45 285.06 848.40)">MCF-7</text>
<line x1="294.22" y1="808.20" x2="294.22" y2="804.41" stroke="#8a8a8a" stroke-width="0.5"/>
<line x1="293.22" y1="804.41" x2="295.22" y2="804.41" stroke="#8a8a8a" stroke-width="0.5"/>
<rect x="292.52" y="808.20" width="3.40" height="31.60" fill="#000"/>
<line x1="299.02" y1="791.14" x2="299.02" y2="786.40" stroke="#a9d08e" stroke-width="0.5"/>
<line x1="298.02" y1="786.40" x2="300.02" y2="786.40" stroke="#a9d08e" stroke-width="0.5"/>
<rect x="297.32" y="791.14" width="3.40" height="48.66" fill="#5d9f3a"/>
<line x1="296.62" y1="839.80" x2="296.62" y2="843.00" stroke="#333" stroke-width="0.6"/>
<text x="299.02" y="787.10" font-size="6.8" text-anchor="middle" font-weight="bold" fill="#333">**</text>
<text x="297.82" y="848.40" font-size="5.8" text-anchor="end" font-weight="bold" fill="#1a1a1a" transform="rotate(-45 297.82 848.40)">MKN-45</text>
<line x1="306.98" y1="808.20" x2="306.98" y2="805.67" stroke="#8a8a8a" stroke-width="0.5"/>
<line x1="305.98" y1="805.67" x2="307.98" y2="805.67" stroke="#8a8a8a" stroke-width="0.5"/>
<rect x="305.28" y="808.20" width="3.40" height="31.60" fill="#000"/>
<line x1="311.78" y1="773.76" x2="311.78" y2="766.80" stroke="#a9d08e" stroke-width="0.5"/>
<line x1="310.78" y1="766.80" x2="312.78" y2="766.80" stroke="#a9d08e" stroke-width="0.5"/>
<rect x="310.08" y="773.76" width="3.40" height="66.04" fill="#5d9f3a"/>
<line x1="309.38" y1="839.80" x2="309.38" y2="843.00" stroke="#333" stroke-width="0.6"/>
<text x="311.78" y="767.50" font-size="6.8" text-anchor="middle" font-weight="bold" fill="#333">**</text>
<text x="310.58" y="848.40" font-size="5.8" text-anchor="end" font-weight="bold" fill="#1a1a1a" transform="rotate(-45 310.58 848.40)">SK-MEL-1</text>
<text x="178.06" y="834.51" font-size="6.5" font-weight="bold" fill="#000" transform="rotate(-90 178.06 834.51)">Relative expression of</text>
<text x="186.74" y="810.66" font-size="6.5" font-weight="bold" fill="#000" transform="rotate(-90 186.74 810.66)">ACSL4</text>
<rect x="204.40" y="741.00" width="8.90" height="3.70" fill="#000"/>
<text x="216.50" y="745.19" font-size="6.5" fill="#1a1a1a">con</text>
<rect x="204.40" y="751.50" width="8.90" height="3.70" fill="#5d9f3a"/>
<text x="216.50" y="755.69" font-size="6.5" fill="#1a1a1a">IFN-α</text>
<path d="M360.5 758.5V837.5H474.5M357.1 837.5H360.5M357.1 811.2H360.5M357.1 784.8H360.5M357.1 758.5H360.5" stroke="#333" stroke-width="0.75" fill="none"/>
<text x="356.40" y="839.62" font-size="5.9" text-anchor="end" font-weight="bold" fill="#000">0</text>
<text x="356.40" y="813.29" font-size="5.9" text-anchor="end" font-weight="bold" fill="#000">1</text>
<text x="356.40" y="786.96" font-size="5.9" text-anchor="end" font-weight="bold" fill="#000">2</text>
<text x="356.40" y="760.62" font-size="5.9" text-anchor="end" font-weight="bold" fill="#000">3</text>
<line x1="364.40" y1="811.17" x2="364.40" y2="807.48" stroke="#8a8a8a" stroke-width="0.5"/>
<line x1="363.40" y1="807.48" x2="365.40" y2="807.48" stroke="#8a8a8a" stroke-width="0.5"/>
<rect x="362.70" y="811.17" width="3.40" height="26.33" fill="#000"/>
<line x1="369.20" y1="779.83" x2="369.20" y2="773.25" stroke="#a9d08e" stroke-width="0.5"/>
<line x1="368.20" y1="773.25" x2="370.20" y2="773.25" stroke="#a9d08e" stroke-width="0.5"/>
<rect x="367.50" y="779.83" width="3.40" height="57.67" fill="#5d9f3a"/>
<line x1="366.80" y1="837.50" x2="366.80" y2="840.70" stroke="#333" stroke-width="0.6"/>
<text x="369.20" y="773.95" font-size="6.8" text-anchor="middle" font-weight="bold" fill="#333">**</text>
<text x="368.00" y="846.10" font-size="5.8" text-anchor="end" font-weight="bold" fill="#1a1a1a" transform="rotate(-45 368.00 846.10)">HT-29</text>
<line x1="377.16" y1="811.17" x2="377.16" y2="809.32" stroke="#8a8a8a" stroke-width="0.5"/>
<line x1="376.16" y1="809.32" x2="378.16" y2="809.32" stroke="#8a8a8a" stroke-width="0.5"/>
<rect x="375.46" y="811.17" width="3.40" height="26.33" fill="#000"/>
<line x1="381.96" y1="784.83" x2="381.96" y2="779.04" stroke="#a9d08e" stroke-width="0.5"/>
<line x1="380.96" y1="779.04" x2="382.96" y2="779.04" stroke="#a9d08e" stroke-width="0.5"/>
<rect x="380.26" y="784.83" width="3.40" height="52.67" fill="#5d9f3a"/>
<line x1="379.56" y1="837.50" x2="379.56" y2="840.70" stroke="#333" stroke-width="0.6"/>
<text x="381.96" y="779.74" font-size="6.8" text-anchor="middle" font-weight="bold" fill="#333">**</text>
<text x="380.76" y="846.10" font-size="5.8" text-anchor="end" font-weight="bold" fill="#1a1a1a" transform="rotate(-45 380.76 846.10)">HuH-7</text>
<line x1="389.92" y1="811.17" x2="389.92" y2="809.32" stroke="#8a8a8a" stroke-width="0.5"/>
<line x1="388.92" y1="809.32" x2="390.92" y2="809.32" stroke="#8a8a8a" stroke-width="0.5"/>
<rect x="388.22" y="811.17" width="3.40" height="26.33" fill="#000"/>
<line x1="394.72" y1="771.93" x2="394.72" y2="767.98" stroke="#a9d08e" stroke-width="0.5"/>
<line x1="393.72" y1="767.98" x2="395.72" y2="767.98" stroke="#a9d08e" stroke-width="0.5"/>
<rect x="393.02" y="771.93" width="3.40" height="65.57" fill="#5d9f3a"/>
<line x1="392.32" y1="837.50" x2="392.32" y2="840.70" stroke="#333" stroke-width="0.6"/>
<text x="394.72" y="768.68" font-size="6.8" text-anchor="middle" font-weight="bold" fill="#333">**</text>
<text x="393.52" y="846.10" font-size="5.8" text-anchor="end" font-weight="bold" fill="#1a1a1a" transform="rotate(-45 393.52 846.10)">A-498</text>
<line x1="402.68" y1="811.17" x2="402.68" y2="808.80" stroke="#8a8a8a" stroke-width="0.5"/>
<line x1="401.68" y1="808.80" x2="403.68" y2="808.80" stroke="#8a8a8a" stroke-width="0.5"/>
<rect x="400.98" y="811.17" width="3.40" height="26.33" fill="#000"/>
<line x1="407.48" y1="776.67" x2="407.48" y2="772.46" stroke="#a9d08e" stroke-width="0.5"/>
<line x1="406.48" y1="772.46" x2="408.48" y2="772.46" stroke="#a9d08e" stroke-width="0.5"/>
<rect x="405.78" y="776.67" width="3.40" height="60.83" fill="#5d9f3a"/>
<line x1="405.08" y1="837.50" x2="405.08" y2="840.70" stroke="#333" stroke-width="0.6"/>
<text x="407.48" y="773.16" font-size="6.8" text-anchor="middle" font-weight="bold" fill="#333">**</text>
<text x="406.28" y="846.10" font-size="5.8" text-anchor="end" font-weight="bold" fill="#1a1a1a" transform="rotate(-45 406.28 846.10)">A-549</text>
<line x1="415.44" y1="811.17" x2="415.44" y2="808.27" stroke="#8a8a8a" stroke-width="0.5"/>
<line x1="414.44" y1="808.27" x2="416.44" y2="808.27" stroke="#8a8a8a" stroke-width="0.5"/>
<rect x="413.74" y="811.17" width="3.40" height="26.33" fill="#000"/>
<line x1="420.24" y1="777.99" x2="420.24" y2="775.09" stroke="#a9d08e" stroke-width="0.5"/>
<line x1="419.24" y1="775.09" x2="421.24" y2="775.09" stroke="#a9d08e" stroke-width="0.5"/>
<rect x="418.54" y="777.99" width="3.40" height="59.51" fill="#5d9f3a"/>
<line x1="417.84" y1="837.50" x2="417.84" y2="840.70" stroke="#333" stroke-width="0.6"/>
<text x="420.24" y="775.79" font-size="6.8" text-anchor="middle" font-weight="bold" fill="#333">**</text>
<text x="419.04" y="846.10" font-size="5.8" text-anchor="end" font-weight="bold" fill="#1a1a1a" transform="rotate(-45 419.04 846.10)">PANC-1</text>
<line x1="428.20" y1="811.17" x2="428.20" y2="807.22" stroke="#8a8a8a" stroke-width="0.5"/>
<line x1="427.20" y1="807.22" x2="429.20" y2="807.22" stroke="#8a8a8a" stroke-width="0.5"/>
<rect x="426.50" y="811.17" width="3.40" height="26.33" fill="#000"/>
<line x1="433.00" y1="779.83" x2="433.00" y2="777.99" stroke="#a9d08e" stroke-width="0.5"/>
<line x1="432.00" y1="777.99" x2="434.00" y2="777.99" stroke="#a9d08e" stroke-width="0.5"/>
<rect x="431.30" y="779.83" width="3.40" height="57.67" fill="#5d9f3a"/>
<line x1="430.60" y1="837.50" x2="430.60" y2="840.70" stroke="#333" stroke-width="0.6"/>
<text x="433.00" y="778.69" font-size="6.8" text-anchor="middle" font-weight="bold" fill="#333">**</text>
<text x="431.80" y="846.10" font-size="5.8" text-anchor="end" font-weight="bold" fill="#1a1a1a" transform="rotate(-45 431.80 846.10)">HeLa</text>
<line x1="440.96" y1="811.17" x2="440.96" y2="808.53" stroke="#8a8a8a" stroke-width="0.5"/>
<line x1="439.96" y1="808.53" x2="441.96" y2="808.53" stroke="#8a8a8a" stroke-width="0.5"/>
<rect x="439.26" y="811.17" width="3.40" height="26.33" fill="#000"/>
<line x1="445.76" y1="774.30" x2="445.76" y2="771.40" stroke="#a9d08e" stroke-width="0.5"/>
<line x1="444.76" y1="771.40" x2="446.76" y2="771.40" stroke="#a9d08e" stroke-width="0.5"/>
<rect x="444.06" y="774.30" width="3.40" height="63.20" fill="#5d9f3a"/>
<line x1="443.36" y1="837.50" x2="443.36" y2="840.70" stroke="#333" stroke-width="0.6"/>
<text x="445.76" y="772.10" font-size="6.8" text-anchor="middle" font-weight="bold" fill="#333">**</text>
<text x="444.56" y="846.10" font-size="5.8" text-anchor="end" font-weight="bold" fill="#1a1a1a" transform="rotate(-45 444.56 846.10)">MCF-7</text>
<line x1="453.72" y1="811.17" x2="453.72" y2="808.01" stroke="#8a8a8a" stroke-width="0.5"/>
<line x1="452.72" y1="808.01" x2="454.72" y2="808.01" stroke="#8a8a8a" stroke-width="0.5"/>
<rect x="452.02" y="811.17" width="3.40" height="26.33" fill="#000"/>
<line x1="458.52" y1="786.15" x2="458.52" y2="782.46" stroke="#a9d08e" stroke-width="0.5"/>
<line x1="457.52" y1="782.46" x2="459.52" y2="782.46" stroke="#a9d08e" stroke-width="0.5"/>
<rect x="456.82" y="786.15" width="3.40" height="51.35" fill="#5d9f3a"/>
<line x1="456.12" y1="837.50" x2="456.12" y2="840.70" stroke="#333" stroke-width="0.6"/>
<text x="458.52" y="783.16" font-size="6.8" text-anchor="middle" font-weight="bold" fill="#333">**</text>
<text x="457.32" y="846.10" font-size="5.8" text-anchor="end" font-weight="bold" fill="#1a1a1a" transform="rotate(-45 457.32 846.10)">MKN-45</text>
<line x1="466.48" y1="811.17" x2="466.48" y2="807.22" stroke="#8a8a8a" stroke-width="0.5"/>
<line x1="465.48" y1="807.22" x2="467.48" y2="807.22" stroke="#8a8a8a" stroke-width="0.5"/>
<rect x="464.78" y="811.17" width="3.40" height="26.33" fill="#000"/>
<line x1="471.28" y1="771.93" x2="471.28" y2="766.93" stroke="#a9d08e" stroke-width="0.5"/>
<line x1="470.28" y1="766.93" x2="472.28" y2="766.93" stroke="#a9d08e" stroke-width="0.5"/>
<rect x="469.58" y="771.93" width="3.40" height="65.57" fill="#5d9f3a"/>
<line x1="468.88" y1="837.50" x2="468.88" y2="840.70" stroke="#333" stroke-width="0.6"/>
<text x="471.28" y="767.63" font-size="6.8" text-anchor="middle" font-weight="bold" fill="#333">**</text>
<text x="470.08" y="846.10" font-size="5.8" text-anchor="end" font-weight="bold" fill="#1a1a1a" transform="rotate(-45 470.08 846.10)">SK-MEL-1</text>
<text x="343.16" y="832.22" font-size="6.5" font-weight="bold" fill="#000" transform="rotate(-90 343.16 832.22)">Relative expression of</text>
<text x="351.44" y="806.54" font-size="6.5" font-weight="bold" fill="#000" transform="rotate(-90 351.44 806.54)">NOX1</text>
<rect x="363.20" y="741.00" width="8.70" height="3.70" fill="#000"/>
<text x="375.60" y="745.19" font-size="6.5" fill="#1a1a1a">con</text>
<rect x="363.20" y="751.50" width="8.70" height="3.70" fill="#5d9f3a"/>
<text x="375.60" y="755.69" font-size="6.5" fill="#1a1a1a">IFN-α</text>
<path d="M522.5 748.2V826.9H636.0M519.1 826.9H522.5M519.1 800.7H522.5M519.1 774.4H522.5M519.1 748.2H522.5" stroke="#333" stroke-width="0.75" fill="none"/>
<text x="518.40" y="829.02" font-size="5.9" text-anchor="end" font-weight="bold" fill="#000">0.0</text>
<text x="518.40" y="802.79" font-size="5.9" text-anchor="end" font-weight="bold" fill="#000">0.5</text>
<text x="518.40" y="776.56" font-size="5.9" text-anchor="end" font-weight="bold" fill="#000">1.0</text>
<text x="518.40" y="750.32" font-size="5.9" text-anchor="end" font-weight="bold" fill="#000">1.5</text>
<line x1="525.60" y1="774.43" x2="525.60" y2="769.19" stroke="#8a8a8a" stroke-width="0.5"/>
<line x1="524.60" y1="769.19" x2="526.60" y2="769.19" stroke="#8a8a8a" stroke-width="0.5"/>
<rect x="523.90" y="774.43" width="3.40" height="52.47" fill="#000"/>
<line x1="530.40" y1="800.67" x2="530.40" y2="795.94" stroke="#a9d08e" stroke-width="0.5"/>
<line x1="529.40" y1="795.94" x2="531.40" y2="795.94" stroke="#a9d08e" stroke-width="0.5"/>
<rect x="528.70" y="800.67" width="3.40" height="26.23" fill="#5d9f3a"/>
<line x1="528.00" y1="826.90" x2="528.00" y2="830.10" stroke="#333" stroke-width="0.6"/>
<text x="530.40" y="796.64" font-size="6.8" text-anchor="middle" font-weight="bold" fill="#333">**</text>
<text x="529.20" y="835.50" font-size="5.8" text-anchor="end" font-weight="bold" fill="#1a1a1a" transform="rotate(-45 529.20 835.50)">HT-29</text>
<line x1="538.36" y1="774.43" x2="538.36" y2="769.19" stroke="#8a8a8a" stroke-width="0.5"/>
<line x1="537.36" y1="769.19" x2="539.36" y2="769.19" stroke="#8a8a8a" stroke-width="0.5"/>
<rect x="536.66" y="774.43" width="3.40" height="52.47" fill="#000"/>
<line x1="543.16" y1="799.62" x2="543.16" y2="795.94" stroke="#a9d08e" stroke-width="0.5"/>
<line x1="542.16" y1="795.94" x2="544.16" y2="795.94" stroke="#a9d08e" stroke-width="0.5"/>
<rect x="541.46" y="799.62" width="3.40" height="27.28" fill="#5d9f3a"/>
<line x1="540.76" y1="826.90" x2="540.76" y2="830.10" stroke="#333" stroke-width="0.6"/>
<text x="543.16" y="796.64" font-size="6.8" text-anchor="middle" font-weight="bold" fill="#333">**</text>
<text x="541.96" y="835.50" font-size="5.8" text-anchor="end" font-weight="bold" fill="#1a1a1a" transform="rotate(-45 541.96 835.50)">HuH-7</text>
<line x1="551.12" y1="774.43" x2="551.12" y2="768.14" stroke="#8a8a8a" stroke-width="0.5"/>
<line x1="550.12" y1="768.14" x2="552.12" y2="768.14" stroke="#8a8a8a" stroke-width="0.5"/>
<rect x="549.42" y="774.43" width="3.40" height="52.47" fill="#000"/>
<line x1="555.92" y1="803.29" x2="555.92" y2="798.04" stroke="#a9d08e" stroke-width="0.5"/>
<line x1="554.92" y1="798.04" x2="556.92" y2="798.04" stroke="#a9d08e" stroke-width="0.5"/>
<rect x="554.22" y="803.29" width="3.40" height="23.61" fill="#5d9f3a"/>
<line x1="553.52" y1="826.90" x2="553.52" y2="830.10" stroke="#333" stroke-width="0.6"/>
<text x="555.92" y="798.74" font-size="6.8" text-anchor="middle" font-weight="bold" fill="#333">**</text>
<text x="554.72" y="835.50" font-size="5.8" text-anchor="end" font-weight="bold" fill="#1a1a1a" transform="rotate(-45 554.72 835.50)">A-498</text>
<line x1="563.88" y1="774.43" x2="563.88" y2="769.19" stroke="#8a8a8a" stroke-width="0.5"/>
<line x1="562.88" y1="769.19" x2="564.88" y2="769.19" stroke="#8a8a8a" stroke-width="0.5"/>
<rect x="562.18" y="774.43" width="3.40" height="52.47" fill="#000"/>
<line x1="568.68" y1="794.90" x2="568.68" y2="790.17" stroke="#a9d08e" stroke-width="0.5"/>
<line x1="567.68" y1="790.17" x2="569.68" y2="790.17" stroke="#a9d08e" stroke-width="0.5"/>
<rect x="566.98" y="794.90" width="3.40" height="32.00" fill="#5d9f3a"/>
<line x1="566.28" y1="826.90" x2="566.28" y2="830.10" stroke="#333" stroke-width="0.6"/>
<text x="568.68" y="790.87" font-size="6.8" text-anchor="middle" font-weight="bold" fill="#333">**</text>
<text x="567.48" y="835.50" font-size="5.8" text-anchor="end" font-weight="bold" fill="#1a1a1a" transform="rotate(-45 567.48 835.50)">A-549</text>
<line x1="576.64" y1="774.43" x2="576.64" y2="770.24" stroke="#8a8a8a" stroke-width="0.5"/>
<line x1="575.64" y1="770.24" x2="577.64" y2="770.24" stroke="#8a8a8a" stroke-width="0.5"/>
<rect x="574.94" y="774.43" width="3.40" height="52.47" fill="#000"/>
<line x1="581.44" y1="804.86" x2="581.44" y2="799.09" stroke="#a9d08e" stroke-width="0.5"/>
<line x1="580.44" y1="799.09" x2="582.44" y2="799.09" stroke="#a9d08e" stroke-width="0.5"/>
<rect x="579.74" y="804.86" width="3.40" height="22.04" fill="#5d9f3a"/>
<line x1="579.04" y1="826.90" x2="579.04" y2="830.10" stroke="#333" stroke-width="0.6"/>
<text x="581.44" y="799.79" font-size="6.8" text-anchor="middle" font-weight="bold" fill="#333">**</text>
<text x="580.24" y="835.50" font-size="5.8" text-anchor="end" font-weight="bold" fill="#1a1a1a" transform="rotate(-45 580.24 835.50)">PANC-1</text>
<line x1="589.40" y1="774.43" x2="589.40" y2="770.24" stroke="#8a8a8a" stroke-width="0.5"/>
<line x1="588.40" y1="770.24" x2="590.40" y2="770.24" stroke="#8a8a8a" stroke-width="0.5"/>
<rect x="587.70" y="774.43" width="3.40" height="52.47" fill="#000"/>
<line x1="594.20" y1="802.24" x2="594.20" y2="798.04" stroke="#a9d08e" stroke-width="0.5"/>
<line x1="593.20" y1="798.04" x2="595.20" y2="798.04" stroke="#a9d08e" stroke-width="0.5"/>
<rect x="592.50" y="802.24" width="3.40" height="24.66" fill="#5d9f3a"/>
<line x1="591.80" y1="826.90" x2="591.80" y2="830.10" stroke="#333" stroke-width="0.6"/>
<text x="594.20" y="798.74" font-size="6.8" text-anchor="middle" font-weight="bold" fill="#333">**</text>
<text x="593.00" y="835.50" font-size="5.8" text-anchor="end" font-weight="bold" fill="#1a1a1a" transform="rotate(-45 593.00 835.50)">HeLa</text>
<line x1="602.16" y1="774.43" x2="602.16" y2="769.19" stroke="#8a8a8a" stroke-width="0.5"/>
<line x1="601.16" y1="769.19" x2="603.16" y2="769.19" stroke="#8a8a8a" stroke-width="0.5"/>
<rect x="600.46" y="774.43" width="3.40" height="52.47" fill="#000"/>
<line x1="606.96" y1="800.67" x2="606.96" y2="797.52" stroke="#a9d08e" stroke-width="0.5"/>
<line x1="605.96" y1="797.52" x2="607.96" y2="797.52" stroke="#a9d08e" stroke-width="0.5"/>
<rect x="605.26" y="800.67" width="3.40" height="26.23" fill="#5d9f3a"/>
<line x1="604.56" y1="826.90" x2="604.56" y2="830.10" stroke="#333" stroke-width="0.6"/>
<text x="606.96" y="798.22" font-size="6.8" text-anchor="middle" font-weight="bold" fill="#333">**</text>
<text x="605.76" y="835.50" font-size="5.8" text-anchor="end" font-weight="bold" fill="#1a1a1a" transform="rotate(-45 605.76 835.50)">MCF-7</text>
<line x1="614.92" y1="774.43" x2="614.92" y2="767.61" stroke="#8a8a8a" stroke-width="0.5"/>
<line x1="613.92" y1="767.61" x2="615.92" y2="767.61" stroke="#8a8a8a" stroke-width="0.5"/>
<rect x="613.22" y="774.43" width="3.40" height="52.47" fill="#000"/>
<line x1="619.72" y1="809.06" x2="619.72" y2="804.34" stroke="#a9d08e" stroke-width="0.5"/>
<line x1="618.72" y1="804.34" x2="620.72" y2="804.34" stroke="#a9d08e" stroke-width="0.5"/>
<rect x="618.02" y="809.06" width="3.40" height="17.84" fill="#5d9f3a"/>
<line x1="617.32" y1="826.90" x2="617.32" y2="830.10" stroke="#333" stroke-width="0.6"/>
<text x="619.72" y="805.04" font-size="6.8" text-anchor="middle" font-weight="bold" fill="#333">**</text>
<text x="618.52" y="835.50" font-size="5.8" text-anchor="end" font-weight="bold" fill="#1a1a1a" transform="rotate(-45 618.52 835.50)">MKN-45</text>
<line x1="627.68" y1="774.43" x2="627.68" y2="768.14" stroke="#8a8a8a" stroke-width="0.5"/>
<line x1="626.68" y1="768.14" x2="628.68" y2="768.14" stroke="#8a8a8a" stroke-width="0.5"/>
<rect x="625.98" y="774.43" width="3.40" height="52.47" fill="#000"/>
<line x1="632.48" y1="806.96" x2="632.48" y2="801.19" stroke="#a9d08e" stroke-width="0.5"/>
<line x1="631.48" y1="801.19" x2="633.48" y2="801.19" stroke="#a9d08e" stroke-width="0.5"/>
<rect x="630.78" y="806.96" width="3.40" height="19.94" fill="#5d9f3a"/>
<line x1="630.08" y1="826.90" x2="630.08" y2="830.10" stroke="#333" stroke-width="0.6"/>
<text x="632.48" y="801.89" font-size="6.8" text-anchor="middle" font-weight="bold" fill="#333">**</text>
<text x="631.28" y="835.50" font-size="5.8" text-anchor="end" font-weight="bold" fill="#1a1a1a" transform="rotate(-45 631.28 835.50)">SK-MEL-1</text>
<text x="499.16" y="822.91" font-size="6.5" font-weight="bold" fill="#000" transform="rotate(-90 499.16 822.91)">Relative expression of</text>
<text x="507.04" y="797.08" font-size="6.5" font-weight="bold" fill="#000" transform="rotate(-90 507.04 797.08)">GPX4</text>
<rect x="525.50" y="741.00" width="9.40" height="3.70" fill="#000"/>
<text x="537.90" y="745.19" font-size="6.5" fill="#1a1a1a">con</text>
<rect x="525.50" y="751.50" width="9.40" height="3.70" fill="#5d9f3a"/>
<text x="537.90" y="755.69" font-size="6.5" fill="#1a1a1a">IFN-α</text>
<text x="2.80" y="886.20" font-size="17.8" font-weight="bold" fill="#000">I</text>
<path d="M27.5 893.5V972.3H142.0M24.1 972.3H27.5M24.1 956.5H27.5M24.1 940.8H27.5M24.1 925.0H27.5M24.1 909.3H27.5M24.1 893.5H27.5" stroke="#333" stroke-width="0.75" fill="none"/>
<text x="23.40" y="974.42" font-size="5.9" text-anchor="end" font-weight="bold" fill="#000">0</text>
<text x="23.40" y="958.66" font-size="5.9" text-anchor="end" font-weight="bold" fill="#000">5</text>
<text x="23.40" y="942.90" font-size="5.9" text-anchor="end" font-weight="bold" fill="#000">10</text>
<text x="23.40" y="927.14" font-size="5.9" text-anchor="end" font-weight="bold" fill="#000">15</text>
<text x="23.40" y="911.38" font-size="5.9" text-anchor="end" font-weight="bold" fill="#000">20</text>
<text x="23.40" y="895.62" font-size="5.9" text-anchor="end" font-weight="bold" fill="#000">25</text>
<line x1="30.40" y1="957.80" x2="30.40" y2="955.59" stroke="#8a8a8a" stroke-width="0.5"/>
<line x1="29.40" y1="955.59" x2="31.40" y2="955.59" stroke="#8a8a8a" stroke-width="0.5"/>
<rect x="28.70" y="957.80" width="3.40" height="14.50" fill="#000"/>
<line x1="35.20" y1="940.15" x2="35.20" y2="937.94" stroke="#a9d08e" stroke-width="0.5"/>
<line x1="34.20" y1="937.94" x2="36.20" y2="937.94" stroke="#a9d08e" stroke-width="0.5"/>
<rect x="33.50" y="940.15" width="3.40" height="32.15" fill="#5d9f3a"/>
<line x1="32.80" y1="972.30" x2="32.80" y2="975.50" stroke="#333" stroke-width="0.6"/>
<text x="35.20" y="938.64" font-size="6.8" text-anchor="middle" font-weight="bold" fill="#333">**</text>
<text x="34.00" y="980.90" font-size="5.8" text-anchor="end" font-weight="bold" fill="#1a1a1a" transform="rotate(-45 34.00 980.90)">HT-29</text>
<line x1="43.16" y1="950.24" x2="43.16" y2="946.14" stroke="#8a8a8a" stroke-width="0.5"/>
<line x1="42.16" y1="946.14" x2="44.16" y2="946.14" stroke="#8a8a8a" stroke-width="0.5"/>
<rect x="41.46" y="950.24" width="3.40" height="22.06" fill="#000"/>
<line x1="47.96" y1="924.39" x2="47.96" y2="920.92" stroke="#a9d08e" stroke-width="0.5"/>
<line x1="46.96" y1="920.92" x2="48.96" y2="920.92" stroke="#a9d08e" stroke-width="0.5"/>
<rect x="46.26" y="924.39" width="3.40" height="47.91" fill="#5d9f3a"/>
<line x1="45.56" y1="972.30" x2="45.56" y2="975.50" stroke="#333" stroke-width="0.6"/>
<text x="47.96" y="921.62" font-size="6.8" text-anchor="middle" font-weight="bold" fill="#333">**</text>
<text x="46.76" y="980.90" font-size="5.8" text-anchor="end" font-weight="bold" fill="#1a1a1a" transform="rotate(-45 46.76 980.90)">HuH-7</text>
<line x1="55.92" y1="956.54" x2="55.92" y2="954.33" stroke="#8a8a8a" stroke-width="0.5"/>
<line x1="54.92" y1="954.33" x2="56.92" y2="954.33" stroke="#8a8a8a" stroke-width="0.5"/>
<rect x="54.22" y="956.54" width="3.40" height="15.76" fill="#000"/>
<line x1="60.72" y1="940.15" x2="60.72" y2="937.94" stroke="#a9d08e" stroke-width="0.5"/>
<line x1="59.72" y1="937.94" x2="61.72" y2="937.94" stroke="#a9d08e" stroke-width="0.5"/>
<rect x="59.02" y="940.15" width="3.40" height="32.15" fill="#5d9f3a"/>
<line x1="58.32" y1="972.30" x2="58.32" y2="975.50" stroke="#333" stroke-width="0.6"/>
<text x="60.72" y="938.64" font-size="6.8" text-anchor="middle" font-weight="bold" fill="#333">**</text>
<text x="59.52" y="980.90" font-size="5.8" text-anchor="end" font-weight="bold" fill="#1a1a1a" transform="rotate(-45 59.52 980.90)">A-498</text>
<line x1="68.68" y1="960.95" x2="68.68" y2="959.06" stroke="#8a8a8a" stroke-width="0.5"/>
<line x1="67.68" y1="959.06" x2="69.68" y2="959.06" stroke="#8a8a8a" stroke-width="0.5"/>
<rect x="66.98" y="960.95" width="3.40" height="11.35" fill="#000"/>
<line x1="73.48" y1="946.14" x2="73.48" y2="943.62" stroke="#a9d08e" stroke-width="0.5"/>
<line x1="72.48" y1="943.62" x2="74.48" y2="943.62" stroke="#a9d08e" stroke-width="0.5"/>
<rect x="71.78" y="946.14" width="3.40" height="26.16" fill="#5d9f3a"/>
<line x1="71.08" y1="972.30" x2="71.08" y2="975.50" stroke="#333" stroke-width="0.6"/>
<text x="73.48" y="944.32" font-size="6.8" text-anchor="middle" font-weight="bold" fill="#333">**</text>
<text x="72.28" y="980.90" font-size="5.8" text-anchor="end" font-weight="bold" fill="#1a1a1a" transform="rotate(-45 72.28 980.90)">A-549</text>
<line x1="81.44" y1="945.51" x2="81.44" y2="942.36" stroke="#8a8a8a" stroke-width="0.5"/>
<line x1="80.44" y1="942.36" x2="82.44" y2="942.36" stroke="#8a8a8a" stroke-width="0.5"/>
<rect x="79.74" y="945.51" width="3.40" height="26.79" fill="#000"/>
<line x1="86.24" y1="913.04" x2="86.24" y2="909.89" stroke="#a9d08e" stroke-width="0.5"/>
<line x1="85.24" y1="909.89" x2="87.24" y2="909.89" stroke="#a9d08e" stroke-width="0.5"/>
<rect x="84.54" y="913.04" width="3.40" height="59.26" fill="#5d9f3a"/>
<line x1="83.84" y1="972.30" x2="83.84" y2="975.50" stroke="#333" stroke-width="0.6"/>
<text x="86.24" y="925.00" font-size="6.8" text-anchor="middle" font-weight="bold" fill="#333">**</text>
<text x="85.04" y="980.90" font-size="5.8" text-anchor="end" font-weight="bold" fill="#1a1a1a" transform="rotate(-45 85.04 980.90)">PANC-1</text>
<line x1="94.20" y1="950.24" x2="94.20" y2="947.71" stroke="#8a8a8a" stroke-width="0.5"/>
<line x1="93.20" y1="947.71" x2="95.20" y2="947.71" stroke="#8a8a8a" stroke-width="0.5"/>
<rect x="92.50" y="950.24" width="3.40" height="22.06" fill="#000"/>
<line x1="99.00" y1="923.76" x2="99.00" y2="921.55" stroke="#a9d08e" stroke-width="0.5"/>
<line x1="98.00" y1="921.55" x2="100.00" y2="921.55" stroke="#a9d08e" stroke-width="0.5"/>
<rect x="97.30" y="923.76" width="3.40" height="48.54" fill="#5d9f3a"/>
<line x1="96.60" y1="972.30" x2="96.60" y2="975.50" stroke="#333" stroke-width="0.6"/>
<text x="99.00" y="922.25" font-size="6.8" text-anchor="middle" font-weight="bold" fill="#333">**</text>
<text x="97.80" y="980.90" font-size="5.8" text-anchor="end" font-weight="bold" fill="#1a1a1a" transform="rotate(-45 97.80 980.90)">HeLa</text>
<line x1="106.96" y1="956.54" x2="106.96" y2="954.33" stroke="#8a8a8a" stroke-width="0.5"/>
<line x1="105.96" y1="954.33" x2="107.96" y2="954.33" stroke="#8a8a8a" stroke-width="0.5"/>
<rect x="105.26" y="956.54" width="3.40" height="15.76" fill="#000"/>
<line x1="111.76" y1="942.67" x2="111.76" y2="939.20" stroke="#a9d08e" stroke-width="0.5"/>
<line x1="110.76" y1="939.20" x2="112.76" y2="939.20" stroke="#a9d08e" stroke-width="0.5"/>
<rect x="110.06" y="942.67" width="3.40" height="29.63" fill="#5d9f3a"/>
<line x1="109.36" y1="972.30" x2="109.36" y2="975.50" stroke="#333" stroke-width="0.6"/>
<text x="111.76" y="939.90" font-size="6.8" text-anchor="middle" font-weight="bold" fill="#333">**</text>
<text x="110.56" y="980.90" font-size="5.8" text-anchor="end" font-weight="bold" fill="#1a1a1a" transform="rotate(-45 110.56 980.90)">MCF-7</text>
<line x1="119.72" y1="959.38" x2="119.72" y2="957.17" stroke="#8a8a8a" stroke-width="0.5"/>
<line x1="118.72" y1="957.17" x2="120.72" y2="957.17" stroke="#8a8a8a" stroke-width="0.5"/>
<rect x="118.02" y="959.38" width="3.40" height="12.92" fill="#000"/>
<line x1="124.52" y1="942.04" x2="124.52" y2="937.94" stroke="#a9d08e" stroke-width="0.5"/>
<line x1="123.52" y1="937.94" x2="125.52" y2="937.94" stroke="#a9d08e" stroke-width="0.5"/>
<rect x="122.82" y="942.04" width="3.40" height="30.26" fill="#5d9f3a"/>
<line x1="122.12" y1="972.30" x2="122.12" y2="975.50" stroke="#333" stroke-width="0.6"/>
<text x="124.52" y="938.64" font-size="6.8" text-anchor="middle" font-weight="bold" fill="#333">**</text>
<text x="123.32" y="980.90" font-size="5.8" text-anchor="end" font-weight="bold" fill="#1a1a1a" transform="rotate(-45 123.32 980.90)">MKN-45</text>
<line x1="132.48" y1="956.54" x2="132.48" y2="954.65" stroke="#8a8a8a" stroke-width="0.5"/>
<line x1="131.48" y1="954.65" x2="133.48" y2="954.65" stroke="#8a8a8a" stroke-width="0.5"/>
<rect x="130.78" y="956.54" width="3.40" height="15.76" fill="#000"/>
<line x1="137.28" y1="934.79" x2="137.28" y2="931.32" stroke="#a9d08e" stroke-width="0.5"/>
<line x1="136.28" y1="931.32" x2="138.28" y2="931.32" stroke="#a9d08e" stroke-width="0.5"/>
<rect x="135.58" y="934.79" width="3.40" height="37.51" fill="#5d9f3a"/>
<line x1="134.88" y1="972.30" x2="134.88" y2="975.50" stroke="#333" stroke-width="0.6"/>
<text x="137.28" y="932.02" font-size="6.8" text-anchor="middle" font-weight="bold" fill="#333">**</text>
<text x="136.08" y="980.90" font-size="5.8" text-anchor="end" font-weight="bold" fill="#1a1a1a" transform="rotate(-45 136.08 980.90)">SK-MEL-1</text>
<text x="13.36" y="962.44" font-size="6.5" font-weight="bold" fill="#000" transform="rotate(-90 13.36 962.44)">MDA (μM/g protein)</text>
<rect x="29.90" y="886.50" width="8.60" height="4.00" fill="#000"/>
<text x="42.00" y="890.84" font-size="6.5" fill="#1a1a1a">con</text>
<rect x="29.90" y="897.00" width="8.60" height="3.60" fill="#5d9f3a"/>
<text x="42.00" y="901.14" font-size="6.5" fill="#1a1a1a">IFN-α</text>
<path d="M189.5 894.5V973.4H303.7M186.1 973.4H189.5M186.1 953.7H189.5M186.1 934.0H189.5M186.1 914.2H189.5M186.1 894.5H189.5" stroke="#333" stroke-width="0.75" fill="none"/>
<text x="185.40" y="975.52" font-size="5.9" text-anchor="end" font-weight="bold" fill="#000">0</text>
<text x="185.40" y="955.80" font-size="5.9" text-anchor="end" font-weight="bold" fill="#000">1</text>
<text x="185.40" y="936.07" font-size="5.9" text-anchor="end" font-weight="bold" fill="#000">2</text>
<text x="185.40" y="916.35" font-size="5.9" text-anchor="end" font-weight="bold" fill="#000">3</text>
<text x="185.40" y="896.62" font-size="5.9" text-anchor="end" font-weight="bold" fill="#000">4</text>
<line x1="192.80" y1="954.27" x2="192.80" y2="949.53" stroke="#8a8a8a" stroke-width="0.5"/>
<line x1="191.80" y1="949.53" x2="193.80" y2="949.53" stroke="#8a8a8a" stroke-width="0.5"/>
<rect x="191.10" y="954.27" width="3.40" height="19.13" fill="#000"/>
<line x1="197.60" y1="932.96" x2="197.60" y2="928.43" stroke="#a9d08e" stroke-width="0.5"/>
<line x1="196.60" y1="928.43" x2="198.60" y2="928.43" stroke="#a9d08e" stroke-width="0.5"/>
<rect x="195.90" y="932.96" width="3.40" height="40.44" fill="#5d9f3a"/>
<line x1="195.20" y1="973.40" x2="195.20" y2="976.60" stroke="#333" stroke-width="0.6"/>
<text x="197.60" y="929.13" font-size="6.8" text-anchor="middle" font-weight="bold" fill="#333">**</text>
<text x="196.40" y="982.00" font-size="5.8" text-anchor="end" font-weight="bold" fill="#1a1a1a" transform="rotate(-45 196.40 982.00)">HT-29</text>
<line x1="205.55" y1="948.15" x2="205.55" y2="942.43" stroke="#8a8a8a" stroke-width="0.5"/>
<line x1="204.55" y1="942.43" x2="206.55" y2="942.43" stroke="#8a8a8a" stroke-width="0.5"/>
<rect x="203.85" y="948.15" width="3.40" height="25.25" fill="#000"/>
<line x1="210.35" y1="918.96" x2="210.35" y2="913.24" stroke="#a9d08e" stroke-width="0.5"/>
<line x1="209.35" y1="913.24" x2="211.35" y2="913.24" stroke="#a9d08e" stroke-width="0.5"/>
<rect x="208.65" y="918.96" width="3.40" height="54.44" fill="#5d9f3a"/>
<line x1="207.95" y1="973.40" x2="207.95" y2="976.60" stroke="#333" stroke-width="0.6"/>
<text x="210.35" y="913.94" font-size="6.8" text-anchor="middle" font-weight="bold" fill="#333">**</text>
<text x="209.15" y="982.00" font-size="5.8" text-anchor="end" font-weight="bold" fill="#1a1a1a" transform="rotate(-45 209.15 982.00)">HuH-7</text>
<line x1="218.30" y1="953.08" x2="218.30" y2="949.53" stroke="#8a8a8a" stroke-width="0.5"/>
<line x1="217.30" y1="949.53" x2="219.30" y2="949.53" stroke="#8a8a8a" stroke-width="0.5"/>
<rect x="216.60" y="953.08" width="3.40" height="20.32" fill="#000"/>
<line x1="223.10" y1="933.16" x2="223.10" y2="928.62" stroke="#a9d08e" stroke-width="0.5"/>
<line x1="222.10" y1="928.62" x2="224.10" y2="928.62" stroke="#a9d08e" stroke-width="0.5"/>
<rect x="221.40" y="933.16" width="3.40" height="40.24" fill="#5d9f3a"/>
<line x1="220.70" y1="973.40" x2="220.70" y2="976.60" stroke="#333" stroke-width="0.6"/>
<text x="223.10" y="929.32" font-size="6.8" text-anchor="middle" font-weight="bold" fill="#333">**</text>
<text x="221.90" y="982.00" font-size="5.8" text-anchor="end" font-weight="bold" fill="#1a1a1a" transform="rotate(-45 221.90 982.00)">A-498</text>
<line x1="231.05" y1="957.03" x2="231.05" y2="955.25" stroke="#8a8a8a" stroke-width="0.5"/>
<line x1="230.05" y1="955.25" x2="232.05" y2="955.25" stroke="#8a8a8a" stroke-width="0.5"/>
<rect x="229.35" y="957.03" width="3.40" height="16.37" fill="#000"/>
<line x1="235.85" y1="940.66" x2="235.85" y2="937.30" stroke="#a9d08e" stroke-width="0.5"/>
<line x1="234.85" y1="937.30" x2="236.85" y2="937.30" stroke="#a9d08e" stroke-width="0.5"/>
<rect x="234.15" y="940.66" width="3.40" height="32.74" fill="#5d9f3a"/>
<line x1="233.45" y1="973.40" x2="233.45" y2="976.60" stroke="#333" stroke-width="0.6"/>
<text x="235.85" y="938.00" font-size="6.8" text-anchor="middle" font-weight="bold" fill="#333">**</text>
<text x="234.65" y="982.00" font-size="5.8" text-anchor="end" font-weight="bold" fill="#1a1a1a" transform="rotate(-45 234.65 982.00)">A-549</text>
<line x1="243.80" y1="940.06" x2="243.80" y2="936.51" stroke="#8a8a8a" stroke-width="0.5"/>
<line x1="242.80" y1="936.51" x2="244.80" y2="936.51" stroke="#8a8a8a" stroke-width="0.5"/>
<rect x="242.10" y="940.06" width="3.40" height="33.34" fill="#000"/>
<line x1="248.60" y1="906.14" x2="248.60" y2="899.23" stroke="#a9d08e" stroke-width="0.5"/>
<line x1="247.60" y1="899.23" x2="249.60" y2="899.23" stroke="#a9d08e" stroke-width="0.5"/>
<rect x="246.90" y="906.14" width="3.40" height="67.26" fill="#5d9f3a"/>
<line x1="246.20" y1="973.40" x2="246.20" y2="976.60" stroke="#333" stroke-width="0.6"/>
<text x="248.60" y="899.93" font-size="6.8" text-anchor="middle" font-weight="bold" fill="#333">**</text>
<text x="247.40" y="982.00" font-size="5.8" text-anchor="end" font-weight="bold" fill="#1a1a1a" transform="rotate(-45 247.40 982.00)">PANC-1</text>
<line x1="256.55" y1="946.97" x2="256.55" y2="943.81" stroke="#8a8a8a" stroke-width="0.5"/>
<line x1="255.55" y1="943.81" x2="257.55" y2="943.81" stroke="#8a8a8a" stroke-width="0.5"/>
<rect x="254.85" y="946.97" width="3.40" height="26.43" fill="#000"/>
<line x1="261.35" y1="920.93" x2="261.35" y2="916.20" stroke="#a9d08e" stroke-width="0.5"/>
<line x1="260.35" y1="916.20" x2="262.35" y2="916.20" stroke="#a9d08e" stroke-width="0.5"/>
<rect x="259.65" y="920.93" width="3.40" height="52.47" fill="#5d9f3a"/>
<line x1="258.95" y1="973.40" x2="258.95" y2="976.60" stroke="#333" stroke-width="0.6"/>
<text x="261.35" y="916.90" font-size="6.8" text-anchor="middle" font-weight="bold" fill="#333">**</text>
<text x="260.15" y="982.00" font-size="5.8" text-anchor="end" font-weight="bold" fill="#1a1a1a" transform="rotate(-45 260.15 982.00)">HeLa</text>
<line x1="269.30" y1="958.21" x2="269.30" y2="955.25" stroke="#8a8a8a" stroke-width="0.5"/>
<line x1="268.30" y1="955.25" x2="270.30" y2="955.25" stroke="#8a8a8a" stroke-width="0.5"/>
<rect x="267.60" y="958.21" width="3.40" height="15.19" fill="#000"/>
<line x1="274.10" y1="942.43" x2="274.10" y2="938.29" stroke="#a9d08e" stroke-width="0.5"/>
<line x1="273.10" y1="938.29" x2="275.10" y2="938.29" stroke="#a9d08e" stroke-width="0.5"/>
<rect x="272.40" y="942.43" width="3.40" height="30.97" fill="#5d9f3a"/>
<line x1="271.70" y1="973.40" x2="271.70" y2="976.60" stroke="#333" stroke-width="0.6"/>
<text x="274.10" y="938.99" font-size="6.8" text-anchor="middle" font-weight="bold" fill="#333">**</text>
<text x="272.90" y="982.00" font-size="5.8" text-anchor="end" font-weight="bold" fill="#1a1a1a" transform="rotate(-45 272.90 982.00)">MCF-7</text>
<line x1="282.05" y1="949.14" x2="282.05" y2="946.18" stroke="#8a8a8a" stroke-width="0.5"/>
<line x1="281.05" y1="946.18" x2="283.05" y2="946.18" stroke="#8a8a8a" stroke-width="0.5"/>
<rect x="280.35" y="949.14" width="3.40" height="24.26" fill="#000"/>
<line x1="286.85" y1="925.07" x2="286.85" y2="920.14" stroke="#a9d08e" stroke-width="0.5"/>
<line x1="285.85" y1="920.14" x2="287.85" y2="920.14" stroke="#a9d08e" stroke-width="0.5"/>
<rect x="285.15" y="925.07" width="3.40" height="48.33" fill="#5d9f3a"/>
<line x1="284.45" y1="973.40" x2="284.45" y2="976.60" stroke="#333" stroke-width="0.6"/>
<text x="286.85" y="920.84" font-size="6.8" text-anchor="middle" font-weight="bold" fill="#333">**</text>
<text x="285.65" y="982.00" font-size="5.8" text-anchor="end" font-weight="bold" fill="#1a1a1a" transform="rotate(-45 285.65 982.00)">MKN-45</text>
<line x1="294.80" y1="954.27" x2="294.80" y2="950.12" stroke="#8a8a8a" stroke-width="0.5"/>
<line x1="293.80" y1="950.12" x2="295.80" y2="950.12" stroke="#8a8a8a" stroke-width="0.5"/>
<rect x="293.10" y="954.27" width="3.40" height="19.13" fill="#000"/>
<line x1="299.60" y1="934.94" x2="299.60" y2="931.78" stroke="#a9d08e" stroke-width="0.5"/>
<line x1="298.60" y1="931.78" x2="300.60" y2="931.78" stroke="#a9d08e" stroke-width="0.5"/>
<rect x="297.90" y="934.94" width="3.40" height="38.46" fill="#5d9f3a"/>
<line x1="297.20" y1="973.40" x2="297.20" y2="976.60" stroke="#333" stroke-width="0.6"/>
<text x="299.60" y="932.48" font-size="6.8" text-anchor="middle" font-weight="bold" fill="#333">**</text>
<text x="298.40" y="982.00" font-size="5.8" text-anchor="end" font-weight="bold" fill="#1a1a1a" transform="rotate(-45 298.40 982.00)">SK-MEL-1</text>
<text x="179.16" y="960.97" font-size="6.5" font-weight="bold" fill="#000" transform="rotate(-90 179.16 960.97)">LPO (M/g protein)</text>
<rect x="192.70" y="886.50" width="8.60" height="4.00" fill="#000"/>
<text x="204.80" y="890.84" font-size="6.5" fill="#1a1a1a">con</text>
<rect x="192.70" y="897.00" width="8.60" height="3.60" fill="#5d9f3a"/>
<text x="204.80" y="901.14" font-size="6.5" fill="#1a1a1a">IFN-α</text>
<text x="325.60" y="887.00" font-size="17.8" font-weight="bold" fill="#000">J</text>
<path d="M356.5 889.9V968.6H471.0M353.1 968.6H356.5M353.1 942.4H356.5M353.1 916.1H356.5M353.1 889.9H356.5" stroke="#333" stroke-width="0.75" fill="none"/>
<text x="352.40" y="970.72" font-size="5.9" text-anchor="end" font-weight="bold" fill="#000">0.0</text>
<text x="352.40" y="944.49" font-size="5.9" text-anchor="end" font-weight="bold" fill="#000">0.5</text>
<text x="352.40" y="918.26" font-size="5.9" text-anchor="end" font-weight="bold" fill="#000">1.0</text>
<text x="352.40" y="892.02" font-size="5.9" text-anchor="end" font-weight="bold" fill="#000">1.5</text>
<line x1="359.90" y1="916.13" x2="359.90" y2="911.94" stroke="#8a8a8a" stroke-width="0.5"/>
<line x1="358.90" y1="911.94" x2="360.90" y2="911.94" stroke="#8a8a8a" stroke-width="0.5"/>
<rect x="358.20" y="916.13" width="3.40" height="52.47" fill="#000"/>
<line x1="364.70" y1="942.37" x2="364.70" y2="938.69" stroke="#a9d08e" stroke-width="0.5"/>
<line x1="363.70" y1="938.69" x2="365.70" y2="938.69" stroke="#a9d08e" stroke-width="0.5"/>
<rect x="363.00" y="942.37" width="3.40" height="26.23" fill="#5d9f3a"/>
<line x1="362.30" y1="968.60" x2="362.30" y2="971.80" stroke="#333" stroke-width="0.6"/>
<text x="364.70" y="939.39" font-size="6.8" text-anchor="middle" font-weight="bold" fill="#333">**</text>
<text x="363.50" y="977.20" font-size="5.8" text-anchor="end" font-weight="bold" fill="#1a1a1a" transform="rotate(-45 363.50 977.20)">HT-29</text>
<line x1="372.63" y1="916.13" x2="372.63" y2="911.41" stroke="#8a8a8a" stroke-width="0.5"/>
<line x1="371.63" y1="911.41" x2="373.63" y2="911.41" stroke="#8a8a8a" stroke-width="0.5"/>
<rect x="370.93" y="916.13" width="3.40" height="52.47" fill="#000"/>
<line x1="377.43" y1="940.27" x2="377.43" y2="937.12" stroke="#a9d08e" stroke-width="0.5"/>
<line x1="376.43" y1="937.12" x2="378.43" y2="937.12" stroke="#a9d08e" stroke-width="0.5"/>
<rect x="375.73" y="940.27" width="3.40" height="28.33" fill="#5d9f3a"/>
<line x1="375.03" y1="968.60" x2="375.03" y2="971.80" stroke="#333" stroke-width="0.6"/>
<text x="377.43" y="937.82" font-size="6.8" text-anchor="middle" font-weight="bold" fill="#333">**</text>
<text x="376.23" y="977.20" font-size="5.8" text-anchor="end" font-weight="bold" fill="#1a1a1a" transform="rotate(-45 376.23 977.20)">HuH-7</text>
<line x1="385.36" y1="916.13" x2="385.36" y2="909.84" stroke="#8a8a8a" stroke-width="0.5"/>
<line x1="384.36" y1="909.84" x2="386.36" y2="909.84" stroke="#8a8a8a" stroke-width="0.5"/>
<rect x="383.66" y="916.13" width="3.40" height="52.47" fill="#000"/>
<line x1="390.16" y1="948.14" x2="390.16" y2="944.99" stroke="#a9d08e" stroke-width="0.5"/>
<line x1="389.16" y1="944.99" x2="391.16" y2="944.99" stroke="#a9d08e" stroke-width="0.5"/>
<rect x="388.46" y="948.14" width="3.40" height="20.46" fill="#5d9f3a"/>
<line x1="387.76" y1="968.60" x2="387.76" y2="971.80" stroke="#333" stroke-width="0.6"/>
<text x="390.16" y="945.69" font-size="6.8" text-anchor="middle" font-weight="bold" fill="#333">**</text>
<text x="388.96" y="977.20" font-size="5.8" text-anchor="end" font-weight="bold" fill="#1a1a1a" transform="rotate(-45 388.96 977.20)">A-498</text>
<line x1="398.09" y1="916.13" x2="398.09" y2="911.41" stroke="#8a8a8a" stroke-width="0.5"/>
<line x1="397.09" y1="911.41" x2="399.09" y2="911.41" stroke="#8a8a8a" stroke-width="0.5"/>
<rect x="396.39" y="916.13" width="3.40" height="52.47" fill="#000"/>
<line x1="402.89" y1="944.99" x2="402.89" y2="942.37" stroke="#a9d08e" stroke-width="0.5"/>
<line x1="401.89" y1="942.37" x2="403.89" y2="942.37" stroke="#a9d08e" stroke-width="0.5"/>
<rect x="401.19" y="944.99" width="3.40" height="23.61" fill="#5d9f3a"/>
<line x1="400.49" y1="968.60" x2="400.49" y2="971.80" stroke="#333" stroke-width="0.6"/>
<text x="402.89" y="943.07" font-size="6.8" text-anchor="middle" font-weight="bold" fill="#333">**</text>
<text x="401.69" y="977.20" font-size="5.8" text-anchor="end" font-weight="bold" fill="#1a1a1a" transform="rotate(-45 401.69 977.20)">A-549</text>
<line x1="410.82" y1="916.13" x2="410.82" y2="910.89" stroke="#8a8a8a" stroke-width="0.5"/>
<line x1="409.82" y1="910.89" x2="411.82" y2="910.89" stroke="#8a8a8a" stroke-width="0.5"/>
<rect x="409.12" y="916.13" width="3.40" height="52.47" fill="#000"/>
<line x1="415.62" y1="951.29" x2="415.62" y2="948.66" stroke="#a9d08e" stroke-width="0.5"/>
<line x1="414.62" y1="948.66" x2="416.62" y2="948.66" stroke="#a9d08e" stroke-width="0.5"/>
<rect x="413.92" y="951.29" width="3.40" height="17.31" fill="#5d9f3a"/>
<line x1="413.22" y1="968.60" x2="413.22" y2="971.80" stroke="#333" stroke-width="0.6"/>
<text x="415.62" y="949.36" font-size="6.8" text-anchor="middle" font-weight="bold" fill="#333">**</text>
<text x="414.42" y="977.20" font-size="5.8" text-anchor="end" font-weight="bold" fill="#1a1a1a" transform="rotate(-45 414.42 977.20)">PANC-1</text>
<line x1="423.55" y1="916.13" x2="423.55" y2="909.84" stroke="#8a8a8a" stroke-width="0.5"/>
<line x1="422.55" y1="909.84" x2="424.55" y2="909.84" stroke="#8a8a8a" stroke-width="0.5"/>
<rect x="421.85" y="916.13" width="3.40" height="52.47" fill="#000"/>
<line x1="428.35" y1="947.61" x2="428.35" y2="944.99" stroke="#a9d08e" stroke-width="0.5"/>
<line x1="427.35" y1="944.99" x2="429.35" y2="944.99" stroke="#a9d08e" stroke-width="0.5"/>
<rect x="426.65" y="947.61" width="3.40" height="20.99" fill="#5d9f3a"/>
<line x1="425.95" y1="968.60" x2="425.95" y2="971.80" stroke="#333" stroke-width="0.6"/>
<text x="428.35" y="945.69" font-size="6.8" text-anchor="middle" font-weight="bold" fill="#333">**</text>
<text x="427.15" y="977.20" font-size="5.8" text-anchor="end" font-weight="bold" fill="#1a1a1a" transform="rotate(-45 427.15 977.20)">HeLa</text>
<line x1="436.28" y1="916.13" x2="436.28" y2="911.94" stroke="#8a8a8a" stroke-width="0.5"/>
<line x1="435.28" y1="911.94" x2="437.28" y2="911.94" stroke="#8a8a8a" stroke-width="0.5"/>
<rect x="434.58" y="916.13" width="3.40" height="52.47" fill="#000"/>
<line x1="441.08" y1="945.51" x2="441.08" y2="941.84" stroke="#a9d08e" stroke-width="0.5"/>
<line x1="440.08" y1="941.84" x2="442.08" y2="941.84" stroke="#a9d08e" stroke-width="0.5"/>
<rect x="439.38" y="945.51" width="3.40" height="23.09" fill="#5d9f3a"/>
<line x1="438.68" y1="968.60" x2="438.68" y2="971.80" stroke="#333" stroke-width="0.6"/>
<text x="441.08" y="942.54" font-size="6.8" text-anchor="middle" font-weight="bold" fill="#333">**</text>
<text x="439.88" y="977.20" font-size="5.8" text-anchor="end" font-weight="bold" fill="#1a1a1a" transform="rotate(-45 439.88 977.20)">MCF-7</text>
<line x1="449.01" y1="916.13" x2="449.01" y2="911.94" stroke="#8a8a8a" stroke-width="0.5"/>
<line x1="448.01" y1="911.94" x2="450.01" y2="911.94" stroke="#8a8a8a" stroke-width="0.5"/>
<rect x="447.31" y="916.13" width="3.40" height="52.47" fill="#000"/>
<line x1="453.81" y1="943.42" x2="453.81" y2="940.27" stroke="#a9d08e" stroke-width="0.5"/>
<line x1="452.81" y1="940.27" x2="454.81" y2="940.27" stroke="#a9d08e" stroke-width="0.5"/>
<rect x="452.11" y="943.42" width="3.40" height="25.18" fill="#5d9f3a"/>
<line x1="451.41" y1="968.60" x2="451.41" y2="971.80" stroke="#333" stroke-width="0.6"/>
<text x="453.81" y="940.97" font-size="6.8" text-anchor="middle" font-weight="bold" fill="#333">**</text>
<text x="452.61" y="977.20" font-size="5.8" text-anchor="end" font-weight="bold" fill="#1a1a1a" transform="rotate(-45 452.61 977.20)">MKN-45</text>
<line x1="461.74" y1="916.13" x2="461.74" y2="911.94" stroke="#8a8a8a" stroke-width="0.5"/>
<line x1="460.74" y1="911.94" x2="462.74" y2="911.94" stroke="#8a8a8a" stroke-width="0.5"/>
<rect x="460.04" y="916.13" width="3.40" height="52.47" fill="#000"/>
<line x1="466.54" y1="940.79" x2="466.54" y2="937.64" stroke="#a9d08e" stroke-width="0.5"/>
<line x1="465.54" y1="937.64" x2="467.54" y2="937.64" stroke="#a9d08e" stroke-width="0.5"/>
<rect x="464.84" y="940.79" width="3.40" height="27.81" fill="#5d9f3a"/>
<line x1="464.14" y1="968.60" x2="464.14" y2="971.80" stroke="#333" stroke-width="0.6"/>
<text x="466.54" y="938.34" font-size="6.8" text-anchor="middle" font-weight="bold" fill="#333">**</text>
<text x="465.34" y="977.20" font-size="5.8" text-anchor="end" font-weight="bold" fill="#1a1a1a" transform="rotate(-45 465.34 977.20)">SK-MEL-1</text>
<text x="333.66" y="964.51" font-size="6.5" font-weight="bold" fill="#000" transform="rotate(-90 333.66 964.51)">Relative expression of</text>
<text x="341.74" y="938.84" font-size="6.5" font-weight="bold" fill="#000" transform="rotate(-90 341.74 938.84)">COX2</text>
<rect x="358.90" y="886.90" width="8.60" height="3.90" fill="#000"/>
<text x="371.30" y="891.19" font-size="6.5" fill="#1a1a1a">IFN-γ+IgG</text>
<rect x="358.90" y="896.90" width="8.60" height="4.00" fill="#5d9f3a"/>
<text x="371.30" y="901.24" font-size="6.5" fill="#1a1a1a">IFN-γ+anti-IFN-γ</text>
<path d="M515.5 889.9V968.6H630.0M512.1 968.6H515.5M512.1 942.4H515.5M512.1 916.1H515.5M512.1 889.9H515.5" stroke="#333" stroke-width="0.75" fill="none"/>
<text x="511.40" y="970.72" font-size="5.9" text-anchor="end" font-weight="bold" fill="#000">0.0</text>
<text x="511.40" y="944.49" font-size="5.9" text-anchor="end" font-weight="bold" fill="#000">0.5</text>
<text x="511.40" y="918.26" font-size="5.9" text-anchor="end" font-weight="bold" fill="#000">1.0</text>
<text x="511.40" y="892.02" font-size="5.9" text-anchor="end" font-weight="bold" fill="#000">1.5</text>
<line x1="519.40" y1="916.13" x2="519.40" y2="911.41" stroke="#8a8a8a" stroke-width="0.5"/>
<line x1="518.40" y1="911.41" x2="520.40" y2="911.41" stroke="#8a8a8a" stroke-width="0.5"/>
<rect x="517.70" y="916.13" width="3.40" height="52.47" fill="#000"/>
<line x1="524.20" y1="940.27" x2="524.20" y2="937.12" stroke="#a9d08e" stroke-width="0.5"/>
<line x1="523.20" y1="937.12" x2="525.20" y2="937.12" stroke="#a9d08e" stroke-width="0.5"/>
<rect x="522.50" y="940.27" width="3.40" height="28.33" fill="#5d9f3a"/>
<line x1="521.80" y1="968.60" x2="521.80" y2="971.80" stroke="#333" stroke-width="0.6"/>
<text x="524.20" y="937.82" font-size="6.8" text-anchor="middle" font-weight="bold" fill="#333">**</text>
<text x="523.00" y="977.20" font-size="5.8" text-anchor="end" font-weight="bold" fill="#1a1a1a" transform="rotate(-45 523.00 977.20)">HT-29</text>
<line x1="532.10" y1="916.13" x2="532.10" y2="911.41" stroke="#8a8a8a" stroke-width="0.5"/>
<line x1="531.10" y1="911.41" x2="533.10" y2="911.41" stroke="#8a8a8a" stroke-width="0.5"/>
<rect x="530.40" y="916.13" width="3.40" height="52.47" fill="#000"/>
<line x1="536.90" y1="937.12" x2="536.90" y2="933.45" stroke="#a9d08e" stroke-width="0.5"/>
<line x1="535.90" y1="933.45" x2="537.90" y2="933.45" stroke="#a9d08e" stroke-width="0.5"/>
<rect x="535.20" y="937.12" width="3.40" height="31.48" fill="#5d9f3a"/>
<line x1="534.50" y1="968.60" x2="534.50" y2="971.80" stroke="#333" stroke-width="0.6"/>
<text x="536.90" y="934.15" font-size="6.8" text-anchor="middle" font-weight="bold" fill="#333">**</text>
<text x="535.70" y="977.20" font-size="5.8" text-anchor="end" font-weight="bold" fill="#1a1a1a" transform="rotate(-45 535.70 977.20)">HuH-7</text>
<line x1="544.80" y1="916.13" x2="544.80" y2="909.84" stroke="#8a8a8a" stroke-width="0.5"/>
<line x1="543.80" y1="909.84" x2="545.80" y2="909.84" stroke="#8a8a8a" stroke-width="0.5"/>
<rect x="543.10" y="916.13" width="3.40" height="52.47" fill="#000"/>
<line x1="549.60" y1="942.89" x2="549.60" y2="939.74" stroke="#a9d08e" stroke-width="0.5"/>
<line x1="548.60" y1="939.74" x2="550.60" y2="939.74" stroke="#a9d08e" stroke-width="0.5"/>
<rect x="547.90" y="942.89" width="3.40" height="25.71" fill="#5d9f3a"/>
<line x1="547.20" y1="968.60" x2="547.20" y2="971.80" stroke="#333" stroke-width="0.6"/>
<text x="549.60" y="940.44" font-size="6.8" text-anchor="middle" font-weight="bold" fill="#333">**</text>
<text x="548.40" y="977.20" font-size="5.8" text-anchor="end" font-weight="bold" fill="#1a1a1a" transform="rotate(-45 548.40 977.20)">A-498</text>
<line x1="557.50" y1="916.13" x2="557.50" y2="911.41" stroke="#8a8a8a" stroke-width="0.5"/>
<line x1="556.50" y1="911.41" x2="558.50" y2="911.41" stroke="#8a8a8a" stroke-width="0.5"/>
<rect x="555.80" y="916.13" width="3.40" height="52.47" fill="#000"/>
<line x1="562.30" y1="944.99" x2="562.30" y2="942.37" stroke="#a9d08e" stroke-width="0.5"/>
<line x1="561.30" y1="942.37" x2="563.30" y2="942.37" stroke="#a9d08e" stroke-width="0.5"/>
<rect x="560.60" y="944.99" width="3.40" height="23.61" fill="#5d9f3a"/>
<line x1="559.90" y1="968.60" x2="559.90" y2="971.80" stroke="#333" stroke-width="0.6"/>
<text x="562.30" y="943.07" font-size="6.8" text-anchor="middle" font-weight="bold" fill="#333">**</text>
<text x="561.10" y="977.20" font-size="5.8" text-anchor="end" font-weight="bold" fill="#1a1a1a" transform="rotate(-45 561.10 977.20)">A-549</text>
<line x1="570.20" y1="916.13" x2="570.20" y2="912.99" stroke="#8a8a8a" stroke-width="0.5"/>
<line x1="569.20" y1="912.99" x2="571.20" y2="912.99" stroke="#8a8a8a" stroke-width="0.5"/>
<rect x="568.50" y="916.13" width="3.40" height="52.47" fill="#000"/>
<line x1="575.00" y1="950.76" x2="575.00" y2="948.14" stroke="#a9d08e" stroke-width="0.5"/>
<line x1="574.00" y1="948.14" x2="576.00" y2="948.14" stroke="#a9d08e" stroke-width="0.5"/>
<rect x="573.30" y="950.76" width="3.40" height="17.84" fill="#5d9f3a"/>
<line x1="572.60" y1="968.60" x2="572.60" y2="971.80" stroke="#333" stroke-width="0.6"/>
<text x="575.00" y="948.84" font-size="6.8" text-anchor="middle" font-weight="bold" fill="#333">**</text>
<text x="573.80" y="977.20" font-size="5.8" text-anchor="end" font-weight="bold" fill="#1a1a1a" transform="rotate(-45 573.80 977.20)">PANC-1</text>
<line x1="582.90" y1="916.13" x2="582.90" y2="911.94" stroke="#8a8a8a" stroke-width="0.5"/>
<line x1="581.90" y1="911.94" x2="583.90" y2="911.94" stroke="#8a8a8a" stroke-width="0.5"/>
<rect x="581.20" y="916.13" width="3.40" height="52.47" fill="#000"/>
<line x1="587.70" y1="952.86" x2="587.70" y2="950.76" stroke="#a9d08e" stroke-width="0.5"/>
<line x1="586.70" y1="950.76" x2="588.70" y2="950.76" stroke="#a9d08e" stroke-width="0.5"/>
<rect x="586.00" y="952.86" width="3.40" height="15.74" fill="#5d9f3a"/>
<line x1="585.30" y1="968.60" x2="585.30" y2="971.80" stroke="#333" stroke-width="0.6"/>
<text x="587.70" y="951.46" font-size="6.8" text-anchor="middle" font-weight="bold" fill="#333">**</text>
<text x="586.50" y="977.20" font-size="5.8" text-anchor="end" font-weight="bold" fill="#1a1a1a" transform="rotate(-45 586.50 977.20)">HeLa</text>
<line x1="595.60" y1="916.13" x2="595.60" y2="911.94" stroke="#8a8a8a" stroke-width="0.5"/>
<line x1="594.60" y1="911.94" x2="596.60" y2="911.94" stroke="#8a8a8a" stroke-width="0.5"/>
<rect x="593.90" y="916.13" width="3.40" height="52.47" fill="#000"/>
<line x1="600.40" y1="941.84" x2="600.40" y2="938.17" stroke="#a9d08e" stroke-width="0.5"/>
<line x1="599.40" y1="938.17" x2="601.40" y2="938.17" stroke="#a9d08e" stroke-width="0.5"/>
<rect x="598.70" y="941.84" width="3.40" height="26.76" fill="#5d9f3a"/>
<line x1="598.00" y1="968.60" x2="598.00" y2="971.80" stroke="#333" stroke-width="0.6"/>
<text x="600.40" y="938.87" font-size="6.8" text-anchor="middle" font-weight="bold" fill="#333">**</text>
<text x="599.20" y="977.20" font-size="5.8" text-anchor="end" font-weight="bold" fill="#1a1a1a" transform="rotate(-45 599.20 977.20)">MCF-7</text>
<line x1="608.30" y1="916.13" x2="608.30" y2="911.41" stroke="#8a8a8a" stroke-width="0.5"/>
<line x1="607.30" y1="911.41" x2="609.30" y2="911.41" stroke="#8a8a8a" stroke-width="0.5"/>
<rect x="606.60" y="916.13" width="3.40" height="52.47" fill="#000"/>
<line x1="613.10" y1="947.61" x2="613.10" y2="944.47" stroke="#a9d08e" stroke-width="0.5"/>
<line x1="612.10" y1="944.47" x2="614.10" y2="944.47" stroke="#a9d08e" stroke-width="0.5"/>
<rect x="611.40" y="947.61" width="3.40" height="20.99" fill="#5d9f3a"/>
<line x1="610.70" y1="968.60" x2="610.70" y2="971.80" stroke="#333" stroke-width="0.6"/>
<text x="613.10" y="945.17" font-size="6.8" text-anchor="middle" font-weight="bold" fill="#333">**</text>
<text x="611.90" y="977.20" font-size="5.8" text-anchor="end" font-weight="bold" fill="#1a1a1a" transform="rotate(-45 611.90 977.20)">MKN-45</text>
<line x1="621.00" y1="916.13" x2="621.00" y2="911.94" stroke="#8a8a8a" stroke-width="0.5"/>
<line x1="620.00" y1="911.94" x2="622.00" y2="911.94" stroke="#8a8a8a" stroke-width="0.5"/>
<rect x="619.30" y="916.13" width="3.40" height="52.47" fill="#000"/>
<line x1="625.80" y1="943.94" x2="625.80" y2="940.79" stroke="#a9d08e" stroke-width="0.5"/>
<line x1="624.80" y1="940.79" x2="626.80" y2="940.79" stroke="#a9d08e" stroke-width="0.5"/>
<rect x="624.10" y="943.94" width="3.40" height="24.66" fill="#5d9f3a"/>
<line x1="623.40" y1="968.60" x2="623.40" y2="971.80" stroke="#333" stroke-width="0.6"/>
<text x="625.80" y="941.49" font-size="6.8" text-anchor="middle" font-weight="bold" fill="#333">**</text>
<text x="624.60" y="977.20" font-size="5.8" text-anchor="end" font-weight="bold" fill="#1a1a1a" transform="rotate(-45 624.60 977.20)">SK-MEL-1</text>
<text x="493.16" y="964.51" font-size="6.5" font-weight="bold" fill="#000" transform="rotate(-90 493.16 964.51)">Relative expression of</text>
<text x="501.24" y="940.66" font-size="6.5" font-weight="bold" fill="#000" transform="rotate(-90 501.24 940.66)">ACSL4</text>
<rect x="518.40" y="886.90" width="8.60" height="3.90" fill="#000"/>
<text x="530.50" y="891.19" font-size="6.5" fill="#1a1a1a">IFN-γ+IgG</text>
<rect x="518.40" y="896.90" width="8.60" height="4.00" fill="#5d9f3a"/>
<text x="530.50" y="901.24" font-size="6.5" fill="#1a1a1a">IFN-γ+anti-IFN-γ</text>
<path d="M29.5 1021.5V1100.4H144.8M26.1 1100.4H29.5M26.1 1074.1H29.5M26.1 1047.8H29.5M26.1 1021.5H29.5" stroke="#333" stroke-width="0.75" fill="none"/>
<text x="25.40" y="1102.52" font-size="5.9" text-anchor="end" font-weight="bold" fill="#000">0.0</text>
<text x="25.40" y="1076.22" font-size="5.9" text-anchor="end" font-weight="bold" fill="#000">0.5</text>
<text x="25.40" y="1049.92" font-size="5.9" text-anchor="end" font-weight="bold" fill="#000">1.0</text>
<text x="25.40" y="1023.62" font-size="5.9" text-anchor="end" font-weight="bold" fill="#000">1.5</text>
<line x1="33.70" y1="1047.80" x2="33.70" y2="1042.01" stroke="#8a8a8a" stroke-width="0.5"/>
<line x1="32.70" y1="1042.01" x2="34.70" y2="1042.01" stroke="#8a8a8a" stroke-width="0.5"/>
<rect x="32.00" y="1047.80" width="3.40" height="52.60" fill="#000"/>
<line x1="38.50" y1="1081.73" x2="38.50" y2="1079.36" stroke="#a9d08e" stroke-width="0.5"/>
<line x1="37.50" y1="1079.36" x2="39.50" y2="1079.36" stroke="#a9d08e" stroke-width="0.5"/>
<rect x="36.80" y="1081.73" width="3.40" height="18.67" fill="#5d9f3a"/>
<line x1="36.10" y1="1100.40" x2="36.10" y2="1103.60" stroke="#333" stroke-width="0.6"/>
<text x="38.50" y="1080.06" font-size="6.8" text-anchor="middle" font-weight="bold" fill="#333">**</text>
<text x="37.30" y="1109.00" font-size="5.8" text-anchor="end" font-weight="bold" fill="#1a1a1a" transform="rotate(-45 37.30 1109.00)">HT-29</text>
<line x1="46.43" y1="1047.80" x2="46.43" y2="1042.54" stroke="#8a8a8a" stroke-width="0.5"/>
<line x1="45.43" y1="1042.54" x2="47.43" y2="1042.54" stroke="#8a8a8a" stroke-width="0.5"/>
<rect x="44.73" y="1047.80" width="3.40" height="52.60" fill="#000"/>
<line x1="51.23" y1="1076.73" x2="51.23" y2="1073.05" stroke="#a9d08e" stroke-width="0.5"/>
<line x1="50.23" y1="1073.05" x2="52.23" y2="1073.05" stroke="#a9d08e" stroke-width="0.5"/>
<rect x="49.53" y="1076.73" width="3.40" height="23.67" fill="#5d9f3a"/>
<line x1="48.83" y1="1100.40" x2="48.83" y2="1103.60" stroke="#333" stroke-width="0.6"/>
<text x="51.23" y="1073.75" font-size="6.8" text-anchor="middle" font-weight="bold" fill="#333">**</text>
<text x="50.03" y="1109.00" font-size="5.8" text-anchor="end" font-weight="bold" fill="#1a1a1a" transform="rotate(-45 50.03 1109.00)">HuH-7</text>
<line x1="59.16" y1="1047.80" x2="59.16" y2="1042.54" stroke="#8a8a8a" stroke-width="0.5"/>
<line x1="58.16" y1="1042.54" x2="60.16" y2="1042.54" stroke="#8a8a8a" stroke-width="0.5"/>
<rect x="57.46" y="1047.80" width="3.40" height="52.60" fill="#000"/>
<line x1="63.96" y1="1074.10" x2="63.96" y2="1071.47" stroke="#a9d08e" stroke-width="0.5"/>
<line x1="62.96" y1="1071.47" x2="64.96" y2="1071.47" stroke="#a9d08e" stroke-width="0.5"/>
<rect x="62.26" y="1074.10" width="3.40" height="26.30" fill="#5d9f3a"/>
<line x1="61.56" y1="1100.40" x2="61.56" y2="1103.60" stroke="#333" stroke-width="0.6"/>
<text x="63.96" y="1072.17" font-size="6.8" text-anchor="middle" font-weight="bold" fill="#333">**</text>
<text x="62.76" y="1109.00" font-size="5.8" text-anchor="end" font-weight="bold" fill="#1a1a1a" transform="rotate(-45 62.76 1109.00)">A-498</text>
<line x1="71.89" y1="1047.80" x2="71.89" y2="1043.59" stroke="#8a8a8a" stroke-width="0.5"/>
<line x1="70.89" y1="1043.59" x2="72.89" y2="1043.59" stroke="#8a8a8a" stroke-width="0.5"/>
<rect x="70.19" y="1047.80" width="3.40" height="52.60" fill="#000"/>
<line x1="76.69" y1="1080.41" x2="76.69" y2="1077.78" stroke="#a9d08e" stroke-width="0.5"/>
<line x1="75.69" y1="1077.78" x2="77.69" y2="1077.78" stroke="#a9d08e" stroke-width="0.5"/>
<rect x="74.99" y="1080.41" width="3.40" height="19.99" fill="#5d9f3a"/>
<line x1="74.29" y1="1100.40" x2="74.29" y2="1103.60" stroke="#333" stroke-width="0.6"/>
<text x="76.69" y="1078.48" font-size="6.8" text-anchor="middle" font-weight="bold" fill="#333">**</text>
<text x="75.49" y="1109.00" font-size="5.8" text-anchor="end" font-weight="bold" fill="#1a1a1a" transform="rotate(-45 75.49 1109.00)">A-549</text>
<line x1="84.62" y1="1047.80" x2="84.62" y2="1042.54" stroke="#8a8a8a" stroke-width="0.5"/>
<line x1="83.62" y1="1042.54" x2="85.62" y2="1042.54" stroke="#8a8a8a" stroke-width="0.5"/>
<rect x="82.92" y="1047.80" width="3.40" height="52.60" fill="#000"/>
<line x1="89.42" y1="1085.15" x2="89.42" y2="1083.57" stroke="#a9d08e" stroke-width="0.5"/>
<line x1="88.42" y1="1083.57" x2="90.42" y2="1083.57" stroke="#a9d08e" stroke-width="0.5"/>
<rect x="87.72" y="1085.15" width="3.40" height="15.25" fill="#5d9f3a"/>
<line x1="87.02" y1="1100.40" x2="87.02" y2="1103.60" stroke="#333" stroke-width="0.6"/>
<text x="89.42" y="1084.27" font-size="6.8" text-anchor="middle" font-weight="bold" fill="#333">**</text>
<text x="88.22" y="1109.00" font-size="5.8" text-anchor="end" font-weight="bold" fill="#1a1a1a" transform="rotate(-45 88.22 1109.00)">PANC-1</text>
<line x1="97.35" y1="1047.80" x2="97.35" y2="1042.54" stroke="#8a8a8a" stroke-width="0.5"/>
<line x1="96.35" y1="1042.54" x2="98.35" y2="1042.54" stroke="#8a8a8a" stroke-width="0.5"/>
<rect x="95.65" y="1047.80" width="3.40" height="52.60" fill="#000"/>
<line x1="102.15" y1="1084.62" x2="102.15" y2="1081.99" stroke="#a9d08e" stroke-width="0.5"/>
<line x1="101.15" y1="1081.99" x2="103.15" y2="1081.99" stroke="#a9d08e" stroke-width="0.5"/>
<rect x="100.45" y="1084.62" width="3.40" height="15.78" fill="#5d9f3a"/>
<line x1="99.75" y1="1100.40" x2="99.75" y2="1103.60" stroke="#333" stroke-width="0.6"/>
<text x="102.15" y="1082.69" font-size="6.8" text-anchor="middle" font-weight="bold" fill="#333">**</text>
<text x="100.95" y="1109.00" font-size="5.8" text-anchor="end" font-weight="bold" fill="#1a1a1a" transform="rotate(-45 100.95 1109.00)">HeLa</text>
<line x1="110.08" y1="1047.80" x2="110.08" y2="1043.59" stroke="#8a8a8a" stroke-width="0.5"/>
<line x1="109.08" y1="1043.59" x2="111.08" y2="1043.59" stroke="#8a8a8a" stroke-width="0.5"/>
<rect x="108.38" y="1047.80" width="3.40" height="52.60" fill="#000"/>
<line x1="114.88" y1="1083.57" x2="114.88" y2="1081.46" stroke="#a9d08e" stroke-width="0.5"/>
<line x1="113.88" y1="1081.46" x2="115.88" y2="1081.46" stroke="#a9d08e" stroke-width="0.5"/>
<rect x="113.18" y="1083.57" width="3.40" height="16.83" fill="#5d9f3a"/>
<line x1="112.48" y1="1100.40" x2="112.48" y2="1103.60" stroke="#333" stroke-width="0.6"/>
<text x="114.88" y="1082.16" font-size="6.8" text-anchor="middle" font-weight="bold" fill="#333">**</text>
<text x="113.68" y="1109.00" font-size="5.8" text-anchor="end" font-weight="bold" fill="#1a1a1a" transform="rotate(-45 113.68 1109.00)">MCF-7</text>
<line x1="122.81" y1="1047.80" x2="122.81" y2="1043.07" stroke="#8a8a8a" stroke-width="0.5"/>
<line x1="121.81" y1="1043.07" x2="123.81" y2="1043.07" stroke="#8a8a8a" stroke-width="0.5"/>
<rect x="121.11" y="1047.80" width="3.40" height="52.60" fill="#000"/>
<line x1="127.61" y1="1087.25" x2="127.61" y2="1084.62" stroke="#a9d08e" stroke-width="0.5"/>
<line x1="126.61" y1="1084.62" x2="128.61" y2="1084.62" stroke="#a9d08e" stroke-width="0.5"/>
<rect x="125.91" y="1087.25" width="3.40" height="13.15" fill="#5d9f3a"/>
<line x1="125.21" y1="1100.40" x2="125.21" y2="1103.60" stroke="#333" stroke-width="0.6"/>
<text x="127.61" y="1085.32" font-size="6.8" text-anchor="middle" font-weight="bold" fill="#333">**</text>
<text x="126.41" y="1109.00" font-size="5.8" text-anchor="end" font-weight="bold" fill="#1a1a1a" transform="rotate(-45 126.41 1109.00)">MKN-45</text>
<line x1="135.54" y1="1047.80" x2="135.54" y2="1043.59" stroke="#8a8a8a" stroke-width="0.5"/>
<line x1="134.54" y1="1043.59" x2="136.54" y2="1043.59" stroke="#8a8a8a" stroke-width="0.5"/>
<rect x="133.84" y="1047.80" width="3.40" height="52.60" fill="#000"/>
<line x1="140.34" y1="1075.15" x2="140.34" y2="1072.00" stroke="#a9d08e" stroke-width="0.5"/>
<line x1="139.34" y1="1072.00" x2="141.34" y2="1072.00" stroke="#a9d08e" stroke-width="0.5"/>
<rect x="138.64" y="1075.15" width="3.40" height="25.25" fill="#5d9f3a"/>
<line x1="137.94" y1="1100.40" x2="137.94" y2="1103.60" stroke="#333" stroke-width="0.6"/>
<text x="140.34" y="1072.70" font-size="6.8" text-anchor="middle" font-weight="bold" fill="#333">**</text>
<text x="139.14" y="1109.00" font-size="5.8" text-anchor="end" font-weight="bold" fill="#1a1a1a" transform="rotate(-45 139.14 1109.00)">SK-MEL-1</text>
<text x="6.36" y="1097.52" font-size="6.5" font-weight="bold" fill="#000" transform="rotate(-90 6.36 1097.52)">Relative expression of</text>
<text x="13.84" y="1071.84" font-size="6.5" font-weight="bold" fill="#000" transform="rotate(-90 13.84 1071.84)">NOX1</text>
<rect x="37.40" y="1018.70" width="8.60" height="4.00" fill="#000"/>
<text x="49.50" y="1023.04" font-size="6.5" fill="#1a1a1a">IFN-γ+IgG</text>
<rect x="37.40" y="1028.70" width="8.60" height="4.00" fill="#5d9f3a"/>
<text x="49.50" y="1033.04" font-size="6.5" fill="#1a1a1a">IFN-γ+anti-IFN-γ</text>
<path d="M193.5 1022.9V1101.6H307.6M190.1 1101.6H193.5M190.1 1081.9H193.5M190.1 1062.2H193.5M190.1 1042.6H193.5M190.1 1022.9H193.5" stroke="#333" stroke-width="0.75" fill="none"/>
<text x="189.40" y="1103.72" font-size="5.9" text-anchor="end" font-weight="bold" fill="#000">0</text>
<text x="189.40" y="1084.05" font-size="5.9" text-anchor="end" font-weight="bold" fill="#000">1</text>
<text x="189.40" y="1064.37" font-size="5.9" text-anchor="end" font-weight="bold" fill="#000">2</text>
<text x="189.40" y="1044.70" font-size="5.9" text-anchor="end" font-weight="bold" fill="#000">3</text>
<text x="189.40" y="1025.02" font-size="5.9" text-anchor="end" font-weight="bold" fill="#000">4</text>
<line x1="196.70" y1="1081.92" x2="196.70" y2="1079.37" stroke="#8a8a8a" stroke-width="0.5"/>
<line x1="195.70" y1="1079.37" x2="197.70" y2="1079.37" stroke="#8a8a8a" stroke-width="0.5"/>
<rect x="195.00" y="1081.92" width="3.40" height="19.67" fill="#000"/>
<line x1="201.50" y1="1070.71" x2="201.50" y2="1066.97" stroke="#a9d08e" stroke-width="0.5"/>
<line x1="200.50" y1="1066.97" x2="202.50" y2="1066.97" stroke="#a9d08e" stroke-width="0.5"/>
<rect x="199.80" y="1070.71" width="3.40" height="30.89" fill="#5d9f3a"/>
<line x1="199.10" y1="1101.60" x2="199.10" y2="1104.80" stroke="#333" stroke-width="0.6"/>
<text x="201.50" y="1067.67" font-size="6.8" text-anchor="middle" font-weight="bold" fill="#333">**</text>
<text x="200.30" y="1110.20" font-size="5.8" text-anchor="end" font-weight="bold" fill="#1a1a1a" transform="rotate(-45 200.30 1110.20)">HT-29</text>
<line x1="209.46" y1="1081.92" x2="209.46" y2="1079.37" stroke="#8a8a8a" stroke-width="0.5"/>
<line x1="208.46" y1="1079.37" x2="210.46" y2="1079.37" stroke="#8a8a8a" stroke-width="0.5"/>
<rect x="207.76" y="1081.92" width="3.40" height="19.67" fill="#000"/>
<line x1="214.26" y1="1068.35" x2="214.26" y2="1065.00" stroke="#a9d08e" stroke-width="0.5"/>
<line x1="213.26" y1="1065.00" x2="215.26" y2="1065.00" stroke="#a9d08e" stroke-width="0.5"/>
<rect x="212.56" y="1068.35" width="3.40" height="33.25" fill="#5d9f3a"/>
<line x1="211.86" y1="1101.60" x2="211.86" y2="1104.80" stroke="#333" stroke-width="0.6"/>
<text x="214.26" y="1065.70" font-size="6.8" text-anchor="middle" font-weight="bold" fill="#333">**</text>
<text x="213.06" y="1110.20" font-size="5.8" text-anchor="end" font-weight="bold" fill="#1a1a1a" transform="rotate(-45 213.06 1110.20)">HuH-7</text>
<line x1="222.22" y1="1081.92" x2="222.22" y2="1079.37" stroke="#8a8a8a" stroke-width="0.5"/>
<line x1="221.22" y1="1079.37" x2="223.22" y2="1079.37" stroke="#8a8a8a" stroke-width="0.5"/>
<rect x="220.52" y="1081.92" width="3.40" height="19.67" fill="#000"/>
<line x1="227.02" y1="1057.72" x2="227.02" y2="1053.20" stroke="#a9d08e" stroke-width="0.5"/>
<line x1="226.02" y1="1053.20" x2="228.02" y2="1053.20" stroke="#a9d08e" stroke-width="0.5"/>
<rect x="225.32" y="1057.72" width="3.40" height="43.88" fill="#5d9f3a"/>
<line x1="224.62" y1="1101.60" x2="224.62" y2="1104.80" stroke="#333" stroke-width="0.6"/>
<text x="227.02" y="1053.90" font-size="6.8" text-anchor="middle" font-weight="bold" fill="#333">**</text>
<text x="225.82" y="1110.20" font-size="5.8" text-anchor="end" font-weight="bold" fill="#1a1a1a" transform="rotate(-45 225.82 1110.20)">A-498</text>
<line x1="234.98" y1="1081.92" x2="234.98" y2="1079.37" stroke="#8a8a8a" stroke-width="0.5"/>
<line x1="233.98" y1="1079.37" x2="235.98" y2="1079.37" stroke="#8a8a8a" stroke-width="0.5"/>
<rect x="233.28" y="1081.92" width="3.40" height="19.67" fill="#000"/>
<line x1="239.78" y1="1064.61" x2="239.78" y2="1061.27" stroke="#a9d08e" stroke-width="0.5"/>
<line x1="238.78" y1="1061.27" x2="240.78" y2="1061.27" stroke="#a9d08e" stroke-width="0.5"/>
<rect x="238.08" y="1064.61" width="3.40" height="36.99" fill="#5d9f3a"/>
<line x1="237.38" y1="1101.60" x2="237.38" y2="1104.80" stroke="#333" stroke-width="0.6"/>
<text x="239.78" y="1061.97" font-size="6.8" text-anchor="middle" font-weight="bold" fill="#333">**</text>
<text x="238.58" y="1110.20" font-size="5.8" text-anchor="end" font-weight="bold" fill="#1a1a1a" transform="rotate(-45 238.58 1110.20)">A-549</text>
<line x1="247.74" y1="1081.92" x2="247.74" y2="1079.37" stroke="#8a8a8a" stroke-width="0.5"/>
<line x1="246.74" y1="1079.37" x2="248.74" y2="1079.37" stroke="#8a8a8a" stroke-width="0.5"/>
<rect x="246.04" y="1081.92" width="3.40" height="19.67" fill="#000"/>
<line x1="252.54" y1="1052.61" x2="252.54" y2="1046.71" stroke="#a9d08e" stroke-width="0.5"/>
<line x1="251.54" y1="1046.71" x2="253.54" y2="1046.71" stroke="#a9d08e" stroke-width="0.5"/>
<rect x="250.84" y="1052.61" width="3.40" height="48.99" fill="#5d9f3a"/>
<line x1="250.14" y1="1101.60" x2="250.14" y2="1104.80" stroke="#333" stroke-width="0.6"/>
<text x="252.54" y="1047.41" font-size="6.8" text-anchor="middle" font-weight="bold" fill="#333">**</text>
<text x="251.34" y="1110.20" font-size="5.8" text-anchor="end" font-weight="bold" fill="#1a1a1a" transform="rotate(-45 251.34 1110.20)">PANC-1</text>
<line x1="260.50" y1="1081.92" x2="260.50" y2="1079.37" stroke="#8a8a8a" stroke-width="0.5"/>
<line x1="259.50" y1="1079.37" x2="261.50" y2="1079.37" stroke="#8a8a8a" stroke-width="0.5"/>
<rect x="258.80" y="1081.92" width="3.40" height="19.67" fill="#000"/>
<line x1="265.30" y1="1058.32" x2="265.30" y2="1055.36" stroke="#a9d08e" stroke-width="0.5"/>
<line x1="264.30" y1="1055.36" x2="266.30" y2="1055.36" stroke="#a9d08e" stroke-width="0.5"/>
<rect x="263.60" y="1058.32" width="3.40" height="43.28" fill="#5d9f3a"/>
<line x1="262.90" y1="1101.60" x2="262.90" y2="1104.80" stroke="#333" stroke-width="0.6"/>
<text x="265.30" y="1056.06" font-size="6.8" text-anchor="middle" font-weight="bold" fill="#333">**</text>
<text x="264.10" y="1110.20" font-size="5.8" text-anchor="end" font-weight="bold" fill="#1a1a1a" transform="rotate(-45 264.10 1110.20)">HeLa</text>
<line x1="273.26" y1="1081.92" x2="273.26" y2="1079.37" stroke="#8a8a8a" stroke-width="0.5"/>
<line x1="272.26" y1="1079.37" x2="274.26" y2="1079.37" stroke="#8a8a8a" stroke-width="0.5"/>
<rect x="271.56" y="1081.92" width="3.40" height="19.67" fill="#000"/>
<line x1="278.06" y1="1062.45" x2="278.06" y2="1058.32" stroke="#a9d08e" stroke-width="0.5"/>
<line x1="277.06" y1="1058.32" x2="279.06" y2="1058.32" stroke="#a9d08e" stroke-width="0.5"/>
<rect x="276.36" y="1062.45" width="3.40" height="39.15" fill="#5d9f3a"/>
<line x1="275.66" y1="1101.60" x2="275.66" y2="1104.80" stroke="#333" stroke-width="0.6"/>
<text x="278.06" y="1059.02" font-size="6.8" text-anchor="middle" font-weight="bold" fill="#333">**</text>
<text x="276.86" y="1110.20" font-size="5.8" text-anchor="end" font-weight="bold" fill="#1a1a1a" transform="rotate(-45 276.86 1110.20)">MCF-7</text>
<line x1="286.02" y1="1081.92" x2="286.02" y2="1079.37" stroke="#8a8a8a" stroke-width="0.5"/>
<line x1="285.02" y1="1079.37" x2="287.02" y2="1079.37" stroke="#8a8a8a" stroke-width="0.5"/>
<rect x="284.32" y="1081.92" width="3.40" height="19.67" fill="#000"/>
<line x1="290.82" y1="1046.12" x2="290.82" y2="1040.41" stroke="#a9d08e" stroke-width="0.5"/>
<line x1="289.82" y1="1040.41" x2="291.82" y2="1040.41" stroke="#a9d08e" stroke-width="0.5"/>
<rect x="289.12" y="1046.12" width="3.40" height="55.48" fill="#5d9f3a"/>
<line x1="288.42" y1="1101.60" x2="288.42" y2="1104.80" stroke="#333" stroke-width="0.6"/>
<text x="290.82" y="1041.11" font-size="6.8" text-anchor="middle" font-weight="bold" fill="#333">**</text>
<text x="289.62" y="1110.20" font-size="5.8" text-anchor="end" font-weight="bold" fill="#1a1a1a" transform="rotate(-45 289.62 1110.20)">MKN-45</text>
<line x1="298.78" y1="1081.92" x2="298.78" y2="1079.37" stroke="#8a8a8a" stroke-width="0.5"/>
<line x1="297.78" y1="1079.37" x2="299.78" y2="1079.37" stroke="#8a8a8a" stroke-width="0.5"/>
<rect x="297.08" y="1081.92" width="3.40" height="19.67" fill="#000"/>
<line x1="303.58" y1="1053.00" x2="303.58" y2="1047.89" stroke="#a9d08e" stroke-width="0.5"/>
<line x1="302.58" y1="1047.89" x2="304.58" y2="1047.89" stroke="#a9d08e" stroke-width="0.5"/>
<rect x="301.88" y="1053.00" width="3.40" height="48.60" fill="#5d9f3a"/>
<line x1="301.18" y1="1101.60" x2="301.18" y2="1104.80" stroke="#333" stroke-width="0.6"/>
<text x="303.58" y="1048.59" font-size="6.8" text-anchor="middle" font-weight="bold" fill="#333">**</text>
<text x="302.38" y="1110.20" font-size="5.8" text-anchor="end" font-weight="bold" fill="#1a1a1a" transform="rotate(-45 302.38 1110.20)">SK-MEL-1</text>
<text x="174.46" y="1097.52" font-size="6.5" font-weight="bold" fill="#000" transform="rotate(-90 174.46 1097.52)">Relative expression of</text>
<text x="182.14" y="1071.68" font-size="6.5" font-weight="bold" fill="#000" transform="rotate(-90 182.14 1071.68)">GPX4</text>
<rect x="195.70" y="1018.70" width="8.70" height="4.00" fill="#000"/>
<text x="208.40" y="1023.04" font-size="6.5" fill="#1a1a1a">IFN-γ+IgG</text>
<rect x="195.70" y="1028.70" width="8.70" height="4.00" fill="#5d9f3a"/>
<text x="208.40" y="1033.04" font-size="6.5" fill="#1a1a1a">IFN-γ+anti-IFN-γ</text>
<text x="325.80" y="1014.00" font-size="17.8" font-weight="bold" fill="#000">K</text>
<path d="M358.5 1023.4V1102.3H473.3M355.1 1102.3H358.5M355.1 1086.5H358.5M355.1 1070.7H358.5M355.1 1055.0H358.5M355.1 1039.2H358.5M355.1 1023.4H358.5" stroke="#333" stroke-width="0.75" fill="none"/>
<text x="354.40" y="1104.42" font-size="5.9" text-anchor="end" font-weight="bold" fill="#000">0</text>
<text x="354.40" y="1088.64" font-size="5.9" text-anchor="end" font-weight="bold" fill="#000">5</text>
<text x="354.40" y="1072.86" font-size="5.9" text-anchor="end" font-weight="bold" fill="#000">10</text>
<text x="354.40" y="1057.08" font-size="5.9" text-anchor="end" font-weight="bold" fill="#000">15</text>
<text x="354.40" y="1041.30" font-size="5.9" text-anchor="end" font-weight="bold" fill="#000">20</text>
<text x="354.40" y="1025.52" font-size="5.9" text-anchor="end" font-weight="bold" fill="#000">25</text>
<line x1="362.40" y1="1075.79" x2="362.40" y2="1073.26" stroke="#8a8a8a" stroke-width="0.5"/>
<line x1="361.40" y1="1073.26" x2="363.40" y2="1073.26" stroke="#8a8a8a" stroke-width="0.5"/>
<rect x="360.70" y="1075.79" width="3.40" height="26.51" fill="#000"/>
<line x1="367.20" y1="1089.36" x2="367.20" y2="1086.84" stroke="#a9d08e" stroke-width="0.5"/>
<line x1="366.20" y1="1086.84" x2="368.20" y2="1086.84" stroke="#a9d08e" stroke-width="0.5"/>
<rect x="365.50" y="1089.36" width="3.40" height="12.94" fill="#5d9f3a"/>
<line x1="364.80" y1="1102.30" x2="364.80" y2="1105.50" stroke="#333" stroke-width="0.6"/>
<text x="367.20" y="1087.54" font-size="6.8" text-anchor="middle" font-weight="bold" fill="#333">**</text>
<text x="366.00" y="1110.90" font-size="5.8" text-anchor="end" font-weight="bold" fill="#1a1a1a" transform="rotate(-45 366.00 1110.90)">HT-29</text>
<line x1="375.16" y1="1051.80" x2="375.16" y2="1046.12" stroke="#8a8a8a" stroke-width="0.5"/>
<line x1="374.16" y1="1046.12" x2="376.16" y2="1046.12" stroke="#8a8a8a" stroke-width="0.5"/>
<rect x="373.46" y="1051.80" width="3.40" height="50.50" fill="#000"/>
<line x1="379.96" y1="1073.26" x2="379.96" y2="1068.85" stroke="#a9d08e" stroke-width="0.5"/>
<line x1="378.96" y1="1068.85" x2="380.96" y2="1068.85" stroke="#a9d08e" stroke-width="0.5"/>
<rect x="378.26" y="1073.26" width="3.40" height="29.04" fill="#5d9f3a"/>
<line x1="377.56" y1="1102.30" x2="377.56" y2="1105.50" stroke="#333" stroke-width="0.6"/>
<text x="379.96" y="1069.55" font-size="6.8" text-anchor="middle" font-weight="bold" fill="#333">**</text>
<text x="378.76" y="1110.90" font-size="5.8" text-anchor="end" font-weight="bold" fill="#1a1a1a" transform="rotate(-45 378.76 1110.90)">HuH-7</text>
<line x1="387.92" y1="1067.90" x2="387.92" y2="1063.17" stroke="#8a8a8a" stroke-width="0.5"/>
<line x1="386.92" y1="1063.17" x2="388.92" y2="1063.17" stroke="#8a8a8a" stroke-width="0.5"/>
<rect x="386.22" y="1067.90" width="3.40" height="34.40" fill="#000"/>
<line x1="392.72" y1="1084.00" x2="392.72" y2="1081.79" stroke="#a9d08e" stroke-width="0.5"/>
<line x1="391.72" y1="1081.79" x2="393.72" y2="1081.79" stroke="#a9d08e" stroke-width="0.5"/>
<rect x="391.02" y="1084.00" width="3.40" height="18.30" fill="#5d9f3a"/>
<line x1="390.32" y1="1102.30" x2="390.32" y2="1105.50" stroke="#333" stroke-width="0.6"/>
<text x="392.72" y="1082.49" font-size="6.8" text-anchor="middle" font-weight="bold" fill="#333">**</text>
<text x="391.52" y="1110.90" font-size="5.8" text-anchor="end" font-weight="bold" fill="#1a1a1a" transform="rotate(-45 391.52 1110.90)">A-498</text>
<line x1="400.68" y1="1081.15" x2="400.68" y2="1078.31" stroke="#8a8a8a" stroke-width="0.5"/>
<line x1="399.68" y1="1078.31" x2="401.68" y2="1078.31" stroke="#8a8a8a" stroke-width="0.5"/>
<rect x="398.98" y="1081.15" width="3.40" height="21.15" fill="#000"/>
<line x1="405.48" y1="1091.89" x2="405.48" y2="1090.31" stroke="#a9d08e" stroke-width="0.5"/>
<line x1="404.48" y1="1090.31" x2="406.48" y2="1090.31" stroke="#a9d08e" stroke-width="0.5"/>
<rect x="403.78" y="1091.89" width="3.40" height="10.41" fill="#5d9f3a"/>
<line x1="403.08" y1="1102.30" x2="403.08" y2="1105.50" stroke="#333" stroke-width="0.6"/>
<text x="405.48" y="1091.01" font-size="6.8" text-anchor="middle" font-weight="bold" fill="#333">**</text>
<text x="404.28" y="1110.90" font-size="5.8" text-anchor="end" font-weight="bold" fill="#1a1a1a" transform="rotate(-45 404.28 1110.90)">A-549</text>
<line x1="413.44" y1="1044.86" x2="413.44" y2="1037.92" stroke="#8a8a8a" stroke-width="0.5"/>
<line x1="412.44" y1="1037.92" x2="414.44" y2="1037.92" stroke="#8a8a8a" stroke-width="0.5"/>
<rect x="411.74" y="1044.86" width="3.40" height="57.44" fill="#000"/>
<line x1="418.24" y1="1074.21" x2="418.24" y2="1069.48" stroke="#a9d08e" stroke-width="0.5"/>
<line x1="417.24" y1="1069.48" x2="419.24" y2="1069.48" stroke="#a9d08e" stroke-width="0.5"/>
<rect x="416.54" y="1074.21" width="3.40" height="28.09" fill="#5d9f3a"/>
<line x1="415.84" y1="1102.30" x2="415.84" y2="1105.50" stroke="#333" stroke-width="0.6"/>
<text x="418.24" y="1070.18" font-size="6.8" text-anchor="middle" font-weight="bold" fill="#333">**</text>
<text x="417.04" y="1110.90" font-size="5.8" text-anchor="end" font-weight="bold" fill="#1a1a1a" transform="rotate(-45 417.04 1110.90)">PANC-1</text>
<line x1="426.20" y1="1054.96" x2="426.20" y2="1049.91" stroke="#8a8a8a" stroke-width="0.5"/>
<line x1="425.20" y1="1049.91" x2="427.20" y2="1049.91" stroke="#8a8a8a" stroke-width="0.5"/>
<rect x="424.50" y="1054.96" width="3.40" height="47.34" fill="#000"/>
<line x1="431.00" y1="1077.68" x2="431.00" y2="1074.84" stroke="#a9d08e" stroke-width="0.5"/>
<line x1="430.00" y1="1074.84" x2="432.00" y2="1074.84" stroke="#a9d08e" stroke-width="0.5"/>
<rect x="429.30" y="1077.68" width="3.40" height="24.62" fill="#5d9f3a"/>
<line x1="428.60" y1="1102.30" x2="428.60" y2="1105.50" stroke="#333" stroke-width="0.6"/>
<text x="431.00" y="1075.54" font-size="6.8" text-anchor="middle" font-weight="bold" fill="#333">**</text>
<text x="429.80" y="1110.90" font-size="5.8" text-anchor="end" font-weight="bold" fill="#1a1a1a" transform="rotate(-45 429.80 1110.90)">HeLa</text>
<line x1="438.96" y1="1069.48" x2="438.96" y2="1065.37" stroke="#8a8a8a" stroke-width="0.5"/>
<line x1="437.96" y1="1065.37" x2="439.96" y2="1065.37" stroke="#8a8a8a" stroke-width="0.5"/>
<rect x="437.26" y="1069.48" width="3.40" height="32.82" fill="#000"/>
<line x1="443.76" y1="1086.84" x2="443.76" y2="1084.00" stroke="#a9d08e" stroke-width="0.5"/>
<line x1="442.76" y1="1084.00" x2="444.76" y2="1084.00" stroke="#a9d08e" stroke-width="0.5"/>
<rect x="442.06" y="1086.84" width="3.40" height="15.46" fill="#5d9f3a"/>
<line x1="441.36" y1="1102.30" x2="441.36" y2="1105.50" stroke="#333" stroke-width="0.6"/>
<text x="443.76" y="1084.70" font-size="6.8" text-anchor="middle" font-weight="bold" fill="#333">**</text>
<text x="442.56" y="1110.90" font-size="5.8" text-anchor="end" font-weight="bold" fill="#1a1a1a" transform="rotate(-45 442.56 1110.90)">MCF-7</text>
<line x1="451.72" y1="1072.32" x2="451.72" y2="1068.53" stroke="#8a8a8a" stroke-width="0.5"/>
<line x1="450.72" y1="1068.53" x2="452.72" y2="1068.53" stroke="#8a8a8a" stroke-width="0.5"/>
<rect x="450.02" y="1072.32" width="3.40" height="29.98" fill="#000"/>
<line x1="456.52" y1="1087.47" x2="456.52" y2="1085.26" stroke="#a9d08e" stroke-width="0.5"/>
<line x1="455.52" y1="1085.26" x2="457.52" y2="1085.26" stroke="#a9d08e" stroke-width="0.5"/>
<rect x="454.82" y="1087.47" width="3.40" height="14.83" fill="#5d9f3a"/>
<line x1="454.12" y1="1102.30" x2="454.12" y2="1105.50" stroke="#333" stroke-width="0.6"/>
<text x="456.52" y="1085.96" font-size="6.8" text-anchor="middle" font-weight="bold" fill="#333">**</text>
<text x="455.32" y="1110.90" font-size="5.8" text-anchor="end" font-weight="bold" fill="#1a1a1a" transform="rotate(-45 455.32 1110.90)">MKN-45</text>
<line x1="464.48" y1="1061.59" x2="464.48" y2="1056.85" stroke="#8a8a8a" stroke-width="0.5"/>
<line x1="463.48" y1="1056.85" x2="465.48" y2="1056.85" stroke="#8a8a8a" stroke-width="0.5"/>
<rect x="462.78" y="1061.59" width="3.40" height="40.71" fill="#000"/>
<line x1="469.28" y1="1083.05" x2="469.28" y2="1080.21" stroke="#a9d08e" stroke-width="0.5"/>
<line x1="468.28" y1="1080.21" x2="470.28" y2="1080.21" stroke="#a9d08e" stroke-width="0.5"/>
<rect x="467.58" y="1083.05" width="3.40" height="19.25" fill="#5d9f3a"/>
<line x1="466.88" y1="1102.30" x2="466.88" y2="1105.50" stroke="#333" stroke-width="0.6"/>
<text x="469.28" y="1080.91" font-size="6.8" text-anchor="middle" font-weight="bold" fill="#333">**</text>
<text x="468.08" y="1110.90" font-size="5.8" text-anchor="end" font-weight="bold" fill="#1a1a1a" transform="rotate(-45 468.08 1110.90)">SK-MEL-1</text>
<text x="345.36" y="1092.84" font-size="6.5" font-weight="bold" fill="#000" transform="rotate(-90 345.36 1092.84)">MDA (μM/g protein)</text>
<rect x="361.20" y="1018.70" width="8.60" height="4.00" fill="#000"/>
<text x="374.00" y="1023.04" font-size="6.5" fill="#1a1a1a">IFN-γ+IgG</text>
<rect x="361.20" y="1028.70" width="8.60" height="4.00" fill="#5d9f3a"/>
<text x="374.00" y="1033.04" font-size="6.5" fill="#1a1a1a">IFN-γ+anti-IFN-γ</text>
<path d="M514.5 1021.7V1100.9H628.2M511.1 1100.9H514.5M511.1 1085.1H514.5M511.1 1069.2H514.5M511.1 1053.4H514.5M511.1 1037.5H514.5M511.1 1021.7H514.5" stroke="#333" stroke-width="0.75" fill="none"/>
<text x="510.40" y="1103.02" font-size="5.9" text-anchor="end" font-weight="bold" fill="#000">0</text>
<text x="510.40" y="1087.18" font-size="5.9" text-anchor="end" font-weight="bold" fill="#000">1</text>
<text x="510.40" y="1071.34" font-size="5.9" text-anchor="end" font-weight="bold" fill="#000">2</text>
<text x="510.40" y="1055.50" font-size="5.9" text-anchor="end" font-weight="bold" fill="#000">3</text>
<text x="510.40" y="1039.66" font-size="5.9" text-anchor="end" font-weight="bold" fill="#000">4</text>
<text x="510.40" y="1023.82" font-size="5.9" text-anchor="end" font-weight="bold" fill="#000">5</text>
<line x1="517.50" y1="1073.02" x2="517.50" y2="1070.01" stroke="#8a8a8a" stroke-width="0.5"/>
<line x1="516.50" y1="1070.01" x2="518.50" y2="1070.01" stroke="#8a8a8a" stroke-width="0.5"/>
<rect x="515.80" y="1073.02" width="3.40" height="27.88" fill="#000"/>
<line x1="522.30" y1="1087.12" x2="522.30" y2="1085.22" stroke="#a9d08e" stroke-width="0.5"/>
<line x1="521.30" y1="1085.22" x2="523.30" y2="1085.22" stroke="#a9d08e" stroke-width="0.5"/>
<rect x="520.60" y="1087.12" width="3.40" height="13.78" fill="#5d9f3a"/>
<line x1="519.90" y1="1100.90" x2="519.90" y2="1104.10" stroke="#333" stroke-width="0.6"/>
<text x="522.30" y="1085.92" font-size="6.8" text-anchor="middle" font-weight="bold" fill="#333">**</text>
<text x="521.10" y="1109.50" font-size="5.8" text-anchor="end" font-weight="bold" fill="#1a1a1a" transform="rotate(-45 521.10 1109.50)">HT-29</text>
<line x1="530.24" y1="1055.28" x2="530.24" y2="1049.74" stroke="#8a8a8a" stroke-width="0.5"/>
<line x1="529.24" y1="1049.74" x2="531.24" y2="1049.74" stroke="#8a8a8a" stroke-width="0.5"/>
<rect x="528.54" y="1055.28" width="3.40" height="45.62" fill="#000"/>
<line x1="535.04" y1="1077.14" x2="535.04" y2="1074.29" stroke="#a9d08e" stroke-width="0.5"/>
<line x1="534.04" y1="1074.29" x2="536.04" y2="1074.29" stroke="#a9d08e" stroke-width="0.5"/>
<rect x="533.34" y="1077.14" width="3.40" height="23.76" fill="#5d9f3a"/>
<line x1="532.64" y1="1100.90" x2="532.64" y2="1104.10" stroke="#333" stroke-width="0.6"/>
<text x="535.04" y="1074.99" font-size="6.8" text-anchor="middle" font-weight="bold" fill="#333">**</text>
<text x="533.84" y="1109.50" font-size="5.8" text-anchor="end" font-weight="bold" fill="#1a1a1a" transform="rotate(-45 533.84 1109.50)">HuH-7</text>
<line x1="542.98" y1="1068.90" x2="542.98" y2="1064.15" stroke="#8a8a8a" stroke-width="0.5"/>
<line x1="541.98" y1="1064.15" x2="543.98" y2="1064.15" stroke="#8a8a8a" stroke-width="0.5"/>
<rect x="541.28" y="1068.90" width="3.40" height="32.00" fill="#000"/>
<line x1="547.78" y1="1082.37" x2="547.78" y2="1080.15" stroke="#a9d08e" stroke-width="0.5"/>
<line x1="546.78" y1="1080.15" x2="548.78" y2="1080.15" stroke="#a9d08e" stroke-width="0.5"/>
<rect x="546.08" y="1082.37" width="3.40" height="18.53" fill="#5d9f3a"/>
<line x1="545.38" y1="1100.90" x2="545.38" y2="1104.10" stroke="#333" stroke-width="0.6"/>
<text x="547.78" y="1080.85" font-size="6.8" text-anchor="middle" font-weight="bold" fill="#333">**</text>
<text x="546.58" y="1109.50" font-size="5.8" text-anchor="end" font-weight="bold" fill="#1a1a1a" transform="rotate(-45 546.58 1109.50)">A-498</text>
<line x1="555.72" y1="1069.54" x2="555.72" y2="1066.05" stroke="#8a8a8a" stroke-width="0.5"/>
<line x1="554.72" y1="1066.05" x2="556.72" y2="1066.05" stroke="#8a8a8a" stroke-width="0.5"/>
<rect x="554.02" y="1069.54" width="3.40" height="31.36" fill="#000"/>
<line x1="560.52" y1="1084.74" x2="560.52" y2="1082.21" stroke="#a9d08e" stroke-width="0.5"/>
<line x1="559.52" y1="1082.21" x2="561.52" y2="1082.21" stroke="#a9d08e" stroke-width="0.5"/>
<rect x="558.82" y="1084.74" width="3.40" height="16.16" fill="#5d9f3a"/>
<line x1="558.12" y1="1100.90" x2="558.12" y2="1104.10" stroke="#333" stroke-width="0.6"/>
<text x="560.52" y="1082.91" font-size="6.8" text-anchor="middle" font-weight="bold" fill="#333">**</text>
<text x="559.32" y="1109.50" font-size="5.8" text-anchor="end" font-weight="bold" fill="#1a1a1a" transform="rotate(-45 559.32 1109.50)">A-549</text>
<line x1="568.46" y1="1045.94" x2="568.46" y2="1039.76" stroke="#8a8a8a" stroke-width="0.5"/>
<line x1="567.46" y1="1039.76" x2="569.46" y2="1039.76" stroke="#8a8a8a" stroke-width="0.5"/>
<rect x="566.76" y="1045.94" width="3.40" height="54.96" fill="#000"/>
<line x1="573.26" y1="1071.91" x2="573.26" y2="1067.79" stroke="#a9d08e" stroke-width="0.5"/>
<line x1="572.26" y1="1067.79" x2="574.26" y2="1067.79" stroke="#a9d08e" stroke-width="0.5"/>
<rect x="571.56" y="1071.91" width="3.40" height="28.99" fill="#5d9f3a"/>
<line x1="570.86" y1="1100.90" x2="570.86" y2="1104.10" stroke="#333" stroke-width="0.6"/>
<text x="573.26" y="1068.49" font-size="6.8" text-anchor="middle" font-weight="bold" fill="#333">**</text>
<text x="572.06" y="1109.50" font-size="5.8" text-anchor="end" font-weight="bold" fill="#1a1a1a" transform="rotate(-45 572.06 1109.50)">PANC-1</text>
<line x1="581.20" y1="1057.18" x2="581.20" y2="1052.59" stroke="#8a8a8a" stroke-width="0.5"/>
<line x1="580.20" y1="1052.59" x2="582.20" y2="1052.59" stroke="#8a8a8a" stroke-width="0.5"/>
<rect x="579.50" y="1057.18" width="3.40" height="43.72" fill="#000"/>
<line x1="586.00" y1="1079.83" x2="586.00" y2="1077.14" stroke="#a9d08e" stroke-width="0.5"/>
<line x1="585.00" y1="1077.14" x2="587.00" y2="1077.14" stroke="#a9d08e" stroke-width="0.5"/>
<rect x="584.30" y="1079.83" width="3.40" height="21.07" fill="#5d9f3a"/>
<line x1="583.60" y1="1100.90" x2="583.60" y2="1104.10" stroke="#333" stroke-width="0.6"/>
<text x="586.00" y="1077.84" font-size="6.8" text-anchor="middle" font-weight="bold" fill="#333">**</text>
<text x="584.80" y="1109.50" font-size="5.8" text-anchor="end" font-weight="bold" fill="#1a1a1a" transform="rotate(-45 584.80 1109.50)">HeLa</text>
<line x1="593.94" y1="1076.66" x2="593.94" y2="1073.50" stroke="#8a8a8a" stroke-width="0.5"/>
<line x1="592.94" y1="1073.50" x2="594.94" y2="1073.50" stroke="#8a8a8a" stroke-width="0.5"/>
<rect x="592.24" y="1076.66" width="3.40" height="24.24" fill="#000"/>
<line x1="598.74" y1="1088.23" x2="598.74" y2="1086.01" stroke="#a9d08e" stroke-width="0.5"/>
<line x1="597.74" y1="1086.01" x2="599.74" y2="1086.01" stroke="#a9d08e" stroke-width="0.5"/>
<rect x="597.04" y="1088.23" width="3.40" height="12.67" fill="#5d9f3a"/>
<line x1="596.34" y1="1100.90" x2="596.34" y2="1104.10" stroke="#333" stroke-width="0.6"/>
<text x="598.74" y="1086.71" font-size="6.8" text-anchor="middle" font-weight="bold" fill="#333">**</text>
<text x="597.54" y="1109.50" font-size="5.8" text-anchor="end" font-weight="bold" fill="#1a1a1a" transform="rotate(-45 597.54 1109.50)">MCF-7</text>
<line x1="606.68" y1="1064.94" x2="606.68" y2="1060.19" stroke="#8a8a8a" stroke-width="0.5"/>
<line x1="605.68" y1="1060.19" x2="607.68" y2="1060.19" stroke="#8a8a8a" stroke-width="0.5"/>
<rect x="604.98" y="1064.94" width="3.40" height="35.96" fill="#000"/>
<line x1="611.48" y1="1081.10" x2="611.48" y2="1078.25" stroke="#a9d08e" stroke-width="0.5"/>
<line x1="610.48" y1="1078.25" x2="612.48" y2="1078.25" stroke="#a9d08e" stroke-width="0.5"/>
<rect x="609.78" y="1081.10" width="3.40" height="19.80" fill="#5d9f3a"/>
<line x1="609.08" y1="1100.90" x2="609.08" y2="1104.10" stroke="#333" stroke-width="0.6"/>
<text x="611.48" y="1078.95" font-size="6.8" text-anchor="middle" font-weight="bold" fill="#333">**</text>
<text x="610.28" y="1109.50" font-size="5.8" text-anchor="end" font-weight="bold" fill="#1a1a1a" transform="rotate(-45 610.28 1109.50)">MKN-45</text>
<line x1="619.42" y1="1077.77" x2="619.42" y2="1074.29" stroke="#8a8a8a" stroke-width="0.5"/>
<line x1="618.42" y1="1074.29" x2="620.42" y2="1074.29" stroke="#8a8a8a" stroke-width="0.5"/>
<rect x="617.72" y="1077.77" width="3.40" height="23.13" fill="#000"/>
<line x1="624.22" y1="1091.71" x2="624.22" y2="1089.97" stroke="#a9d08e" stroke-width="0.5"/>
<line x1="623.22" y1="1089.97" x2="625.22" y2="1089.97" stroke="#a9d08e" stroke-width="0.5"/>
<rect x="622.52" y="1091.71" width="3.40" height="9.19" fill="#5d9f3a"/>
<line x1="621.82" y1="1100.90" x2="621.82" y2="1104.10" stroke="#333" stroke-width="0.6"/>
<text x="624.22" y="1090.67" font-size="6.8" text-anchor="middle" font-weight="bold" fill="#333">**</text>
<text x="623.02" y="1109.50" font-size="5.8" text-anchor="end" font-weight="bold" fill="#1a1a1a" transform="rotate(-45 623.02 1109.50)">SK-MEL-1</text>
<text x="503.06" y="1090.27" font-size="6.5" font-weight="bold" fill="#000" transform="rotate(-90 503.06 1090.27)">LPO (M/g protein)</text>
<rect x="521.20" y="1018.70" width="8.60" height="4.00" fill="#000"/>
<text x="534.00" y="1023.04" font-size="6.5" fill="#1a1a1a">IFN-γ+IgG</text>
<rect x="521.20" y="1028.70" width="8.60" height="4.00" fill="#5d9f3a"/>
<text x="534.00" y="1033.04" font-size="6.5" fill="#1a1a1a">IFN-γ+anti-IFN-γ</text>
</svg>
</body></html>
